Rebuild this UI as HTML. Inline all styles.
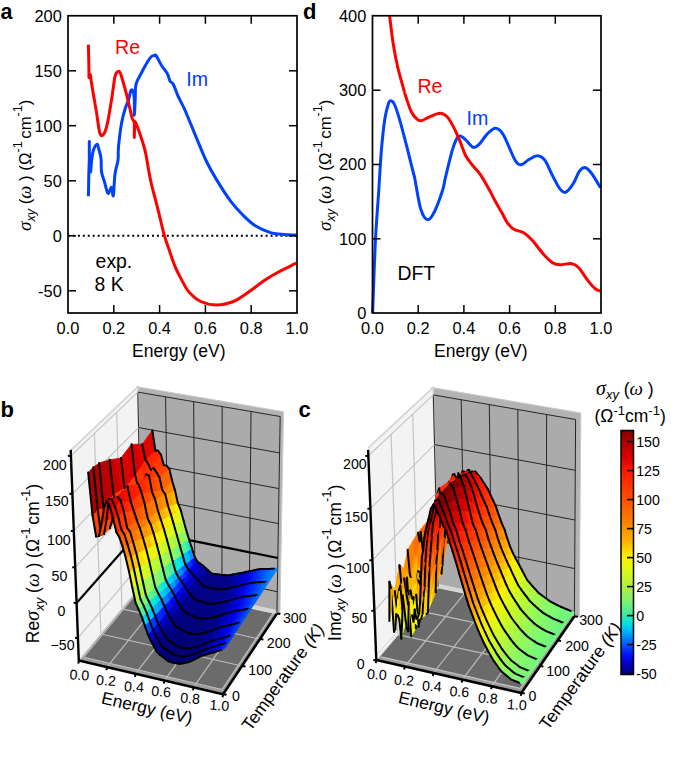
<!DOCTYPE html><html><head><meta charset="utf-8"><style>html,body{margin:0;padding:0;background:#fff;}svg{display:block;font-family:"Liberation Sans",sans-serif;}</style></head><body><svg width="685" height="774" viewBox="0 0 685 774" font-family='Liberation Sans'>
<rect width="685" height="774" fill="#fff"/>
<line x1="68.0" y1="235.75" x2="297.0" y2="235.75" stroke="#000" stroke-width="1.8" stroke-dasharray="2,2.94"/>
<path d="M88.4,196.2 C88.5,192.7 88.7,181.0 88.8,175.0 C88.9,169.0 89.2,165.6 89.3,160.0 C89.4,154.4 89.2,140.7 89.3,141.5 C89.3,142.3 89.4,159.9 89.6,165.0 C89.8,170.1 90.2,172.8 90.5,172.0 C90.8,171.2 91.2,163.7 91.7,160.0 C92.2,156.3 92.6,152.6 93.5,150.0 C94.4,147.4 96.1,144.7 96.9,144.4 C97.7,144.1 97.8,145.7 98.5,148.0 C99.2,150.3 100.5,154.5 101.0,158.4 C101.5,162.3 100.9,167.8 101.5,171.7 C102.1,175.6 103.4,178.4 104.5,182.0 C105.6,185.6 106.8,192.4 108.0,193.3 C109.2,194.2 110.6,187.0 111.5,187.4 C112.4,187.8 112.7,197.8 113.3,195.6 C113.9,193.4 114.2,179.9 115.0,174.0 C115.8,168.1 117.4,164.6 118.0,160.0 C118.6,155.4 117.9,152.8 118.5,146.7 C119.1,140.6 120.4,129.6 121.5,123.4 C122.6,117.2 123.8,113.2 125.0,109.3 C126.2,105.4 127.5,103.1 128.5,100.0 C129.5,96.9 130.0,92.2 130.8,90.7 C131.6,89.2 132.5,89.8 133.1,91.3 C133.7,92.8 134.1,96.0 134.3,100.0 C134.5,104.0 134.2,115.2 134.3,115.2 C134.5,115.2 134.9,105.2 135.2,100.0 C135.5,94.8 134.9,89.0 136.0,84.3 C137.1,79.6 140.0,75.8 141.9,72.0 C143.8,68.2 146.1,64.1 147.7,61.5 C149.3,58.9 150.4,57.5 151.5,56.5 C152.6,55.5 153.7,55.5 154.5,55.4 C155.3,55.3 155.1,54.1 156.3,55.8 C157.5,57.5 159.8,62.7 161.7,65.7 C163.6,68.7 166.1,71.4 167.5,73.9 C168.9,76.4 168.9,79.2 169.9,80.9 C170.9,82.7 172.1,81.9 173.4,84.4 C174.8,86.9 176.2,92.1 178.0,96.0 C179.8,99.9 182.1,103.8 183.9,107.8 C185.8,111.8 187.1,115.2 189.1,120.0 C191.1,124.8 192.9,129.5 195.8,136.3 C198.7,143.1 202.5,153.2 206.3,161.0 C210.1,168.8 214.4,176.2 218.5,182.9 C222.6,189.6 226.7,195.9 230.8,201.3 C234.9,206.7 239.0,211.2 243.1,215.3 C247.2,219.4 250.6,222.9 255.3,225.8 C260.0,228.7 266.1,231.4 271.1,232.9 C276.1,234.4 280.9,234.2 285.1,234.6 C289.3,234.9 294.6,234.9 296.5,235.0" fill="none" stroke="#0040ff" stroke-width="3" stroke-linejoin="round" stroke-linecap="butt"/>
<path d="M88.4,44.6 C88.5,48.5 88.8,62.5 88.9,68.0 C89.0,73.5 88.9,76.5 89.0,77.5 C89.1,78.5 89.3,74.2 89.6,74.0 C89.9,73.8 90.3,75.0 90.6,76.0 C90.8,77.0 90.6,77.0 91.1,80.2 C91.6,83.4 92.6,89.8 93.5,95.0 C94.4,100.2 95.3,105.3 96.4,111.7 C97.5,118.1 98.7,129.6 99.9,133.3 C101.2,137.0 102.7,135.6 103.9,133.9 C105.2,132.2 106.1,129.1 107.4,123.4 C108.7,117.8 110.2,107.8 111.5,100.0 C112.8,92.2 113.9,81.5 115.0,76.7 C116.1,72.0 117.1,72.1 118.0,71.5 C118.9,70.9 119.3,71.0 120.3,73.2 C121.3,75.5 122.7,80.5 124.0,85.0 C125.3,89.5 126.6,94.6 127.9,100.0 C129.2,105.4 131.1,114.0 132.0,117.5 C132.9,121.0 133.2,120.2 133.6,121.0 C134.0,121.8 134.2,119.5 134.3,122.2 C134.4,124.9 134.2,137.1 134.3,137.4 C134.4,137.7 134.5,126.3 134.8,124.0 C135.1,121.7 134.6,120.2 136.0,123.4 C137.4,126.6 141.3,137.9 143.0,143.2 C144.7,148.5 144.8,148.9 146.0,155.0 C147.2,161.1 148.8,171.9 150.5,180.0 C152.2,188.1 154.7,196.4 156.4,203.4 C158.2,210.4 159.7,216.6 161.0,222.0 C162.3,227.4 163.1,231.3 164.5,236.0 C165.9,240.7 167.4,244.9 169.2,250.0 C170.9,255.1 172.9,261.3 175.0,266.4 C177.1,271.5 179.7,276.2 182.0,280.5 C184.3,284.8 185.9,288.6 189.0,292.1 C192.1,295.6 196.0,299.4 200.7,301.5 C205.4,303.6 211.6,305.0 217.1,305.0 C222.6,305.0 228.8,303.2 233.5,301.5 C238.2,299.8 239.7,298.2 245.1,294.5 C250.5,290.8 260.3,283.2 266.2,279.3 C272.1,275.4 275.2,273.8 280.2,271.1 C285.2,268.4 293.6,264.4 296.3,263.0" fill="none" stroke="#ff0000" stroke-width="3" stroke-linejoin="round" stroke-linecap="butt"/>
<rect x="68.0" y="15.75" width="229.0" height="297.25" fill="none" stroke="#000" stroke-width="1.7"/>
<line x1="113.8" y1="313.0" x2="113.8" y2="305.0" stroke="#000" stroke-width="1.5"/>
<line x1="113.8" y1="15.75" x2="113.8" y2="23.75" stroke="#000" stroke-width="1.5"/>
<line x1="159.6" y1="313.0" x2="159.6" y2="305.0" stroke="#000" stroke-width="1.5"/>
<line x1="159.6" y1="15.75" x2="159.6" y2="23.75" stroke="#000" stroke-width="1.5"/>
<line x1="205.4" y1="313.0" x2="205.4" y2="305.0" stroke="#000" stroke-width="1.5"/>
<line x1="205.4" y1="15.75" x2="205.4" y2="23.75" stroke="#000" stroke-width="1.5"/>
<line x1="251.2" y1="313.0" x2="251.2" y2="305.0" stroke="#000" stroke-width="1.5"/>
<line x1="251.2" y1="15.75" x2="251.2" y2="23.75" stroke="#000" stroke-width="1.5"/>
<line x1="68.0" y1="70.8" x2="76.0" y2="70.8" stroke="#000" stroke-width="1.5"/>
<line x1="68.0" y1="125.7" x2="76.0" y2="125.7" stroke="#000" stroke-width="1.5"/>
<line x1="68.0" y1="180.8" x2="76.0" y2="180.8" stroke="#000" stroke-width="1.5"/>
<line x1="68.0" y1="235.8" x2="76.0" y2="235.8" stroke="#000" stroke-width="1.5"/>
<line x1="68.0" y1="290.8" x2="76.0" y2="290.8" stroke="#000" stroke-width="1.5"/>
<line x1="297.0" y1="70.8" x2="289.0" y2="70.8" stroke="#000" stroke-width="1.5"/>
<line x1="297.0" y1="125.7" x2="289.0" y2="125.7" stroke="#000" stroke-width="1.5"/>
<line x1="297.0" y1="180.8" x2="289.0" y2="180.8" stroke="#000" stroke-width="1.5"/>
<line x1="297.0" y1="235.8" x2="289.0" y2="235.8" stroke="#000" stroke-width="1.5"/>
<line x1="297.0" y1="290.8" x2="289.0" y2="290.8" stroke="#000" stroke-width="1.5"/>
<text x="61.8" y="21.6" font-size="16.4" text-anchor="end" fill="#000" >200</text>
<text x="61.8" y="76.7" font-size="16.4" text-anchor="end" fill="#000" >150</text>
<text x="61.8" y="131.6" font-size="16.4" text-anchor="end" fill="#000" >100</text>
<text x="61.8" y="186.7" font-size="16.4" text-anchor="end" fill="#000" >50</text>
<text x="61.8" y="241.7" font-size="16.4" text-anchor="end" fill="#000" >0</text>
<text x="61.8" y="296.6" font-size="16.4" text-anchor="end" fill="#000" >-50</text>
<text x="68.0" y="334.2" font-size="16.4" text-anchor="middle" fill="#000" >0.0</text>
<text x="113.8" y="334.2" font-size="16.4" text-anchor="middle" fill="#000" >0.2</text>
<text x="159.6" y="334.2" font-size="16.4" text-anchor="middle" fill="#000" >0.4</text>
<text x="205.4" y="334.2" font-size="16.4" text-anchor="middle" fill="#000" >0.6</text>
<text x="251.2" y="334.2" font-size="16.4" text-anchor="middle" fill="#000" >0.8</text>
<text x="297.0" y="334.2" font-size="16.4" text-anchor="middle" fill="#000" >1.0</text>
<text x="178.8" y="356.8" font-size="17.5" text-anchor="middle" fill="#000" >Energy (eV)</text>
<text x="115.0" y="54.2" font-size="19.6" text-anchor="start" fill="#ff0000" >Re</text>
<text x="186.2" y="86.3" font-size="19.6" text-anchor="start" fill="#0040ff" >Im</text>
<text x="95.6" y="267.8" font-size="19.4" text-anchor="start" fill="#000" >exp.</text>
<text x="94.6" y="291.0" font-size="19.4" text-anchor="start" fill="#000" >8 K</text>
<path d="M372.6,313.0 C373.1,301.3 374.3,263.1 375.3,242.6 C376.3,222.1 377.8,205.4 378.8,190.0 C379.8,174.6 380.4,162.0 381.4,150.1 C382.4,138.2 383.7,126.2 384.9,118.5 C386.1,110.8 387.4,106.7 388.4,103.7 C389.4,100.7 390.0,100.6 391.0,100.7 C392.0,100.8 393.0,101.2 394.5,104.5 C396.0,107.8 397.8,113.3 399.8,120.3 C401.9,127.3 404.5,137.5 406.8,146.6 C409.1,155.7 412.5,169.4 413.8,174.6 C415.1,179.8 413.5,172.2 414.7,178.0 C415.9,183.8 418.6,202.3 420.8,209.3 C423.0,216.3 425.5,219.5 427.8,219.8 C430.1,220.1 432.3,216.0 434.8,211.0 C437.3,206.0 440.9,195.5 442.7,190.0 C444.4,184.5 443.7,184.8 445.3,178.1 C446.9,171.4 450.4,156.7 452.3,150.1 C454.2,143.5 455.4,141.0 456.7,138.7 C458.0,136.4 458.7,135.9 460.2,136.1 C461.7,136.2 463.3,137.7 465.5,139.6 C467.7,141.5 471.1,146.7 473.4,147.4 C475.7,148.1 477.2,146.2 479.5,143.9 C481.8,141.6 484.6,136.4 487.3,133.8 C490.0,131.2 492.9,128.3 495.5,128.3 C498.1,128.3 500.5,130.6 502.8,133.8 C505.1,137.0 507.1,142.9 509.2,147.4 C511.3,151.9 513.6,158.2 515.6,161.1 C517.6,164.0 518.8,165.1 521.1,164.8 C523.4,164.5 526.6,160.8 529.3,159.3 C532.0,157.8 534.9,155.5 537.5,155.7 C540.1,155.8 542.2,156.7 544.8,160.2 C547.4,163.7 550.4,171.7 553.0,176.6 C555.6,181.5 558.2,186.8 560.3,189.4 C562.4,192.0 563.7,193.1 565.8,192.2 C567.9,191.3 570.8,187.4 573.1,183.9 C575.4,180.4 577.5,173.9 579.5,171.2 C581.5,168.5 582.9,167.2 584.9,167.5 C586.9,167.8 588.7,169.7 591.3,173.0 C593.9,176.3 598.9,185.2 600.4,187.6" fill="none" stroke="#0040ff" stroke-width="3" stroke-linejoin="round"/>
<path d="M389.6,15.8 C390.2,20.7 392.0,36.2 393.4,45.0 C394.8,53.8 396.2,60.9 398.0,68.4 C399.8,75.9 402.7,85.7 403.9,90.0 C405.1,94.3 403.8,90.4 405.0,94.0 C406.2,97.6 409.1,107.3 411.2,111.5 C413.2,115.7 415.6,117.9 417.3,119.4 C419.1,120.9 419.6,121.0 421.7,120.6 C423.8,120.2 426.5,118.0 429.6,116.8 C432.7,115.6 437.2,113.3 440.1,113.3 C443.0,113.3 444.9,114.6 447.1,116.8 C449.3,119.0 451.2,122.6 453.2,126.4 C455.2,130.2 457.2,134.8 459.3,139.6 C461.4,144.4 463.4,151.2 465.5,155.3 C467.6,159.4 469.1,160.9 471.6,164.1 C474.1,167.3 477.5,170.4 480.4,174.6 C483.3,178.8 486.7,185.2 489.1,189.4 C491.5,193.6 492.5,196.1 494.6,200.0 C496.7,203.9 499.8,209.0 501.9,212.8 C504.0,216.6 505.4,220.1 507.4,222.8 C509.4,225.5 511.1,227.5 513.8,229.2 C516.5,230.9 520.6,230.8 523.8,232.8 C527.0,234.8 529.5,237.4 532.9,241.1 C536.2,244.8 540.5,251.0 543.9,254.7 C547.2,258.3 550.3,261.3 553.0,263.0 C555.7,264.7 557.3,264.7 560.3,264.8 C563.3,264.9 568.2,263.1 571.2,263.5 C574.2,263.9 575.8,264.7 578.5,267.5 C581.2,270.3 585.0,276.8 587.7,280.3 C590.5,283.8 592.9,286.7 595.0,288.5 C597.1,290.3 599.5,290.8 600.4,291.2" fill="none" stroke="#ff0000" stroke-width="3" stroke-linejoin="round"/>
<rect x="372.5" y="15.75" width="228.5" height="297.25" fill="none" stroke="#000" stroke-width="1.7"/>
<line x1="418.2" y1="313.0" x2="418.2" y2="305.0" stroke="#000" stroke-width="1.5"/>
<line x1="418.2" y1="15.75" x2="418.2" y2="23.75" stroke="#000" stroke-width="1.5"/>
<line x1="463.9" y1="313.0" x2="463.9" y2="305.0" stroke="#000" stroke-width="1.5"/>
<line x1="463.9" y1="15.75" x2="463.9" y2="23.75" stroke="#000" stroke-width="1.5"/>
<line x1="509.6" y1="313.0" x2="509.6" y2="305.0" stroke="#000" stroke-width="1.5"/>
<line x1="509.6" y1="15.75" x2="509.6" y2="23.75" stroke="#000" stroke-width="1.5"/>
<line x1="555.3" y1="313.0" x2="555.3" y2="305.0" stroke="#000" stroke-width="1.5"/>
<line x1="555.3" y1="15.75" x2="555.3" y2="23.75" stroke="#000" stroke-width="1.5"/>
<line x1="372.5" y1="90.2" x2="380.5" y2="90.2" stroke="#000" stroke-width="1.5"/>
<line x1="372.5" y1="164.5" x2="380.5" y2="164.5" stroke="#000" stroke-width="1.5"/>
<line x1="372.5" y1="238.8" x2="380.5" y2="238.8" stroke="#000" stroke-width="1.5"/>
<line x1="601.0" y1="90.2" x2="593.0" y2="90.2" stroke="#000" stroke-width="1.5"/>
<line x1="601.0" y1="164.5" x2="593.0" y2="164.5" stroke="#000" stroke-width="1.5"/>
<line x1="601.0" y1="238.8" x2="593.0" y2="238.8" stroke="#000" stroke-width="1.5"/>
<text x="366.3" y="21.9" font-size="16.4" text-anchor="end" fill="#000" >400</text>
<text x="366.3" y="96.1" font-size="16.4" text-anchor="end" fill="#000" >300</text>
<text x="366.3" y="170.4" font-size="16.4" text-anchor="end" fill="#000" >200</text>
<text x="366.3" y="244.7" font-size="16.4" text-anchor="end" fill="#000" >100</text>
<text x="366.3" y="318.9" font-size="16.4" text-anchor="end" fill="#000" >0</text>
<text x="372.5" y="334.2" font-size="16.4" text-anchor="middle" fill="#000" >0.0</text>
<text x="418.2" y="334.2" font-size="16.4" text-anchor="middle" fill="#000" >0.2</text>
<text x="463.9" y="334.2" font-size="16.4" text-anchor="middle" fill="#000" >0.4</text>
<text x="509.6" y="334.2" font-size="16.4" text-anchor="middle" fill="#000" >0.6</text>
<text x="555.3" y="334.2" font-size="16.4" text-anchor="middle" fill="#000" >0.8</text>
<text x="601.0" y="334.2" font-size="16.4" text-anchor="middle" fill="#000" >1.0</text>
<text x="480.8" y="356.8" font-size="17.5" text-anchor="middle" fill="#000" >Energy (eV)</text>
<text x="417.4" y="92.5" font-size="19.6" text-anchor="start" fill="#ff0000" >Re</text>
<text x="466.5" y="124.9" font-size="19.6" text-anchor="start" fill="#0040ff" >Im</text>
<text x="397.5" y="280.2" font-size="19.4" text-anchor="start" fill="#000" >DFT</text>
<text x="0.4" y="19.4" font-size="21.5" font-weight="bold">a</text>
<text x="303" y="19.4" font-size="22" font-weight="bold">d</text>
<text transform="translate(30.8,165.3) rotate(-90)" text-anchor="middle" font-size="16.8"><tspan font-family='Liberation Serif' font-style="italic" font-size="19.3">σ</tspan><tspan font-style="italic" font-size="12.6" dy="4.1">xy</tspan><tspan dy="-4.1"> (</tspan><tspan font-family='Liberation Serif' font-style="italic" font-size="18.5">ω</tspan><tspan> ) (Ω</tspan><tspan font-size="12.6" dy="-9.2">-1</tspan><tspan dy="9.2" dx="2.6">cm</tspan><tspan font-size="12.6" dy="-9.2">-1</tspan><tspan dy="9.2">)</tspan></text>
<text transform="translate(331.0,165.3) rotate(-90)" text-anchor="middle" font-size="16.8"><tspan font-family='Liberation Serif' font-style="italic" font-size="19.3">σ</tspan><tspan font-style="italic" font-size="12.6" dy="4.1">xy</tspan><tspan dy="-4.1"> (</tspan><tspan font-family='Liberation Serif' font-style="italic" font-size="18.5">ω</tspan><tspan> ) (Ω</tspan><tspan font-size="12.6" dy="-9.2">-1</tspan><tspan dy="9.2" dx="2.6">cm</tspan><tspan font-size="12.6" dy="-9.2">-1</tspan><tspan dy="9.2">)</tspan></text>
<polygon points="140.2,584.4 279.9,614.3 283.5,411.7 136.1,386.6" fill="#b3b3b3"/>
<polygon points="141.8,584.8 276.9,613.6 280.2,416.5 137.8,392.1" fill="#ababab"/>
<polyline points="136.1,386.6 283.5,411.7 279.9,614.3" fill="none" stroke="#c8c8c8" stroke-width="1"/>
<polygon points="78.8,660.6 141.8,584.8 137.7,386.8 70.7,450.3" fill="#f3f3f3"/>
<polyline points="70.7,450.3 137.7,386.8 141.8,584.8" fill="none" stroke="#d4d4d4" stroke-width="1.6"/>
<polygon points="78.8,660.6 223.1,694.3 276.9,613.6 141.8,584.8" fill="#6b6b6b"/>
<polygon points="78.8,660.6 223.1,694.3 225.8,690.4 81.9,656.9" fill="#9a9a9a"/>
<polygon points="219.4,693.4 223.1,694.3 276.9,613.6 273.4,612.9" fill="#9a9a9a"/>
<polyline points="83.6,657.3 222.0,689.5 273.4,612.9" fill="none" stroke="#c4c4c4" stroke-width="1.1"/>
<polygon points="141.8,584.8 276.9,613.6 276.9,609.9 141.7,581.1" fill="#d6d6d6"/>
<polyline points="83.6,657.3 143.4,585.1" fill="none" stroke="#bdbdbd" stroke-width="1.1"/>
<line x1="141.8" y1="584.8" x2="137.8" y2="392.1" stroke="#262626" stroke-width="1"/>
<line x1="168.2" y1="590.4" x2="165.6" y2="396.9" stroke="#262626" stroke-width="1"/>
<line x1="194.9" y1="596.1" x2="193.7" y2="401.7" stroke="#262626" stroke-width="1"/>
<line x1="221.9" y1="601.9" x2="222.2" y2="406.6" stroke="#262626" stroke-width="1"/>
<line x1="249.2" y1="607.7" x2="251.0" y2="411.5" stroke="#262626" stroke-width="1"/>
<line x1="276.9" y1="613.6" x2="280.2" y2="416.5" stroke="#262626" stroke-width="1"/>
<line x1="141.3" y1="563.3" x2="277.2" y2="591.7" stroke="#262626" stroke-width="1"/>
<line x1="140.0" y1="496.7" x2="278.4" y2="523.6" stroke="#262626" stroke-width="1"/>
<line x1="139.3" y1="462.5" x2="279.0" y2="488.6" stroke="#262626" stroke-width="1"/>
<line x1="138.6" y1="427.6" x2="279.6" y2="452.9" stroke="#262626" stroke-width="1"/>
<line x1="137.8" y1="392.1" x2="280.2" y2="416.5" stroke="#262626" stroke-width="1"/>
<line x1="100.9" y1="634.0" x2="94.4" y2="433.5" stroke="#c4c4c4" stroke-width="1.2"/>
<line x1="121.9" y1="608.8" x2="116.7" y2="412.3" stroke="#c4c4c4" stroke-width="1.2"/>
<line x1="78.0" y1="637.9" x2="141.3" y2="563.3" stroke="#c4c4c4" stroke-width="1.2"/>
<line x1="75.2" y1="567.3" x2="140.0" y2="496.7" stroke="#c4c4c4" stroke-width="1.2"/>
<line x1="73.8" y1="530.9" x2="139.3" y2="462.5" stroke="#c4c4c4" stroke-width="1.2"/>
<line x1="72.4" y1="493.8" x2="138.6" y2="427.6" stroke="#c4c4c4" stroke-width="1.2"/>
<line x1="70.9" y1="455.9" x2="137.8" y2="392.1" stroke="#c4c4c4" stroke-width="1.2"/>
<line x1="107.0" y1="667.2" x2="168.2" y2="590.4" stroke="#bcbcbc" stroke-width="1.2"/>
<line x1="135.5" y1="673.8" x2="194.9" y2="596.1" stroke="#bcbcbc" stroke-width="1.2"/>
<line x1="164.3" y1="680.6" x2="221.9" y2="601.9" stroke="#bcbcbc" stroke-width="1.2"/>
<line x1="193.5" y1="687.4" x2="249.2" y2="607.7" stroke="#bcbcbc" stroke-width="1.2"/>
<line x1="100.9" y1="634.0" x2="242.0" y2="666.0" stroke="#bcbcbc" stroke-width="1.2"/>
<line x1="121.9" y1="608.8" x2="259.9" y2="639.1" stroke="#bcbcbc" stroke-width="1.2"/>
<polyline points="78.8,660.6 141.8,584.8 276.9,613.6" fill="none" stroke="#d8d8d8" stroke-width="1.4"/>
<polyline points="80.2,659.9 223.0,693.3 275.7,614.2" fill="none" stroke="#a8a8a8" stroke-width="1.2"/>
<polyline points="76.6,602.9 140.7,530.3 277.8,558.0" fill="none" stroke="#000" stroke-width="2.2"/>
<polygon points="190.0,560.4 192.7,565.6 197.4,561.8 194.6,556.7" fill="#0014f3" stroke="#0014f3" stroke-width="0.7" stroke-linejoin="round"/>
<line x1="194.6" y1="556.7" x2="197.4" y2="561.8" stroke="#000" stroke-width="2.0" stroke-linecap="round"/>
<polygon points="192.7,565.6 195.5,567.8 200.1,563.5 197.4,561.8" fill="#0000d6" stroke="#0000d6" stroke-width="0.7" stroke-linejoin="round"/>
<line x1="197.4" y1="561.8" x2="200.1" y2="563.5" stroke="#000" stroke-width="2.0" stroke-linecap="round"/>
<polygon points="195.5,567.8 198.2,570.3 202.8,565.5 200.1,563.5" fill="#0000c3" stroke="#0000c3" stroke-width="0.7" stroke-linejoin="round"/>
<line x1="200.1" y1="563.5" x2="202.8" y2="565.5" stroke="#000" stroke-width="2.0" stroke-linecap="round"/>
<polygon points="187.2,551.3 190.0,560.4 194.6,556.7 191.9,548.2" fill="#0094fe" stroke="#0094fe" stroke-width="0.7" stroke-linejoin="round"/>
<line x1="191.9" y1="548.2" x2="194.6" y2="556.7" stroke="#000" stroke-width="2.0" stroke-linecap="round"/>
<polygon points="198.2,570.3 201.0,573.2 205.5,568.0 202.8,565.5" fill="#0000ae" stroke="#0000ae" stroke-width="0.7" stroke-linejoin="round"/>
<line x1="202.8" y1="565.5" x2="205.5" y2="568.0" stroke="#000" stroke-width="2.0" stroke-linecap="round"/>
<polygon points="201.0,573.2 203.7,576.1 208.3,570.4 205.5,568.0" fill="#00009a" stroke="#00009a" stroke-width="0.7" stroke-linejoin="round"/>
<line x1="205.5" y1="568.0" x2="208.3" y2="570.4" stroke="#000" stroke-width="2.0" stroke-linecap="round"/>
<polygon points="203.7,576.1 206.4,578.8 211.0,572.9 208.3,570.4" fill="#00008b" stroke="#00008b" stroke-width="0.7" stroke-linejoin="round"/>
<line x1="208.3" y1="570.4" x2="211.0" y2="572.9" stroke="#000" stroke-width="2.0" stroke-linecap="round"/>
<polygon points="184.4,542.1 187.2,551.3 191.9,548.2 189.1,539.6" fill="#1fedc4" stroke="#1fedc4" stroke-width="0.7" stroke-linejoin="round"/>
<line x1="189.1" y1="539.6" x2="191.9" y2="548.2" stroke="#000" stroke-width="2.0" stroke-linecap="round"/>
<polygon points="206.4,578.8 209.2,580.3 213.7,574.1 211.0,572.9" fill="#000087" stroke="#000087" stroke-width="0.7" stroke-linejoin="round"/>
<line x1="211.0" y1="572.9" x2="213.7" y2="574.1" stroke="#000" stroke-width="2.0" stroke-linecap="round"/>
<polygon points="181.5,532.6 184.4,542.1 189.1,539.6 186.3,530.4" fill="#86fa6a" stroke="#86fa6a" stroke-width="0.7" stroke-linejoin="round"/>
<line x1="186.3" y1="530.4" x2="189.1" y2="539.6" stroke="#000" stroke-width="2.0" stroke-linecap="round"/>
<polygon points="209.2,580.3 211.9,580.8 216.5,574.3 213.7,574.1" fill="#000087" stroke="#000087" stroke-width="0.7" stroke-linejoin="round"/>
<line x1="213.7" y1="574.1" x2="216.5" y2="574.3" stroke="#000" stroke-width="2.0" stroke-linecap="round"/>
<polygon points="211.9,580.8 214.7,581.2 219.2,574.6 216.5,574.3" fill="#000087" stroke="#000087" stroke-width="0.7" stroke-linejoin="round"/>
<line x1="216.5" y1="574.3" x2="219.2" y2="574.6" stroke="#000" stroke-width="2.0" stroke-linecap="round"/>
<polygon points="178.7,522.5 181.5,532.6 186.3,530.4 183.5,520.5" fill="#b3fa3e" stroke="#b3fa3e" stroke-width="0.7" stroke-linejoin="round"/>
<line x1="183.5" y1="520.5" x2="186.3" y2="530.4" stroke="#000" stroke-width="2.0" stroke-linecap="round"/>
<polygon points="214.7,581.2 217.4,581.6 221.9,574.9 219.2,574.6" fill="#000088" stroke="#000088" stroke-width="0.7" stroke-linejoin="round"/>
<line x1="219.2" y1="574.6" x2="221.9" y2="574.9" stroke="#000" stroke-width="2.0" stroke-linecap="round"/>
<polygon points="175.9,512.5 178.7,522.5 183.5,520.5 180.7,510.1" fill="#ddf91a" stroke="#ddf91a" stroke-width="0.7" stroke-linejoin="round"/>
<line x1="180.7" y1="510.1" x2="183.5" y2="520.5" stroke="#000" stroke-width="2.0" stroke-linecap="round"/>
<polygon points="217.4,581.6 220.2,582.0 224.7,575.1 221.9,574.9" fill="#000088" stroke="#000088" stroke-width="0.7" stroke-linejoin="round"/>
<line x1="221.9" y1="574.9" x2="224.7" y2="575.1" stroke="#000" stroke-width="2.0" stroke-linecap="round"/>
<polygon points="173.0,504.6 175.9,512.5 180.7,510.1 177.9,503.2" fill="#fdf001" stroke="#fdf001" stroke-width="0.7" stroke-linejoin="round"/>
<line x1="177.9" y1="503.2" x2="180.7" y2="510.1" stroke="#000" stroke-width="2.0" stroke-linecap="round"/>
<polygon points="220.2,582.0 222.9,582.4 227.4,575.4 224.7,575.1" fill="#000089" stroke="#000089" stroke-width="0.7" stroke-linejoin="round"/>
<line x1="224.7" y1="575.1" x2="227.4" y2="575.4" stroke="#000" stroke-width="2.0" stroke-linecap="round"/>
<polygon points="170.1,492.3 173.0,504.6 177.9,503.2 175.0,490.4" fill="#ffb500" stroke="#ffb500" stroke-width="0.7" stroke-linejoin="round"/>
<line x1="175.0" y1="490.4" x2="177.9" y2="503.2" stroke="#000" stroke-width="2.0" stroke-linecap="round"/>
<polygon points="222.9,582.4 225.7,582.1 230.2,575.1 227.4,575.4" fill="#00008a" stroke="#00008a" stroke-width="0.7" stroke-linejoin="round"/>
<line x1="227.4" y1="575.4" x2="230.2" y2="575.1" stroke="#000" stroke-width="2.0" stroke-linecap="round"/>
<polygon points="225.7,582.1 228.5,581.7 232.9,574.6 230.2,575.1" fill="#00008d" stroke="#00008d" stroke-width="0.7" stroke-linejoin="round"/>
<line x1="230.2" y1="575.1" x2="232.9" y2="574.6" stroke="#000" stroke-width="2.0" stroke-linecap="round"/>
<polygon points="167.3,485.5 170.1,492.3 175.0,490.4 172.2,481.1" fill="#ff8a00" stroke="#ff8a00" stroke-width="0.7" stroke-linejoin="round"/>
<line x1="172.2" y1="481.1" x2="175.0" y2="490.4" stroke="#000" stroke-width="2.0" stroke-linecap="round"/>
<polygon points="185.2,564.1 188.0,569.4 192.7,565.6 190.0,560.4" fill="#0035ff" stroke="#0035ff" stroke-width="0.7" stroke-linejoin="round"/>
<polygon points="188.0,569.4 190.8,572.0 195.5,567.8 192.7,565.6" fill="#0003ec" stroke="#0003ec" stroke-width="0.7" stroke-linejoin="round"/>
<polygon points="150.3,455.1 153.1,457.3 158.1,450.8 155.4,450.6" fill="#ff1f00" stroke="#ff1f00" stroke-width="0.7" stroke-linejoin="round"/>
<line x1="155.4" y1="450.6" x2="158.1" y2="450.8" stroke="#000" stroke-width="2.0" stroke-linecap="round"/>
<polygon points="228.5,581.7 231.2,581.2 235.7,574.0 232.9,574.6" fill="#000098" stroke="#000098" stroke-width="0.7" stroke-linejoin="round"/>
<line x1="232.9" y1="574.6" x2="235.7" y2="574.0" stroke="#000" stroke-width="2.0" stroke-linecap="round"/>
<polygon points="156.0,462.5 158.8,466.8 163.8,465.3 160.9,454.8" fill="#ff3800" stroke="#ff3800" stroke-width="0.7" stroke-linejoin="round"/>
<line x1="160.9" y1="454.8" x2="163.8" y2="465.3" stroke="#000" stroke-width="2.0" stroke-linecap="round"/>
<polygon points="190.8,572.0 193.5,575.1 198.2,570.3 195.5,567.8" fill="#0000d4" stroke="#0000d4" stroke-width="0.7" stroke-linejoin="round"/>
<polygon points="164.4,473.0 167.3,485.5 172.2,481.1 169.3,468.9" fill="#ff6600" stroke="#ff6600" stroke-width="0.7" stroke-linejoin="round"/>
<line x1="169.3" y1="468.9" x2="172.2" y2="481.1" stroke="#000" stroke-width="2.0" stroke-linecap="round"/>
<polygon points="158.8,466.8 161.6,469.0 166.5,465.7 163.8,465.3" fill="#ff4500" stroke="#ff4500" stroke-width="0.7" stroke-linejoin="round"/>
<line x1="163.8" y1="465.3" x2="166.5" y2="465.7" stroke="#000" stroke-width="2.0" stroke-linecap="round"/>
<polygon points="153.1,457.3 156.0,462.5 160.9,454.8 158.1,450.8" fill="#ff2700" stroke="#ff2700" stroke-width="0.7" stroke-linejoin="round"/>
<line x1="158.1" y1="450.8" x2="160.9" y2="454.8" stroke="#000" stroke-width="2.0" stroke-linecap="round"/>
<polygon points="182.4,554.5 185.2,564.1 190.0,560.4 187.2,551.3" fill="#00befb" stroke="#00befb" stroke-width="0.7" stroke-linejoin="round"/>
<polygon points="193.5,575.1 196.3,578.6 201.0,573.2 198.2,570.3" fill="#0000b7" stroke="#0000b7" stroke-width="0.7" stroke-linejoin="round"/>
<polygon points="196.3,578.6 199.1,581.7 203.7,576.1 201.0,573.2" fill="#00009e" stroke="#00009e" stroke-width="0.7" stroke-linejoin="round"/>
<polygon points="147.3,437.3 150.3,455.1 155.4,450.6 152.3,430.5" fill="#de0400" stroke="#de0400" stroke-width="0.7" stroke-linejoin="round"/>
<polygon points="161.6,469.0 164.4,473.0 169.3,468.9 166.5,465.7" fill="#ff4b00" stroke="#ff4b00" stroke-width="0.7" stroke-linejoin="round"/>
<line x1="152.3" y1="430.5" x2="155.4" y2="450.6" stroke="#000" stroke-width="2.0" stroke-linecap="round"/>
<line x1="166.5" y1="465.7" x2="169.3" y2="468.9" stroke="#000" stroke-width="2.0" stroke-linecap="round"/>
<polygon points="199.1,581.7 201.8,584.7 206.4,578.8 203.7,576.1" fill="#00008b" stroke="#00008b" stroke-width="0.7" stroke-linejoin="round"/>
<polygon points="231.2,581.2 234.0,580.6 238.4,573.5 235.7,574.0" fill="#0000a2" stroke="#0000a2" stroke-width="0.7" stroke-linejoin="round"/>
<line x1="235.7" y1="574.0" x2="238.4" y2="573.5" stroke="#000" stroke-width="2.0" stroke-linecap="round"/>
<polygon points="201.8,584.7 204.6,586.6 209.2,580.3 206.4,578.8" fill="#000087" stroke="#000087" stroke-width="0.7" stroke-linejoin="round"/>
<polygon points="179.6,544.7 182.4,554.5 187.2,551.3 184.4,542.1" fill="#58f290" stroke="#58f290" stroke-width="0.7" stroke-linejoin="round"/>
<polygon points="204.6,586.6 207.4,587.3 211.9,580.8 209.2,580.3" fill="#000086" stroke="#000086" stroke-width="0.7" stroke-linejoin="round"/>
<polygon points="234.0,580.6 236.8,580.1 241.2,572.9 238.4,573.5" fill="#0000ad" stroke="#0000ad" stroke-width="0.7" stroke-linejoin="round"/>
<line x1="238.4" y1="573.5" x2="241.2" y2="572.9" stroke="#000" stroke-width="2.0" stroke-linecap="round"/>
<polygon points="176.7,534.8 179.6,544.7 184.4,542.1 181.5,532.6" fill="#97fa59" stroke="#97fa59" stroke-width="0.7" stroke-linejoin="round"/>
<polygon points="207.4,587.3 210.1,587.8 214.7,581.2 211.9,580.8" fill="#000086" stroke="#000086" stroke-width="0.7" stroke-linejoin="round"/>
<polygon points="236.8,580.1 239.6,579.5 244.0,572.4 241.2,572.9" fill="#0000b8" stroke="#0000b8" stroke-width="0.7" stroke-linejoin="round"/>
<line x1="241.2" y1="572.9" x2="244.0" y2="572.4" stroke="#000" stroke-width="2.0" stroke-linecap="round"/>
<polygon points="210.1,587.8 212.9,588.4 217.4,581.6 214.7,581.2" fill="#000086" stroke="#000086" stroke-width="0.7" stroke-linejoin="round"/>
<polygon points="173.8,524.6 176.7,534.8 181.5,532.6 178.7,522.5" fill="#c3fa30" stroke="#c3fa30" stroke-width="0.7" stroke-linejoin="round"/>
<polygon points="239.6,579.5 242.4,578.9 246.8,571.8 244.0,572.4" fill="#0000c6" stroke="#0000c6" stroke-width="0.7" stroke-linejoin="round"/>
<line x1="244.0" y1="572.4" x2="246.8" y2="571.8" stroke="#000" stroke-width="2.0" stroke-linecap="round"/>
<polygon points="212.9,588.4 215.6,589.0 220.2,582.0 217.4,581.6" fill="#000086" stroke="#000086" stroke-width="0.7" stroke-linejoin="round"/>
<polygon points="171.0,514.9 173.8,524.6 178.7,522.5 175.9,512.5" fill="#eaf510" stroke="#eaf510" stroke-width="0.7" stroke-linejoin="round"/>
<polygon points="242.4,578.9 245.2,578.3 249.6,571.2 246.8,571.8" fill="#0000d4" stroke="#0000d4" stroke-width="0.7" stroke-linejoin="round"/>
<line x1="246.8" y1="571.8" x2="249.6" y2="571.2" stroke="#000" stroke-width="2.0" stroke-linecap="round"/>
<polygon points="215.6,589.0 218.4,589.4 222.9,582.4 220.2,582.0" fill="#000087" stroke="#000087" stroke-width="0.7" stroke-linejoin="round"/>
<polygon points="168.1,506.0 171.0,514.9 175.9,512.5 173.0,504.6" fill="#ffda00" stroke="#ffda00" stroke-width="0.7" stroke-linejoin="round"/>
<polygon points="218.4,589.4 221.2,589.2 225.7,582.1 222.9,582.4" fill="#000088" stroke="#000088" stroke-width="0.7" stroke-linejoin="round"/>
<polygon points="245.2,578.3 248.0,577.6 252.3,570.7 249.6,571.2" fill="#0000e3" stroke="#0000e3" stroke-width="0.7" stroke-linejoin="round"/>
<line x1="249.6" y1="571.2" x2="252.3" y2="570.7" stroke="#000" stroke-width="2.0" stroke-linecap="round"/>
<polygon points="165.2,494.2 168.1,506.0 173.0,504.6 170.1,492.3" fill="#ffa300" stroke="#ffa300" stroke-width="0.7" stroke-linejoin="round"/>
<polygon points="221.2,589.2 224.0,588.9 228.5,581.7 225.7,582.1" fill="#00008a" stroke="#00008a" stroke-width="0.7" stroke-linejoin="round"/>
<polygon points="248.0,577.6 250.8,577.0 255.1,570.1 252.3,570.7" fill="#0008ee" stroke="#0008ee" stroke-width="0.7" stroke-linejoin="round"/>
<line x1="252.3" y1="570.7" x2="255.1" y2="570.1" stroke="#000" stroke-width="2.0" stroke-linecap="round"/>
<polygon points="162.3,490.0 165.2,494.2 170.1,492.3 167.3,485.5" fill="#ff8100" stroke="#ff8100" stroke-width="0.7" stroke-linejoin="round"/>
<polygon points="224.0,588.9 226.8,588.5 231.2,581.2 228.5,581.7" fill="#00008c" stroke="#00008c" stroke-width="0.7" stroke-linejoin="round"/>
<polygon points="145.3,459.6 148.1,463.8 153.1,457.3 150.3,455.1" fill="#ff2000" stroke="#ff2000" stroke-width="0.7" stroke-linejoin="round"/>
<polygon points="250.8,577.0 253.6,576.4 257.9,569.5 255.1,570.1" fill="#001af5" stroke="#001af5" stroke-width="0.7" stroke-linejoin="round"/>
<line x1="255.1" y1="570.1" x2="257.9" y2="569.5" stroke="#000" stroke-width="2.0" stroke-linecap="round"/>
<polygon points="148.1,463.8 151.0,470.2 156.0,462.5 153.1,457.3" fill="#ff2c00" stroke="#ff2c00" stroke-width="0.7" stroke-linejoin="round"/>
<polygon points="180.4,567.8 183.2,573.3 188.0,569.4 185.2,564.1" fill="#0068ff" stroke="#0068ff" stroke-width="0.7" stroke-linejoin="round"/>
<line x1="185.2" y1="564.1" x2="188.0" y2="569.4" stroke="#000" stroke-width="2.0" stroke-linecap="round"/>
<polygon points="183.2,573.3 186.0,576.4 190.8,572.0 188.0,569.4" fill="#001ff7" stroke="#001ff7" stroke-width="0.7" stroke-linejoin="round"/>
<line x1="188.0" y1="569.4" x2="190.8" y2="572.0" stroke="#000" stroke-width="2.0" stroke-linecap="round"/>
<polygon points="151.0,470.2 153.7,468.3 158.8,466.8 156.0,462.5" fill="#ff3600" stroke="#ff3600" stroke-width="0.7" stroke-linejoin="round"/>
<polygon points="159.4,477.2 162.3,490.0 167.3,485.5 164.4,473.0" fill="#ff6200" stroke="#ff6200" stroke-width="0.7" stroke-linejoin="round"/>
<polygon points="186.0,576.4 188.8,580.0 193.5,575.1 190.8,572.0" fill="#0000e6" stroke="#0000e6" stroke-width="0.7" stroke-linejoin="round"/>
<line x1="190.8" y1="572.0" x2="193.5" y2="575.1" stroke="#000" stroke-width="2.0" stroke-linecap="round"/>
<polygon points="188.8,580.0 191.6,584.0 196.3,578.6 193.5,575.1" fill="#0000c1" stroke="#0000c1" stroke-width="0.7" stroke-linejoin="round"/>
<line x1="193.5" y1="575.1" x2="196.3" y2="578.6" stroke="#000" stroke-width="2.0" stroke-linecap="round"/>
<polygon points="191.6,584.0 194.4,587.5 199.1,581.7 196.3,578.6" fill="#0000a3" stroke="#0000a3" stroke-width="0.7" stroke-linejoin="round"/>
<polygon points="142.2,444.2 145.3,459.6 150.3,455.1 147.3,437.3" fill="#e00500" stroke="#e00500" stroke-width="0.7" stroke-linejoin="round"/>
<line x1="196.3" y1="578.6" x2="199.1" y2="581.7" stroke="#000" stroke-width="2.0" stroke-linecap="round"/>
<polygon points="226.8,588.5 229.6,587.9 234.0,580.6 231.2,581.2" fill="#000097" stroke="#000097" stroke-width="0.7" stroke-linejoin="round"/>
<polygon points="153.7,468.3 156.5,472.4 161.6,469.0 158.8,466.8" fill="#ff3b00" stroke="#ff3b00" stroke-width="0.7" stroke-linejoin="round"/>
<polygon points="253.6,576.4 256.4,575.8 260.7,569.0 257.9,569.5" fill="#002afc" stroke="#002afc" stroke-width="0.7" stroke-linejoin="round"/>
<line x1="257.9" y1="569.5" x2="260.7" y2="569.0" stroke="#000" stroke-width="2.0" stroke-linecap="round"/>
<polygon points="194.4,587.5 197.2,590.7 201.8,584.7 199.1,581.7" fill="#00008b" stroke="#00008b" stroke-width="0.7" stroke-linejoin="round"/>
<polygon points="177.6,557.7 180.4,567.8 185.2,564.1 182.4,554.5" fill="#00d8ee" stroke="#00d8ee" stroke-width="0.7" stroke-linejoin="round"/>
<line x1="199.1" y1="581.7" x2="201.8" y2="584.7" stroke="#000" stroke-width="2.0" stroke-linecap="round"/>
<line x1="182.4" y1="554.5" x2="185.2" y2="564.1" stroke="#000" stroke-width="2.0" stroke-linecap="round"/>
<polygon points="156.5,472.4 159.4,477.2 164.4,473.0 161.6,469.0" fill="#ff4600" stroke="#ff4600" stroke-width="0.7" stroke-linejoin="round"/>
<polygon points="197.2,590.7 199.9,592.9 204.6,586.6 201.8,584.7" fill="#000087" stroke="#000087" stroke-width="0.7" stroke-linejoin="round"/>
<line x1="201.8" y1="584.7" x2="204.6" y2="586.6" stroke="#000" stroke-width="2.0" stroke-linecap="round"/>
<polygon points="256.4,575.8 259.3,575.7 263.5,569.0 260.7,569.0" fill="#003bff" stroke="#003bff" stroke-width="0.7" stroke-linejoin="round"/>
<line x1="260.7" y1="569.0" x2="263.5" y2="569.0" stroke="#000" stroke-width="2.0" stroke-linecap="round"/>
<polygon points="229.6,587.9 232.4,587.3 236.8,580.1 234.0,580.6" fill="#0000a2" stroke="#0000a2" stroke-width="0.7" stroke-linejoin="round"/>
<polygon points="199.9,592.9 202.7,593.9 207.4,587.3 204.6,586.6" fill="#000085" stroke="#000085" stroke-width="0.7" stroke-linejoin="round"/>
<line x1="204.6" y1="586.6" x2="207.4" y2="587.3" stroke="#000" stroke-width="2.0" stroke-linecap="round"/>
<polygon points="174.7,547.4 177.6,557.7 182.4,554.5 179.6,544.7" fill="#72f77b" stroke="#72f77b" stroke-width="0.7" stroke-linejoin="round"/>
<line x1="179.6" y1="544.7" x2="182.4" y2="554.5" stroke="#000" stroke-width="2.0" stroke-linecap="round"/>
<polygon points="202.7,593.9 205.5,594.6 210.1,587.8 207.4,587.3" fill="#000085" stroke="#000085" stroke-width="0.7" stroke-linejoin="round"/>
<line x1="207.4" y1="587.3" x2="210.1" y2="587.8" stroke="#000" stroke-width="2.0" stroke-linecap="round"/>
<polygon points="259.3,575.7 262.1,575.6 266.4,568.9 263.5,569.0" fill="#004aff" stroke="#004aff" stroke-width="0.7" stroke-linejoin="round"/>
<line x1="263.5" y1="569.0" x2="266.4" y2="568.9" stroke="#000" stroke-width="2.0" stroke-linecap="round"/>
<polygon points="232.4,587.3 235.2,586.8 239.6,579.5 236.8,580.1" fill="#0000ad" stroke="#0000ad" stroke-width="0.7" stroke-linejoin="round"/>
<polygon points="171.8,537.0 174.7,547.4 179.6,544.7 176.7,534.8" fill="#a8fa48" stroke="#a8fa48" stroke-width="0.7" stroke-linejoin="round"/>
<line x1="176.7" y1="534.8" x2="179.6" y2="544.7" stroke="#000" stroke-width="2.0" stroke-linecap="round"/>
<polygon points="205.5,594.6 208.3,595.3 212.9,588.4 210.1,587.8" fill="#000085" stroke="#000085" stroke-width="0.7" stroke-linejoin="round"/>
<line x1="210.1" y1="587.8" x2="212.9" y2="588.4" stroke="#000" stroke-width="2.0" stroke-linecap="round"/>
<polygon points="262.1,575.6 264.9,575.5 269.2,568.9 266.4,568.9" fill="#005aff" stroke="#005aff" stroke-width="0.7" stroke-linejoin="round"/>
<line x1="266.4" y1="568.9" x2="269.2" y2="568.9" stroke="#000" stroke-width="2.0" stroke-linecap="round"/>
<polygon points="235.2,586.8 238.0,586.1 242.4,578.9 239.6,579.5" fill="#0000b8" stroke="#0000b8" stroke-width="0.7" stroke-linejoin="round"/>
<polygon points="208.3,595.3 211.1,596.1 215.6,589.0 212.9,588.4" fill="#000085" stroke="#000085" stroke-width="0.7" stroke-linejoin="round"/>
<line x1="212.9" y1="588.4" x2="215.6" y2="589.0" stroke="#000" stroke-width="2.0" stroke-linecap="round"/>
<polygon points="264.9,575.5 267.7,575.3 272.0,568.8 269.2,568.9" fill="#006aff" stroke="#006aff" stroke-width="0.7" stroke-linejoin="round"/>
<line x1="269.2" y1="568.9" x2="272.0" y2="568.8" stroke="#000" stroke-width="2.0" stroke-linecap="round"/>
<polygon points="168.9,526.8 171.8,537.0 176.7,534.8 173.8,524.6" fill="#d3fa22" stroke="#d3fa22" stroke-width="0.7" stroke-linejoin="round"/>
<line x1="173.8" y1="524.6" x2="176.7" y2="534.8" stroke="#000" stroke-width="2.0" stroke-linecap="round"/>
<polygon points="238.0,586.1 240.8,585.4 245.2,578.3 242.4,578.9" fill="#0000c7" stroke="#0000c7" stroke-width="0.7" stroke-linejoin="round"/>
<polygon points="211.1,596.1 213.8,596.5 218.4,589.4 215.6,589.0" fill="#000085" stroke="#000085" stroke-width="0.7" stroke-linejoin="round"/>
<line x1="215.6" y1="589.0" x2="218.4" y2="589.4" stroke="#000" stroke-width="2.0" stroke-linecap="round"/>
<polygon points="267.7,575.3 270.6,575.2 274.8,568.8 272.0,568.8" fill="#007aff" stroke="#007aff" stroke-width="0.7" stroke-linejoin="round"/>
<line x1="272.0" y1="568.8" x2="274.8" y2="568.8" stroke="#000" stroke-width="2.0" stroke-linecap="round"/>
<polygon points="166.0,517.4 168.9,526.8 173.8,524.6 171.0,514.9" fill="#f7f206" stroke="#f7f206" stroke-width="0.7" stroke-linejoin="round"/>
<line x1="171.0" y1="514.9" x2="173.8" y2="524.6" stroke="#000" stroke-width="2.0" stroke-linecap="round"/>
<polygon points="213.8,596.5 216.6,596.4 221.2,589.2 218.4,589.4" fill="#000086" stroke="#000086" stroke-width="0.7" stroke-linejoin="round"/>
<line x1="218.4" y1="589.4" x2="221.2" y2="589.2" stroke="#000" stroke-width="2.0" stroke-linecap="round"/>
<polygon points="240.8,585.4 243.6,584.6 248.0,577.6 245.2,578.3" fill="#0000d7" stroke="#0000d7" stroke-width="0.7" stroke-linejoin="round"/>
<polygon points="270.6,575.2 273.4,575.1 277.6,568.7 274.8,568.8" fill="#0087ff" stroke="#0087ff" stroke-width="0.7" stroke-linejoin="round"/>
<polygon points="163.1,508.4 166.0,517.4 171.0,514.9 168.1,506.0" fill="#ffc300" stroke="#ffc300" stroke-width="0.7" stroke-linejoin="round"/>
<line x1="168.1" y1="506.0" x2="171.0" y2="514.9" stroke="#000" stroke-width="2.0" stroke-linecap="round"/>
<polygon points="216.6,596.4 219.4,596.2 224.0,588.9 221.2,589.2" fill="#000087" stroke="#000087" stroke-width="0.7" stroke-linejoin="round"/>
<line x1="221.2" y1="589.2" x2="224.0" y2="588.9" stroke="#000" stroke-width="2.0" stroke-linecap="round"/>
<polygon points="243.6,584.6 246.4,583.9 250.8,577.0 248.0,577.6" fill="#0000e7" stroke="#0000e7" stroke-width="0.7" stroke-linejoin="round"/>
<polygon points="143.1,474.9 145.9,478.8 151.0,470.2 148.1,463.8" fill="#ff3600" stroke="#ff3600" stroke-width="0.7" stroke-linejoin="round"/>
<line x1="148.1" y1="463.8" x2="151.0" y2="470.2" stroke="#000" stroke-width="2.0" stroke-linecap="round"/>
<polygon points="140.2,467.2 143.1,474.9 148.1,463.8 145.3,459.6" fill="#ff2600" stroke="#ff2600" stroke-width="0.7" stroke-linejoin="round"/>
<line x1="145.3" y1="459.6" x2="148.1" y2="463.8" stroke="#000" stroke-width="2.0" stroke-linecap="round"/>
<polygon points="160.1,496.6 163.1,508.4 168.1,506.0 165.2,494.2" fill="#ff9400" stroke="#ff9400" stroke-width="0.7" stroke-linejoin="round"/>
<line x1="165.2" y1="494.2" x2="168.1" y2="506.0" stroke="#000" stroke-width="2.0" stroke-linecap="round"/>
<polygon points="219.4,596.2 222.2,595.8 226.8,588.5 224.0,588.9" fill="#000089" stroke="#000089" stroke-width="0.7" stroke-linejoin="round"/>
<line x1="224.0" y1="588.9" x2="226.8" y2="588.5" stroke="#000" stroke-width="2.0" stroke-linecap="round"/>
<polygon points="246.4,583.9 249.2,583.3 253.6,576.4 250.8,577.0" fill="#000df0" stroke="#000df0" stroke-width="0.7" stroke-linejoin="round"/>
<polygon points="145.9,478.8 148.6,474.6 153.7,468.3 151.0,470.2" fill="#ff3800" stroke="#ff3800" stroke-width="0.7" stroke-linejoin="round"/>
<line x1="151.0" y1="470.2" x2="153.7" y2="468.3" stroke="#000" stroke-width="2.0" stroke-linecap="round"/>
<polygon points="157.3,491.1 160.1,496.6 165.2,494.2 162.3,490.0" fill="#ff7500" stroke="#ff7500" stroke-width="0.7" stroke-linejoin="round"/>
<line x1="162.3" y1="490.0" x2="165.2" y2="494.2" stroke="#000" stroke-width="2.0" stroke-linecap="round"/>
<polygon points="178.4,577.3 181.2,580.8 186.0,576.4 183.2,573.3" fill="#0040ff" stroke="#0040ff" stroke-width="0.7" stroke-linejoin="round"/>
<polygon points="222.2,595.8 225.0,595.3 229.6,587.9 226.8,588.5" fill="#00008c" stroke="#00008c" stroke-width="0.7" stroke-linejoin="round"/>
<line x1="226.8" y1="588.5" x2="229.6" y2="587.9" stroke="#000" stroke-width="2.0" stroke-linecap="round"/>
<polygon points="175.5,571.6 178.4,577.3 183.2,573.3 180.4,567.8" fill="#0094fe" stroke="#0094fe" stroke-width="0.7" stroke-linejoin="round"/>
<polygon points="181.2,580.8 184.0,585.0 188.8,580.0 186.0,576.4" fill="#000ff1" stroke="#000ff1" stroke-width="0.7" stroke-linejoin="round"/>
<polygon points="184.0,585.0 186.8,589.5 191.6,584.0 188.8,580.0" fill="#0000cc" stroke="#0000cc" stroke-width="0.7" stroke-linejoin="round"/>
<polygon points="186.8,589.5 189.6,593.3 194.4,587.5 191.6,584.0" fill="#0000a7" stroke="#0000a7" stroke-width="0.7" stroke-linejoin="round"/>
<polygon points="249.2,583.3 252.1,582.7 256.4,575.8 253.6,576.4" fill="#001ef7" stroke="#001ef7" stroke-width="0.7" stroke-linejoin="round"/>
<polygon points="136.9,444.2 140.2,467.2 145.3,459.6 142.2,444.2" fill="#dd0300" stroke="#dd0300" stroke-width="0.7" stroke-linejoin="round"/>
<line x1="142.2" y1="444.2" x2="145.3" y2="459.6" stroke="#000" stroke-width="2.0" stroke-linecap="round"/>
<polygon points="189.6,593.3 192.4,596.8 197.2,590.7 194.4,587.5" fill="#00008c" stroke="#00008c" stroke-width="0.7" stroke-linejoin="round"/>
<polygon points="154.2,476.4 157.3,491.1 162.3,490.0 159.4,477.2" fill="#ff5600" stroke="#ff5600" stroke-width="0.7" stroke-linejoin="round"/>
<line x1="159.4" y1="477.2" x2="162.3" y2="490.0" stroke="#000" stroke-width="2.0" stroke-linecap="round"/>
<polygon points="192.4,596.8 195.2,599.4 199.9,592.9 197.2,590.7" fill="#000087" stroke="#000087" stroke-width="0.7" stroke-linejoin="round"/>
<polygon points="148.6,474.6 151.4,473.4 156.5,472.4 153.7,468.3" fill="#ff3300" stroke="#ff3300" stroke-width="0.7" stroke-linejoin="round"/>
<line x1="153.7" y1="468.3" x2="156.5" y2="472.4" stroke="#000" stroke-width="2.0" stroke-linecap="round"/>
<polygon points="172.6,561.0 175.5,571.6 180.4,567.8 177.6,557.7" fill="#07ebdb" stroke="#07ebdb" stroke-width="0.7" stroke-linejoin="round"/>
<polygon points="225.0,595.3 227.8,594.7 232.4,587.3 229.6,587.9" fill="#000096" stroke="#000096" stroke-width="0.7" stroke-linejoin="round"/>
<line x1="229.6" y1="587.9" x2="232.4" y2="587.3" stroke="#000" stroke-width="2.0" stroke-linecap="round"/>
<polygon points="252.1,582.7 254.9,582.5 259.3,575.7 256.4,575.8" fill="#002cfd" stroke="#002cfd" stroke-width="0.7" stroke-linejoin="round"/>
<polygon points="195.2,599.4 198.0,600.5 202.7,593.9 199.9,592.9" fill="#000084" stroke="#000084" stroke-width="0.7" stroke-linejoin="round"/>
<polygon points="151.4,473.4 154.2,476.4 159.4,477.2 156.5,472.4" fill="#ff3a00" stroke="#ff3a00" stroke-width="0.7" stroke-linejoin="round"/>
<line x1="156.5" y1="472.4" x2="159.4" y2="477.2" stroke="#000" stroke-width="2.0" stroke-linecap="round"/>
<polygon points="198.0,600.5 200.8,601.4 205.5,594.6 202.7,593.9" fill="#000084" stroke="#000084" stroke-width="0.7" stroke-linejoin="round"/>
<polygon points="254.9,582.5 257.8,582.3 262.1,575.6 259.3,575.7" fill="#003aff" stroke="#003aff" stroke-width="0.7" stroke-linejoin="round"/>
<polygon points="227.8,594.7 230.7,594.1 235.2,586.8 232.4,587.3" fill="#0000a2" stroke="#0000a2" stroke-width="0.7" stroke-linejoin="round"/>
<line x1="232.4" y1="587.3" x2="235.2" y2="586.8" stroke="#000" stroke-width="2.0" stroke-linecap="round"/>
<polygon points="169.7,550.0 172.6,561.0 177.6,557.7 174.7,547.4" fill="#87fa69" stroke="#87fa69" stroke-width="0.7" stroke-linejoin="round"/>
<polygon points="200.8,601.4 203.6,602.3 208.3,595.3 205.5,594.6" fill="#000083" stroke="#000083" stroke-width="0.7" stroke-linejoin="round"/>
<polygon points="257.8,582.3 260.6,582.1 264.9,575.5 262.1,575.6" fill="#004bff" stroke="#004bff" stroke-width="0.7" stroke-linejoin="round"/>
<polygon points="230.7,594.1 233.5,593.4 238.0,586.1 235.2,586.8" fill="#0000ad" stroke="#0000ad" stroke-width="0.7" stroke-linejoin="round"/>
<line x1="235.2" y1="586.8" x2="238.0" y2="586.1" stroke="#000" stroke-width="2.0" stroke-linecap="round"/>
<polygon points="203.6,602.3 206.4,603.2 211.1,596.1 208.3,595.3" fill="#000083" stroke="#000083" stroke-width="0.7" stroke-linejoin="round"/>
<polygon points="166.8,539.3 169.7,550.0 174.7,547.4 171.8,537.0" fill="#b8fa3a" stroke="#b8fa3a" stroke-width="0.7" stroke-linejoin="round"/>
<polygon points="260.6,582.1 263.4,581.9 267.7,575.3 264.9,575.5" fill="#005dff" stroke="#005dff" stroke-width="0.7" stroke-linejoin="round"/>
<polygon points="206.4,603.2 209.2,603.7 213.8,596.5 211.1,596.1" fill="#000083" stroke="#000083" stroke-width="0.7" stroke-linejoin="round"/>
<polygon points="233.5,593.4 236.3,592.6 240.8,585.4 238.0,586.1" fill="#0000ba" stroke="#0000ba" stroke-width="0.7" stroke-linejoin="round"/>
<line x1="238.0" y1="586.1" x2="240.8" y2="585.4" stroke="#000" stroke-width="2.0" stroke-linecap="round"/>
<polygon points="263.4,581.9 266.3,581.7 270.6,575.2 267.7,575.3" fill="#006fff" stroke="#006fff" stroke-width="0.7" stroke-linejoin="round"/>
<polygon points="163.9,529.0 166.8,539.3 171.8,537.0 168.9,526.8" fill="#e1f716" stroke="#e1f716" stroke-width="0.7" stroke-linejoin="round"/>
<polygon points="209.2,603.7 212.0,603.7 216.6,596.4 213.8,596.5" fill="#000083" stroke="#000083" stroke-width="0.7" stroke-linejoin="round"/>
<polygon points="236.3,592.6 239.1,591.8 243.6,584.6 240.8,585.4" fill="#0000cb" stroke="#0000cb" stroke-width="0.7" stroke-linejoin="round"/>
<line x1="240.8" y1="585.4" x2="243.6" y2="584.6" stroke="#000" stroke-width="2.0" stroke-linecap="round"/>
<polygon points="266.3,581.7 269.2,581.5 273.4,575.1 270.6,575.2" fill="#0080ff" stroke="#0080ff" stroke-width="0.7" stroke-linejoin="round"/>
<polygon points="160.9,519.8 163.9,529.0 168.9,526.8 166.0,517.4" fill="#ffe600" stroke="#ffe600" stroke-width="0.7" stroke-linejoin="round"/>
<polygon points="212.0,603.7 214.8,603.6 219.4,596.2 216.6,596.4" fill="#000085" stroke="#000085" stroke-width="0.7" stroke-linejoin="round"/>
<polygon points="138.0,486.1 140.9,487.5 145.9,478.8 143.1,474.9" fill="#ff4400" stroke="#ff4400" stroke-width="0.7" stroke-linejoin="round"/>
<polygon points="239.1,591.8 242.0,591.0 246.4,583.9 243.6,584.6" fill="#0000db" stroke="#0000db" stroke-width="0.7" stroke-linejoin="round"/>
<line x1="243.6" y1="584.6" x2="246.4" y2="583.9" stroke="#000" stroke-width="2.0" stroke-linecap="round"/>
<polygon points="135.0,474.9 138.0,486.1 143.1,474.9 140.2,467.2" fill="#ff3200" stroke="#ff3200" stroke-width="0.7" stroke-linejoin="round"/>
<polygon points="158.0,510.9 160.9,519.8 166.0,517.4 163.1,508.4" fill="#ffb100" stroke="#ffb100" stroke-width="0.7" stroke-linejoin="round"/>
<polygon points="214.8,603.6 217.6,603.3 222.2,595.8 219.4,596.2" fill="#000087" stroke="#000087" stroke-width="0.7" stroke-linejoin="round"/>
<polygon points="242.0,591.0 244.8,590.3 249.2,583.3 246.4,583.9" fill="#0000eb" stroke="#0000eb" stroke-width="0.7" stroke-linejoin="round"/>
<line x1="246.4" y1="583.9" x2="249.2" y2="583.3" stroke="#000" stroke-width="2.0" stroke-linecap="round"/>
<polygon points="140.9,487.5 143.5,480.9 148.6,474.6 145.9,478.8" fill="#ff3e00" stroke="#ff3e00" stroke-width="0.7" stroke-linejoin="round"/>
<polygon points="155.0,499.1 158.0,510.9 163.1,508.4 160.1,496.6" fill="#ff8700" stroke="#ff8700" stroke-width="0.7" stroke-linejoin="round"/>
<polygon points="217.6,603.3 220.4,602.7 225.0,595.3 222.2,595.8" fill="#000089" stroke="#000089" stroke-width="0.7" stroke-linejoin="round"/>
<polygon points="244.8,590.3 247.7,589.7 252.1,582.7 249.2,583.3" fill="#0012f2" stroke="#0012f2" stroke-width="0.7" stroke-linejoin="round"/>
<line x1="249.2" y1="583.3" x2="252.1" y2="582.7" stroke="#000" stroke-width="2.0" stroke-linecap="round"/>
<polygon points="182.0,595.1 184.8,599.3 189.6,593.3 186.8,589.5" fill="#0000ac" stroke="#0000ac" stroke-width="0.7" stroke-linejoin="round"/>
<line x1="186.8" y1="589.5" x2="189.6" y2="593.3" stroke="#000" stroke-width="2.0" stroke-linecap="round"/>
<polygon points="179.1,590.0 182.0,595.1 186.8,589.5 184.0,585.0" fill="#0000d7" stroke="#0000d7" stroke-width="0.7" stroke-linejoin="round"/>
<line x1="184.0" y1="585.0" x2="186.8" y2="589.5" stroke="#000" stroke-width="2.0" stroke-linecap="round"/>
<polygon points="184.8,599.3 187.6,603.0 192.4,596.8 189.6,593.3" fill="#00008e" stroke="#00008e" stroke-width="0.7" stroke-linejoin="round"/>
<line x1="189.6" y1="593.3" x2="192.4" y2="596.8" stroke="#000" stroke-width="2.0" stroke-linecap="round"/>
<polygon points="173.5,581.3 176.3,585.2 181.2,580.8 178.4,577.3" fill="#006dff" stroke="#006dff" stroke-width="0.7" stroke-linejoin="round"/>
<line x1="178.4" y1="577.3" x2="181.2" y2="580.8" stroke="#000" stroke-width="2.0" stroke-linecap="round"/>
<polygon points="176.3,585.2 179.1,590.0 184.0,585.0 181.2,580.8" fill="#0023f9" stroke="#0023f9" stroke-width="0.7" stroke-linejoin="round"/>
<line x1="181.2" y1="580.8" x2="184.0" y2="585.0" stroke="#000" stroke-width="2.0" stroke-linecap="round"/>
<polygon points="152.1,492.2 155.0,499.1 160.1,496.6 157.3,491.1" fill="#ff6700" stroke="#ff6700" stroke-width="0.7" stroke-linejoin="round"/>
<polygon points="170.6,575.5 173.5,581.3 178.4,577.3 175.5,571.6" fill="#00b9fb" stroke="#00b9fb" stroke-width="0.7" stroke-linejoin="round"/>
<line x1="175.5" y1="571.6" x2="178.4" y2="577.3" stroke="#000" stroke-width="2.0" stroke-linecap="round"/>
<polygon points="187.6,603.0 190.5,605.9 195.2,599.4 192.4,596.8" fill="#000087" stroke="#000087" stroke-width="0.7" stroke-linejoin="round"/>
<line x1="192.4" y1="596.8" x2="195.2" y2="599.4" stroke="#000" stroke-width="2.0" stroke-linecap="round"/>
<polygon points="131.5,444.3 135.0,474.9 140.2,467.2 136.9,444.2" fill="#d70000" stroke="#d70000" stroke-width="0.7" stroke-linejoin="round"/>
<polygon points="220.4,602.7 223.3,602.1 227.8,594.7 225.0,595.3" fill="#00008c" stroke="#00008c" stroke-width="0.7" stroke-linejoin="round"/>
<polygon points="190.5,605.9 193.3,607.3 198.0,600.5 195.2,599.4" fill="#000084" stroke="#000084" stroke-width="0.7" stroke-linejoin="round"/>
<line x1="195.2" y1="599.4" x2="198.0" y2="600.5" stroke="#000" stroke-width="2.0" stroke-linecap="round"/>
<polygon points="247.7,589.7 250.5,589.4 254.9,582.5 252.1,582.7" fill="#0021f8" stroke="#0021f8" stroke-width="0.7" stroke-linejoin="round"/>
<line x1="252.1" y1="582.7" x2="254.9" y2="582.5" stroke="#000" stroke-width="2.0" stroke-linecap="round"/>
<polygon points="143.5,480.9 146.2,474.4 151.4,473.4 148.6,474.6" fill="#ff2e00" stroke="#ff2e00" stroke-width="0.7" stroke-linejoin="round"/>
<polygon points="167.7,564.3 170.6,575.5 175.5,571.6 172.6,561.0" fill="#40efa5" stroke="#40efa5" stroke-width="0.7" stroke-linejoin="round"/>
<line x1="172.6" y1="561.0" x2="175.5" y2="571.6" stroke="#000" stroke-width="2.0" stroke-linecap="round"/>
<polygon points="149.0,475.6 152.1,492.2 157.3,491.1 154.2,476.4" fill="#ff4400" stroke="#ff4400" stroke-width="0.7" stroke-linejoin="round"/>
<polygon points="193.3,607.3 196.1,608.3 200.8,601.4 198.0,600.5" fill="#000082" stroke="#000082" stroke-width="0.7" stroke-linejoin="round"/>
<line x1="198.0" y1="600.5" x2="200.8" y2="601.4" stroke="#000" stroke-width="2.0" stroke-linecap="round"/>
<polygon points="223.3,602.1 226.1,601.5 230.7,594.1 227.8,594.7" fill="#000096" stroke="#000096" stroke-width="0.7" stroke-linejoin="round"/>
<polygon points="250.5,589.4 253.4,589.2 257.8,582.3 254.9,582.5" fill="#002dfd" stroke="#002dfd" stroke-width="0.7" stroke-linejoin="round"/>
<line x1="254.9" y1="582.5" x2="257.8" y2="582.3" stroke="#000" stroke-width="2.0" stroke-linecap="round"/>
<polygon points="146.2,474.4 149.0,475.6 154.2,476.4 151.4,473.4" fill="#ff2900" stroke="#ff2900" stroke-width="0.7" stroke-linejoin="round"/>
<polygon points="196.1,608.3 198.9,609.4 203.6,602.3 200.8,601.4" fill="#000082" stroke="#000082" stroke-width="0.7" stroke-linejoin="round"/>
<line x1="200.8" y1="601.4" x2="203.6" y2="602.3" stroke="#000" stroke-width="2.0" stroke-linecap="round"/>
<polygon points="164.7,552.7 167.7,564.3 172.6,561.0 169.7,550.0" fill="#96fa5a" stroke="#96fa5a" stroke-width="0.7" stroke-linejoin="round"/>
<line x1="169.7" y1="550.0" x2="172.6" y2="561.0" stroke="#000" stroke-width="2.0" stroke-linecap="round"/>
<polygon points="226.1,601.5 228.9,600.7 233.5,593.4 230.7,594.1" fill="#0000a2" stroke="#0000a2" stroke-width="0.7" stroke-linejoin="round"/>
<polygon points="253.4,589.2 256.2,588.9 260.6,582.1 257.8,582.3" fill="#003dff" stroke="#003dff" stroke-width="0.7" stroke-linejoin="round"/>
<line x1="257.8" y1="582.3" x2="260.6" y2="582.1" stroke="#000" stroke-width="2.0" stroke-linecap="round"/>
<polygon points="198.9,609.4 201.7,610.5 206.4,603.2 203.6,602.3" fill="#000081" stroke="#000081" stroke-width="0.7" stroke-linejoin="round"/>
<line x1="203.6" y1="602.3" x2="206.4" y2="603.2" stroke="#000" stroke-width="2.0" stroke-linecap="round"/>
<polygon points="256.2,588.9 259.1,588.6 263.4,581.9 260.6,582.1" fill="#0050ff" stroke="#0050ff" stroke-width="0.7" stroke-linejoin="round"/>
<line x1="260.6" y1="582.1" x2="263.4" y2="581.9" stroke="#000" stroke-width="2.0" stroke-linecap="round"/>
<polygon points="201.7,610.5 204.5,611.0 209.2,603.7 206.4,603.2" fill="#000080" stroke="#000080" stroke-width="0.7" stroke-linejoin="round"/>
<line x1="206.4" y1="603.2" x2="209.2" y2="603.7" stroke="#000" stroke-width="2.0" stroke-linecap="round"/>
<polygon points="228.9,600.7 231.8,599.9 236.3,592.6 233.5,593.4" fill="#0000b0" stroke="#0000b0" stroke-width="0.7" stroke-linejoin="round"/>
<polygon points="161.7,541.6 164.7,552.7 169.7,550.0 166.8,539.3" fill="#c7fa2d" stroke="#c7fa2d" stroke-width="0.7" stroke-linejoin="round"/>
<line x1="166.8" y1="539.3" x2="169.7" y2="550.0" stroke="#000" stroke-width="2.0" stroke-linecap="round"/>
<polygon points="259.1,588.6 262.0,588.4 266.3,581.7 263.4,581.9" fill="#0064ff" stroke="#0064ff" stroke-width="0.7" stroke-linejoin="round"/>
<line x1="263.4" y1="581.9" x2="266.3" y2="581.7" stroke="#000" stroke-width="2.0" stroke-linecap="round"/>
<polygon points="204.5,611.0 207.3,611.1 212.0,603.7 209.2,603.7" fill="#000081" stroke="#000081" stroke-width="0.7" stroke-linejoin="round"/>
<line x1="209.2" y1="603.7" x2="212.0" y2="603.7" stroke="#000" stroke-width="2.0" stroke-linecap="round"/>
<polygon points="231.8,599.9 234.6,599.0 239.1,591.8 236.3,592.6" fill="#0000bf" stroke="#0000bf" stroke-width="0.7" stroke-linejoin="round"/>
<polygon points="158.8,531.2 161.7,541.6 166.8,539.3 163.9,529.0" fill="#eff40c" stroke="#eff40c" stroke-width="0.7" stroke-linejoin="round"/>
<line x1="163.9" y1="529.0" x2="166.8" y2="539.3" stroke="#000" stroke-width="2.0" stroke-linecap="round"/>
<polygon points="262.0,588.4 264.8,588.1 269.2,581.5 266.3,581.7" fill="#0078ff" stroke="#0078ff" stroke-width="0.7" stroke-linejoin="round"/>
<polygon points="207.3,611.1 210.2,611.1 214.8,603.6 212.0,603.7" fill="#000083" stroke="#000083" stroke-width="0.7" stroke-linejoin="round"/>
<line x1="212.0" y1="603.7" x2="214.8" y2="603.6" stroke="#000" stroke-width="2.0" stroke-linecap="round"/>
<polygon points="132.8,491.0 135.7,494.9 140.9,487.5 138.0,486.1" fill="#ff4c00" stroke="#ff4c00" stroke-width="0.7" stroke-linejoin="round"/>
<line x1="138.0" y1="486.1" x2="140.9" y2="487.5" stroke="#000" stroke-width="2.0" stroke-linecap="round"/>
<polygon points="129.8,481.4 132.8,491.0 138.0,486.1 135.0,474.9" fill="#ff3900" stroke="#ff3900" stroke-width="0.7" stroke-linejoin="round"/>
<line x1="135.0" y1="474.9" x2="138.0" y2="486.1" stroke="#000" stroke-width="2.0" stroke-linecap="round"/>
<polygon points="234.6,599.0 237.5,598.1 242.0,591.0 239.1,591.8" fill="#0000d0" stroke="#0000d0" stroke-width="0.7" stroke-linejoin="round"/>
<polygon points="155.8,522.0 158.8,531.2 163.9,529.0 160.9,519.8" fill="#ffce00" stroke="#ffce00" stroke-width="0.7" stroke-linejoin="round"/>
<line x1="160.9" y1="519.8" x2="163.9" y2="529.0" stroke="#000" stroke-width="2.0" stroke-linecap="round"/>
<polygon points="210.2,611.1 213.0,610.8 217.6,603.3 214.8,603.6" fill="#000084" stroke="#000084" stroke-width="0.7" stroke-linejoin="round"/>
<line x1="214.8" y1="603.6" x2="217.6" y2="603.3" stroke="#000" stroke-width="2.0" stroke-linecap="round"/>
<polygon points="135.7,494.9 138.3,488.2 143.5,480.9 140.9,487.5" fill="#ff4400" stroke="#ff4400" stroke-width="0.7" stroke-linejoin="round"/>
<line x1="140.9" y1="487.5" x2="143.5" y2="480.9" stroke="#000" stroke-width="2.0" stroke-linecap="round"/>
<polygon points="237.5,598.1 240.3,597.4 244.8,590.3 242.0,591.0" fill="#0000e1" stroke="#0000e1" stroke-width="0.7" stroke-linejoin="round"/>
<polygon points="152.9,514.7 155.8,522.0 160.9,519.8 158.0,510.9" fill="#ffa300" stroke="#ffa300" stroke-width="0.7" stroke-linejoin="round"/>
<line x1="158.0" y1="510.9" x2="160.9" y2="519.8" stroke="#000" stroke-width="2.0" stroke-linecap="round"/>
<polygon points="213.0,610.8 215.8,610.3 220.4,602.7 217.6,603.3" fill="#000087" stroke="#000087" stroke-width="0.7" stroke-linejoin="round"/>
<line x1="217.6" y1="603.3" x2="220.4" y2="602.7" stroke="#000" stroke-width="2.0" stroke-linecap="round"/>
<polygon points="240.3,597.4 243.2,596.8 247.7,589.7 244.8,590.3" fill="#0006ed" stroke="#0006ed" stroke-width="0.7" stroke-linejoin="round"/>
<polygon points="149.8,501.4 152.9,514.7 158.0,510.9 155.0,499.1" fill="#ff7c00" stroke="#ff7c00" stroke-width="0.7" stroke-linejoin="round"/>
<line x1="155.0" y1="499.1" x2="158.0" y2="510.9" stroke="#000" stroke-width="2.0" stroke-linecap="round"/>
<polygon points="177.1,600.8 179.9,605.2 184.8,599.3 182.0,595.1" fill="#0000b0" stroke="#0000b0" stroke-width="0.7" stroke-linejoin="round"/>
<polygon points="179.9,605.2 182.8,609.2 187.6,603.0 184.8,599.3" fill="#000090" stroke="#000090" stroke-width="0.7" stroke-linejoin="round"/>
<polygon points="174.2,595.1 177.1,600.8 182.0,595.1 179.1,590.0" fill="#0000e2" stroke="#0000e2" stroke-width="0.7" stroke-linejoin="round"/>
<polygon points="182.8,609.2 185.6,612.6 190.5,605.9 187.6,603.0" fill="#000086" stroke="#000086" stroke-width="0.7" stroke-linejoin="round"/>
<polygon points="215.8,610.3 218.6,609.7 223.3,602.1 220.4,602.7" fill="#000089" stroke="#000089" stroke-width="0.7" stroke-linejoin="round"/>
<line x1="220.4" y1="602.7" x2="223.3" y2="602.1" stroke="#000" stroke-width="2.0" stroke-linecap="round"/>
<polygon points="126.2,451.1 129.8,481.4 135.0,474.9 131.5,444.3" fill="#d60000" stroke="#d60000" stroke-width="0.7" stroke-linejoin="round"/>
<line x1="131.5" y1="444.3" x2="135.0" y2="474.9" stroke="#000" stroke-width="2.0" stroke-linecap="round"/>
<polygon points="171.3,589.8 174.2,595.1 179.1,590.0 176.3,585.2" fill="#003cff" stroke="#003cff" stroke-width="0.7" stroke-linejoin="round"/>
<polygon points="168.5,585.3 171.3,589.8 176.3,585.2 173.5,581.3" fill="#0094fe" stroke="#0094fe" stroke-width="0.7" stroke-linejoin="round"/>
<polygon points="185.6,612.6 188.4,614.1 193.3,607.3 190.5,605.9" fill="#000083" stroke="#000083" stroke-width="0.7" stroke-linejoin="round"/>
<polygon points="165.6,579.4 168.5,585.3 173.5,581.3 170.6,575.5" fill="#00d3f2" stroke="#00d3f2" stroke-width="0.7" stroke-linejoin="round"/>
<polygon points="243.2,596.8 246.1,596.4 250.5,589.4 247.7,589.7" fill="#0015f4" stroke="#0015f4" stroke-width="0.7" stroke-linejoin="round"/>
<polygon points="138.3,488.2 141.0,481.4 146.2,474.4 143.5,480.9" fill="#ff2d00" stroke="#ff2d00" stroke-width="0.7" stroke-linejoin="round"/>
<line x1="143.5" y1="480.9" x2="146.2" y2="474.4" stroke="#000" stroke-width="2.0" stroke-linecap="round"/>
<polygon points="146.9,492.4 149.8,501.4 155.0,499.1 152.1,492.2" fill="#ff5900" stroke="#ff5900" stroke-width="0.7" stroke-linejoin="round"/>
<line x1="152.1" y1="492.2" x2="155.0" y2="499.1" stroke="#000" stroke-width="2.0" stroke-linecap="round"/>
<polygon points="188.4,614.1 191.3,615.4 196.1,608.3 193.3,607.3" fill="#000081" stroke="#000081" stroke-width="0.7" stroke-linejoin="round"/>
<polygon points="218.6,609.7 221.5,609.1 226.1,601.5 223.3,602.1" fill="#00008c" stroke="#00008c" stroke-width="0.7" stroke-linejoin="round"/>
<line x1="223.3" y1="602.1" x2="226.1" y2="601.5" stroke="#000" stroke-width="2.0" stroke-linecap="round"/>
<polygon points="162.6,567.7 165.6,579.4 170.6,575.5 167.7,564.3" fill="#60f389" stroke="#60f389" stroke-width="0.7" stroke-linejoin="round"/>
<polygon points="246.1,596.4 248.9,596.1 253.4,589.2 250.5,589.4" fill="#0022f9" stroke="#0022f9" stroke-width="0.7" stroke-linejoin="round"/>
<polygon points="191.3,615.4 194.1,616.6 198.9,609.4 196.1,608.3" fill="#000080" stroke="#000080" stroke-width="0.7" stroke-linejoin="round"/>
<polygon points="143.8,479.9 146.9,492.4 152.1,492.2 149.0,475.6" fill="#ff3600" stroke="#ff3600" stroke-width="0.7" stroke-linejoin="round"/>
<line x1="149.0" y1="475.6" x2="152.1" y2="492.2" stroke="#000" stroke-width="2.0" stroke-linecap="round"/>
<polygon points="221.5,609.1 224.3,608.2 228.9,600.7 226.1,601.5" fill="#000098" stroke="#000098" stroke-width="0.7" stroke-linejoin="round"/>
<line x1="226.1" y1="601.5" x2="228.9" y2="600.7" stroke="#000" stroke-width="2.0" stroke-linecap="round"/>
<polygon points="141.0,481.4 143.8,479.9 149.0,475.6 146.2,474.4" fill="#ff2100" stroke="#ff2100" stroke-width="0.7" stroke-linejoin="round"/>
<line x1="146.2" y1="474.4" x2="149.0" y2="475.6" stroke="#000" stroke-width="2.0" stroke-linecap="round"/>
<polygon points="248.9,596.1 251.8,595.8 256.2,588.9 253.4,589.2" fill="#0030fe" stroke="#0030fe" stroke-width="0.7" stroke-linejoin="round"/>
<polygon points="194.1,616.6 196.9,617.8 201.7,610.5 198.9,609.4" fill="#00007f" stroke="#00007f" stroke-width="0.7" stroke-linejoin="round"/>
<polygon points="159.6,555.5 162.6,567.7 167.7,564.3 164.7,552.7" fill="#a5fa4b" stroke="#a5fa4b" stroke-width="0.7" stroke-linejoin="round"/>
<polygon points="196.9,617.8 199.8,618.4 204.5,611.0 201.7,610.5" fill="#00007e" stroke="#00007e" stroke-width="0.7" stroke-linejoin="round"/>
<polygon points="224.3,608.2 227.2,607.2 231.8,599.9 228.9,600.7" fill="#0000a6" stroke="#0000a6" stroke-width="0.7" stroke-linejoin="round"/>
<line x1="228.9" y1="600.7" x2="231.8" y2="599.9" stroke="#000" stroke-width="2.0" stroke-linecap="round"/>
<polygon points="251.8,595.8 254.7,595.4 259.1,588.6 256.2,588.9" fill="#0043ff" stroke="#0043ff" stroke-width="0.7" stroke-linejoin="round"/>
<polygon points="199.8,618.4 202.6,618.6 207.3,611.1 204.5,611.0" fill="#00007f" stroke="#00007f" stroke-width="0.7" stroke-linejoin="round"/>
<polygon points="254.7,595.4 257.6,595.1 262.0,588.4 259.1,588.6" fill="#0059ff" stroke="#0059ff" stroke-width="0.7" stroke-linejoin="round"/>
<polygon points="227.2,607.2 230.0,606.3 234.6,599.0 231.8,599.9" fill="#0000b4" stroke="#0000b4" stroke-width="0.7" stroke-linejoin="round"/>
<line x1="231.8" y1="599.9" x2="234.6" y2="599.0" stroke="#000" stroke-width="2.0" stroke-linecap="round"/>
<polygon points="156.6,544.0 159.6,555.5 164.7,552.7 161.7,541.6" fill="#d5fa1f" stroke="#d5fa1f" stroke-width="0.7" stroke-linejoin="round"/>
<polygon points="202.6,618.6 205.4,618.6 210.2,611.1 207.3,611.1" fill="#000080" stroke="#000080" stroke-width="0.7" stroke-linejoin="round"/>
<polygon points="127.5,495.9 130.4,502.4 135.7,494.9 132.8,491.0" fill="#ff4e00" stroke="#ff4e00" stroke-width="0.7" stroke-linejoin="round"/>
<polygon points="257.6,595.1 260.5,594.7 264.8,588.1 262.0,588.4" fill="#006fff" stroke="#006fff" stroke-width="0.7" stroke-linejoin="round"/>
<polygon points="124.5,487.8 127.5,495.9 132.8,491.0 129.8,481.4" fill="#ff3900" stroke="#ff3900" stroke-width="0.7" stroke-linejoin="round"/>
<polygon points="230.0,606.3 232.9,605.3 237.5,598.1 234.6,599.0" fill="#0000c5" stroke="#0000c5" stroke-width="0.7" stroke-linejoin="round"/>
<line x1="234.6" y1="599.0" x2="237.5" y2="598.1" stroke="#000" stroke-width="2.0" stroke-linecap="round"/>
<polygon points="153.6,533.4 156.6,544.0 161.7,541.6 158.8,531.2" fill="#fdf102" stroke="#fdf102" stroke-width="0.7" stroke-linejoin="round"/>
<polygon points="205.4,618.6 208.3,618.5 213.0,610.8 210.2,611.1" fill="#000082" stroke="#000082" stroke-width="0.7" stroke-linejoin="round"/>
<polygon points="130.4,502.4 133.1,495.7 138.3,488.2 135.7,494.9" fill="#ff4a00" stroke="#ff4a00" stroke-width="0.7" stroke-linejoin="round"/>
<polygon points="232.9,605.3 235.8,604.6 240.3,597.4 237.5,598.1" fill="#0000d6" stroke="#0000d6" stroke-width="0.7" stroke-linejoin="round"/>
<line x1="237.5" y1="598.1" x2="240.3" y2="597.4" stroke="#000" stroke-width="2.0" stroke-linecap="round"/>
<polygon points="150.6,524.3 153.6,533.4 158.8,531.2 155.8,522.0" fill="#ffb700" stroke="#ffb700" stroke-width="0.7" stroke-linejoin="round"/>
<polygon points="208.3,618.5 211.1,617.9 215.8,610.3 213.0,610.8" fill="#000084" stroke="#000084" stroke-width="0.7" stroke-linejoin="round"/>
<polygon points="147.7,518.5 150.6,524.3 155.8,522.0 152.9,514.7" fill="#ff9700" stroke="#ff9700" stroke-width="0.7" stroke-linejoin="round"/>
<polygon points="235.8,604.6 238.7,603.9 243.2,596.8 240.3,597.4" fill="#0000e6" stroke="#0000e6" stroke-width="0.7" stroke-linejoin="round"/>
<line x1="240.3" y1="597.4" x2="243.2" y2="596.8" stroke="#000" stroke-width="2.0" stroke-linecap="round"/>
<polygon points="211.1,617.9 214.0,617.3 218.6,609.7 215.8,610.3" fill="#000087" stroke="#000087" stroke-width="0.7" stroke-linejoin="round"/>
<polygon points="175.0,611.3 177.9,615.6 182.8,609.2 179.9,605.2" fill="#000092" stroke="#000092" stroke-width="0.7" stroke-linejoin="round"/>
<line x1="179.9" y1="605.2" x2="182.8" y2="609.2" stroke="#000" stroke-width="2.0" stroke-linecap="round"/>
<polygon points="172.1,606.5 175.0,611.3 179.9,605.2 177.1,600.8" fill="#0000b5" stroke="#0000b5" stroke-width="0.7" stroke-linejoin="round"/>
<line x1="177.1" y1="600.8" x2="179.9" y2="605.2" stroke="#000" stroke-width="2.0" stroke-linecap="round"/>
<polygon points="177.9,615.6 180.7,619.3 185.6,612.6 182.8,609.2" fill="#000086" stroke="#000086" stroke-width="0.7" stroke-linejoin="round"/>
<line x1="182.8" y1="609.2" x2="185.6" y2="612.6" stroke="#000" stroke-width="2.0" stroke-linecap="round"/>
<polygon points="120.9,458.0 124.5,487.8 129.8,481.4 126.2,451.1" fill="#db0200" stroke="#db0200" stroke-width="0.7" stroke-linejoin="round"/>
<polygon points="169.2,600.3 172.1,606.5 177.1,600.8 174.2,595.1" fill="#0002ec" stroke="#0002ec" stroke-width="0.7" stroke-linejoin="round"/>
<line x1="174.2" y1="595.1" x2="177.1" y2="600.8" stroke="#000" stroke-width="2.0" stroke-linecap="round"/>
<polygon points="180.7,619.3 183.6,621.1 188.4,614.1 185.6,612.6" fill="#000082" stroke="#000082" stroke-width="0.7" stroke-linejoin="round"/>
<line x1="185.6" y1="612.6" x2="188.4" y2="614.1" stroke="#000" stroke-width="2.0" stroke-linecap="round"/>
<polygon points="144.6,503.7 147.7,518.5 152.9,514.7 149.8,501.4" fill="#ff7100" stroke="#ff7100" stroke-width="0.7" stroke-linejoin="round"/>
<polygon points="133.1,495.7 135.8,488.5 141.0,481.4 138.3,488.2" fill="#ff3200" stroke="#ff3200" stroke-width="0.7" stroke-linejoin="round"/>
<polygon points="166.3,594.3 169.2,600.3 174.2,595.1 171.3,589.8" fill="#005dff" stroke="#005dff" stroke-width="0.7" stroke-linejoin="round"/>
<polygon points="238.7,603.9 241.5,603.5 246.1,596.4 243.2,596.8" fill="#000aef" stroke="#000aef" stroke-width="0.7" stroke-linejoin="round"/>
<line x1="171.3" y1="589.8" x2="174.2" y2="595.1" stroke="#000" stroke-width="2.0" stroke-linecap="round"/>
<line x1="243.2" y1="596.8" x2="246.1" y2="596.4" stroke="#000" stroke-width="2.0" stroke-linecap="round"/>
<polygon points="163.4,589.4 166.3,594.3 171.3,589.8 168.5,585.3" fill="#00b4fb" stroke="#00b4fb" stroke-width="0.7" stroke-linejoin="round"/>
<line x1="168.5" y1="585.3" x2="171.3" y2="589.8" stroke="#000" stroke-width="2.0" stroke-linecap="round"/>
<polygon points="214.0,617.3 216.8,616.7 221.5,609.1 218.6,609.7" fill="#000089" stroke="#000089" stroke-width="0.7" stroke-linejoin="round"/>
<polygon points="160.5,583.4 163.4,589.4 168.5,585.3 165.6,579.4" fill="#00e6e5" stroke="#00e6e5" stroke-width="0.7" stroke-linejoin="round"/>
<line x1="165.6" y1="579.4" x2="168.5" y2="585.3" stroke="#000" stroke-width="2.0" stroke-linecap="round"/>
<polygon points="183.6,621.1 186.4,622.5 191.3,615.4 188.4,614.1" fill="#000080" stroke="#000080" stroke-width="0.7" stroke-linejoin="round"/>
<line x1="188.4" y1="614.1" x2="191.3" y2="615.4" stroke="#000" stroke-width="2.0" stroke-linecap="round"/>
<polygon points="241.5,603.5 244.4,603.1 248.9,596.1 246.1,596.4" fill="#0018f5" stroke="#0018f5" stroke-width="0.7" stroke-linejoin="round"/>
<line x1="246.1" y1="596.4" x2="248.9" y2="596.1" stroke="#000" stroke-width="2.0" stroke-linecap="round"/>
<polygon points="186.4,622.5 189.2,623.9 194.1,616.6 191.3,615.4" fill="#00007e" stroke="#00007e" stroke-width="0.7" stroke-linejoin="round"/>
<line x1="191.3" y1="615.4" x2="194.1" y2="616.6" stroke="#000" stroke-width="2.0" stroke-linecap="round"/>
<polygon points="141.5,492.6 144.6,503.7 149.8,501.4 146.9,492.4" fill="#ff4a00" stroke="#ff4a00" stroke-width="0.7" stroke-linejoin="round"/>
<polygon points="157.5,571.1 160.5,583.4 165.6,579.4 162.6,567.7" fill="#75f878" stroke="#75f878" stroke-width="0.7" stroke-linejoin="round"/>
<line x1="162.6" y1="567.7" x2="165.6" y2="579.4" stroke="#000" stroke-width="2.0" stroke-linecap="round"/>
<polygon points="216.8,616.7 219.7,615.7 224.3,608.2 221.5,609.1" fill="#00008d" stroke="#00008d" stroke-width="0.7" stroke-linejoin="round"/>
<polygon points="189.2,623.9 192.1,625.3 196.9,617.8 194.1,616.6" fill="#00007d" stroke="#00007d" stroke-width="0.7" stroke-linejoin="round"/>
<line x1="194.1" y1="616.6" x2="196.9" y2="617.8" stroke="#000" stroke-width="2.0" stroke-linecap="round"/>
<polygon points="244.4,603.1 247.3,602.7 251.8,595.8 248.9,596.1" fill="#0026fa" stroke="#0026fa" stroke-width="0.7" stroke-linejoin="round"/>
<line x1="248.9" y1="596.1" x2="251.8" y2="595.8" stroke="#000" stroke-width="2.0" stroke-linecap="round"/>
<polygon points="135.8,488.5 138.5,484.4 143.8,479.9 141.0,481.4" fill="#ff2200" stroke="#ff2200" stroke-width="0.7" stroke-linejoin="round"/>
<polygon points="138.5,484.4 141.5,492.6 146.9,492.4 143.8,479.9" fill="#ff2b00" stroke="#ff2b00" stroke-width="0.7" stroke-linejoin="round"/>
<polygon points="192.1,625.3 194.9,625.9 199.8,618.4 196.9,617.8" fill="#00007c" stroke="#00007c" stroke-width="0.7" stroke-linejoin="round"/>
<line x1="196.9" y1="617.8" x2="199.8" y2="618.4" stroke="#000" stroke-width="2.0" stroke-linecap="round"/>
<polygon points="219.7,615.7 222.5,614.7 227.2,607.2 224.3,608.2" fill="#00009c" stroke="#00009c" stroke-width="0.7" stroke-linejoin="round"/>
<polygon points="247.3,602.7 250.2,602.3 254.7,595.4 251.8,595.8" fill="#0037ff" stroke="#0037ff" stroke-width="0.7" stroke-linejoin="round"/>
<line x1="251.8" y1="595.8" x2="254.7" y2="595.4" stroke="#000" stroke-width="2.0" stroke-linecap="round"/>
<polygon points="154.4,558.2 157.5,571.1 162.6,567.7 159.6,555.5" fill="#b3fa3e" stroke="#b3fa3e" stroke-width="0.7" stroke-linejoin="round"/>
<line x1="159.6" y1="555.5" x2="162.6" y2="567.7" stroke="#000" stroke-width="2.0" stroke-linecap="round"/>
<polygon points="194.9,625.9 197.8,626.2 202.6,618.6 199.8,618.4" fill="#00007d" stroke="#00007d" stroke-width="0.7" stroke-linejoin="round"/>
<line x1="199.8" y1="618.4" x2="202.6" y2="618.6" stroke="#000" stroke-width="2.0" stroke-linecap="round"/>
<polygon points="222.5,614.7 225.4,613.7 230.0,606.3 227.2,607.2" fill="#0000ab" stroke="#0000ab" stroke-width="0.7" stroke-linejoin="round"/>
<polygon points="250.2,602.3 253.1,601.8 257.6,595.1 254.7,595.4" fill="#004eff" stroke="#004eff" stroke-width="0.7" stroke-linejoin="round"/>
<line x1="254.7" y1="595.4" x2="257.6" y2="595.1" stroke="#000" stroke-width="2.0" stroke-linecap="round"/>
<polygon points="197.8,626.2 200.6,626.3 205.4,618.6 202.6,618.6" fill="#00007e" stroke="#00007e" stroke-width="0.7" stroke-linejoin="round"/>
<line x1="202.6" y1="618.6" x2="205.4" y2="618.6" stroke="#000" stroke-width="2.0" stroke-linecap="round"/>
<polygon points="122.2,504.4 125.1,507.6 130.4,502.4 127.5,495.9" fill="#ff5100" stroke="#ff5100" stroke-width="0.7" stroke-linejoin="round"/>
<line x1="127.5" y1="495.9" x2="130.4" y2="502.4" stroke="#000" stroke-width="2.0" stroke-linecap="round"/>
<polygon points="151.4,546.4 154.4,558.2 159.6,555.5 156.6,544.0" fill="#e3f715" stroke="#e3f715" stroke-width="0.7" stroke-linejoin="round"/>
<line x1="156.6" y1="544.0" x2="159.6" y2="555.5" stroke="#000" stroke-width="2.0" stroke-linecap="round"/>
<polygon points="253.1,601.8 256.0,601.4 260.5,594.7 257.6,595.1" fill="#0066ff" stroke="#0066ff" stroke-width="0.7" stroke-linejoin="round"/>
<polygon points="225.4,613.7 228.3,612.7 232.9,605.3 230.0,606.3" fill="#0000ba" stroke="#0000ba" stroke-width="0.7" stroke-linejoin="round"/>
<polygon points="119.0,490.8 122.2,504.4 127.5,495.9 124.5,487.8" fill="#ff3900" stroke="#ff3900" stroke-width="0.7" stroke-linejoin="round"/>
<line x1="124.5" y1="487.8" x2="127.5" y2="495.9" stroke="#000" stroke-width="2.0" stroke-linecap="round"/>
<polygon points="200.6,626.3 203.5,626.2 208.3,618.5 205.4,618.6" fill="#00007f" stroke="#00007f" stroke-width="0.7" stroke-linejoin="round"/>
<line x1="205.4" y1="618.6" x2="208.3" y2="618.5" stroke="#000" stroke-width="2.0" stroke-linecap="round"/>
<polygon points="125.1,507.6 127.8,502.3 133.1,495.7 130.4,502.4" fill="#ff4d00" stroke="#ff4d00" stroke-width="0.7" stroke-linejoin="round"/>
<line x1="130.4" y1="502.4" x2="133.1" y2="495.7" stroke="#000" stroke-width="2.0" stroke-linecap="round"/>
<polygon points="228.3,612.7 231.2,611.9 235.8,604.6 232.9,605.3" fill="#0000cc" stroke="#0000cc" stroke-width="0.7" stroke-linejoin="round"/>
<polygon points="148.3,535.7 151.4,546.4 156.6,544.0 153.6,533.4" fill="#ffdb00" stroke="#ffdb00" stroke-width="0.7" stroke-linejoin="round"/>
<line x1="153.6" y1="533.4" x2="156.6" y2="544.0" stroke="#000" stroke-width="2.0" stroke-linecap="round"/>
<polygon points="203.5,626.2 206.4,625.6 211.1,617.9 208.3,618.5" fill="#000081" stroke="#000081" stroke-width="0.7" stroke-linejoin="round"/>
<line x1="208.3" y1="618.5" x2="211.1" y2="617.9" stroke="#000" stroke-width="2.0" stroke-linecap="round"/>
<polygon points="231.2,611.9 234.1,611.2 238.7,603.9 235.8,604.6" fill="#0000dc" stroke="#0000dc" stroke-width="0.7" stroke-linejoin="round"/>
<polygon points="145.3,526.2 148.3,535.7 153.6,533.4 150.6,524.3" fill="#ffa600" stroke="#ffa600" stroke-width="0.7" stroke-linejoin="round"/>
<line x1="150.6" y1="524.3" x2="153.6" y2="533.4" stroke="#000" stroke-width="2.0" stroke-linecap="round"/>
<polygon points="206.4,625.6 209.2,625.0 214.0,617.3 211.1,617.9" fill="#000084" stroke="#000084" stroke-width="0.7" stroke-linejoin="round"/>
<line x1="211.1" y1="617.9" x2="214.0" y2="617.3" stroke="#000" stroke-width="2.0" stroke-linecap="round"/>
<polygon points="170.0,617.5 172.9,622.0 177.9,615.6 175.0,611.3" fill="#000093" stroke="#000093" stroke-width="0.7" stroke-linejoin="round"/>
<polygon points="172.9,622.0 175.7,626.1 180.7,619.3 177.9,615.6" fill="#000086" stroke="#000086" stroke-width="0.7" stroke-linejoin="round"/>
<polygon points="167.1,612.3 170.0,617.5 175.0,611.3 172.1,606.5" fill="#0000ba" stroke="#0000ba" stroke-width="0.7" stroke-linejoin="round"/>
<polygon points="142.3,519.4 145.3,526.2 150.6,524.3 147.7,518.5" fill="#ff8800" stroke="#ff8800" stroke-width="0.7" stroke-linejoin="round"/>
<line x1="147.7" y1="518.5" x2="150.6" y2="524.3" stroke="#000" stroke-width="2.0" stroke-linecap="round"/>
<polygon points="175.7,626.1 178.6,628.1 183.6,621.1 180.7,619.3" fill="#000081" stroke="#000081" stroke-width="0.7" stroke-linejoin="round"/>
<polygon points="115.3,458.9 119.0,490.8 124.5,487.8 120.9,458.0" fill="#d50000" stroke="#d50000" stroke-width="0.7" stroke-linejoin="round"/>
<line x1="120.9" y1="458.0" x2="124.5" y2="487.8" stroke="#000" stroke-width="2.0" stroke-linecap="round"/>
<polygon points="164.1,605.6 167.1,612.3 172.1,606.5 169.2,600.3" fill="#000ff1" stroke="#000ff1" stroke-width="0.7" stroke-linejoin="round"/>
<polygon points="234.1,611.2 237.0,610.7 241.5,603.5 238.7,603.9" fill="#0000ea" stroke="#0000ea" stroke-width="0.7" stroke-linejoin="round"/>
<polygon points="127.8,502.3 130.3,491.4 135.8,488.5 133.1,495.7" fill="#ff3300" stroke="#ff3300" stroke-width="0.7" stroke-linejoin="round"/>
<line x1="133.1" y1="495.7" x2="135.8" y2="488.5" stroke="#000" stroke-width="2.0" stroke-linecap="round"/>
<polygon points="209.2,625.0 212.1,624.4 216.8,616.7 214.0,617.3" fill="#000087" stroke="#000087" stroke-width="0.7" stroke-linejoin="round"/>
<line x1="214.0" y1="617.3" x2="216.8" y2="616.7" stroke="#000" stroke-width="2.0" stroke-linecap="round"/>
<polygon points="178.6,628.1 181.5,629.6 186.4,622.5 183.6,621.1" fill="#00007f" stroke="#00007f" stroke-width="0.7" stroke-linejoin="round"/>
<polygon points="161.2,599.0 164.1,605.6 169.2,600.3 166.3,594.3" fill="#007fff" stroke="#007fff" stroke-width="0.7" stroke-linejoin="round"/>
<polygon points="139.3,507.3 142.3,519.4 147.7,518.5 144.6,503.7" fill="#ff6600" stroke="#ff6600" stroke-width="0.7" stroke-linejoin="round"/>
<line x1="144.6" y1="503.7" x2="147.7" y2="518.5" stroke="#000" stroke-width="2.0" stroke-linecap="round"/>
<polygon points="158.3,593.6 161.2,599.0 166.3,594.3 163.4,589.4" fill="#00cff5" stroke="#00cff5" stroke-width="0.7" stroke-linejoin="round"/>
<polygon points="155.3,587.4 158.3,593.6 163.4,589.4 160.5,583.4" fill="#26edbe" stroke="#26edbe" stroke-width="0.7" stroke-linejoin="round"/>
<polygon points="181.5,629.6 184.3,631.2 189.2,623.9 186.4,622.5" fill="#00007d" stroke="#00007d" stroke-width="0.7" stroke-linejoin="round"/>
<polygon points="237.0,610.7 239.9,610.3 244.4,603.1 241.5,603.5" fill="#000ef1" stroke="#000ef1" stroke-width="0.7" stroke-linejoin="round"/>
<polygon points="212.1,624.4 215.0,623.4 219.7,615.7 216.8,616.7" fill="#00008a" stroke="#00008a" stroke-width="0.7" stroke-linejoin="round"/>
<line x1="216.8" y1="616.7" x2="219.7" y2="615.7" stroke="#000" stroke-width="2.0" stroke-linecap="round"/>
<polygon points="184.3,631.2 187.2,632.8 192.1,625.3 189.2,623.9" fill="#00007b" stroke="#00007b" stroke-width="0.7" stroke-linejoin="round"/>
<polygon points="136.2,497.2 139.3,507.3 144.6,503.7 141.5,492.6" fill="#ff4000" stroke="#ff4000" stroke-width="0.7" stroke-linejoin="round"/>
<line x1="141.5" y1="492.6" x2="144.6" y2="503.7" stroke="#000" stroke-width="2.0" stroke-linecap="round"/>
<polygon points="239.9,610.3 242.8,609.8 247.3,602.7 244.4,603.1" fill="#001df7" stroke="#001df7" stroke-width="0.7" stroke-linejoin="round"/>
<polygon points="152.3,574.6 155.3,587.4 160.5,583.4 157.5,571.1" fill="#86fa6a" stroke="#86fa6a" stroke-width="0.7" stroke-linejoin="round"/>
<polygon points="187.2,632.8 190.1,633.5 194.9,625.9 192.1,625.3" fill="#00007a" stroke="#00007a" stroke-width="0.7" stroke-linejoin="round"/>
<polygon points="130.3,491.4 133.1,485.4 138.5,484.4 135.8,488.5" fill="#ff1c00" stroke="#ff1c00" stroke-width="0.7" stroke-linejoin="round"/>
<line x1="135.8" y1="488.5" x2="138.5" y2="484.4" stroke="#000" stroke-width="2.0" stroke-linecap="round"/>
<polygon points="215.0,623.4 217.8,622.3 222.5,614.7 219.7,615.7" fill="#000091" stroke="#000091" stroke-width="0.7" stroke-linejoin="round"/>
<line x1="219.7" y1="615.7" x2="222.5" y2="614.7" stroke="#000" stroke-width="2.0" stroke-linecap="round"/>
<polygon points="133.1,485.4 136.2,497.2 141.5,492.6 138.5,484.4" fill="#ff2200" stroke="#ff2200" stroke-width="0.7" stroke-linejoin="round"/>
<line x1="138.5" y1="484.4" x2="141.5" y2="492.6" stroke="#000" stroke-width="2.0" stroke-linecap="round"/>
<polygon points="242.8,609.8 245.7,609.3 250.2,602.3 247.3,602.7" fill="#002dfd" stroke="#002dfd" stroke-width="0.7" stroke-linejoin="round"/>
<polygon points="190.1,633.5 192.9,633.8 197.8,626.2 194.9,625.9" fill="#00007a" stroke="#00007a" stroke-width="0.7" stroke-linejoin="round"/>
<polygon points="217.8,622.3 220.7,621.2 225.4,613.7 222.5,614.7" fill="#0000a1" stroke="#0000a1" stroke-width="0.7" stroke-linejoin="round"/>
<line x1="222.5" y1="614.7" x2="225.4" y2="613.7" stroke="#000" stroke-width="2.0" stroke-linecap="round"/>
<polygon points="149.2,561.1 152.3,574.6 157.5,571.1 154.4,558.2" fill="#c0fa32" stroke="#c0fa32" stroke-width="0.7" stroke-linejoin="round"/>
<polygon points="245.7,609.3 248.6,608.7 253.1,601.8 250.2,602.3" fill="#0043ff" stroke="#0043ff" stroke-width="0.7" stroke-linejoin="round"/>
<polygon points="192.9,633.8 195.8,634.1 200.6,626.3 197.8,626.2" fill="#00007b" stroke="#00007b" stroke-width="0.7" stroke-linejoin="round"/>
<polygon points="116.8,512.9 119.6,512.8 125.1,507.6 122.2,504.4" fill="#ff5400" stroke="#ff5400" stroke-width="0.7" stroke-linejoin="round"/>
<polygon points="220.7,621.2 223.6,620.1 228.3,612.7 225.4,613.7" fill="#0000b1" stroke="#0000b1" stroke-width="0.7" stroke-linejoin="round"/>
<line x1="225.4" y1="613.7" x2="228.3" y2="612.7" stroke="#000" stroke-width="2.0" stroke-linecap="round"/>
<polygon points="195.8,634.1 198.7,634.1 203.5,626.2 200.6,626.3" fill="#00007c" stroke="#00007c" stroke-width="0.7" stroke-linejoin="round"/>
<polygon points="248.6,608.7 251.5,608.2 256.0,601.4 253.1,601.8" fill="#005dff" stroke="#005dff" stroke-width="0.7" stroke-linejoin="round"/>
<polygon points="113.4,493.8 116.8,512.9 122.2,504.4 119.0,490.8" fill="#ff3900" stroke="#ff3900" stroke-width="0.7" stroke-linejoin="round"/>
<polygon points="146.1,548.8 149.2,561.1 154.4,558.2 151.4,546.4" fill="#f0f40b" stroke="#f0f40b" stroke-width="0.7" stroke-linejoin="round"/>
<polygon points="119.6,512.8 122.4,509.0 127.8,502.3 125.1,507.6" fill="#ff4d00" stroke="#ff4d00" stroke-width="0.7" stroke-linejoin="round"/>
<polygon points="198.7,634.1 201.5,633.5 206.4,625.6 203.5,626.2" fill="#00007f" stroke="#00007f" stroke-width="0.7" stroke-linejoin="round"/>
<polygon points="223.6,620.1 226.5,619.3 231.2,611.9 228.3,612.7" fill="#0000c1" stroke="#0000c1" stroke-width="0.7" stroke-linejoin="round"/>
<line x1="228.3" y1="612.7" x2="231.2" y2="611.9" stroke="#000" stroke-width="2.0" stroke-linecap="round"/>
<polygon points="143.0,538.0 146.1,548.8 151.4,546.4 148.3,535.7" fill="#ffc300" stroke="#ffc300" stroke-width="0.7" stroke-linejoin="round"/>
<polygon points="201.5,633.5 204.4,632.8 209.2,625.0 206.4,625.6" fill="#000081" stroke="#000081" stroke-width="0.7" stroke-linejoin="round"/>
<polygon points="226.5,619.3 229.4,618.6 234.1,611.2 231.2,611.9" fill="#0000d2" stroke="#0000d2" stroke-width="0.7" stroke-linejoin="round"/>
<line x1="231.2" y1="611.9" x2="234.1" y2="611.2" stroke="#000" stroke-width="2.0" stroke-linecap="round"/>
<polygon points="168.3,627.8 171.2,632.3 175.7,626.1 172.9,622.0" fill="#000086" stroke="#000086" stroke-width="0.7" stroke-linejoin="round"/>
<line x1="172.9" y1="622.0" x2="175.7" y2="626.1" stroke="#000" stroke-width="2.0" stroke-linecap="round"/>
<polygon points="165.4,623.1 168.3,627.8 172.9,622.0 170.0,617.5" fill="#000095" stroke="#000095" stroke-width="0.7" stroke-linejoin="round"/>
<line x1="170.0" y1="617.5" x2="172.9" y2="622.0" stroke="#000" stroke-width="2.0" stroke-linecap="round"/>
<polygon points="162.5,617.6 165.4,623.1 170.0,617.5 167.1,612.3" fill="#0000bf" stroke="#0000bf" stroke-width="0.7" stroke-linejoin="round"/>
<polygon points="171.2,632.3 174.1,634.5 178.6,628.1 175.7,626.1" fill="#000080" stroke="#000080" stroke-width="0.7" stroke-linejoin="round"/>
<line x1="167.1" y1="612.3" x2="170.0" y2="617.5" stroke="#000" stroke-width="2.0" stroke-linecap="round"/>
<line x1="175.7" y1="626.1" x2="178.6" y2="628.1" stroke="#000" stroke-width="2.0" stroke-linecap="round"/>
<polygon points="159.5,610.4 162.5,617.6 167.1,612.3 164.1,605.6" fill="#001bf6" stroke="#001bf6" stroke-width="0.7" stroke-linejoin="round"/>
<line x1="164.1" y1="605.6" x2="167.1" y2="612.3" stroke="#000" stroke-width="2.0" stroke-linecap="round"/>
<polygon points="174.1,634.5 177.0,636.2 181.5,629.6 178.6,628.1" fill="#00007e" stroke="#00007e" stroke-width="0.7" stroke-linejoin="round"/>
<line x1="178.6" y1="628.1" x2="181.5" y2="629.6" stroke="#000" stroke-width="2.0" stroke-linecap="round"/>
<polygon points="139.9,528.1 143.0,538.0 148.3,535.7 145.3,526.2" fill="#ff9600" stroke="#ff9600" stroke-width="0.7" stroke-linejoin="round"/>
<polygon points="229.4,618.6 232.3,618.0 237.0,610.7 234.1,611.2" fill="#0000e1" stroke="#0000e1" stroke-width="0.7" stroke-linejoin="round"/>
<line x1="234.1" y1="611.2" x2="237.0" y2="610.7" stroke="#000" stroke-width="2.0" stroke-linecap="round"/>
<polygon points="204.4,632.8 207.3,632.2 212.1,624.4 209.2,625.0" fill="#000084" stroke="#000084" stroke-width="0.7" stroke-linejoin="round"/>
<polygon points="156.5,603.2 159.5,610.4 164.1,605.6 161.2,599.0" fill="#0097fe" stroke="#0097fe" stroke-width="0.7" stroke-linejoin="round"/>
<line x1="161.2" y1="599.0" x2="164.1" y2="605.6" stroke="#000" stroke-width="2.0" stroke-linecap="round"/>
<polygon points="122.4,509.0 124.9,494.3 130.3,491.4 127.8,502.3" fill="#ff3000" stroke="#ff3000" stroke-width="0.7" stroke-linejoin="round"/>
<polygon points="177.0,636.2 179.9,637.9 184.3,631.2 181.5,629.6" fill="#00007b" stroke="#00007b" stroke-width="0.7" stroke-linejoin="round"/>
<line x1="181.5" y1="629.6" x2="184.3" y2="631.2" stroke="#000" stroke-width="2.0" stroke-linecap="round"/>
<polygon points="109.6,459.8 113.4,493.8 119.0,490.8 115.3,458.9" fill="#c60000" stroke="#c60000" stroke-width="0.7" stroke-linejoin="round"/>
<polygon points="136.9,520.4 139.9,528.1 145.3,526.2 142.3,519.4" fill="#ff7700" stroke="#ff7700" stroke-width="0.7" stroke-linejoin="round"/>
<polygon points="153.6,597.4 156.5,603.2 161.2,599.0 158.3,593.6" fill="#00deea" stroke="#00deea" stroke-width="0.7" stroke-linejoin="round"/>
<line x1="158.3" y1="593.6" x2="161.2" y2="599.0" stroke="#000" stroke-width="2.0" stroke-linecap="round"/>
<polygon points="179.9,637.9 182.7,639.7 187.2,632.8 184.3,631.2" fill="#000079" stroke="#000079" stroke-width="0.7" stroke-linejoin="round"/>
<line x1="184.3" y1="631.2" x2="187.2" y2="632.8" stroke="#000" stroke-width="2.0" stroke-linecap="round"/>
<polygon points="232.3,618.0 235.2,617.5 239.9,610.3 237.0,610.7" fill="#0004ed" stroke="#0004ed" stroke-width="0.7" stroke-linejoin="round"/>
<polygon points="150.6,591.1 153.6,597.4 158.3,593.6 155.3,587.4" fill="#52f094" stroke="#52f094" stroke-width="0.7" stroke-linejoin="round"/>
<line x1="237.0" y1="610.7" x2="239.9" y2="610.3" stroke="#000" stroke-width="2.0" stroke-linecap="round"/>
<line x1="155.3" y1="587.4" x2="158.3" y2="593.6" stroke="#000" stroke-width="2.0" stroke-linecap="round"/>
<polygon points="207.3,632.2 210.2,631.1 215.0,623.4 212.1,624.4" fill="#000087" stroke="#000087" stroke-width="0.7" stroke-linejoin="round"/>
<polygon points="133.8,510.9 136.9,520.4 142.3,519.4 139.3,507.3" fill="#ff5a00" stroke="#ff5a00" stroke-width="0.7" stroke-linejoin="round"/>
<polygon points="182.7,639.7 185.6,640.4 190.1,633.5 187.2,632.8" fill="#000078" stroke="#000078" stroke-width="0.7" stroke-linejoin="round"/>
<line x1="187.2" y1="632.8" x2="190.1" y2="633.5" stroke="#000" stroke-width="2.0" stroke-linecap="round"/>
<polygon points="235.2,617.5 238.2,616.9 242.8,609.8 239.9,610.3" fill="#0014f3" stroke="#0014f3" stroke-width="0.7" stroke-linejoin="round"/>
<line x1="239.9" y1="610.3" x2="242.8" y2="609.8" stroke="#000" stroke-width="2.0" stroke-linecap="round"/>
<polygon points="147.5,577.8 150.6,591.1 155.3,587.4 152.3,574.6" fill="#93fa5d" stroke="#93fa5d" stroke-width="0.7" stroke-linejoin="round"/>
<line x1="152.3" y1="574.6" x2="155.3" y2="587.4" stroke="#000" stroke-width="2.0" stroke-linecap="round"/>
<polygon points="210.2,631.1 213.1,630.0 217.8,622.3 215.0,623.4" fill="#00008b" stroke="#00008b" stroke-width="0.7" stroke-linejoin="round"/>
<polygon points="130.8,501.9 133.8,510.9 139.3,507.3 136.2,497.2" fill="#ff3b00" stroke="#ff3b00" stroke-width="0.7" stroke-linejoin="round"/>
<polygon points="185.6,640.4 188.5,640.8 192.9,633.8 190.1,633.5" fill="#000078" stroke="#000078" stroke-width="0.7" stroke-linejoin="round"/>
<line x1="190.1" y1="633.5" x2="192.9" y2="633.8" stroke="#000" stroke-width="2.0" stroke-linecap="round"/>
<polygon points="238.2,616.9 241.1,616.3 245.7,609.3 242.8,609.8" fill="#0025fa" stroke="#0025fa" stroke-width="0.7" stroke-linejoin="round"/>
<line x1="242.8" y1="609.8" x2="245.7" y2="609.3" stroke="#000" stroke-width="2.0" stroke-linecap="round"/>
<polygon points="124.9,494.3 127.5,486.5 133.1,485.4 130.3,491.4" fill="#f51200" stroke="#f51200" stroke-width="0.7" stroke-linejoin="round"/>
<polygon points="188.5,640.8 191.4,641.2 195.8,634.1 192.9,633.8" fill="#000079" stroke="#000079" stroke-width="0.7" stroke-linejoin="round"/>
<line x1="192.9" y1="633.8" x2="195.8" y2="634.1" stroke="#000" stroke-width="2.0" stroke-linecap="round"/>
<polygon points="213.1,630.0 216.0,628.8 220.7,621.2 217.8,622.3" fill="#000098" stroke="#000098" stroke-width="0.7" stroke-linejoin="round"/>
<polygon points="127.5,486.5 130.8,501.9 136.2,497.2 133.1,485.4" fill="#ff1900" stroke="#ff1900" stroke-width="0.7" stroke-linejoin="round"/>
<polygon points="111.8,517.2 114.7,520.5 119.6,512.8 116.8,512.9" fill="#ff5700" stroke="#ff5700" stroke-width="0.7" stroke-linejoin="round"/>
<line x1="116.8" y1="512.9" x2="119.6" y2="512.8" stroke="#000" stroke-width="2.0" stroke-linecap="round"/>
<polygon points="241.1,616.3 244.0,615.7 248.6,608.7 245.7,609.3" fill="#0038ff" stroke="#0038ff" stroke-width="0.7" stroke-linejoin="round"/>
<line x1="245.7" y1="609.3" x2="248.6" y2="608.7" stroke="#000" stroke-width="2.0" stroke-linecap="round"/>
<polygon points="144.4,563.6 147.5,577.8 152.3,574.6 149.2,561.1" fill="#ccfa27" stroke="#ccfa27" stroke-width="0.7" stroke-linejoin="round"/>
<line x1="149.2" y1="561.1" x2="152.3" y2="574.6" stroke="#000" stroke-width="2.0" stroke-linecap="round"/>
<polygon points="191.4,641.2 194.3,641.2 198.7,634.1 195.8,634.1" fill="#00007a" stroke="#00007a" stroke-width="0.7" stroke-linejoin="round"/>
<line x1="195.8" y1="634.1" x2="198.7" y2="634.1" stroke="#000" stroke-width="2.0" stroke-linecap="round"/>
<polygon points="108.4,500.6 111.8,517.2 116.8,512.9 113.4,493.8" fill="#ff3900" stroke="#ff3900" stroke-width="0.7" stroke-linejoin="round"/>
<line x1="113.4" y1="493.8" x2="116.8" y2="512.9" stroke="#000" stroke-width="2.0" stroke-linecap="round"/>
<polygon points="216.0,628.8 218.9,627.6 223.6,620.1 220.7,621.2" fill="#0000a8" stroke="#0000a8" stroke-width="0.7" stroke-linejoin="round"/>
<polygon points="244.0,615.7 247.0,615.1 251.5,608.2 248.6,608.7" fill="#0054ff" stroke="#0054ff" stroke-width="0.7" stroke-linejoin="round"/>
<polygon points="114.7,520.5 117.4,514.2 122.4,509.0 119.6,512.8" fill="#ff4f00" stroke="#ff4f00" stroke-width="0.7" stroke-linejoin="round"/>
<line x1="119.6" y1="512.8" x2="122.4" y2="509.0" stroke="#000" stroke-width="2.0" stroke-linecap="round"/>
<polygon points="194.3,641.2 197.1,640.6 201.5,633.5 198.7,634.1" fill="#00007c" stroke="#00007c" stroke-width="0.7" stroke-linejoin="round"/>
<line x1="198.7" y1="634.1" x2="201.5" y2="633.5" stroke="#000" stroke-width="2.0" stroke-linecap="round"/>
<polygon points="141.2,551.0 144.4,563.6 149.2,561.1 146.1,548.8" fill="#fdf102" stroke="#fdf102" stroke-width="0.7" stroke-linejoin="round"/>
<line x1="146.1" y1="548.8" x2="149.2" y2="561.1" stroke="#000" stroke-width="2.0" stroke-linecap="round"/>
<polygon points="218.9,627.6 221.8,626.8 226.5,619.3 223.6,620.1" fill="#0000b7" stroke="#0000b7" stroke-width="0.7" stroke-linejoin="round"/>
<polygon points="163.7,633.8 166.6,638.5 171.2,632.3 168.3,627.8" fill="#000086" stroke="#000086" stroke-width="0.7" stroke-linejoin="round"/>
<polygon points="160.8,628.8 163.7,633.8 168.3,627.8 165.4,623.1" fill="#000097" stroke="#000097" stroke-width="0.7" stroke-linejoin="round"/>
<polygon points="197.1,640.6 200.0,640.0 204.4,632.8 201.5,633.5" fill="#00007f" stroke="#00007f" stroke-width="0.7" stroke-linejoin="round"/>
<line x1="201.5" y1="633.5" x2="204.4" y2="632.8" stroke="#000" stroke-width="2.0" stroke-linecap="round"/>
<polygon points="166.6,638.5 169.5,641.0 174.1,634.5 171.2,632.3" fill="#000080" stroke="#000080" stroke-width="0.7" stroke-linejoin="round"/>
<polygon points="157.8,623.0 160.8,628.8 165.4,623.1 162.5,617.6" fill="#0000c4" stroke="#0000c4" stroke-width="0.7" stroke-linejoin="round"/>
<polygon points="169.5,641.0 172.4,642.8 177.0,636.2 174.1,634.5" fill="#00007d" stroke="#00007d" stroke-width="0.7" stroke-linejoin="round"/>
<polygon points="221.8,626.8 224.7,626.0 229.4,618.6 226.5,619.3" fill="#0000c8" stroke="#0000c8" stroke-width="0.7" stroke-linejoin="round"/>
<polygon points="154.8,615.2 157.8,623.0 162.5,617.6 159.5,610.4" fill="#0027fb" stroke="#0027fb" stroke-width="0.7" stroke-linejoin="round"/>
<polygon points="138.1,540.1 141.2,551.0 146.1,548.8 143.0,538.0" fill="#ffb000" stroke="#ffb000" stroke-width="0.7" stroke-linejoin="round"/>
<line x1="143.0" y1="538.0" x2="146.1" y2="548.8" stroke="#000" stroke-width="2.0" stroke-linecap="round"/>
<polygon points="172.4,642.8 175.3,644.7 179.9,637.9 177.0,636.2" fill="#00007a" stroke="#00007a" stroke-width="0.7" stroke-linejoin="round"/>
<polygon points="200.0,640.0 202.9,639.3 207.3,632.2 204.4,632.8" fill="#000081" stroke="#000081" stroke-width="0.7" stroke-linejoin="round"/>
<line x1="204.4" y1="632.8" x2="207.3" y2="632.2" stroke="#000" stroke-width="2.0" stroke-linecap="round"/>
<polygon points="151.8,607.6 154.8,615.2 159.5,610.4 156.5,603.2" fill="#00acfc" stroke="#00acfc" stroke-width="0.7" stroke-linejoin="round"/>
<polygon points="224.7,626.0 227.6,625.4 232.3,618.0 229.4,618.6" fill="#0000d7" stroke="#0000d7" stroke-width="0.7" stroke-linejoin="round"/>
<polygon points="175.3,644.7 178.2,646.6 182.7,639.7 179.9,637.9" fill="#000078" stroke="#000078" stroke-width="0.7" stroke-linejoin="round"/>
<polygon points="117.4,514.2 119.8,496.7 124.9,494.3 122.4,509.0" fill="#ff2c00" stroke="#ff2c00" stroke-width="0.7" stroke-linejoin="round"/>
<line x1="122.4" y1="509.0" x2="124.9" y2="494.3" stroke="#000" stroke-width="2.0" stroke-linecap="round"/>
<polygon points="148.8,601.3 151.8,607.6 156.5,603.2 153.6,597.4" fill="#05ebdc" stroke="#05ebdc" stroke-width="0.7" stroke-linejoin="round"/>
<polygon points="135.0,530.0 138.1,540.1 143.0,538.0 139.9,528.1" fill="#ff8700" stroke="#ff8700" stroke-width="0.7" stroke-linejoin="round"/>
<line x1="139.9" y1="528.1" x2="143.0" y2="538.0" stroke="#000" stroke-width="2.0" stroke-linecap="round"/>
<polygon points="202.9,639.3 205.8,638.2 210.2,631.1 207.3,632.2" fill="#000085" stroke="#000085" stroke-width="0.7" stroke-linejoin="round"/>
<line x1="207.3" y1="632.2" x2="210.2" y2="631.1" stroke="#000" stroke-width="2.0" stroke-linecap="round"/>
<polygon points="178.2,646.6 181.1,647.4 185.6,640.4 182.7,639.7" fill="#000076" stroke="#000076" stroke-width="0.7" stroke-linejoin="round"/>
<polygon points="145.8,594.8 148.8,601.3 153.6,597.4 150.6,591.1" fill="#64f486" stroke="#64f486" stroke-width="0.7" stroke-linejoin="round"/>
<polygon points="104.4,461.4 108.4,500.6 113.4,493.8 109.6,459.8" fill="#bc0000" stroke="#bc0000" stroke-width="0.7" stroke-linejoin="round"/>
<line x1="109.6" y1="459.8" x2="113.4" y2="493.8" stroke="#000" stroke-width="2.0" stroke-linecap="round"/>
<polygon points="227.6,625.4 230.6,624.8 235.2,617.5 232.3,618.0" fill="#0000e6" stroke="#0000e6" stroke-width="0.7" stroke-linejoin="round"/>
<polygon points="132.0,524.1 135.0,530.0 139.9,528.1 136.9,520.4" fill="#ff6b00" stroke="#ff6b00" stroke-width="0.7" stroke-linejoin="round"/>
<line x1="136.9" y1="520.4" x2="139.9" y2="528.1" stroke="#000" stroke-width="2.0" stroke-linecap="round"/>
<polygon points="181.1,647.4 184.0,647.9 188.5,640.8 185.6,640.4" fill="#000076" stroke="#000076" stroke-width="0.7" stroke-linejoin="round"/>
<polygon points="128.8,511.2 132.0,524.1 136.9,520.4 133.8,510.9" fill="#ff4e00" stroke="#ff4e00" stroke-width="0.7" stroke-linejoin="round"/>
<polygon points="205.8,638.2 208.7,636.9 213.1,630.0 210.2,631.1" fill="#000089" stroke="#000089" stroke-width="0.7" stroke-linejoin="round"/>
<line x1="133.8" y1="510.9" x2="136.9" y2="520.4" stroke="#000" stroke-width="2.0" stroke-linecap="round"/>
<line x1="210.2" y1="631.1" x2="213.1" y2="630.0" stroke="#000" stroke-width="2.0" stroke-linecap="round"/>
<polygon points="142.7,581.0 145.8,594.8 150.6,591.1 147.5,577.8" fill="#9efa52" stroke="#9efa52" stroke-width="0.7" stroke-linejoin="round"/>
<polygon points="230.6,624.8 233.5,624.1 238.2,616.9 235.2,617.5" fill="#000bef" stroke="#000bef" stroke-width="0.7" stroke-linejoin="round"/>
<polygon points="184.0,647.9 186.9,648.3 191.4,641.2 188.5,640.8" fill="#000077" stroke="#000077" stroke-width="0.7" stroke-linejoin="round"/>
<polygon points="125.7,501.2 128.8,511.2 133.8,510.9 130.8,501.9" fill="#ff2f00" stroke="#ff2f00" stroke-width="0.7" stroke-linejoin="round"/>
<line x1="130.8" y1="501.9" x2="133.8" y2="510.9" stroke="#000" stroke-width="2.0" stroke-linecap="round"/>
<polygon points="106.7,521.6 109.8,528.2 114.7,520.5 111.8,517.2" fill="#ff5900" stroke="#ff5900" stroke-width="0.7" stroke-linejoin="round"/>
<polygon points="208.7,636.9 211.6,635.7 216.0,628.8 213.1,630.0" fill="#00008f" stroke="#00008f" stroke-width="0.7" stroke-linejoin="round"/>
<line x1="213.1" y1="630.0" x2="216.0" y2="628.8" stroke="#000" stroke-width="2.0" stroke-linecap="round"/>
<polygon points="233.5,624.1 236.4,623.5 241.1,616.3 238.2,616.9" fill="#001df7" stroke="#001df7" stroke-width="0.7" stroke-linejoin="round"/>
<polygon points="186.9,648.3 189.8,648.4 194.3,641.2 191.4,641.2" fill="#000078" stroke="#000078" stroke-width="0.7" stroke-linejoin="round"/>
<polygon points="119.8,496.7 122.6,491.5 127.5,486.5 124.9,494.3" fill="#e90a00" stroke="#e90a00" stroke-width="0.7" stroke-linejoin="round"/>
<line x1="124.9" y1="494.3" x2="127.5" y2="486.5" stroke="#000" stroke-width="2.0" stroke-linecap="round"/>
<polygon points="161.1,637.1 164.1,642.1 166.6,638.5 163.7,633.8" fill="#000086" stroke="#000086" stroke-width="0.7" stroke-linejoin="round"/>
<line x1="163.7" y1="633.8" x2="166.6" y2="638.5" stroke="#000" stroke-width="2.0" stroke-linecap="round"/>
<polygon points="103.4,507.4 106.7,521.6 111.8,517.2 108.4,500.6" fill="#ff3a00" stroke="#ff3a00" stroke-width="0.7" stroke-linejoin="round"/>
<polygon points="122.6,491.5 125.7,501.2 130.8,501.9 127.5,486.5" fill="#f41100" stroke="#f41100" stroke-width="0.7" stroke-linejoin="round"/>
<line x1="127.5" y1="486.5" x2="130.8" y2="501.9" stroke="#000" stroke-width="2.0" stroke-linecap="round"/>
<polygon points="139.5,566.3 142.7,581.0 147.5,577.8 144.4,563.6" fill="#d8fa1d" stroke="#d8fa1d" stroke-width="0.7" stroke-linejoin="round"/>
<polygon points="164.1,642.1 167.0,644.6 169.5,641.0 166.6,638.5" fill="#00007f" stroke="#00007f" stroke-width="0.7" stroke-linejoin="round"/>
<line x1="166.6" y1="638.5" x2="169.5" y2="641.0" stroke="#000" stroke-width="2.0" stroke-linecap="round"/>
<polygon points="158.2,632.0 161.1,637.1 163.7,633.8 160.8,628.8" fill="#000098" stroke="#000098" stroke-width="0.7" stroke-linejoin="round"/>
<line x1="160.8" y1="628.8" x2="163.7" y2="633.8" stroke="#000" stroke-width="2.0" stroke-linecap="round"/>
<polygon points="236.4,623.5 239.4,622.8 244.0,615.7 241.1,616.3" fill="#002ffe" stroke="#002ffe" stroke-width="0.7" stroke-linejoin="round"/>
<polygon points="211.6,635.7 214.6,634.5 218.9,627.6 216.0,628.8" fill="#0000a0" stroke="#0000a0" stroke-width="0.7" stroke-linejoin="round"/>
<polygon points="109.8,528.2 112.4,519.5 117.4,514.2 114.7,520.5" fill="#ff5300" stroke="#ff5300" stroke-width="0.7" stroke-linejoin="round"/>
<line x1="216.0" y1="628.8" x2="218.9" y2="627.6" stroke="#000" stroke-width="2.0" stroke-linecap="round"/>
<polygon points="155.2,626.0 158.2,632.0 160.8,628.8 157.8,623.0" fill="#0000c9" stroke="#0000c9" stroke-width="0.7" stroke-linejoin="round"/>
<line x1="157.8" y1="623.0" x2="160.8" y2="628.8" stroke="#000" stroke-width="2.0" stroke-linecap="round"/>
<polygon points="189.8,648.4 192.7,647.8 197.1,640.6 194.3,641.2" fill="#00007a" stroke="#00007a" stroke-width="0.7" stroke-linejoin="round"/>
<polygon points="167.0,644.6 169.9,646.6 172.4,642.8 169.5,641.0" fill="#00007c" stroke="#00007c" stroke-width="0.7" stroke-linejoin="round"/>
<line x1="169.5" y1="641.0" x2="172.4" y2="642.8" stroke="#000" stroke-width="2.0" stroke-linecap="round"/>
<polygon points="152.2,617.9 155.2,626.0 157.8,623.0 154.8,615.2" fill="#0030fe" stroke="#0030fe" stroke-width="0.7" stroke-linejoin="round"/>
<line x1="154.8" y1="615.2" x2="157.8" y2="623.0" stroke="#000" stroke-width="2.0" stroke-linecap="round"/>
<polygon points="169.9,646.6 172.8,648.5 175.3,644.7 172.4,642.8" fill="#000079" stroke="#000079" stroke-width="0.7" stroke-linejoin="round"/>
<line x1="172.4" y1="642.8" x2="175.3" y2="644.7" stroke="#000" stroke-width="2.0" stroke-linecap="round"/>
<polygon points="239.4,622.8 242.3,622.1 247.0,615.1 244.0,615.7" fill="#004bff" stroke="#004bff" stroke-width="0.7" stroke-linejoin="round"/>
<polygon points="192.7,647.8 195.6,647.2 200.0,640.0 197.1,640.6" fill="#00007c" stroke="#00007c" stroke-width="0.7" stroke-linejoin="round"/>
<polygon points="214.6,634.5 217.5,633.6 221.8,626.8 218.9,627.6" fill="#0000af" stroke="#0000af" stroke-width="0.7" stroke-linejoin="round"/>
<line x1="218.9" y1="627.6" x2="221.8" y2="626.8" stroke="#000" stroke-width="2.0" stroke-linecap="round"/>
<polygon points="172.8,648.5 175.7,650.5 178.2,646.6 175.3,644.7" fill="#000076" stroke="#000076" stroke-width="0.7" stroke-linejoin="round"/>
<line x1="175.3" y1="644.7" x2="178.2" y2="646.6" stroke="#000" stroke-width="2.0" stroke-linecap="round"/>
<polygon points="149.2,610.0 152.2,617.9 154.8,615.2 151.8,607.6" fill="#00bdfb" stroke="#00bdfb" stroke-width="0.7" stroke-linejoin="round"/>
<line x1="151.8" y1="607.6" x2="154.8" y2="615.2" stroke="#000" stroke-width="2.0" stroke-linecap="round"/>
<polygon points="136.3,553.3 139.5,566.3 144.4,563.6 141.2,551.0" fill="#ffdf00" stroke="#ffdf00" stroke-width="0.7" stroke-linejoin="round"/>
<polygon points="175.7,650.5 178.6,651.3 181.1,647.4 178.2,646.6" fill="#000075" stroke="#000075" stroke-width="0.7" stroke-linejoin="round"/>
<line x1="178.2" y1="646.6" x2="181.1" y2="647.4" stroke="#000" stroke-width="2.0" stroke-linecap="round"/>
<polygon points="146.2,603.5 149.2,610.0 151.8,607.6 148.8,601.3" fill="#25edbf" stroke="#25edbf" stroke-width="0.7" stroke-linejoin="round"/>
<line x1="148.8" y1="601.3" x2="151.8" y2="607.6" stroke="#000" stroke-width="2.0" stroke-linecap="round"/>
<polygon points="195.6,647.2 198.5,646.5 202.9,639.3 200.0,640.0" fill="#00007f" stroke="#00007f" stroke-width="0.7" stroke-linejoin="round"/>
<polygon points="217.5,633.6 220.4,632.8 224.7,626.0 221.8,626.8" fill="#0000be" stroke="#0000be" stroke-width="0.7" stroke-linejoin="round"/>
<line x1="221.8" y1="626.8" x2="224.7" y2="626.0" stroke="#000" stroke-width="2.0" stroke-linecap="round"/>
<polygon points="143.1,596.9 146.2,603.5 148.8,601.3 145.8,594.8" fill="#71f77c" stroke="#71f77c" stroke-width="0.7" stroke-linejoin="round"/>
<line x1="145.8" y1="594.8" x2="148.8" y2="601.3" stroke="#000" stroke-width="2.0" stroke-linecap="round"/>
<polygon points="178.6,651.3 181.5,651.9 184.0,647.9 181.1,647.4" fill="#000075" stroke="#000075" stroke-width="0.7" stroke-linejoin="round"/>
<line x1="181.1" y1="647.4" x2="184.0" y2="647.9" stroke="#000" stroke-width="2.0" stroke-linecap="round"/>
<polygon points="133.2,542.2 136.3,553.3 141.2,551.0 138.1,540.1" fill="#ffa100" stroke="#ffa100" stroke-width="0.7" stroke-linejoin="round"/>
<polygon points="220.4,632.8 223.4,632.1 227.6,625.4 224.7,626.0" fill="#0000ce" stroke="#0000ce" stroke-width="0.7" stroke-linejoin="round"/>
<line x1="224.7" y1="626.0" x2="227.6" y2="625.4" stroke="#000" stroke-width="2.0" stroke-linecap="round"/>
<polygon points="198.5,646.5 201.4,645.3 205.8,638.2 202.9,639.3" fill="#000082" stroke="#000082" stroke-width="0.7" stroke-linejoin="round"/>
<polygon points="181.5,651.9 184.4,652.3 186.9,648.3 184.0,647.9" fill="#000075" stroke="#000075" stroke-width="0.7" stroke-linejoin="round"/>
<line x1="184.0" y1="647.9" x2="186.9" y2="648.3" stroke="#000" stroke-width="2.0" stroke-linecap="round"/>
<polygon points="158.5,640.4 161.5,645.6 164.1,642.1 161.1,637.1" fill="#000086" stroke="#000086" stroke-width="0.7" stroke-linejoin="round"/>
<polygon points="112.4,519.5 114.7,499.1 119.8,496.7 117.4,514.2" fill="#ff2800" stroke="#ff2800" stroke-width="0.7" stroke-linejoin="round"/>
<polygon points="161.5,645.6 164.4,648.2 167.0,644.6 164.1,642.1" fill="#00007f" stroke="#00007f" stroke-width="0.7" stroke-linejoin="round"/>
<polygon points="140.0,582.8 143.1,596.9 145.8,594.8 142.7,581.0" fill="#a7fa49" stroke="#a7fa49" stroke-width="0.7" stroke-linejoin="round"/>
<line x1="142.7" y1="581.0" x2="145.8" y2="594.8" stroke="#000" stroke-width="2.0" stroke-linecap="round"/>
<polygon points="155.6,635.2 158.5,640.4 161.1,637.1 158.2,632.0" fill="#000099" stroke="#000099" stroke-width="0.7" stroke-linejoin="round"/>
<polygon points="99.2,462.9 103.4,507.4 108.4,500.6 104.4,461.4" fill="#b80000" stroke="#b80000" stroke-width="0.7" stroke-linejoin="round"/>
<polygon points="152.6,629.0 155.6,635.2 158.2,632.0 155.2,626.0" fill="#0000cc" stroke="#0000cc" stroke-width="0.7" stroke-linejoin="round"/>
<polygon points="164.4,648.2 167.3,650.3 169.9,646.6 167.0,644.6" fill="#00007b" stroke="#00007b" stroke-width="0.7" stroke-linejoin="round"/>
<polygon points="104.0,528.1 107.0,531.0 109.8,528.2 106.7,521.6" fill="#ff5d00" stroke="#ff5d00" stroke-width="0.7" stroke-linejoin="round"/>
<line x1="106.7" y1="521.6" x2="109.8" y2="528.2" stroke="#000" stroke-width="2.0" stroke-linecap="round"/>
<polygon points="130.1,531.9 133.2,542.2 138.1,540.1 135.0,530.0" fill="#ff7a00" stroke="#ff7a00" stroke-width="0.7" stroke-linejoin="round"/>
<polygon points="223.4,632.1 226.3,631.4 230.6,624.8 227.6,625.4" fill="#0000de" stroke="#0000de" stroke-width="0.7" stroke-linejoin="round"/>
<line x1="227.6" y1="625.4" x2="230.6" y2="624.8" stroke="#000" stroke-width="2.0" stroke-linecap="round"/>
<polygon points="184.4,652.3 187.3,652.5 189.8,648.4 186.9,648.3" fill="#000076" stroke="#000076" stroke-width="0.7" stroke-linejoin="round"/>
<line x1="186.9" y1="648.3" x2="189.8" y2="648.4" stroke="#000" stroke-width="2.0" stroke-linecap="round"/>
<polygon points="167.3,650.3 170.2,652.3 172.8,648.5 169.9,646.6" fill="#000078" stroke="#000078" stroke-width="0.7" stroke-linejoin="round"/>
<polygon points="127.1,527.8 130.1,531.9 135.0,530.0 132.0,524.1" fill="#ff6200" stroke="#ff6200" stroke-width="0.7" stroke-linejoin="round"/>
<polygon points="201.4,645.3 204.3,644.0 208.7,636.9 205.8,638.2" fill="#000087" stroke="#000087" stroke-width="0.7" stroke-linejoin="round"/>
<polygon points="149.5,620.7 152.6,629.0 155.2,626.0 152.2,617.9" fill="#0039ff" stroke="#0039ff" stroke-width="0.7" stroke-linejoin="round"/>
<polygon points="170.2,652.3 173.2,654.4 175.7,650.5 172.8,648.5" fill="#000075" stroke="#000075" stroke-width="0.7" stroke-linejoin="round"/>
<polygon points="100.5,508.4 104.0,528.1 106.7,521.6 103.4,507.4" fill="#ff3c00" stroke="#ff3c00" stroke-width="0.7" stroke-linejoin="round"/>
<line x1="103.4" y1="507.4" x2="106.7" y2="521.6" stroke="#000" stroke-width="2.0" stroke-linecap="round"/>
<polygon points="226.3,631.4 229.2,630.7 233.5,624.1 230.6,624.8" fill="#0002ec" stroke="#0002ec" stroke-width="0.7" stroke-linejoin="round"/>
<line x1="230.6" y1="624.8" x2="233.5" y2="624.1" stroke="#000" stroke-width="2.0" stroke-linecap="round"/>
<polygon points="187.3,652.5 190.2,651.9 192.7,647.8 189.8,648.4" fill="#000078" stroke="#000078" stroke-width="0.7" stroke-linejoin="round"/>
<line x1="189.8" y1="648.4" x2="192.7" y2="647.8" stroke="#000" stroke-width="2.0" stroke-linecap="round"/>
<polygon points="123.8,511.5 127.1,527.8 132.0,524.1 128.8,511.2" fill="#ff4300" stroke="#ff4300" stroke-width="0.7" stroke-linejoin="round"/>
<polygon points="146.5,612.4 149.5,620.7 152.2,617.9 149.2,610.0" fill="#00c9f9" stroke="#00c9f9" stroke-width="0.7" stroke-linejoin="round"/>
<polygon points="107.0,531.0 109.5,519.3 112.4,519.5 109.8,528.2" fill="#ff5200" stroke="#ff5200" stroke-width="0.7" stroke-linejoin="round"/>
<line x1="109.8" y1="528.2" x2="112.4" y2="519.5" stroke="#000" stroke-width="2.0" stroke-linecap="round"/>
<polygon points="136.8,567.7 140.0,582.8 142.7,581.0 139.5,566.3" fill="#e0f817" stroke="#e0f817" stroke-width="0.7" stroke-linejoin="round"/>
<polygon points="173.2,654.4 176.1,655.3 178.6,651.3 175.7,650.5" fill="#000074" stroke="#000074" stroke-width="0.7" stroke-linejoin="round"/>
<line x1="139.5" y1="566.3" x2="142.7" y2="581.0" stroke="#000" stroke-width="2.0" stroke-linecap="round"/>
<polygon points="204.3,644.0 207.3,642.7 211.6,635.7 208.7,636.9" fill="#00008b" stroke="#00008b" stroke-width="0.7" stroke-linejoin="round"/>
<polygon points="143.5,605.6 146.5,612.4 149.2,610.0 146.2,603.5" fill="#3befaa" stroke="#3befaa" stroke-width="0.7" stroke-linejoin="round"/>
<polygon points="229.2,630.7 232.2,630.0 236.4,623.5 233.5,624.1" fill="#0015f4" stroke="#0015f4" stroke-width="0.7" stroke-linejoin="round"/>
<line x1="233.5" y1="624.1" x2="236.4" y2="623.5" stroke="#000" stroke-width="2.0" stroke-linecap="round"/>
<polygon points="176.1,655.3 179.0,655.8 181.5,651.9 178.6,651.3" fill="#000074" stroke="#000074" stroke-width="0.7" stroke-linejoin="round"/>
<polygon points="190.2,651.9 193.1,651.2 195.6,647.2 192.7,647.8" fill="#00007b" stroke="#00007b" stroke-width="0.7" stroke-linejoin="round"/>
<line x1="192.7" y1="647.8" x2="195.6" y2="647.2" stroke="#000" stroke-width="2.0" stroke-linecap="round"/>
<polygon points="140.4,599.0 143.5,605.6 146.2,603.5 143.1,596.9" fill="#7bf974" stroke="#7bf974" stroke-width="0.7" stroke-linejoin="round"/>
<polygon points="114.7,499.1 117.6,496.7 122.6,491.5 119.8,496.7" fill="#e20600" stroke="#e20600" stroke-width="0.7" stroke-linejoin="round"/>
<polygon points="120.6,500.4 123.8,511.5 128.8,511.2 125.7,501.2" fill="#ff1f00" stroke="#ff1f00" stroke-width="0.7" stroke-linejoin="round"/>
<polygon points="207.3,642.7 210.2,641.4 214.6,634.5 211.6,635.7" fill="#000098" stroke="#000098" stroke-width="0.7" stroke-linejoin="round"/>
<polygon points="156.2,643.4 159.2,648.7 161.5,645.6 158.5,640.4" fill="#000085" stroke="#000085" stroke-width="0.7" stroke-linejoin="round"/>
<line x1="158.5" y1="640.4" x2="161.5" y2="645.6" stroke="#000" stroke-width="2.0" stroke-linecap="round"/>
<polygon points="159.2,648.7 162.1,651.5 164.4,648.2 161.5,645.6" fill="#00007e" stroke="#00007e" stroke-width="0.7" stroke-linejoin="round"/>
<line x1="161.5" y1="645.6" x2="164.4" y2="648.2" stroke="#000" stroke-width="2.0" stroke-linecap="round"/>
<polygon points="179.0,655.8 181.9,656.4 184.4,652.3 181.5,651.9" fill="#000074" stroke="#000074" stroke-width="0.7" stroke-linejoin="round"/>
<polygon points="153.2,638.0 156.2,643.4 158.5,640.4 155.6,635.2" fill="#00009a" stroke="#00009a" stroke-width="0.7" stroke-linejoin="round"/>
<polygon points="117.6,496.7 120.6,500.4 125.7,501.2 122.6,491.5" fill="#e60900" stroke="#e60900" stroke-width="0.7" stroke-linejoin="round"/>
<line x1="155.6" y1="635.2" x2="158.5" y2="640.4" stroke="#000" stroke-width="2.0" stroke-linecap="round"/>
<polygon points="232.2,630.0 235.2,629.2 239.4,622.8 236.4,623.5" fill="#0029fb" stroke="#0029fb" stroke-width="0.7" stroke-linejoin="round"/>
<line x1="236.4" y1="623.5" x2="239.4" y2="622.8" stroke="#000" stroke-width="2.0" stroke-linecap="round"/>
<polygon points="193.1,651.2 196.0,650.6 198.5,646.5 195.6,647.2" fill="#00007d" stroke="#00007d" stroke-width="0.7" stroke-linejoin="round"/>
<polygon points="133.6,554.5 136.8,567.7 139.5,566.3 136.3,553.3" fill="#ffcf00" stroke="#ffcf00" stroke-width="0.7" stroke-linejoin="round"/>
<line x1="195.6" y1="647.2" x2="198.5" y2="646.5" stroke="#000" stroke-width="2.0" stroke-linecap="round"/>
<line x1="136.3" y1="553.3" x2="139.5" y2="566.3" stroke="#000" stroke-width="2.0" stroke-linecap="round"/>
<polygon points="101.3,534.7 104.1,533.9 107.0,531.0 104.0,528.1" fill="#ff6300" stroke="#ff6300" stroke-width="0.7" stroke-linejoin="round"/>
<polygon points="162.1,651.5 165.1,653.6 167.3,650.3 164.4,648.2" fill="#00007b" stroke="#00007b" stroke-width="0.7" stroke-linejoin="round"/>
<line x1="164.4" y1="648.2" x2="167.3" y2="650.3" stroke="#000" stroke-width="2.0" stroke-linecap="round"/>
<polygon points="150.2,631.7 153.2,638.0 155.6,635.2 152.6,629.0" fill="#0000ce" stroke="#0000ce" stroke-width="0.7" stroke-linejoin="round"/>
<line x1="152.6" y1="629.0" x2="155.6" y2="635.2" stroke="#000" stroke-width="2.0" stroke-linecap="round"/>
<polygon points="137.2,584.6 140.4,599.0 143.1,596.9 140.0,582.8" fill="#adfa44" stroke="#adfa44" stroke-width="0.7" stroke-linejoin="round"/>
<polygon points="210.2,641.4 213.1,640.5 217.5,633.6 214.6,634.5" fill="#0000a8" stroke="#0000a8" stroke-width="0.7" stroke-linejoin="round"/>
<polygon points="165.1,653.6 168.0,655.7 170.2,652.3 167.3,650.3" fill="#000077" stroke="#000077" stroke-width="0.7" stroke-linejoin="round"/>
<line x1="167.3" y1="650.3" x2="170.2" y2="652.3" stroke="#000" stroke-width="2.0" stroke-linecap="round"/>
<polygon points="181.9,656.4 184.8,656.6 187.3,652.5 184.4,652.3" fill="#000074" stroke="#000074" stroke-width="0.7" stroke-linejoin="round"/>
<polygon points="147.2,623.1 150.2,631.7 152.6,629.0 149.5,620.7" fill="#0043ff" stroke="#0043ff" stroke-width="0.7" stroke-linejoin="round"/>
<line x1="149.5" y1="620.7" x2="152.6" y2="629.0" stroke="#000" stroke-width="2.0" stroke-linecap="round"/>
<polygon points="235.2,629.2 238.1,628.4 242.3,622.1 239.4,622.8" fill="#0042ff" stroke="#0042ff" stroke-width="0.7" stroke-linejoin="round"/>
<polygon points="168.0,655.7 170.9,657.9 173.2,654.4 170.2,652.3" fill="#000074" stroke="#000074" stroke-width="0.7" stroke-linejoin="round"/>
<line x1="170.2" y1="652.3" x2="173.2" y2="654.4" stroke="#000" stroke-width="2.0" stroke-linecap="round"/>
<polygon points="196.0,650.6 199.0,649.3 201.4,645.3 198.5,646.5" fill="#000081" stroke="#000081" stroke-width="0.7" stroke-linejoin="round"/>
<line x1="198.5" y1="646.5" x2="201.4" y2="645.3" stroke="#000" stroke-width="2.0" stroke-linecap="round"/>
<polygon points="97.6,509.4 101.3,534.7 104.0,528.1 100.5,508.4" fill="#ff3e00" stroke="#ff3e00" stroke-width="0.7" stroke-linejoin="round"/>
<polygon points="130.4,543.4 133.6,554.5 136.3,553.3 133.2,542.2" fill="#ff9600" stroke="#ff9600" stroke-width="0.7" stroke-linejoin="round"/>
<line x1="133.2" y1="542.2" x2="136.3" y2="553.3" stroke="#000" stroke-width="2.0" stroke-linecap="round"/>
<polygon points="184.8,656.6 187.7,655.9 190.2,651.9 187.3,652.5" fill="#000076" stroke="#000076" stroke-width="0.7" stroke-linejoin="round"/>
<polygon points="213.1,640.5 216.1,639.7 220.4,632.8 217.5,633.6" fill="#0000b6" stroke="#0000b6" stroke-width="0.7" stroke-linejoin="round"/>
<polygon points="170.9,657.9 173.8,658.8 176.1,655.3 173.2,654.4" fill="#000073" stroke="#000073" stroke-width="0.7" stroke-linejoin="round"/>
<line x1="173.2" y1="654.4" x2="176.1" y2="655.3" stroke="#000" stroke-width="2.0" stroke-linecap="round"/>
<polygon points="144.1,614.6 147.2,623.1 149.5,620.7 146.5,612.4" fill="#00cef5" stroke="#00cef5" stroke-width="0.7" stroke-linejoin="round"/>
<line x1="146.5" y1="612.4" x2="149.5" y2="620.7" stroke="#000" stroke-width="2.0" stroke-linecap="round"/>
<polygon points="109.5,519.3 111.8,499.0 114.7,499.1 112.4,519.5" fill="#ff2100" stroke="#ff2100" stroke-width="0.7" stroke-linejoin="round"/>
<line x1="112.4" y1="519.5" x2="114.7" y2="499.1" stroke="#000" stroke-width="2.0" stroke-linecap="round"/>
<polygon points="96.3,465.1 100.5,508.4 103.4,507.4 99.2,462.9" fill="#b30000" stroke="#b30000" stroke-width="0.7" stroke-linejoin="round"/>
<line x1="99.2" y1="462.9" x2="103.4" y2="507.4" stroke="#000" stroke-width="2.0" stroke-linecap="round"/>
<polygon points="104.1,533.9 106.6,519.2 109.5,519.3 107.0,531.0" fill="#ff4c00" stroke="#ff4c00" stroke-width="0.7" stroke-linejoin="round"/>
<polygon points="199.0,649.3 201.9,648.0 204.3,644.0 201.4,645.3" fill="#000085" stroke="#000085" stroke-width="0.7" stroke-linejoin="round"/>
<polygon points="134.0,569.2 137.2,584.6 140.0,582.8 136.8,567.7" fill="#e6f613" stroke="#e6f613" stroke-width="0.7" stroke-linejoin="round"/>
<line x1="201.4" y1="645.3" x2="204.3" y2="644.0" stroke="#000" stroke-width="2.0" stroke-linecap="round"/>
<polygon points="141.1,607.6 144.1,614.6 146.5,612.4 143.5,605.6" fill="#50f096" stroke="#50f096" stroke-width="0.7" stroke-linejoin="round"/>
<line x1="143.5" y1="605.6" x2="146.5" y2="612.4" stroke="#000" stroke-width="2.0" stroke-linecap="round"/>
<polygon points="173.8,658.8 176.7,659.4 179.0,655.8 176.1,655.3" fill="#000072" stroke="#000072" stroke-width="0.7" stroke-linejoin="round"/>
<line x1="176.1" y1="655.3" x2="179.0" y2="655.8" stroke="#000" stroke-width="2.0" stroke-linecap="round"/>
<polygon points="127.3,533.3 130.4,543.4 133.2,542.2 130.1,531.9" fill="#ff7100" stroke="#ff7100" stroke-width="0.7" stroke-linejoin="round"/>
<line x1="130.1" y1="531.9" x2="133.2" y2="542.2" stroke="#000" stroke-width="2.0" stroke-linecap="round"/>
<polygon points="187.7,655.9 190.6,655.3 193.1,651.2 190.2,651.9" fill="#000079" stroke="#000079" stroke-width="0.7" stroke-linejoin="round"/>
<polygon points="216.1,639.7 219.0,638.9 223.4,632.1 220.4,632.8" fill="#0000c6" stroke="#0000c6" stroke-width="0.7" stroke-linejoin="round"/>
<polygon points="138.0,600.9 141.1,607.6 143.5,605.6 140.4,599.0" fill="#82fa6e" stroke="#82fa6e" stroke-width="0.7" stroke-linejoin="round"/>
<line x1="140.4" y1="599.0" x2="143.5" y2="605.6" stroke="#000" stroke-width="2.0" stroke-linecap="round"/>
<polygon points="124.3,528.8 127.3,533.3 130.1,531.9 127.1,527.8" fill="#ff5a00" stroke="#ff5a00" stroke-width="0.7" stroke-linejoin="round"/>
<line x1="127.1" y1="527.8" x2="130.1" y2="531.9" stroke="#000" stroke-width="2.0" stroke-linecap="round"/>
<polygon points="153.9,646.4 156.9,651.9 159.2,648.7 156.2,643.4" fill="#000085" stroke="#000085" stroke-width="0.7" stroke-linejoin="round"/>
<line x1="153.9" y1="646.4" x2="156.9" y2="651.9" stroke="#000" stroke-width="2.0" stroke-linecap="round"/>
<polygon points="156.9,651.9 159.8,654.7 162.1,651.5 159.2,648.7" fill="#00007e" stroke="#00007e" stroke-width="0.7" stroke-linejoin="round"/>
<line x1="156.9" y1="651.9" x2="159.8" y2="654.7" stroke="#000" stroke-width="2.0" stroke-linecap="round"/>
<polygon points="176.7,659.4 179.7,660.0 181.9,656.4 179.0,655.8" fill="#000073" stroke="#000073" stroke-width="0.7" stroke-linejoin="round"/>
<line x1="179.0" y1="655.8" x2="181.9" y2="656.4" stroke="#000" stroke-width="2.0" stroke-linecap="round"/>
<polygon points="150.9,640.9 153.9,646.4 156.2,643.4 153.2,638.0" fill="#00009b" stroke="#00009b" stroke-width="0.7" stroke-linejoin="round"/>
<line x1="150.9" y1="640.9" x2="153.9" y2="646.4" stroke="#000" stroke-width="2.0" stroke-linecap="round"/>
<polygon points="159.8,654.7 162.8,656.9 165.1,653.6 162.1,651.5" fill="#00007a" stroke="#00007a" stroke-width="0.7" stroke-linejoin="round"/>
<line x1="159.8" y1="654.7" x2="162.8" y2="656.9" stroke="#000" stroke-width="2.0" stroke-linecap="round"/>
<polygon points="201.9,648.0 204.8,646.6 207.3,642.7 204.3,644.0" fill="#000089" stroke="#000089" stroke-width="0.7" stroke-linejoin="round"/>
<line x1="204.3" y1="644.0" x2="207.3" y2="642.7" stroke="#000" stroke-width="2.0" stroke-linecap="round"/>
<polygon points="147.9,634.4 150.9,640.9 153.2,638.0 150.2,631.7" fill="#0000d1" stroke="#0000d1" stroke-width="0.7" stroke-linejoin="round"/>
<line x1="147.9" y1="634.4" x2="150.9" y2="640.9" stroke="#000" stroke-width="2.0" stroke-linecap="round"/>
<polygon points="98.7,535.6 101.6,535.0 104.1,533.9 101.3,534.7" fill="#ff6200" stroke="#ff6200" stroke-width="0.7" stroke-linejoin="round"/>
<polygon points="190.6,655.3 193.5,654.6 196.0,650.6 193.1,651.2" fill="#00007c" stroke="#00007c" stroke-width="0.7" stroke-linejoin="round"/>
<line x1="101.3" y1="534.7" x2="104.1" y2="533.9" stroke="#000" stroke-width="2.0" stroke-linecap="round"/>
<polygon points="219.0,638.9 222.0,638.2 226.3,631.4 223.4,632.1" fill="#0000d6" stroke="#0000d6" stroke-width="0.7" stroke-linejoin="round"/>
<polygon points="121.0,513.9 124.3,528.8 127.1,527.8 123.8,511.5" fill="#ff3c00" stroke="#ff3c00" stroke-width="0.7" stroke-linejoin="round"/>
<line x1="123.8" y1="511.5" x2="127.1" y2="527.8" stroke="#000" stroke-width="2.0" stroke-linecap="round"/>
<polygon points="162.8,656.9 165.7,659.1 168.0,655.7 165.1,653.6" fill="#000077" stroke="#000077" stroke-width="0.7" stroke-linejoin="round"/>
<line x1="162.8" y1="656.9" x2="165.7" y2="659.1" stroke="#000" stroke-width="2.0" stroke-linecap="round"/>
<polygon points="179.7,660.0 182.6,660.2 184.8,656.6 181.9,656.4" fill="#000073" stroke="#000073" stroke-width="0.7" stroke-linejoin="round"/>
<line x1="181.9" y1="656.4" x2="184.8" y2="656.6" stroke="#000" stroke-width="2.0" stroke-linecap="round"/>
<polygon points="134.8,586.2 138.0,600.9 140.4,599.0 137.2,584.6" fill="#b2fa3f" stroke="#b2fa3f" stroke-width="0.7" stroke-linejoin="round"/>
<line x1="137.2" y1="584.6" x2="140.4" y2="599.0" stroke="#000" stroke-width="2.0" stroke-linecap="round"/>
<polygon points="130.8,555.8 134.0,569.2 136.8,567.7 133.6,554.5" fill="#ffc300" stroke="#ffc300" stroke-width="0.7" stroke-linejoin="round"/>
<polygon points="144.8,625.6 147.9,634.4 150.2,631.7 147.2,623.1" fill="#004cff" stroke="#004cff" stroke-width="0.7" stroke-linejoin="round"/>
<line x1="144.8" y1="625.6" x2="147.9" y2="634.4" stroke="#000" stroke-width="2.0" stroke-linecap="round"/>
<polygon points="165.7,659.1 168.6,661.4 170.9,657.9 168.0,655.7" fill="#000074" stroke="#000074" stroke-width="0.7" stroke-linejoin="round"/>
<line x1="165.7" y1="659.1" x2="168.6" y2="661.4" stroke="#000" stroke-width="2.0" stroke-linecap="round"/>
<polygon points="204.8,646.6 207.7,645.3 210.2,641.4 207.3,642.7" fill="#000092" stroke="#000092" stroke-width="0.7" stroke-linejoin="round"/>
<line x1="207.3" y1="642.7" x2="210.2" y2="641.4" stroke="#000" stroke-width="2.0" stroke-linecap="round"/>
<polygon points="222.0,638.2 224.9,637.4 229.2,630.7 226.3,631.4" fill="#0000e6" stroke="#0000e6" stroke-width="0.7" stroke-linejoin="round"/>
<polygon points="193.5,654.6 196.5,653.4 199.0,649.3 196.0,650.6" fill="#00007f" stroke="#00007f" stroke-width="0.7" stroke-linejoin="round"/>
<polygon points="95.1,512.4 98.7,535.6 101.3,534.7 97.6,509.4" fill="#ff3e00" stroke="#ff3e00" stroke-width="0.7" stroke-linejoin="round"/>
<line x1="97.6" y1="509.4" x2="101.3" y2="534.7" stroke="#000" stroke-width="2.0" stroke-linecap="round"/>
<polygon points="168.6,661.4 171.6,662.3 173.8,658.8 170.9,657.9" fill="#000072" stroke="#000072" stroke-width="0.7" stroke-linejoin="round"/>
<line x1="168.6" y1="661.4" x2="171.6" y2="662.3" stroke="#000" stroke-width="2.0" stroke-linecap="round"/>
<polygon points="111.8,499.0 114.7,498.0 117.6,496.7 114.7,499.1" fill="#d90100" stroke="#d90100" stroke-width="0.7" stroke-linejoin="round"/>
<line x1="114.7" y1="499.1" x2="117.6" y2="496.7" stroke="#000" stroke-width="2.0" stroke-linecap="round"/>
<polygon points="182.6,660.2 185.5,659.5 187.7,655.9 184.8,656.6" fill="#000075" stroke="#000075" stroke-width="0.7" stroke-linejoin="round"/>
<line x1="184.8" y1="656.6" x2="187.7" y2="655.9" stroke="#000" stroke-width="2.0" stroke-linecap="round"/>
<polygon points="141.7,616.7 144.8,625.6 147.2,623.1 144.1,614.6" fill="#00d4f2" stroke="#00d4f2" stroke-width="0.7" stroke-linejoin="round"/>
<line x1="141.7" y1="616.7" x2="144.8" y2="625.6" stroke="#000" stroke-width="2.0" stroke-linecap="round"/>
<polygon points="117.8,503.6 121.0,513.9 123.8,511.5 120.6,500.4" fill="#fd1600" stroke="#fd1600" stroke-width="0.7" stroke-linejoin="round"/>
<line x1="120.6" y1="500.4" x2="123.8" y2="511.5" stroke="#000" stroke-width="2.0" stroke-linecap="round"/>
<polygon points="114.7,498.0 117.8,503.6 120.6,500.4 117.6,496.7" fill="#dd0300" stroke="#dd0300" stroke-width="0.7" stroke-linejoin="round"/>
<polygon points="127.6,544.6 130.8,555.8 133.6,554.5 130.4,543.4" fill="#ff8e00" stroke="#ff8e00" stroke-width="0.7" stroke-linejoin="round"/>
<line x1="117.6" y1="496.7" x2="120.6" y2="500.4" stroke="#000" stroke-width="2.0" stroke-linecap="round"/>
<polygon points="171.6,662.3 174.5,662.9 176.7,659.4 173.8,658.8" fill="#000071" stroke="#000071" stroke-width="0.7" stroke-linejoin="round"/>
<line x1="171.6" y1="662.3" x2="174.5" y2="662.9" stroke="#000" stroke-width="2.0" stroke-linecap="round"/>
<polygon points="224.9,637.4 227.9,636.6 232.2,630.0 229.2,630.7" fill="#000ef1" stroke="#000ef1" stroke-width="0.7" stroke-linejoin="round"/>
<polygon points="207.7,645.3 210.7,644.3 213.1,640.5 210.2,641.4" fill="#0000a2" stroke="#0000a2" stroke-width="0.7" stroke-linejoin="round"/>
<line x1="210.2" y1="641.4" x2="213.1" y2="640.5" stroke="#000" stroke-width="2.0" stroke-linecap="round"/>
<polygon points="138.7,609.5 141.7,616.7 144.1,614.6 141.1,607.6" fill="#57f290" stroke="#57f290" stroke-width="0.7" stroke-linejoin="round"/>
<line x1="138.7" y1="609.5" x2="141.7" y2="616.7" stroke="#000" stroke-width="2.0" stroke-linecap="round"/>
<polygon points="196.5,653.4 199.4,652.0 201.9,648.0 199.0,649.3" fill="#000084" stroke="#000084" stroke-width="0.7" stroke-linejoin="round"/>
<polygon points="101.6,535.0 104.1,521.6 106.6,519.2 104.1,533.9" fill="#ff4800" stroke="#ff4800" stroke-width="0.7" stroke-linejoin="round"/>
<line x1="104.1" y1="533.9" x2="106.6" y2="519.2" stroke="#000" stroke-width="2.0" stroke-linecap="round"/>
<polygon points="185.5,659.5 188.4,658.9 190.6,655.3 187.7,655.9" fill="#000078" stroke="#000078" stroke-width="0.7" stroke-linejoin="round"/>
<polygon points="93.3,467.2 97.6,509.4 100.5,508.4 96.3,465.1" fill="#ac0000" stroke="#ac0000" stroke-width="0.7" stroke-linejoin="round"/>
<line x1="187.7" y1="655.9" x2="190.6" y2="655.3" stroke="#000" stroke-width="2.0" stroke-linecap="round"/>
<polygon points="131.6,570.5 134.8,586.2 137.2,584.6 134.0,569.2" fill="#ebf50f" stroke="#ebf50f" stroke-width="0.7" stroke-linejoin="round"/>
<line x1="134.0" y1="569.2" x2="137.2" y2="584.6" stroke="#000" stroke-width="2.0" stroke-linecap="round"/>
<polygon points="106.6,519.2 108.9,498.9 111.8,499.0 109.5,519.3" fill="#ff1800" stroke="#ff1800" stroke-width="0.7" stroke-linejoin="round"/>
<polygon points="135.6,602.8 138.7,609.5 141.1,607.6 138.0,600.9" fill="#87fa69" stroke="#87fa69" stroke-width="0.7" stroke-linejoin="round"/>
<line x1="135.6" y1="602.8" x2="138.7" y2="609.5" stroke="#000" stroke-width="2.0" stroke-linecap="round"/>
<polygon points="174.5,662.9 177.4,663.6 179.7,660.0 176.7,659.4" fill="#000072" stroke="#000072" stroke-width="0.7" stroke-linejoin="round"/>
<line x1="174.5" y1="662.9" x2="177.4" y2="663.6" stroke="#000" stroke-width="2.0" stroke-linecap="round"/>
<polygon points="124.5,534.7 127.6,544.6 130.4,543.4 127.3,533.3" fill="#ff6a00" stroke="#ff6a00" stroke-width="0.7" stroke-linejoin="round"/>
<polygon points="227.9,636.6 230.9,635.7 235.2,629.2 232.2,630.0" fill="#0023f9" stroke="#0023f9" stroke-width="0.7" stroke-linejoin="round"/>
<polygon points="210.7,644.3 213.6,643.5 216.1,639.7 213.1,640.5" fill="#0000b0" stroke="#0000b0" stroke-width="0.7" stroke-linejoin="round"/>
<line x1="213.1" y1="640.5" x2="216.1" y2="639.7" stroke="#000" stroke-width="2.0" stroke-linecap="round"/>
<polygon points="121.4,529.8 124.5,534.7 127.3,533.3 124.3,528.8" fill="#ff5400" stroke="#ff5400" stroke-width="0.7" stroke-linejoin="round"/>
<polygon points="188.4,658.9 191.3,658.2 193.5,654.6 190.6,655.3" fill="#00007b" stroke="#00007b" stroke-width="0.7" stroke-linejoin="round"/>
<line x1="190.6" y1="655.3" x2="193.5" y2="654.6" stroke="#000" stroke-width="2.0" stroke-linecap="round"/>
<polygon points="199.4,652.0 202.3,650.6 204.8,646.6 201.9,648.0" fill="#000088" stroke="#000088" stroke-width="0.7" stroke-linejoin="round"/>
<polygon points="177.4,663.6 180.3,663.8 182.6,660.2 179.7,660.0" fill="#000072" stroke="#000072" stroke-width="0.7" stroke-linejoin="round"/>
<line x1="177.4" y1="663.6" x2="180.3" y2="663.8" stroke="#000" stroke-width="2.0" stroke-linecap="round"/>
<polygon points="96.1,536.4 99.0,536.1 101.6,535.0 98.7,535.6" fill="#ff5d00" stroke="#ff5d00" stroke-width="0.7" stroke-linejoin="round"/>
<line x1="96.1" y1="536.4" x2="99.0" y2="536.1" stroke="#000" stroke-width="2.0" stroke-linecap="round"/>
<polygon points="132.4,587.9 135.6,602.8 138.0,600.9 134.8,586.2" fill="#b6fa3b" stroke="#b6fa3b" stroke-width="0.7" stroke-linejoin="round"/>
<line x1="132.4" y1="587.9" x2="135.6" y2="602.8" stroke="#000" stroke-width="2.0" stroke-linecap="round"/>
<polygon points="230.9,635.7 233.9,634.9 238.1,628.4 235.2,629.2" fill="#003aff" stroke="#003aff" stroke-width="0.7" stroke-linejoin="round"/>
<polygon points="118.1,516.2 121.4,529.8 124.3,528.8 121.0,513.9" fill="#ff3700" stroke="#ff3700" stroke-width="0.7" stroke-linejoin="round"/>
<polygon points="213.6,643.5 216.6,642.7 219.0,638.9 216.1,639.7" fill="#0000bf" stroke="#0000bf" stroke-width="0.7" stroke-linejoin="round"/>
<line x1="216.1" y1="639.7" x2="219.0" y2="638.9" stroke="#000" stroke-width="2.0" stroke-linecap="round"/>
<polygon points="128.3,556.9 131.6,570.5 134.0,569.2 130.8,555.8" fill="#ffb800" stroke="#ffb800" stroke-width="0.7" stroke-linejoin="round"/>
<line x1="130.8" y1="555.8" x2="134.0" y2="569.2" stroke="#000" stroke-width="2.0" stroke-linecap="round"/>
<polygon points="180.3,663.8 183.3,663.2 185.5,659.5 182.6,660.2" fill="#000074" stroke="#000074" stroke-width="0.7" stroke-linejoin="round"/>
<line x1="180.3" y1="663.8" x2="183.3" y2="663.2" stroke="#000" stroke-width="2.0" stroke-linecap="round"/>
<polygon points="191.3,658.2 194.3,656.9 196.5,653.4 193.5,654.6" fill="#00007e" stroke="#00007e" stroke-width="0.7" stroke-linejoin="round"/>
<line x1="193.5" y1="654.6" x2="196.5" y2="653.4" stroke="#000" stroke-width="2.0" stroke-linecap="round"/>
<polygon points="92.5,515.4 96.1,536.4 98.7,535.6 95.1,512.4" fill="#ff3b00" stroke="#ff3b00" stroke-width="0.7" stroke-linejoin="round"/>
<line x1="92.5" y1="515.4" x2="96.1" y2="536.4" stroke="#000" stroke-width="2.0" stroke-linecap="round"/>
<polygon points="202.3,650.6 205.3,649.2 207.7,645.3 204.8,646.6" fill="#00008e" stroke="#00008e" stroke-width="0.7" stroke-linejoin="round"/>
<polygon points="216.6,642.7 219.6,641.9 222.0,638.2 219.0,638.9" fill="#0000d0" stroke="#0000d0" stroke-width="0.7" stroke-linejoin="round"/>
<line x1="219.0" y1="638.9" x2="222.0" y2="638.2" stroke="#000" stroke-width="2.0" stroke-linecap="round"/>
<polygon points="115.0,506.7 118.1,516.2 121.0,513.9 117.8,503.6" fill="#fb1600" stroke="#fb1600" stroke-width="0.7" stroke-linejoin="round"/>
<polygon points="108.9,498.9 111.8,499.4 114.7,498.0 111.8,499.0" fill="#d00000" stroke="#d00000" stroke-width="0.7" stroke-linejoin="round"/>
<polygon points="183.3,663.2 186.2,662.5 188.4,658.9 185.5,659.5" fill="#000077" stroke="#000077" stroke-width="0.7" stroke-linejoin="round"/>
<line x1="183.3" y1="663.2" x2="186.2" y2="662.5" stroke="#000" stroke-width="2.0" stroke-linecap="round"/>
<polygon points="194.3,656.9 197.2,655.5 199.4,652.0 196.5,653.4" fill="#000083" stroke="#000083" stroke-width="0.7" stroke-linejoin="round"/>
<line x1="196.5" y1="653.4" x2="199.4" y2="652.0" stroke="#000" stroke-width="2.0" stroke-linecap="round"/>
<polygon points="125.1,545.7 128.3,556.9 130.8,555.8 127.6,544.6" fill="#ff8800" stroke="#ff8800" stroke-width="0.7" stroke-linejoin="round"/>
<line x1="127.6" y1="544.6" x2="130.8" y2="555.8" stroke="#000" stroke-width="2.0" stroke-linecap="round"/>
<polygon points="205.3,649.2 208.2,648.2 210.7,644.3 207.7,645.3" fill="#00009e" stroke="#00009e" stroke-width="0.7" stroke-linejoin="round"/>
<polygon points="111.8,499.4 115.0,506.7 117.8,503.6 114.7,498.0" fill="#da0100" stroke="#da0100" stroke-width="0.7" stroke-linejoin="round"/>
<polygon points="99.0,536.1 101.5,523.9 104.1,521.6 101.6,535.0" fill="#ff4500" stroke="#ff4500" stroke-width="0.7" stroke-linejoin="round"/>
<line x1="99.0" y1="536.1" x2="101.5" y2="523.9" stroke="#000" stroke-width="2.0" stroke-linecap="round"/>
<polygon points="90.7,469.9 95.1,512.4 97.6,509.4 93.3,467.2" fill="#a80000" stroke="#a80000" stroke-width="0.7" stroke-linejoin="round"/>
<line x1="93.3" y1="467.2" x2="97.6" y2="509.4" stroke="#000" stroke-width="2.0" stroke-linecap="round"/>
<polygon points="129.1,571.9 132.4,587.9 134.8,586.2 131.6,570.5" fill="#f1f40b" stroke="#f1f40b" stroke-width="0.7" stroke-linejoin="round"/>
<line x1="129.1" y1="571.9" x2="132.4" y2="587.9" stroke="#000" stroke-width="2.0" stroke-linecap="round"/>
<polygon points="219.6,641.9 222.5,641.1 224.9,637.4 222.0,638.2" fill="#0000e1" stroke="#0000e1" stroke-width="0.7" stroke-linejoin="round"/>
<line x1="222.0" y1="638.2" x2="224.9" y2="637.4" stroke="#000" stroke-width="2.0" stroke-linecap="round"/>
<polygon points="104.1,521.6 106.4,503.5 108.9,498.9 106.6,519.2" fill="#fa1500" stroke="#fa1500" stroke-width="0.7" stroke-linejoin="round"/>
<line x1="106.6" y1="519.2" x2="108.9" y2="498.9" stroke="#000" stroke-width="2.0" stroke-linecap="round"/>
<polygon points="186.2,662.5 189.1,661.9 191.3,658.2 188.4,658.9" fill="#00007a" stroke="#00007a" stroke-width="0.7" stroke-linejoin="round"/>
<line x1="186.2" y1="662.5" x2="189.1" y2="661.9" stroke="#000" stroke-width="2.0" stroke-linecap="round"/>
<polygon points="122.0,536.2 125.1,545.7 127.6,544.6 124.5,534.7" fill="#ff6500" stroke="#ff6500" stroke-width="0.7" stroke-linejoin="round"/>
<line x1="124.5" y1="534.7" x2="127.6" y2="544.6" stroke="#000" stroke-width="2.0" stroke-linecap="round"/>
<polygon points="208.2,648.2 211.2,647.4 213.6,643.5 210.7,644.3" fill="#0000ac" stroke="#0000ac" stroke-width="0.7" stroke-linejoin="round"/>
<polygon points="197.2,655.5 200.1,654.1 202.3,650.6 199.4,652.0" fill="#000087" stroke="#000087" stroke-width="0.7" stroke-linejoin="round"/>
<line x1="199.4" y1="652.0" x2="202.3" y2="650.6" stroke="#000" stroke-width="2.0" stroke-linecap="round"/>
<polygon points="118.9,531.0 122.0,536.2 124.5,534.7 121.4,529.8" fill="#ff4e00" stroke="#ff4e00" stroke-width="0.7" stroke-linejoin="round"/>
<line x1="121.4" y1="529.8" x2="124.5" y2="534.7" stroke="#000" stroke-width="2.0" stroke-linecap="round"/>
<polygon points="222.5,641.1 225.5,640.3 227.9,636.6 224.9,637.4" fill="#0009ee" stroke="#0009ee" stroke-width="0.7" stroke-linejoin="round"/>
<line x1="224.9" y1="637.4" x2="227.9" y2="636.6" stroke="#000" stroke-width="2.0" stroke-linecap="round"/>
<polygon points="189.1,661.9 192.1,660.5 194.3,656.9 191.3,658.2" fill="#00007d" stroke="#00007d" stroke-width="0.7" stroke-linejoin="round"/>
<line x1="189.1" y1="661.9" x2="192.1" y2="660.5" stroke="#000" stroke-width="2.0" stroke-linecap="round"/>
<polygon points="211.2,647.4 214.2,646.6 216.6,642.7 213.6,643.5" fill="#0000ba" stroke="#0000ba" stroke-width="0.7" stroke-linejoin="round"/>
<polygon points="115.6,517.4 118.9,531.0 121.4,529.8 118.1,516.2" fill="#ff3300" stroke="#ff3300" stroke-width="0.7" stroke-linejoin="round"/>
<line x1="118.1" y1="516.2" x2="121.4" y2="529.8" stroke="#000" stroke-width="2.0" stroke-linecap="round"/>
<polygon points="125.8,558.0 129.1,571.9 131.6,570.5 128.3,556.9" fill="#ffb200" stroke="#ffb200" stroke-width="0.7" stroke-linejoin="round"/>
<line x1="125.8" y1="558.0" x2="129.1" y2="571.9" stroke="#000" stroke-width="2.0" stroke-linecap="round"/>
<polygon points="200.1,654.1 203.1,652.7 205.3,649.2 202.3,650.6" fill="#00008b" stroke="#00008b" stroke-width="0.7" stroke-linejoin="round"/>
<line x1="202.3" y1="650.6" x2="205.3" y2="649.2" stroke="#000" stroke-width="2.0" stroke-linecap="round"/>
<polygon points="225.5,640.3 228.5,639.4 230.9,635.7 227.9,636.6" fill="#001ef7" stroke="#001ef7" stroke-width="0.7" stroke-linejoin="round"/>
<line x1="227.9" y1="636.6" x2="230.9" y2="635.7" stroke="#000" stroke-width="2.0" stroke-linecap="round"/>
<polygon points="192.1,660.5 195.0,659.1 197.2,655.5 194.3,656.9" fill="#000082" stroke="#000082" stroke-width="0.7" stroke-linejoin="round"/>
<line x1="192.1" y1="660.5" x2="195.0" y2="659.1" stroke="#000" stroke-width="2.0" stroke-linecap="round"/>
<polygon points="214.2,646.6 217.1,645.7 219.6,641.9 216.6,642.7" fill="#0000cc" stroke="#0000cc" stroke-width="0.7" stroke-linejoin="round"/>
<polygon points="112.4,506.5 115.6,517.4 118.1,516.2 115.0,506.7" fill="#f61200" stroke="#f61200" stroke-width="0.7" stroke-linejoin="round"/>
<line x1="115.0" y1="506.7" x2="118.1" y2="516.2" stroke="#000" stroke-width="2.0" stroke-linecap="round"/>
<polygon points="106.4,503.5 109.3,500.2 111.8,499.4 108.9,498.9" fill="#cb0000" stroke="#cb0000" stroke-width="0.7" stroke-linejoin="round"/>
<line x1="108.9" y1="498.9" x2="111.8" y2="499.4" stroke="#000" stroke-width="2.0" stroke-linecap="round"/>
<polygon points="203.1,652.7 206.1,651.7 208.2,648.2 205.3,649.2" fill="#00009a" stroke="#00009a" stroke-width="0.7" stroke-linejoin="round"/>
<line x1="205.3" y1="649.2" x2="208.2" y2="648.2" stroke="#000" stroke-width="2.0" stroke-linecap="round"/>
<polygon points="88.2,472.6 92.5,515.4 95.1,512.4 90.7,469.9" fill="#a90000" stroke="#a90000" stroke-width="0.7" stroke-linejoin="round"/>
<line x1="88.2" y1="472.6" x2="92.5" y2="515.4" stroke="#000" stroke-width="2.0" stroke-linecap="round"/>
<polygon points="228.5,639.4 231.5,638.5 233.9,634.9 230.9,635.7" fill="#0034ff" stroke="#0034ff" stroke-width="0.7" stroke-linejoin="round"/>
<polygon points="122.6,546.8 125.8,558.0 128.3,556.9 125.1,545.7" fill="#ff8200" stroke="#ff8200" stroke-width="0.7" stroke-linejoin="round"/>
<line x1="122.6" y1="546.8" x2="125.8" y2="558.0" stroke="#000" stroke-width="2.0" stroke-linecap="round"/>
<polygon points="101.5,523.9 104.0,508.1 106.4,503.5 104.1,521.6" fill="#fd1700" stroke="#fd1700" stroke-width="0.7" stroke-linejoin="round"/>
<line x1="101.5" y1="523.9" x2="104.0" y2="508.1" stroke="#000" stroke-width="2.0" stroke-linecap="round"/>
<polygon points="109.3,500.2 112.4,506.5 115.0,506.7 111.8,499.4" fill="#d40000" stroke="#d40000" stroke-width="0.7" stroke-linejoin="round"/>
<line x1="111.8" y1="499.4" x2="115.0" y2="506.7" stroke="#000" stroke-width="2.0" stroke-linecap="round"/>
<polygon points="217.1,645.7 220.1,644.9 222.5,641.1 219.6,641.9" fill="#0000dd" stroke="#0000dd" stroke-width="0.7" stroke-linejoin="round"/>
<polygon points="195.0,659.1 197.9,657.6 200.1,654.1 197.2,655.5" fill="#000086" stroke="#000086" stroke-width="0.7" stroke-linejoin="round"/>
<line x1="195.0" y1="659.1" x2="197.9" y2="657.6" stroke="#000" stroke-width="2.0" stroke-linecap="round"/>
<polygon points="206.1,651.7 209.0,650.8 211.2,647.4 208.2,648.2" fill="#0000a9" stroke="#0000a9" stroke-width="0.7" stroke-linejoin="round"/>
<line x1="208.2" y1="648.2" x2="211.2" y2="647.4" stroke="#000" stroke-width="2.0" stroke-linecap="round"/>
<polygon points="119.5,537.6 122.6,546.8 125.1,545.7 122.0,536.2" fill="#ff6000" stroke="#ff6000" stroke-width="0.7" stroke-linejoin="round"/>
<line x1="119.5" y1="537.6" x2="122.6" y2="546.8" stroke="#000" stroke-width="2.0" stroke-linecap="round"/>
<polygon points="116.4,532.2 119.5,537.6 122.0,536.2 118.9,531.0" fill="#ff4a00" stroke="#ff4a00" stroke-width="0.7" stroke-linejoin="round"/>
<line x1="116.4" y1="532.2" x2="119.5" y2="537.6" stroke="#000" stroke-width="2.0" stroke-linecap="round"/>
<polygon points="220.1,644.9 223.1,644.0 225.5,640.3 222.5,641.1" fill="#0005ed" stroke="#0005ed" stroke-width="0.7" stroke-linejoin="round"/>
<polygon points="197.9,657.6 200.9,656.1 203.1,652.7 200.1,654.1" fill="#00008b" stroke="#00008b" stroke-width="0.7" stroke-linejoin="round"/>
<line x1="197.9" y1="657.6" x2="200.9" y2="656.1" stroke="#000" stroke-width="2.0" stroke-linecap="round"/>
<polygon points="209.0,650.8 212.0,650.0 214.2,646.6 211.2,647.4" fill="#0000b7" stroke="#0000b7" stroke-width="0.7" stroke-linejoin="round"/>
<line x1="211.2" y1="647.4" x2="214.2" y2="646.6" stroke="#000" stroke-width="2.0" stroke-linecap="round"/>
<polygon points="113.1,518.7 116.4,532.2 118.9,531.0 115.6,517.4" fill="#ff2e00" stroke="#ff2e00" stroke-width="0.7" stroke-linejoin="round"/>
<line x1="113.1" y1="518.7" x2="116.4" y2="532.2" stroke="#000" stroke-width="2.0" stroke-linecap="round"/>
<polygon points="223.1,644.0 226.1,643.1 228.5,639.4 225.5,640.3" fill="#001bf6" stroke="#001bf6" stroke-width="0.7" stroke-linejoin="round"/>
<polygon points="104.0,508.1 106.7,501.0 109.3,500.2 106.4,503.5" fill="#cb0000" stroke="#cb0000" stroke-width="0.7" stroke-linejoin="round"/>
<polygon points="212.0,650.0 215.0,649.1 217.1,645.7 214.2,646.6" fill="#0000c8" stroke="#0000c8" stroke-width="0.7" stroke-linejoin="round"/>
<line x1="104.0" y1="508.1" x2="106.7" y2="501.0" stroke="#000" stroke-width="2.0" stroke-linecap="round"/>
<line x1="214.2" y1="646.6" x2="217.1" y2="645.7" stroke="#000" stroke-width="2.0" stroke-linecap="round"/>
<polygon points="200.9,656.1 203.9,655.2 206.1,651.7 203.1,652.7" fill="#000097" stroke="#000097" stroke-width="0.7" stroke-linejoin="round"/>
<line x1="200.9" y1="656.1" x2="203.9" y2="655.2" stroke="#000" stroke-width="2.0" stroke-linecap="round"/>
<polygon points="109.8,506.3 113.1,518.7 115.6,517.4 112.4,506.5" fill="#ed0d00" stroke="#ed0d00" stroke-width="0.7" stroke-linejoin="round"/>
<line x1="109.8" y1="506.3" x2="113.1" y2="518.7" stroke="#000" stroke-width="2.0" stroke-linecap="round"/>
<polygon points="226.1,643.1 229.1,642.1 231.5,638.5 228.5,639.4" fill="#0031fe" stroke="#0031fe" stroke-width="0.7" stroke-linejoin="round"/>
<polygon points="106.7,501.0 109.8,506.3 112.4,506.5 109.3,500.2" fill="#ca0000" stroke="#ca0000" stroke-width="0.7" stroke-linejoin="round"/>
<line x1="106.7" y1="501.0" x2="109.8" y2="506.3" stroke="#000" stroke-width="2.0" stroke-linecap="round"/>
<polygon points="215.0,649.1 218.0,648.2 220.1,644.9 217.1,645.7" fill="#0000d9" stroke="#0000d9" stroke-width="0.7" stroke-linejoin="round"/>
<line x1="217.1" y1="645.7" x2="220.1" y2="644.9" stroke="#000" stroke-width="2.0" stroke-linecap="round"/>
<polygon points="203.9,655.2 206.8,654.3 209.0,650.8 206.1,651.7" fill="#0000a5" stroke="#0000a5" stroke-width="0.7" stroke-linejoin="round"/>
<line x1="203.9" y1="655.2" x2="206.8" y2="654.3" stroke="#000" stroke-width="2.0" stroke-linecap="round"/>
<polygon points="218.0,648.2 220.9,647.3 223.1,644.0 220.1,644.9" fill="#0001eb" stroke="#0001eb" stroke-width="0.7" stroke-linejoin="round"/>
<line x1="220.1" y1="644.9" x2="223.1" y2="644.0" stroke="#000" stroke-width="2.0" stroke-linecap="round"/>
<polygon points="206.8,654.3 209.8,653.4 212.0,650.0 209.0,650.8" fill="#0000b3" stroke="#0000b3" stroke-width="0.7" stroke-linejoin="round"/>
<line x1="206.8" y1="654.3" x2="209.8" y2="653.4" stroke="#000" stroke-width="2.0" stroke-linecap="round"/>
<polygon points="220.9,647.3 223.9,646.3 226.1,643.1 223.1,644.0" fill="#0017f4" stroke="#0017f4" stroke-width="0.7" stroke-linejoin="round"/>
<line x1="223.1" y1="644.0" x2="226.1" y2="643.1" stroke="#000" stroke-width="2.0" stroke-linecap="round"/>
<polygon points="209.8,653.4 212.8,652.5 215.0,649.1 212.0,650.0" fill="#0000c4" stroke="#0000c4" stroke-width="0.7" stroke-linejoin="round"/>
<line x1="209.8" y1="653.4" x2="212.8" y2="652.5" stroke="#000" stroke-width="2.0" stroke-linecap="round"/>
<polygon points="223.9,646.3 226.9,645.4 229.1,642.1 226.1,643.1" fill="#002efd" stroke="#002efd" stroke-width="0.7" stroke-linejoin="round"/>
<polygon points="212.8,652.5 215.8,651.6 218.0,648.2 215.0,649.1" fill="#0000d6" stroke="#0000d6" stroke-width="0.7" stroke-linejoin="round"/>
<line x1="212.8" y1="652.5" x2="215.8" y2="651.6" stroke="#000" stroke-width="2.0" stroke-linecap="round"/>
<polygon points="215.8,651.6 218.8,650.6 220.9,647.3 218.0,648.2" fill="#0000e9" stroke="#0000e9" stroke-width="0.7" stroke-linejoin="round"/>
<line x1="215.8" y1="651.6" x2="218.8" y2="650.6" stroke="#000" stroke-width="2.0" stroke-linecap="round"/>
<polygon points="218.8,650.6 221.8,649.6 223.9,646.3 220.9,647.3" fill="#0014f3" stroke="#0014f3" stroke-width="0.7" stroke-linejoin="round"/>
<line x1="218.8" y1="650.6" x2="221.8" y2="649.6" stroke="#000" stroke-width="2.0" stroke-linecap="round"/>
<polygon points="221.8,649.6 224.8,648.6 226.9,645.4 223.9,646.3" fill="#002cfc" stroke="#002cfc" stroke-width="0.7" stroke-linejoin="round"/>
<line x1="78.8" y1="660.6" x2="70.7" y2="449.9" stroke="#000" stroke-width="2.4"/>
<line x1="75.0" y1="637.9" x2="78.5" y2="637.9" stroke="#000" stroke-width="2"/>
<line x1="73.6" y1="602.9" x2="77.1" y2="602.9" stroke="#000" stroke-width="2"/>
<line x1="72.2" y1="567.3" x2="75.7" y2="567.3" stroke="#000" stroke-width="2"/>
<line x1="70.8" y1="530.9" x2="74.3" y2="530.9" stroke="#000" stroke-width="2"/>
<line x1="69.4" y1="493.8" x2="72.9" y2="493.8" stroke="#000" stroke-width="2"/>
<line x1="67.9" y1="455.9" x2="71.4" y2="455.9" stroke="#000" stroke-width="2"/>
<line x1="78.8" y1="660.6" x2="223.1" y2="694.3" stroke="#000" stroke-width="2.6"/>
<line x1="78.8" y1="660.6" x2="78.3" y2="663.6" stroke="#000" stroke-width="2"/>
<line x1="107.0" y1="667.2" x2="106.5" y2="670.2" stroke="#000" stroke-width="2"/>
<line x1="135.5" y1="673.8" x2="135.0" y2="676.8" stroke="#000" stroke-width="2"/>
<line x1="164.3" y1="680.6" x2="163.8" y2="683.6" stroke="#000" stroke-width="2"/>
<line x1="193.5" y1="687.4" x2="193.0" y2="690.4" stroke="#000" stroke-width="2"/>
<line x1="223.1" y1="694.3" x2="222.6" y2="697.3" stroke="#000" stroke-width="2"/>
<line x1="223.1" y1="694.3" x2="276.9" y2="613.6" stroke="#000" stroke-width="2.6"/>
<line x1="223.1" y1="694.3" x2="226.6" y2="694.8" stroke="#000" stroke-width="2"/>
<line x1="242.0" y1="666.0" x2="245.5" y2="666.5" stroke="#000" stroke-width="2"/>
<line x1="259.9" y1="639.1" x2="263.4" y2="639.6" stroke="#000" stroke-width="2"/>
<line x1="276.9" y1="613.6" x2="280.4" y2="614.1" stroke="#000" stroke-width="2"/>
<polygon points="436.4,587.2 579.3,617.2 580.8,413.0 431.5,387.4" fill="#b3b3b3"/>
<polygon points="438.0,587.5 574.4,616.2 575.6,419.5 433.3,394.9" fill="#ababab"/>
<polyline points="431.5,387.4 580.8,413.0 579.3,617.2" fill="none" stroke="#c8c8c8" stroke-width="1"/>
<polygon points="376.3,660.1 438.0,587.5 433.1,387.6 368.0,448.2" fill="#f3f3f3"/>
<polyline points="368.0,448.2 433.1,387.6 438.0,587.5" fill="none" stroke="#d4d4d4" stroke-width="1.6"/>
<polygon points="376.3,660.1 521.3,692.9 574.4,616.2 438.0,587.5" fill="#6b6b6b"/>
<polygon points="376.3,660.1 521.3,692.9 523.9,689.2 379.3,656.6" fill="#9a9a9a"/>
<polygon points="517.6,692.1 521.3,692.9 574.4,616.2 570.9,615.4" fill="#9a9a9a"/>
<polyline points="381.0,656.9 520.2,688.4 570.9,615.4" fill="none" stroke="#c4c4c4" stroke-width="1.1"/>
<polygon points="376.3,660.1 438.0,587.5 437.9,583.8 376.2,656.2" fill="#fbfbfb"/>
<polygon points="438.0,587.5 574.4,616.2 574.4,612.4 437.9,583.8" fill="#d6d6d6"/>
<polyline points="376.8,655.4 437.9,583.8" fill="none" stroke="#cacaca" stroke-width="1"/>
<line x1="438.0" y1="587.5" x2="433.3" y2="394.9" stroke="#262626" stroke-width="1"/>
<line x1="464.7" y1="593.1" x2="461.2" y2="399.7" stroke="#262626" stroke-width="1"/>
<line x1="491.7" y1="598.8" x2="489.3" y2="404.6" stroke="#262626" stroke-width="1"/>
<line x1="519.0" y1="604.5" x2="517.8" y2="409.5" stroke="#262626" stroke-width="1"/>
<line x1="546.5" y1="610.3" x2="546.6" y2="414.5" stroke="#262626" stroke-width="1"/>
<line x1="574.4" y1="616.2" x2="575.6" y2="419.5" stroke="#262626" stroke-width="1"/>
<line x1="436.9" y1="540.9" x2="574.7" y2="568.6" stroke="#262626" stroke-width="1"/>
<line x1="435.7" y1="493.3" x2="575.0" y2="520.0" stroke="#262626" stroke-width="1"/>
<line x1="434.5" y1="444.6" x2="575.3" y2="470.3" stroke="#262626" stroke-width="1"/>
<line x1="433.3" y1="394.9" x2="575.6" y2="419.5" stroke="#262626" stroke-width="1"/>
<line x1="397.9" y1="634.7" x2="391.1" y2="434.6" stroke="#c4c4c4" stroke-width="1.2"/>
<line x1="418.4" y1="610.6" x2="412.7" y2="414.2" stroke="#c4c4c4" stroke-width="1.2"/>
<line x1="374.4" y1="610.8" x2="436.9" y2="540.9" stroke="#c4c4c4" stroke-width="1.2"/>
<line x1="372.4" y1="560.3" x2="435.7" y2="493.3" stroke="#c4c4c4" stroke-width="1.2"/>
<line x1="370.4" y1="508.7" x2="434.5" y2="444.6" stroke="#c4c4c4" stroke-width="1.2"/>
<line x1="368.3" y1="455.9" x2="433.3" y2="394.9" stroke="#c4c4c4" stroke-width="1.2"/>
<line x1="404.7" y1="666.5" x2="464.7" y2="593.1" stroke="#bcbcbc" stroke-width="1.2"/>
<line x1="433.4" y1="673.0" x2="491.7" y2="598.8" stroke="#bcbcbc" stroke-width="1.2"/>
<line x1="462.3" y1="679.6" x2="519.0" y2="604.5" stroke="#bcbcbc" stroke-width="1.2"/>
<line x1="491.7" y1="686.2" x2="546.5" y2="610.3" stroke="#bcbcbc" stroke-width="1.2"/>
<line x1="397.9" y1="634.7" x2="539.9" y2="666.1" stroke="#bcbcbc" stroke-width="1.2"/>
<line x1="418.4" y1="610.6" x2="557.5" y2="640.5" stroke="#bcbcbc" stroke-width="1.2"/>
<polyline points="376.3,660.1 438.0,587.5 574.4,616.2" fill="none" stroke="#d8d8d8" stroke-width="1.4"/>
<polyline points="377.7,659.4 521.1,691.9 573.2,616.7" fill="none" stroke="#a8a8a8" stroke-width="1.2"/>
<polygon points="442.8,488.1 444.1,485.1 449.0,481.7 447.7,484.2" fill="#ff3000" stroke="#ff3000" stroke-width="0.7" stroke-linejoin="round"/>
<line x1="447.7" y1="484.2" x2="449.0" y2="481.7" stroke="#000" stroke-width="2.0" stroke-linecap="round"/>
<polygon points="444.1,485.1 445.5,489.1 450.4,482.0 449.0,481.7" fill="#ff2e00" stroke="#ff2e00" stroke-width="0.7" stroke-linejoin="round"/>
<line x1="449.0" y1="481.7" x2="450.4" y2="482.0" stroke="#000" stroke-width="2.0" stroke-linecap="round"/>
<polygon points="445.5,489.1 446.9,488.9 451.7,479.0 450.4,482.0" fill="#ff2e00" stroke="#ff2e00" stroke-width="0.7" stroke-linejoin="round"/>
<line x1="450.4" y1="482.0" x2="451.7" y2="479.0" stroke="#000" stroke-width="2.0" stroke-linecap="round"/>
<polygon points="446.9,488.9 448.2,483.6 452.9,474.6 451.7,479.0" fill="#ff2700" stroke="#ff2700" stroke-width="0.7" stroke-linejoin="round"/>
<line x1="451.7" y1="479.0" x2="452.9" y2="474.6" stroke="#000" stroke-width="2.0" stroke-linecap="round"/>
<polygon points="448.2,483.6 449.6,484.6 454.3,474.1 452.9,474.6" fill="#ff2100" stroke="#ff2100" stroke-width="0.7" stroke-linejoin="round"/>
<line x1="452.9" y1="474.6" x2="454.3" y2="474.1" stroke="#000" stroke-width="2.0" stroke-linecap="round"/>
<polygon points="449.6,484.6 451.0,488.3 455.7,476.9 454.3,474.1" fill="#ff2400" stroke="#ff2400" stroke-width="0.7" stroke-linejoin="round"/>
<line x1="454.3" y1="474.1" x2="455.7" y2="476.9" stroke="#000" stroke-width="2.0" stroke-linecap="round"/>
<polygon points="451.0,488.3 452.4,489.6 457.1,478.7 455.7,476.9" fill="#ff2900" stroke="#ff2900" stroke-width="0.7" stroke-linejoin="round"/>
<line x1="455.7" y1="476.9" x2="457.1" y2="478.7" stroke="#000" stroke-width="2.0" stroke-linecap="round"/>
<polygon points="452.4,489.6 453.8,490.0 458.4,473.2 457.1,478.7" fill="#ff2700" stroke="#ff2700" stroke-width="0.7" stroke-linejoin="round"/>
<line x1="457.1" y1="478.7" x2="458.4" y2="473.2" stroke="#000" stroke-width="2.0" stroke-linecap="round"/>
<polygon points="453.8,490.0 455.1,485.7 459.8,477.6 458.4,473.2" fill="#ff2400" stroke="#ff2400" stroke-width="0.7" stroke-linejoin="round"/>
<line x1="458.4" y1="473.2" x2="459.8" y2="477.6" stroke="#000" stroke-width="2.0" stroke-linecap="round"/>
<polygon points="455.1,485.7 456.4,485.0 461.2,475.4 459.8,477.6" fill="#ff2200" stroke="#ff2200" stroke-width="0.7" stroke-linejoin="round"/>
<line x1="459.8" y1="477.6" x2="461.2" y2="475.4" stroke="#000" stroke-width="2.0" stroke-linecap="round"/>
<polygon points="456.4,485.0 457.8,484.4 462.5,471.4 461.2,475.4" fill="#ff1d00" stroke="#ff1d00" stroke-width="0.7" stroke-linejoin="round"/>
<line x1="461.2" y1="475.4" x2="462.5" y2="471.4" stroke="#000" stroke-width="2.0" stroke-linecap="round"/>
<polygon points="522.7,582.6 525.5,586.2 529.9,583.1 527.1,579.9" fill="#c2fa30" stroke="#c2fa30" stroke-width="0.7" stroke-linejoin="round"/>
<line x1="527.1" y1="579.9" x2="529.9" y2="583.1" stroke="#000" stroke-width="2.0" stroke-linecap="round"/>
<polygon points="457.8,484.4 459.2,487.2 463.9,471.6 462.5,471.4" fill="#ff1c00" stroke="#ff1c00" stroke-width="0.7" stroke-linejoin="round"/>
<line x1="462.5" y1="471.4" x2="463.9" y2="471.6" stroke="#000" stroke-width="2.0" stroke-linecap="round"/>
<polygon points="519.9,577.0 522.7,582.6 527.1,579.9 524.3,574.6" fill="#cffa26" stroke="#cffa26" stroke-width="0.7" stroke-linejoin="round"/>
<line x1="524.3" y1="574.6" x2="527.1" y2="579.9" stroke="#000" stroke-width="2.0" stroke-linecap="round"/>
<polygon points="525.5,586.2 528.3,589.7 532.6,586.3 529.9,583.1" fill="#bafa38" stroke="#bafa38" stroke-width="0.7" stroke-linejoin="round"/>
<line x1="529.9" y1="583.1" x2="532.6" y2="586.3" stroke="#000" stroke-width="2.0" stroke-linecap="round"/>
<polygon points="528.3,589.7 531.1,593.2 535.4,589.4 532.6,586.3" fill="#b1fa40" stroke="#b1fa40" stroke-width="0.7" stroke-linejoin="round"/>
<line x1="532.6" y1="586.3" x2="535.4" y2="589.4" stroke="#000" stroke-width="2.0" stroke-linecap="round"/>
<polygon points="459.2,487.2 460.6,484.9 465.3,475.2 463.9,471.6" fill="#ff1e00" stroke="#ff1e00" stroke-width="0.7" stroke-linejoin="round"/>
<line x1="463.9" y1="471.6" x2="465.3" y2="475.2" stroke="#000" stroke-width="2.0" stroke-linecap="round"/>
<polygon points="517.1,571.3 519.9,577.0 524.3,574.6 521.5,569.3" fill="#ddf819" stroke="#ddf819" stroke-width="0.7" stroke-linejoin="round"/>
<line x1="521.5" y1="569.3" x2="524.3" y2="574.6" stroke="#000" stroke-width="2.0" stroke-linecap="round"/>
<polygon points="531.1,593.2 533.9,596.6 538.2,592.6 535.4,589.4" fill="#a8fa48" stroke="#a8fa48" stroke-width="0.7" stroke-linejoin="round"/>
<line x1="535.4" y1="589.4" x2="538.2" y2="592.6" stroke="#000" stroke-width="2.0" stroke-linecap="round"/>
<polygon points="533.9,596.6 536.7,599.0 541.0,594.7 538.2,592.6" fill="#a0fa50" stroke="#a0fa50" stroke-width="0.7" stroke-linejoin="round"/>
<polygon points="514.2,565.6 517.1,571.3 521.5,569.3 518.7,564.0" fill="#ebf50f" stroke="#ebf50f" stroke-width="0.7" stroke-linejoin="round"/>
<line x1="538.2" y1="592.6" x2="541.0" y2="594.7" stroke="#000" stroke-width="2.0" stroke-linecap="round"/>
<line x1="518.7" y1="564.0" x2="521.5" y2="569.3" stroke="#000" stroke-width="2.0" stroke-linecap="round"/>
<polygon points="511.4,560.1 514.2,565.6 518.7,564.0 515.9,559.0" fill="#f9f205" stroke="#f9f205" stroke-width="0.7" stroke-linejoin="round"/>
<line x1="515.9" y1="559.0" x2="518.7" y2="564.0" stroke="#000" stroke-width="2.0" stroke-linecap="round"/>
<polygon points="536.7,599.0 539.4,601.3 543.7,596.7 541.0,594.7" fill="#9afa56" stroke="#9afa56" stroke-width="0.7" stroke-linejoin="round"/>
<line x1="541.0" y1="594.7" x2="543.7" y2="596.7" stroke="#000" stroke-width="2.0" stroke-linecap="round"/>
<polygon points="460.6,484.9 461.9,479.6 466.6,471.9 465.3,475.2" fill="#ff1900" stroke="#ff1900" stroke-width="0.7" stroke-linejoin="round"/>
<line x1="465.3" y1="475.2" x2="466.6" y2="471.9" stroke="#000" stroke-width="2.0" stroke-linecap="round"/>
<polygon points="508.6,554.0 511.4,560.1 515.9,559.0 513.1,553.4" fill="#ffe300" stroke="#ffe300" stroke-width="0.7" stroke-linejoin="round"/>
<line x1="513.1" y1="553.4" x2="515.9" y2="559.0" stroke="#000" stroke-width="2.0" stroke-linecap="round"/>
<polygon points="539.4,601.3 542.2,603.6 546.5,598.7 543.7,596.7" fill="#94fa5c" stroke="#94fa5c" stroke-width="0.7" stroke-linejoin="round"/>
<line x1="543.7" y1="596.7" x2="546.5" y2="598.7" stroke="#000" stroke-width="2.0" stroke-linecap="round"/>
<polygon points="505.8,547.4 508.6,554.0 513.1,553.4 510.3,547.1" fill="#ffc800" stroke="#ffc800" stroke-width="0.7" stroke-linejoin="round"/>
<line x1="510.3" y1="547.1" x2="513.1" y2="553.4" stroke="#000" stroke-width="2.0" stroke-linecap="round"/>
<polygon points="542.2,603.6 545.0,605.8 549.3,600.8 546.5,598.7" fill="#8efa62" stroke="#8efa62" stroke-width="0.7" stroke-linejoin="round"/>
<line x1="546.5" y1="598.7" x2="549.3" y2="600.8" stroke="#000" stroke-width="2.0" stroke-linecap="round"/>
<polygon points="437.8,492.2 439.1,488.5 444.1,485.1 442.8,488.1" fill="#ff2c00" stroke="#ff2c00" stroke-width="0.7" stroke-linejoin="round"/>
<polygon points="440.7,496.2 442.1,498.8 446.9,488.9 445.5,489.1" fill="#ff3600" stroke="#ff3600" stroke-width="0.7" stroke-linejoin="round"/>
<polygon points="545.0,605.8 547.8,607.7 552.1,602.5 549.3,600.8" fill="#89fa67" stroke="#89fa67" stroke-width="0.7" stroke-linejoin="round"/>
<polygon points="502.9,539.4 505.8,547.4 510.3,547.1 507.5,539.2" fill="#ffad00" stroke="#ffad00" stroke-width="0.7" stroke-linejoin="round"/>
<line x1="549.3" y1="600.8" x2="552.1" y2="602.5" stroke="#000" stroke-width="2.0" stroke-linecap="round"/>
<line x1="507.5" y1="539.2" x2="510.3" y2="547.1" stroke="#000" stroke-width="2.0" stroke-linecap="round"/>
<polygon points="439.1,488.5 440.7,496.2 445.5,489.1 444.1,485.1" fill="#ff2e00" stroke="#ff2e00" stroke-width="0.7" stroke-linejoin="round"/>
<polygon points="461.9,479.6 463.1,473.9 468.0,469.9 466.6,471.9" fill="#f21000" stroke="#f21000" stroke-width="0.7" stroke-linejoin="round"/>
<line x1="466.6" y1="471.9" x2="468.0" y2="469.9" stroke="#000" stroke-width="2.0" stroke-linecap="round"/>
<polygon points="547.8,607.7 550.6,609.3 554.9,603.9 552.1,602.5" fill="#85fa6b" stroke="#85fa6b" stroke-width="0.7" stroke-linejoin="round"/>
<line x1="552.1" y1="602.5" x2="554.9" y2="603.9" stroke="#000" stroke-width="2.0" stroke-linecap="round"/>
<polygon points="442.1,498.8 443.3,492.6 448.2,483.6 446.9,488.9" fill="#ff3000" stroke="#ff3000" stroke-width="0.7" stroke-linejoin="round"/>
<polygon points="500.0,529.8 502.9,539.4 507.5,539.2 504.6,529.7" fill="#ff9300" stroke="#ff9300" stroke-width="0.7" stroke-linejoin="round"/>
<line x1="504.6" y1="529.7" x2="507.5" y2="539.2" stroke="#000" stroke-width="2.0" stroke-linecap="round"/>
<polygon points="463.1,473.9 464.5,473.2 469.3,470.3 468.0,469.9" fill="#eb0b00" stroke="#eb0b00" stroke-width="0.7" stroke-linejoin="round"/>
<line x1="468.0" y1="469.9" x2="469.3" y2="470.3" stroke="#000" stroke-width="2.0" stroke-linecap="round"/>
<polygon points="550.6,609.3 553.4,610.8 557.6,605.3 554.9,603.9" fill="#82fa6e" stroke="#82fa6e" stroke-width="0.7" stroke-linejoin="round"/>
<line x1="554.9" y1="603.9" x2="557.6" y2="605.3" stroke="#000" stroke-width="2.0" stroke-linecap="round"/>
<polygon points="464.5,473.2 465.9,475.7 470.8,474.8 469.3,470.3" fill="#ef0e00" stroke="#ef0e00" stroke-width="0.7" stroke-linejoin="round"/>
<line x1="469.3" y1="470.3" x2="470.8" y2="474.8" stroke="#000" stroke-width="2.0" stroke-linecap="round"/>
<polygon points="465.9,475.7 467.3,475.5 472.1,471.5 470.8,474.8" fill="#f11000" stroke="#f11000" stroke-width="0.7" stroke-linejoin="round"/>
<line x1="470.8" y1="474.8" x2="472.1" y2="471.5" stroke="#000" stroke-width="2.0" stroke-linecap="round"/>
<polygon points="553.4,610.8 556.2,612.3 560.4,606.7 557.6,605.3" fill="#7efa72" stroke="#7efa72" stroke-width="0.7" stroke-linejoin="round"/>
<line x1="557.6" y1="605.3" x2="560.4" y2="606.7" stroke="#000" stroke-width="2.0" stroke-linecap="round"/>
<polygon points="446.2,499.9 447.6,500.5 452.4,489.6 451.0,488.3" fill="#ff3600" stroke="#ff3600" stroke-width="0.7" stroke-linejoin="round"/>
<polygon points="444.8,495.2 446.2,499.9 451.0,488.3 449.6,484.6" fill="#ff3100" stroke="#ff3100" stroke-width="0.7" stroke-linejoin="round"/>
<polygon points="497.2,523.4 500.0,529.8 504.6,529.7 501.8,523.4" fill="#ff7e00" stroke="#ff7e00" stroke-width="0.7" stroke-linejoin="round"/>
<line x1="501.8" y1="523.4" x2="504.6" y2="529.7" stroke="#000" stroke-width="2.0" stroke-linecap="round"/>
<polygon points="447.6,500.5 449.1,506.9 453.8,490.0 452.4,489.6" fill="#ff3b00" stroke="#ff3b00" stroke-width="0.7" stroke-linejoin="round"/>
<polygon points="443.3,492.6 444.8,495.2 449.6,484.6 448.2,483.6" fill="#ff2b00" stroke="#ff2b00" stroke-width="0.7" stroke-linejoin="round"/>
<polygon points="467.3,475.5 468.7,475.1 473.5,472.7 472.1,471.5" fill="#ee0e00" stroke="#ee0e00" stroke-width="0.7" stroke-linejoin="round"/>
<line x1="472.1" y1="471.5" x2="473.5" y2="472.7" stroke="#000" stroke-width="2.0" stroke-linecap="round"/>
<polygon points="556.2,612.3 559.0,613.5 563.2,607.8 560.4,606.7" fill="#79f976" stroke="#79f976" stroke-width="0.7" stroke-linejoin="round"/>
<line x1="560.4" y1="606.7" x2="563.2" y2="607.8" stroke="#000" stroke-width="2.0" stroke-linecap="round"/>
<polygon points="494.3,515.6 497.2,523.4 501.8,523.4 499.0,515.7" fill="#ff6c00" stroke="#ff6c00" stroke-width="0.7" stroke-linejoin="round"/>
<line x1="499.0" y1="515.7" x2="501.8" y2="523.4" stroke="#000" stroke-width="2.0" stroke-linecap="round"/>
<polygon points="468.7,475.1 470.1,474.7 474.9,471.5 473.5,472.7" fill="#ed0d00" stroke="#ed0d00" stroke-width="0.7" stroke-linejoin="round"/>
<line x1="473.5" y1="472.7" x2="474.9" y2="471.5" stroke="#000" stroke-width="2.0" stroke-linecap="round"/>
<polygon points="449.1,506.9 450.3,494.0 455.1,485.7 453.8,490.0" fill="#ff3400" stroke="#ff3400" stroke-width="0.7" stroke-linejoin="round"/>
<polygon points="559.0,613.5 561.8,614.7 566.0,609.0 563.2,607.8" fill="#75f879" stroke="#75f879" stroke-width="0.7" stroke-linejoin="round"/>
<line x1="563.2" y1="607.8" x2="566.0" y2="609.0" stroke="#000" stroke-width="2.0" stroke-linecap="round"/>
<polygon points="491.4,506.8 494.3,515.6 499.0,515.7 496.1,506.8" fill="#ff5900" stroke="#ff5900" stroke-width="0.7" stroke-linejoin="round"/>
<line x1="496.1" y1="506.8" x2="499.0" y2="515.7" stroke="#000" stroke-width="2.0" stroke-linecap="round"/>
<polygon points="470.1,474.7 471.4,473.4 476.3,472.6 474.9,471.5" fill="#ea0b00" stroke="#ea0b00" stroke-width="0.7" stroke-linejoin="round"/>
<line x1="474.9" y1="471.5" x2="476.3" y2="472.6" stroke="#000" stroke-width="2.0" stroke-linecap="round"/>
<polygon points="561.8,614.7 564.6,615.9 568.8,610.1 566.0,609.0" fill="#72f77b" stroke="#72f77b" stroke-width="0.7" stroke-linejoin="round"/>
<line x1="566.0" y1="609.0" x2="568.8" y2="610.1" stroke="#000" stroke-width="2.0" stroke-linecap="round"/>
<polygon points="471.4,473.4 472.9,475.4 477.7,474.7 476.3,472.6" fill="#ed0d00" stroke="#ed0d00" stroke-width="0.7" stroke-linejoin="round"/>
<line x1="476.3" y1="472.6" x2="477.7" y2="474.7" stroke="#000" stroke-width="2.0" stroke-linecap="round"/>
<polygon points="488.5,500.6 491.4,506.8 496.1,506.8 493.3,500.8" fill="#ff4800" stroke="#ff4800" stroke-width="0.7" stroke-linejoin="round"/>
<line x1="493.3" y1="500.8" x2="496.1" y2="506.8" stroke="#000" stroke-width="2.0" stroke-linecap="round"/>
<polygon points="472.9,475.4 474.2,474.3 479.1,476.1 477.7,474.7" fill="#f00f00" stroke="#f00f00" stroke-width="0.7" stroke-linejoin="round"/>
<line x1="477.7" y1="474.7" x2="479.1" y2="476.1" stroke="#000" stroke-width="2.0" stroke-linecap="round"/>
<polygon points="485.7,494.4 488.5,500.6 493.3,500.8 490.4,494.7" fill="#ff3a00" stroke="#ff3a00" stroke-width="0.7" stroke-linejoin="round"/>
<line x1="490.4" y1="494.7" x2="493.3" y2="500.8" stroke="#000" stroke-width="2.0" stroke-linecap="round"/>
<polygon points="564.6,615.9 567.4,617.0 571.6,611.3 568.8,610.1" fill="#6ef67e" stroke="#6ef67e" stroke-width="0.7" stroke-linejoin="round"/>
<line x1="568.8" y1="610.1" x2="571.6" y2="611.3" stroke="#000" stroke-width="2.0" stroke-linecap="round"/>
<polygon points="450.3,494.0 451.6,494.7 456.4,485.0 455.1,485.7" fill="#ff2a00" stroke="#ff2a00" stroke-width="0.7" stroke-linejoin="round"/>
<polygon points="474.2,474.3 475.7,475.2 480.5,477.6 479.1,476.1" fill="#f10f00" stroke="#f10f00" stroke-width="0.7" stroke-linejoin="round"/>
<line x1="479.1" y1="476.1" x2="480.5" y2="477.6" stroke="#000" stroke-width="2.0" stroke-linecap="round"/>
<polygon points="482.8,487.9 485.7,494.4 490.4,494.7 487.6,488.7" fill="#ff2d00" stroke="#ff2d00" stroke-width="0.7" stroke-linejoin="round"/>
<line x1="487.6" y1="488.7" x2="490.4" y2="494.7" stroke="#000" stroke-width="2.0" stroke-linecap="round"/>
<polygon points="477.1,478.1 478.5,480.6 483.3,482.2 481.9,480.1" fill="#fe1700" stroke="#fe1700" stroke-width="0.7" stroke-linejoin="round"/>
<polygon points="475.7,475.2 477.1,478.1 481.9,480.1 480.5,477.6" fill="#f71300" stroke="#f71300" stroke-width="0.7" stroke-linejoin="round"/>
<line x1="481.9" y1="480.1" x2="483.3" y2="482.2" stroke="#000" stroke-width="2.0" stroke-linecap="round"/>
<line x1="480.5" y1="477.6" x2="481.9" y2="480.1" stroke="#000" stroke-width="2.0" stroke-linecap="round"/>
<polygon points="478.5,480.6 479.9,483.1 484.7,484.2 483.3,482.2" fill="#ff1c00" stroke="#ff1c00" stroke-width="0.7" stroke-linejoin="round"/>
<line x1="483.3" y1="482.2" x2="484.7" y2="484.2" stroke="#000" stroke-width="2.0" stroke-linecap="round"/>
<polygon points="479.9,483.1 482.8,487.9 487.6,488.7 484.7,484.2" fill="#ff2200" stroke="#ff2200" stroke-width="0.7" stroke-linejoin="round"/>
<line x1="484.7" y1="484.2" x2="487.6" y2="488.7" stroke="#000" stroke-width="2.0" stroke-linecap="round"/>
<polygon points="453.1,497.6 454.6,502.9 459.2,487.2 457.8,484.4" fill="#ff3000" stroke="#ff3000" stroke-width="0.7" stroke-linejoin="round"/>
<polygon points="451.6,494.7 453.1,497.6 457.8,484.4 456.4,485.0" fill="#ff2b00" stroke="#ff2b00" stroke-width="0.7" stroke-linejoin="round"/>
<polygon points="567.4,617.0 570.2,618.1 574.4,612.4 571.6,611.3" fill="#6af681" stroke="#6af681" stroke-width="0.7" stroke-linejoin="round"/>
<polygon points="454.6,502.9 455.8,494.6 460.6,484.9 459.2,487.2" fill="#ff2e00" stroke="#ff2e00" stroke-width="0.7" stroke-linejoin="round"/>
<polygon points="455.8,494.6 457.0,487.4 461.9,479.6 460.6,484.9" fill="#ff2100" stroke="#ff2100" stroke-width="0.7" stroke-linejoin="round"/>
<polygon points="518.2,585.3 521.0,589.3 525.5,586.2 522.7,582.6" fill="#ccfa28" stroke="#ccfa28" stroke-width="0.7" stroke-linejoin="round"/>
<polygon points="521.0,589.3 523.8,593.2 528.3,589.7 525.5,586.2" fill="#c2fa31" stroke="#c2fa31" stroke-width="0.7" stroke-linejoin="round"/>
<polygon points="523.8,593.2 526.7,596.9 531.1,593.2 528.3,589.7" fill="#b8fa3a" stroke="#b8fa3a" stroke-width="0.7" stroke-linejoin="round"/>
<polygon points="515.4,579.5 518.2,585.3 522.7,582.6 519.9,577.0" fill="#d8fa1d" stroke="#d8fa1d" stroke-width="0.7" stroke-linejoin="round"/>
<polygon points="526.7,596.9 529.5,600.7 533.9,596.6 531.1,593.2" fill="#aefa42" stroke="#aefa42" stroke-width="0.7" stroke-linejoin="round"/>
<polygon points="529.5,600.7 532.3,603.4 536.7,599.0 533.9,596.6" fill="#a6fa4a" stroke="#a6fa4a" stroke-width="0.7" stroke-linejoin="round"/>
<polygon points="512.5,573.3 515.4,579.5 519.9,577.0 517.1,571.3" fill="#e7f612" stroke="#e7f612" stroke-width="0.7" stroke-linejoin="round"/>
<polygon points="435.9,511.4 437.2,507.3 442.1,498.8 440.7,496.2" fill="#ff4100" stroke="#ff4100" stroke-width="0.7" stroke-linejoin="round"/>
<line x1="440.7" y1="496.2" x2="442.1" y2="498.8" stroke="#000" stroke-width="2.0" stroke-linecap="round"/>
<polygon points="433.0,506.2 434.4,506.2 439.1,488.5 437.8,492.2" fill="#ff3600" stroke="#ff3600" stroke-width="0.7" stroke-linejoin="round"/>
<line x1="437.8" y1="492.2" x2="439.1" y2="488.5" stroke="#000" stroke-width="2.0" stroke-linecap="round"/>
<polygon points="434.4,506.2 435.9,511.4 440.7,496.2 439.1,488.5" fill="#ff3b00" stroke="#ff3b00" stroke-width="0.7" stroke-linejoin="round"/>
<line x1="439.1" y1="488.5" x2="440.7" y2="496.2" stroke="#000" stroke-width="2.0" stroke-linecap="round"/>
<polygon points="532.3,603.4 535.1,605.9 539.4,601.3 536.7,599.0" fill="#9ffa51" stroke="#9ffa51" stroke-width="0.7" stroke-linejoin="round"/>
<polygon points="509.7,567.2 512.5,573.3 517.1,571.3 514.2,565.6" fill="#f6f207" stroke="#f6f207" stroke-width="0.7" stroke-linejoin="round"/>
<polygon points="535.1,605.9 537.9,608.5 542.2,603.6 539.4,601.3" fill="#98fa58" stroke="#98fa58" stroke-width="0.7" stroke-linejoin="round"/>
<polygon points="440.2,516.4 441.6,519.0 446.2,499.9 444.8,495.2" fill="#ff4900" stroke="#ff4900" stroke-width="0.7" stroke-linejoin="round"/>
<line x1="444.8" y1="495.2" x2="446.2" y2="499.9" stroke="#000" stroke-width="2.0" stroke-linecap="round"/>
<polygon points="437.2,507.3 438.7,510.8 443.3,492.6 442.1,498.8" fill="#ff3e00" stroke="#ff3e00" stroke-width="0.7" stroke-linejoin="round"/>
<line x1="442.1" y1="498.8" x2="443.3" y2="492.6" stroke="#000" stroke-width="2.0" stroke-linecap="round"/>
<polygon points="506.8,561.2 509.7,567.2 514.2,565.6 511.4,560.1" fill="#ffe600" stroke="#ffe600" stroke-width="0.7" stroke-linejoin="round"/>
<polygon points="441.6,519.0 442.9,516.8 447.6,500.5 446.2,499.9" fill="#ff4c00" stroke="#ff4c00" stroke-width="0.7" stroke-linejoin="round"/>
<line x1="446.2" y1="499.9" x2="447.6" y2="500.5" stroke="#000" stroke-width="2.0" stroke-linecap="round"/>
<polygon points="537.9,608.5 540.7,610.9 545.0,605.8 542.2,603.6" fill="#91fa5f" stroke="#91fa5f" stroke-width="0.7" stroke-linejoin="round"/>
<polygon points="438.7,510.8 440.2,516.4 444.8,495.2 443.3,492.6" fill="#ff4100" stroke="#ff4100" stroke-width="0.7" stroke-linejoin="round"/>
<line x1="443.3" y1="492.6" x2="444.8" y2="495.2" stroke="#000" stroke-width="2.0" stroke-linecap="round"/>
<polygon points="504.0,554.7 506.8,561.2 511.4,560.1 508.6,554.0" fill="#ffcc00" stroke="#ffcc00" stroke-width="0.7" stroke-linejoin="round"/>
<polygon points="457.0,487.4 458.2,478.0 463.1,473.9 461.9,479.6" fill="#f41200" stroke="#f41200" stroke-width="0.7" stroke-linejoin="round"/>
<polygon points="442.9,516.8 444.3,514.6 449.1,506.9 447.6,500.5" fill="#ff4d00" stroke="#ff4d00" stroke-width="0.7" stroke-linejoin="round"/>
<line x1="447.6" y1="500.5" x2="449.1" y2="506.9" stroke="#000" stroke-width="2.0" stroke-linecap="round"/>
<polygon points="540.7,610.9 543.5,613.1 547.8,607.7 545.0,605.8" fill="#8cfa64" stroke="#8cfa64" stroke-width="0.7" stroke-linejoin="round"/>
<polygon points="501.1,547.8 504.0,554.7 508.6,554.0 505.8,547.4" fill="#ffb200" stroke="#ffb200" stroke-width="0.7" stroke-linejoin="round"/>
<polygon points="543.5,613.1 546.3,614.8 550.6,609.3 547.8,607.7" fill="#87fa69" stroke="#87fa69" stroke-width="0.7" stroke-linejoin="round"/>
<polygon points="498.2,539.7 501.1,547.8 505.8,547.4 502.9,539.4" fill="#ff9c00" stroke="#ff9c00" stroke-width="0.7" stroke-linejoin="round"/>
<polygon points="546.3,614.8 549.1,616.4 553.4,610.8 550.6,609.3" fill="#83fa6d" stroke="#83fa6d" stroke-width="0.7" stroke-linejoin="round"/>
<polygon points="444.3,514.6 445.6,513.1 450.3,494.0 449.1,506.9" fill="#ff4600" stroke="#ff4600" stroke-width="0.7" stroke-linejoin="round"/>
<line x1="449.1" y1="506.9" x2="450.3" y2="494.0" stroke="#000" stroke-width="2.0" stroke-linecap="round"/>
<polygon points="458.2,478.0 459.6,476.2 464.5,473.2 463.1,473.9" fill="#e50800" stroke="#e50800" stroke-width="0.7" stroke-linejoin="round"/>
<polygon points="549.1,616.4 552.0,618.0 556.2,612.3 553.4,610.8" fill="#80fa70" stroke="#80fa70" stroke-width="0.7" stroke-linejoin="round"/>
<polygon points="459.6,476.2 461.0,476.6 465.9,475.7 464.5,473.2" fill="#e50800" stroke="#e50800" stroke-width="0.7" stroke-linejoin="round"/>
<polygon points="461.0,476.6 462.5,479.6 467.3,475.5 465.9,475.7" fill="#e80a00" stroke="#e80a00" stroke-width="0.7" stroke-linejoin="round"/>
<polygon points="495.3,529.9 498.2,539.7 502.9,539.4 500.0,529.8" fill="#ff8400" stroke="#ff8400" stroke-width="0.7" stroke-linejoin="round"/>
<polygon points="552.0,618.0 554.8,619.3 559.0,613.5 556.2,612.3" fill="#7bf974" stroke="#7bf974" stroke-width="0.7" stroke-linejoin="round"/>
<polygon points="448.4,514.9 449.9,521.2 454.6,502.9 453.1,497.6" fill="#ff4900" stroke="#ff4900" stroke-width="0.7" stroke-linejoin="round"/>
<line x1="453.1" y1="497.6" x2="454.6" y2="502.9" stroke="#000" stroke-width="2.0" stroke-linecap="round"/>
<polygon points="462.5,479.6 463.8,477.6 468.7,475.1 467.3,475.5" fill="#e80a00" stroke="#e80a00" stroke-width="0.7" stroke-linejoin="round"/>
<polygon points="445.6,513.1 446.9,509.5 451.6,494.7 450.3,494.0" fill="#ff3b00" stroke="#ff3b00" stroke-width="0.7" stroke-linejoin="round"/>
<line x1="450.3" y1="494.0" x2="451.6" y2="494.7" stroke="#000" stroke-width="2.0" stroke-linecap="round"/>
<polygon points="449.9,521.2 451.3,518.3 455.8,494.6 454.6,502.9" fill="#ff4900" stroke="#ff4900" stroke-width="0.7" stroke-linejoin="round"/>
<line x1="454.6" y1="502.9" x2="455.8" y2="494.6" stroke="#000" stroke-width="2.0" stroke-linecap="round"/>
<polygon points="446.9,509.5 448.4,514.9 453.1,497.6 451.6,494.7" fill="#ff3e00" stroke="#ff3e00" stroke-width="0.7" stroke-linejoin="round"/>
<line x1="451.6" y1="494.7" x2="453.1" y2="497.6" stroke="#000" stroke-width="2.0" stroke-linecap="round"/>
<polygon points="554.8,619.3 557.6,620.5 561.8,614.7 559.0,613.5" fill="#76f878" stroke="#76f878" stroke-width="0.7" stroke-linejoin="round"/>
<polygon points="492.5,523.5 495.3,529.9 500.0,529.8 497.2,523.4" fill="#ff6f00" stroke="#ff6f00" stroke-width="0.7" stroke-linejoin="round"/>
<polygon points="463.8,477.6 465.2,477.9 470.1,474.7 468.7,475.1" fill="#e50800" stroke="#e50800" stroke-width="0.7" stroke-linejoin="round"/>
<polygon points="489.6,515.5 492.5,523.5 497.2,523.4 494.3,515.6" fill="#ff5f00" stroke="#ff5f00" stroke-width="0.7" stroke-linejoin="round"/>
<polygon points="557.6,620.5 560.4,621.7 564.6,615.9 561.8,614.7" fill="#73f77a" stroke="#73f77a" stroke-width="0.7" stroke-linejoin="round"/>
<polygon points="465.2,477.9 466.5,474.2 471.4,473.4 470.1,474.7" fill="#e00500" stroke="#e00500" stroke-width="0.7" stroke-linejoin="round"/>
<polygon points="560.4,621.7 563.2,622.8 567.4,617.0 564.6,615.9" fill="#6ff77d" stroke="#6ff77d" stroke-width="0.7" stroke-linejoin="round"/>
<polygon points="486.7,506.8 489.6,515.5 494.3,515.6 491.4,506.8" fill="#ff4b00" stroke="#ff4b00" stroke-width="0.7" stroke-linejoin="round"/>
<polygon points="466.5,474.2 468.0,476.1 472.9,475.4 471.4,473.4" fill="#de0400" stroke="#de0400" stroke-width="0.7" stroke-linejoin="round"/>
<polygon points="451.3,518.3 452.5,509.7 457.0,487.4 455.8,494.6" fill="#ff3800" stroke="#ff3800" stroke-width="0.7" stroke-linejoin="round"/>
<line x1="455.8" y1="494.6" x2="457.0" y2="487.4" stroke="#000" stroke-width="2.0" stroke-linecap="round"/>
<polygon points="563.2,622.8 566.1,623.9 570.2,618.1 567.4,617.0" fill="#6cf680" stroke="#6cf680" stroke-width="0.7" stroke-linejoin="round"/>
<polygon points="483.8,500.5 486.7,506.8 491.4,506.8 488.5,500.6" fill="#ff3b00" stroke="#ff3b00" stroke-width="0.7" stroke-linejoin="round"/>
<polygon points="468.0,476.1 469.3,472.5 474.2,474.3 472.9,475.4" fill="#dd0300" stroke="#dd0300" stroke-width="0.7" stroke-linejoin="round"/>
<polygon points="435.5,537.6 436.9,538.3 441.6,519.0 440.2,516.4" fill="#ff6e00" stroke="#ff6e00" stroke-width="0.7" stroke-linejoin="round"/>
<polygon points="480.9,494.0 483.8,500.5 488.5,500.6 485.7,494.4" fill="#ff2d00" stroke="#ff2d00" stroke-width="0.7" stroke-linejoin="round"/>
<polygon points="429.7,524.1 431.1,526.7 435.9,511.4 434.4,506.2" fill="#ff5600" stroke="#ff5600" stroke-width="0.7" stroke-linejoin="round"/>
<polygon points="428.2,520.3 429.7,524.1 434.4,506.2 433.0,506.2" fill="#ff4f00" stroke="#ff4f00" stroke-width="0.7" stroke-linejoin="round"/>
<polygon points="478.0,487.1 480.9,494.0 485.7,494.4 482.8,487.9" fill="#ff2000" stroke="#ff2000" stroke-width="0.7" stroke-linejoin="round"/>
<polygon points="434.0,529.1 435.5,537.6 440.2,516.4 438.7,510.8" fill="#ff6400" stroke="#ff6400" stroke-width="0.7" stroke-linejoin="round"/>
<polygon points="475.1,481.9 478.0,487.1 482.8,487.9 479.9,483.1" fill="#fa1500" stroke="#fa1500" stroke-width="0.7" stroke-linejoin="round"/>
<polygon points="469.3,472.5 470.7,472.7 475.7,475.2 474.2,474.3" fill="#d90100" stroke="#d90100" stroke-width="0.7" stroke-linejoin="round"/>
<polygon points="473.6,478.9 475.1,481.9 479.9,483.1 478.5,480.6" fill="#ef0e00" stroke="#ef0e00" stroke-width="0.7" stroke-linejoin="round"/>
<polygon points="472.2,476.1 473.6,478.9 478.5,480.6 477.1,478.1" fill="#e70900" stroke="#e70900" stroke-width="0.7" stroke-linejoin="round"/>
<polygon points="436.9,538.3 438.2,533.3 442.9,516.8 441.6,519.0" fill="#ff6b00" stroke="#ff6b00" stroke-width="0.7" stroke-linejoin="round"/>
<polygon points="470.7,472.7 472.2,476.1 477.1,478.1 475.7,475.2" fill="#de0400" stroke="#de0400" stroke-width="0.7" stroke-linejoin="round"/>
<polygon points="431.1,526.7 432.2,516.0 437.2,507.3 435.9,511.4" fill="#ff5100" stroke="#ff5100" stroke-width="0.7" stroke-linejoin="round"/>
<polygon points="432.2,516.0 434.0,529.1 438.7,510.8 437.2,507.3" fill="#ff5100" stroke="#ff5100" stroke-width="0.7" stroke-linejoin="round"/>
<polygon points="452.5,509.7 453.7,502.7 458.2,478.0 457.0,487.4" fill="#ff2600" stroke="#ff2600" stroke-width="0.7" stroke-linejoin="round"/>
<line x1="457.0" y1="487.4" x2="458.2" y2="478.0" stroke="#000" stroke-width="2.0" stroke-linecap="round"/>
<polygon points="438.2,533.3 439.3,522.3 444.3,514.6 442.9,516.8" fill="#ff5e00" stroke="#ff5e00" stroke-width="0.7" stroke-linejoin="round"/>
<polygon points="516.5,592.4 519.3,596.7 523.8,593.2 521.0,589.3" fill="#cafa2a" stroke="#cafa2a" stroke-width="0.7" stroke-linejoin="round"/>
<polygon points="519.3,596.7 522.2,600.8 526.7,596.9 523.8,593.2" fill="#bffa33" stroke="#bffa33" stroke-width="0.7" stroke-linejoin="round"/>
<line x1="521.0" y1="589.3" x2="523.8" y2="593.2" stroke="#000" stroke-width="2.0" stroke-linecap="round"/>
<polygon points="513.7,588.0 516.5,592.4 521.0,589.3 518.2,585.3" fill="#d5fa20" stroke="#d5fa20" stroke-width="0.7" stroke-linejoin="round"/>
<line x1="523.8" y1="593.2" x2="526.7" y2="596.9" stroke="#000" stroke-width="2.0" stroke-linecap="round"/>
<polygon points="522.2,600.8 525.0,604.8 529.5,600.7 526.7,596.9" fill="#b4fa3d" stroke="#b4fa3d" stroke-width="0.7" stroke-linejoin="round"/>
<line x1="518.2" y1="585.3" x2="521.0" y2="589.3" stroke="#000" stroke-width="2.0" stroke-linecap="round"/>
<line x1="526.7" y1="596.9" x2="529.5" y2="600.7" stroke="#000" stroke-width="2.0" stroke-linecap="round"/>
<polygon points="525.0,604.8 527.8,607.8 532.3,603.4 529.5,600.7" fill="#acfa44" stroke="#acfa44" stroke-width="0.7" stroke-linejoin="round"/>
<line x1="529.5" y1="600.7" x2="532.3" y2="603.4" stroke="#000" stroke-width="2.0" stroke-linecap="round"/>
<polygon points="510.8,582.0 513.7,588.0 518.2,585.3 515.4,579.5" fill="#e1f716" stroke="#e1f716" stroke-width="0.7" stroke-linejoin="round"/>
<line x1="515.4" y1="579.5" x2="518.2" y2="585.3" stroke="#000" stroke-width="2.0" stroke-linecap="round"/>
<polygon points="527.8,607.8 530.7,610.7 535.1,605.9 532.3,603.4" fill="#a4fa4c" stroke="#a4fa4c" stroke-width="0.7" stroke-linejoin="round"/>
<line x1="532.3" y1="603.4" x2="535.1" y2="605.9" stroke="#000" stroke-width="2.0" stroke-linecap="round"/>
<polygon points="445.3,539.7 446.7,542.1 451.3,518.3 449.9,521.2" fill="#ff7000" stroke="#ff7000" stroke-width="0.7" stroke-linejoin="round"/>
<polygon points="439.3,522.3 441.0,532.3 445.6,513.1 444.3,514.6" fill="#ff5a00" stroke="#ff5a00" stroke-width="0.7" stroke-linejoin="round"/>
<polygon points="443.7,532.3 445.3,539.7 449.9,521.2 448.4,514.9" fill="#ff6800" stroke="#ff6800" stroke-width="0.7" stroke-linejoin="round"/>
<polygon points="507.9,575.4 510.8,582.0 515.4,579.5 512.5,573.3" fill="#f1f40b" stroke="#f1f40b" stroke-width="0.7" stroke-linejoin="round"/>
<line x1="512.5" y1="573.3" x2="515.4" y2="579.5" stroke="#000" stroke-width="2.0" stroke-linecap="round"/>
<polygon points="530.7,610.7 533.5,613.5 537.9,608.5 535.1,605.9" fill="#9cfa54" stroke="#9cfa54" stroke-width="0.7" stroke-linejoin="round"/>
<line x1="535.1" y1="605.9" x2="537.9" y2="608.5" stroke="#000" stroke-width="2.0" stroke-linecap="round"/>
<polygon points="453.7,502.7 455.0,496.5 459.6,476.2 458.2,478.0" fill="#ff1800" stroke="#ff1800" stroke-width="0.7" stroke-linejoin="round"/>
<line x1="458.2" y1="478.0" x2="459.6" y2="476.2" stroke="#000" stroke-width="2.0" stroke-linecap="round"/>
<polygon points="533.5,613.5 536.3,616.1 540.7,610.9 537.9,608.5" fill="#95fa5b" stroke="#95fa5b" stroke-width="0.7" stroke-linejoin="round"/>
<line x1="537.9" y1="608.5" x2="540.7" y2="610.9" stroke="#000" stroke-width="2.0" stroke-linecap="round"/>
<polygon points="441.0,532.3 442.2,524.4 446.9,509.5 445.6,513.1" fill="#ff5700" stroke="#ff5700" stroke-width="0.7" stroke-linejoin="round"/>
<polygon points="505.1,568.8 507.9,575.4 512.5,573.3 509.7,567.2" fill="#ffed00" stroke="#ffed00" stroke-width="0.7" stroke-linejoin="round"/>
<line x1="509.7" y1="567.2" x2="512.5" y2="573.3" stroke="#000" stroke-width="2.0" stroke-linecap="round"/>
<polygon points="536.3,616.1 539.2,618.5 543.5,613.1 540.7,610.9" fill="#8efa62" stroke="#8efa62" stroke-width="0.7" stroke-linejoin="round"/>
<line x1="540.7" y1="610.9" x2="543.5" y2="613.1" stroke="#000" stroke-width="2.0" stroke-linecap="round"/>
<polygon points="442.2,524.4 443.7,532.3 448.4,514.9 446.9,509.5" fill="#ff5800" stroke="#ff5800" stroke-width="0.7" stroke-linejoin="round"/>
<polygon points="502.2,562.4 505.1,568.8 509.7,567.2 506.8,561.2" fill="#ffd100" stroke="#ffd100" stroke-width="0.7" stroke-linejoin="round"/>
<line x1="506.8" y1="561.2" x2="509.7" y2="567.2" stroke="#000" stroke-width="2.0" stroke-linecap="round"/>
<polygon points="539.2,618.5 542.0,620.4 546.3,614.8 543.5,613.1" fill="#89fa67" stroke="#89fa67" stroke-width="0.7" stroke-linejoin="round"/>
<line x1="543.5" y1="613.1" x2="546.3" y2="614.8" stroke="#000" stroke-width="2.0" stroke-linecap="round"/>
<polygon points="455.0,496.5 456.3,494.3 461.0,476.6 459.6,476.2" fill="#f61200" stroke="#f61200" stroke-width="0.7" stroke-linejoin="round"/>
<line x1="459.6" y1="476.2" x2="461.0" y2="476.6" stroke="#000" stroke-width="2.0" stroke-linecap="round"/>
<polygon points="446.7,542.1 447.9,532.2 452.5,509.7 451.3,518.3" fill="#ff6300" stroke="#ff6300" stroke-width="0.7" stroke-linejoin="round"/>
<polygon points="499.3,555.4 502.2,562.4 506.8,561.2 504.0,554.7" fill="#ffb600" stroke="#ffb600" stroke-width="0.7" stroke-linejoin="round"/>
<line x1="504.0" y1="554.7" x2="506.8" y2="561.2" stroke="#000" stroke-width="2.0" stroke-linecap="round"/>
<polygon points="542.0,620.4 544.8,622.1 549.1,616.4 546.3,614.8" fill="#85fa6b" stroke="#85fa6b" stroke-width="0.7" stroke-linejoin="round"/>
<line x1="546.3" y1="614.8" x2="549.1" y2="616.4" stroke="#000" stroke-width="2.0" stroke-linecap="round"/>
<polygon points="456.3,494.3 457.6,489.4 462.5,479.6 461.0,476.6" fill="#f21000" stroke="#f21000" stroke-width="0.7" stroke-linejoin="round"/>
<line x1="461.0" y1="476.6" x2="462.5" y2="479.6" stroke="#000" stroke-width="2.0" stroke-linecap="round"/>
<polygon points="496.4,548.1 499.3,555.4 504.0,554.7 501.1,547.8" fill="#ffa200" stroke="#ffa200" stroke-width="0.7" stroke-linejoin="round"/>
<line x1="501.1" y1="547.8" x2="504.0" y2="554.7" stroke="#000" stroke-width="2.0" stroke-linecap="round"/>
<polygon points="544.8,622.1 547.6,623.7 552.0,618.0 549.1,616.4" fill="#81fa6f" stroke="#81fa6f" stroke-width="0.7" stroke-linejoin="round"/>
<line x1="549.1" y1="616.4" x2="552.0" y2="618.0" stroke="#000" stroke-width="2.0" stroke-linecap="round"/>
<polygon points="457.6,489.4 459.0,488.5 463.8,477.6 462.5,479.6" fill="#ed0d00" stroke="#ed0d00" stroke-width="0.7" stroke-linejoin="round"/>
<line x1="462.5" y1="479.6" x2="463.8" y2="477.6" stroke="#000" stroke-width="2.0" stroke-linecap="round"/>
<polygon points="493.5,539.9 496.4,548.1 501.1,547.8 498.2,539.7" fill="#ff8c00" stroke="#ff8c00" stroke-width="0.7" stroke-linejoin="round"/>
<line x1="498.2" y1="539.7" x2="501.1" y2="547.8" stroke="#000" stroke-width="2.0" stroke-linecap="round"/>
<polygon points="547.6,623.7 550.5,625.2 554.8,619.3 552.0,618.0" fill="#7cf973" stroke="#7cf973" stroke-width="0.7" stroke-linejoin="round"/>
<line x1="552.0" y1="618.0" x2="554.8" y2="619.3" stroke="#000" stroke-width="2.0" stroke-linecap="round"/>
<polygon points="550.5,625.2 553.3,626.4 557.6,620.5 554.8,619.3" fill="#78f877" stroke="#78f877" stroke-width="0.7" stroke-linejoin="round"/>
<line x1="554.8" y1="619.3" x2="557.6" y2="620.5" stroke="#000" stroke-width="2.0" stroke-linecap="round"/>
<polygon points="430.5,542.4 432.1,551.7 436.9,538.3 435.5,537.6" fill="#ff8700" stroke="#ff8700" stroke-width="0.7" stroke-linejoin="round"/>
<line x1="435.5" y1="537.6" x2="436.9" y2="538.3" stroke="#000" stroke-width="2.0" stroke-linecap="round"/>
<polygon points="447.9,532.2 449.2,527.4 453.7,502.7 452.5,509.7" fill="#ff4f00" stroke="#ff4f00" stroke-width="0.7" stroke-linejoin="round"/>
<polygon points="459.0,488.5 460.3,483.1 465.2,477.9 463.8,477.6" fill="#e60800" stroke="#e60800" stroke-width="0.7" stroke-linejoin="round"/>
<line x1="463.8" y1="477.6" x2="465.2" y2="477.9" stroke="#000" stroke-width="2.0" stroke-linecap="round"/>
<polygon points="432.1,551.7 433.5,551.1 438.2,533.3 436.9,538.3" fill="#ff8900" stroke="#ff8900" stroke-width="0.7" stroke-linejoin="round"/>
<line x1="436.9" y1="538.3" x2="438.2" y2="533.3" stroke="#000" stroke-width="2.0" stroke-linecap="round"/>
<polygon points="490.6,530.0 493.5,539.9 498.2,539.7 495.3,529.9" fill="#ff7500" stroke="#ff7500" stroke-width="0.7" stroke-linejoin="round"/>
<line x1="495.3" y1="529.9" x2="498.2" y2="539.7" stroke="#000" stroke-width="2.0" stroke-linecap="round"/>
<polygon points="553.3,626.4 556.1,627.6 560.4,621.7 557.6,620.5" fill="#74f879" stroke="#74f879" stroke-width="0.7" stroke-linejoin="round"/>
<line x1="557.6" y1="620.5" x2="560.4" y2="621.7" stroke="#000" stroke-width="2.0" stroke-linecap="round"/>
<polygon points="429.0,537.2 430.5,542.4 435.5,537.6 434.0,529.1" fill="#ff7800" stroke="#ff7800" stroke-width="0.7" stroke-linejoin="round"/>
<line x1="434.0" y1="529.1" x2="435.5" y2="537.6" stroke="#000" stroke-width="2.0" stroke-linecap="round"/>
<polygon points="423.1,526.5 424.7,532.6 429.7,524.1 428.2,520.3" fill="#ff5f00" stroke="#ff5f00" stroke-width="0.7" stroke-linejoin="round"/>
<line x1="428.2" y1="520.3" x2="429.7" y2="524.1" stroke="#000" stroke-width="2.0" stroke-linecap="round"/>
<polygon points="424.7,532.6 426.0,529.3 431.1,526.7 429.7,524.1" fill="#ff6400" stroke="#ff6400" stroke-width="0.7" stroke-linejoin="round"/>
<line x1="429.7" y1="524.1" x2="431.1" y2="526.7" stroke="#000" stroke-width="2.0" stroke-linecap="round"/>
<polygon points="487.7,523.6 490.6,530.0 495.3,529.9 492.5,523.5" fill="#ff6200" stroke="#ff6200" stroke-width="0.7" stroke-linejoin="round"/>
<line x1="492.5" y1="523.5" x2="495.3" y2="529.9" stroke="#000" stroke-width="2.0" stroke-linecap="round"/>
<polygon points="556.1,627.6 559.0,628.7 563.2,622.8 560.4,621.7" fill="#71f77c" stroke="#71f77c" stroke-width="0.7" stroke-linejoin="round"/>
<line x1="560.4" y1="621.7" x2="563.2" y2="622.8" stroke="#000" stroke-width="2.0" stroke-linecap="round"/>
<polygon points="460.3,483.1 461.7,479.0 466.5,474.2 465.2,477.9" fill="#da0100" stroke="#da0100" stroke-width="0.7" stroke-linejoin="round"/>
<line x1="465.2" y1="477.9" x2="466.5" y2="474.2" stroke="#000" stroke-width="2.0" stroke-linecap="round"/>
<polygon points="484.8,515.4 487.7,523.6 492.5,523.5 489.6,515.5" fill="#ff5100" stroke="#ff5100" stroke-width="0.7" stroke-linejoin="round"/>
<line x1="489.6" y1="515.5" x2="492.5" y2="523.5" stroke="#000" stroke-width="2.0" stroke-linecap="round"/>
<polygon points="559.0,628.7 561.8,629.8 566.1,623.9 563.2,622.8" fill="#6df67f" stroke="#6df67f" stroke-width="0.7" stroke-linejoin="round"/>
<polygon points="427.4,532.4 429.0,537.2 434.0,529.1 432.2,516.0" fill="#ff6400" stroke="#ff6400" stroke-width="0.7" stroke-linejoin="round"/>
<line x1="432.2" y1="516.0" x2="434.0" y2="529.1" stroke="#000" stroke-width="2.0" stroke-linecap="round"/>
<polygon points="426.0,529.3 427.4,532.4 432.2,516.0 431.1,526.7" fill="#ff5e00" stroke="#ff5e00" stroke-width="0.7" stroke-linejoin="round"/>
<line x1="431.1" y1="526.7" x2="432.2" y2="516.0" stroke="#000" stroke-width="2.0" stroke-linecap="round"/>
<polygon points="461.7,479.0 463.1,480.3 468.0,476.1 466.5,474.2" fill="#d60000" stroke="#d60000" stroke-width="0.7" stroke-linejoin="round"/>
<polygon points="449.2,527.4 450.4,516.9 455.0,496.5 453.7,502.7" fill="#ff3e00" stroke="#ff3e00" stroke-width="0.7" stroke-linejoin="round"/>
<line x1="466.5" y1="474.2" x2="468.0" y2="476.1" stroke="#000" stroke-width="2.0" stroke-linecap="round"/>
<polygon points="433.5,551.1 434.7,543.2 439.3,522.3 438.2,533.3" fill="#ff7800" stroke="#ff7800" stroke-width="0.7" stroke-linejoin="round"/>
<line x1="438.2" y1="533.3" x2="439.3" y2="522.3" stroke="#000" stroke-width="2.0" stroke-linecap="round"/>
<polygon points="481.8,506.3 484.8,515.4 489.6,515.5 486.7,506.8" fill="#ff3e00" stroke="#ff3e00" stroke-width="0.7" stroke-linejoin="round"/>
<line x1="486.7" y1="506.8" x2="489.6" y2="515.5" stroke="#000" stroke-width="2.0" stroke-linecap="round"/>
<polygon points="463.1,480.3 464.4,477.7 469.3,472.5 468.0,476.1" fill="#d30000" stroke="#d30000" stroke-width="0.7" stroke-linejoin="round"/>
<line x1="468.0" y1="476.1" x2="469.3" y2="472.5" stroke="#000" stroke-width="2.0" stroke-linecap="round"/>
<polygon points="440.3,546.9 442.0,557.1 446.7,542.1 445.3,539.7" fill="#ff8c00" stroke="#ff8c00" stroke-width="0.7" stroke-linejoin="round"/>
<line x1="445.3" y1="539.7" x2="446.7" y2="542.1" stroke="#000" stroke-width="2.0" stroke-linecap="round"/>
<polygon points="478.9,497.6 481.8,506.3 486.7,506.8 483.8,500.5" fill="#ff2c00" stroke="#ff2c00" stroke-width="0.7" stroke-linejoin="round"/>
<line x1="483.8" y1="500.5" x2="486.7" y2="506.8" stroke="#000" stroke-width="2.0" stroke-linecap="round"/>
<polygon points="434.7,543.2 436.0,540.3 441.0,532.3 439.3,522.3" fill="#ff6f00" stroke="#ff6f00" stroke-width="0.7" stroke-linejoin="round"/>
<line x1="439.3" y1="522.3" x2="441.0" y2="532.3" stroke="#000" stroke-width="2.0" stroke-linecap="round"/>
<polygon points="442.0,557.1 443.3,553.0 447.9,532.2 446.7,542.1" fill="#ff8b00" stroke="#ff8b00" stroke-width="0.7" stroke-linejoin="round"/>
<line x1="446.7" y1="542.1" x2="447.9" y2="532.2" stroke="#000" stroke-width="2.0" stroke-linecap="round"/>
<polygon points="464.4,477.7 465.8,476.3 470.7,472.7 469.3,472.5" fill="#cc0000" stroke="#cc0000" stroke-width="0.7" stroke-linejoin="round"/>
<line x1="469.3" y1="472.5" x2="470.7" y2="472.7" stroke="#000" stroke-width="2.0" stroke-linecap="round"/>
<polygon points="436.0,540.3 437.5,545.3 442.2,524.4 441.0,532.3" fill="#ff7100" stroke="#ff7100" stroke-width="0.7" stroke-linejoin="round"/>
<line x1="441.0" y1="532.3" x2="442.2" y2="524.4" stroke="#000" stroke-width="2.0" stroke-linecap="round"/>
<polygon points="475.9,490.0 478.9,497.6 483.8,500.5 480.9,494.0" fill="#ff1e00" stroke="#ff1e00" stroke-width="0.7" stroke-linejoin="round"/>
<line x1="480.9" y1="494.0" x2="483.8" y2="500.5" stroke="#000" stroke-width="2.0" stroke-linecap="round"/>
<polygon points="438.8,541.5 440.3,546.9 445.3,539.7 443.7,532.3" fill="#ff7c00" stroke="#ff7c00" stroke-width="0.7" stroke-linejoin="round"/>
<line x1="443.7" y1="532.3" x2="445.3" y2="539.7" stroke="#000" stroke-width="2.0" stroke-linecap="round"/>
<polygon points="450.4,516.9 451.7,512.1 456.3,494.3 455.0,496.5" fill="#ff3000" stroke="#ff3000" stroke-width="0.7" stroke-linejoin="round"/>
<polygon points="465.8,476.3 467.2,476.6 472.2,476.1 470.7,472.7" fill="#cd0000" stroke="#cd0000" stroke-width="0.7" stroke-linejoin="round"/>
<line x1="470.7" y1="472.7" x2="472.2" y2="476.1" stroke="#000" stroke-width="2.0" stroke-linecap="round"/>
<polygon points="437.5,545.3 438.8,541.5 443.7,532.3 442.2,524.4" fill="#ff7100" stroke="#ff7100" stroke-width="0.7" stroke-linejoin="round"/>
<line x1="442.2" y1="524.4" x2="443.7" y2="532.3" stroke="#000" stroke-width="2.0" stroke-linecap="round"/>
<polygon points="473.0,482.9 475.9,490.0 480.9,494.0 478.0,487.1" fill="#f21000" stroke="#f21000" stroke-width="0.7" stroke-linejoin="round"/>
<line x1="478.0" y1="487.1" x2="480.9" y2="494.0" stroke="#000" stroke-width="2.0" stroke-linecap="round"/>
<polygon points="467.2,476.6 468.7,477.1 473.6,478.9 472.2,476.1" fill="#d20000" stroke="#d20000" stroke-width="0.7" stroke-linejoin="round"/>
<line x1="472.2" y1="476.1" x2="473.6" y2="478.9" stroke="#000" stroke-width="2.0" stroke-linecap="round"/>
<polygon points="468.7,477.1 470.1,478.4 475.1,481.9 473.6,478.9" fill="#d70000" stroke="#d70000" stroke-width="0.7" stroke-linejoin="round"/>
<line x1="473.6" y1="478.9" x2="475.1" y2="481.9" stroke="#000" stroke-width="2.0" stroke-linecap="round"/>
<polygon points="470.1,478.4 473.0,482.9 478.0,487.1 475.1,481.9" fill="#e10500" stroke="#e10500" stroke-width="0.7" stroke-linejoin="round"/>
<line x1="475.1" y1="481.9" x2="478.0" y2="487.1" stroke="#000" stroke-width="2.0" stroke-linecap="round"/>
<polygon points="517.7,604.6 520.5,609.0 525.0,604.8 522.2,600.8" fill="#bbfa37" stroke="#bbfa37" stroke-width="0.7" stroke-linejoin="round"/>
<polygon points="514.8,600.2 517.7,604.6 522.2,600.8 519.3,596.7" fill="#c6fa2d" stroke="#c6fa2d" stroke-width="0.7" stroke-linejoin="round"/>
<polygon points="520.5,609.0 523.4,612.3 527.8,607.8 525.0,604.8" fill="#b1fa40" stroke="#b1fa40" stroke-width="0.7" stroke-linejoin="round"/>
<polygon points="511.9,595.6 514.8,600.2 519.3,596.7 516.5,592.4" fill="#d2fa23" stroke="#d2fa23" stroke-width="0.7" stroke-linejoin="round"/>
<polygon points="443.3,553.0 444.5,546.5 449.2,527.4 447.9,532.2" fill="#ff7900" stroke="#ff7900" stroke-width="0.7" stroke-linejoin="round"/>
<line x1="447.9" y1="532.2" x2="449.2" y2="527.4" stroke="#000" stroke-width="2.0" stroke-linecap="round"/>
<polygon points="509.1,590.7 511.9,595.6 516.5,592.4 513.7,588.0" fill="#ddf819" stroke="#ddf819" stroke-width="0.7" stroke-linejoin="round"/>
<polygon points="523.4,612.3 526.2,615.4 530.7,610.7 527.8,607.8" fill="#a9fa47" stroke="#a9fa47" stroke-width="0.7" stroke-linejoin="round"/>
<polygon points="451.7,512.1 452.8,499.4 457.6,489.4 456.3,494.3" fill="#ff2200" stroke="#ff2200" stroke-width="0.7" stroke-linejoin="round"/>
<polygon points="506.2,584.5 509.1,590.7 513.7,588.0 510.8,582.0" fill="#eaf50f" stroke="#eaf50f" stroke-width="0.7" stroke-linejoin="round"/>
<polygon points="526.2,615.4 529.0,618.6 533.5,613.5 530.7,610.7" fill="#a0fa50" stroke="#a0fa50" stroke-width="0.7" stroke-linejoin="round"/>
<polygon points="529.0,618.6 531.9,621.3 536.3,616.1 533.5,613.5" fill="#98fa58" stroke="#98fa58" stroke-width="0.7" stroke-linejoin="round"/>
<polygon points="503.3,577.5 506.2,584.5 510.8,582.0 507.9,575.4" fill="#fbf103" stroke="#fbf103" stroke-width="0.7" stroke-linejoin="round"/>
<polygon points="531.9,621.3 534.7,623.9 539.2,618.5 536.3,616.1" fill="#91fa5f" stroke="#91fa5f" stroke-width="0.7" stroke-linejoin="round"/>
<polygon points="534.7,623.9 537.6,626.0 542.0,620.4 539.2,618.5" fill="#8bfa65" stroke="#8bfa65" stroke-width="0.7" stroke-linejoin="round"/>
<polygon points="427.2,565.2 428.7,569.0 433.5,551.1 432.1,551.7" fill="#ffa700" stroke="#ffa700" stroke-width="0.7" stroke-linejoin="round"/>
<polygon points="500.4,570.4 503.3,577.5 507.9,575.4 505.1,568.8" fill="#ffda00" stroke="#ffda00" stroke-width="0.7" stroke-linejoin="round"/>
<polygon points="452.8,499.4 454.2,499.4 459.0,488.5 457.6,489.4" fill="#fe1700" stroke="#fe1700" stroke-width="0.7" stroke-linejoin="round"/>
<polygon points="444.5,546.5 445.9,545.3 450.4,516.9 449.2,527.4" fill="#ff6900" stroke="#ff6900" stroke-width="0.7" stroke-linejoin="round"/>
<line x1="449.2" y1="527.4" x2="450.4" y2="516.9" stroke="#000" stroke-width="2.0" stroke-linecap="round"/>
<polygon points="537.6,626.0 540.4,627.8 544.8,622.1 542.0,620.4" fill="#86fa6a" stroke="#86fa6a" stroke-width="0.7" stroke-linejoin="round"/>
<polygon points="497.5,563.5 500.4,570.4 505.1,568.8 502.2,562.4" fill="#ffbc00" stroke="#ffbc00" stroke-width="0.7" stroke-linejoin="round"/>
<polygon points="540.4,627.8 543.3,629.6 547.6,623.7 544.8,622.1" fill="#82fa6e" stroke="#82fa6e" stroke-width="0.7" stroke-linejoin="round"/>
<polygon points="428.7,569.0 430.0,564.2 434.7,543.2 433.5,551.1" fill="#ff9f00" stroke="#ff9f00" stroke-width="0.7" stroke-linejoin="round"/>
<polygon points="425.3,547.3 427.2,565.2 432.1,551.7 430.5,542.4" fill="#ff9100" stroke="#ff9100" stroke-width="0.7" stroke-linejoin="round"/>
<polygon points="494.6,556.1 497.5,563.5 502.2,562.4 499.3,555.4" fill="#ffa700" stroke="#ffa700" stroke-width="0.7" stroke-linejoin="round"/>
<polygon points="543.3,629.6 546.1,631.2 550.5,625.2 547.6,623.7" fill="#7efa72" stroke="#7efa72" stroke-width="0.7" stroke-linejoin="round"/>
<polygon points="454.2,499.4 455.4,488.3 460.3,483.1 459.0,488.5" fill="#ef0e00" stroke="#ef0e00" stroke-width="0.7" stroke-linejoin="round"/>
<polygon points="491.7,548.4 494.6,556.1 499.3,555.4 496.4,548.1" fill="#ff9100" stroke="#ff9100" stroke-width="0.7" stroke-linejoin="round"/>
<polygon points="546.1,631.2 549.0,632.4 553.3,626.4 550.5,625.2" fill="#79f976" stroke="#79f976" stroke-width="0.7" stroke-linejoin="round"/>
<polygon points="445.9,545.3 447.1,537.9 451.7,512.1 450.4,516.9" fill="#ff5900" stroke="#ff5900" stroke-width="0.7" stroke-linejoin="round"/>
<line x1="450.4" y1="516.9" x2="451.7" y2="512.1" stroke="#000" stroke-width="2.0" stroke-linecap="round"/>
<polygon points="422.6,548.9 423.9,545.4 429.0,537.2 427.4,532.4" fill="#ff7500" stroke="#ff7500" stroke-width="0.7" stroke-linejoin="round"/>
<polygon points="418.0,532.7 419.6,541.3 424.7,532.6 423.1,526.5" fill="#ff6300" stroke="#ff6300" stroke-width="0.7" stroke-linejoin="round"/>
<polygon points="423.9,545.4 425.3,547.3 430.5,542.4 429.0,537.2" fill="#ff7a00" stroke="#ff7a00" stroke-width="0.7" stroke-linejoin="round"/>
<polygon points="488.7,540.1 491.7,548.4 496.4,548.1 493.5,539.9" fill="#ff7d00" stroke="#ff7d00" stroke-width="0.7" stroke-linejoin="round"/>
<polygon points="437.2,572.3 438.6,573.9 443.3,553.0 442.0,557.1" fill="#ffb000" stroke="#ffb000" stroke-width="0.7" stroke-linejoin="round"/>
<polygon points="549.0,632.4 551.8,633.5 556.1,627.6 553.3,626.4" fill="#75f879" stroke="#75f879" stroke-width="0.7" stroke-linejoin="round"/>
<polygon points="419.6,541.3 420.7,532.0 426.0,529.3 424.7,532.6" fill="#ff6400" stroke="#ff6400" stroke-width="0.7" stroke-linejoin="round"/>
<polygon points="420.7,532.0 422.6,548.9 427.4,532.4 426.0,529.3" fill="#ff6800" stroke="#ff6800" stroke-width="0.7" stroke-linejoin="round"/>
<polygon points="430.0,564.2 431.0,548.4 436.0,540.3 434.7,543.2" fill="#ff8700" stroke="#ff8700" stroke-width="0.7" stroke-linejoin="round"/>
<polygon points="551.8,633.5 554.7,634.7 559.0,628.7 556.1,627.6" fill="#72f77b" stroke="#72f77b" stroke-width="0.7" stroke-linejoin="round"/>
<polygon points="455.4,488.3 456.7,483.8 461.7,479.0 460.3,483.1" fill="#d90100" stroke="#d90100" stroke-width="0.7" stroke-linejoin="round"/>
<polygon points="435.3,554.1 437.2,572.3 442.0,557.1 440.3,546.9" fill="#ff9d00" stroke="#ff9d00" stroke-width="0.7" stroke-linejoin="round"/>
<polygon points="485.8,530.1 488.7,540.1 493.5,539.9 490.6,530.0" fill="#ff6700" stroke="#ff6700" stroke-width="0.7" stroke-linejoin="round"/>
<polygon points="431.0,548.4 432.8,566.2 437.5,545.3 436.0,540.3" fill="#ff8900" stroke="#ff8900" stroke-width="0.7" stroke-linejoin="round"/>
<polygon points="554.7,634.7 557.5,635.7 561.8,629.8 559.0,628.7" fill="#6ff67e" stroke="#6ff67e" stroke-width="0.7" stroke-linejoin="round"/>
<polygon points="432.8,566.2 433.8,550.8 438.8,541.5 437.5,545.3" fill="#ff8b00" stroke="#ff8b00" stroke-width="0.7" stroke-linejoin="round"/>
<polygon points="438.6,573.9 439.8,565.7 444.5,546.5 443.3,553.0" fill="#ffa200" stroke="#ffa200" stroke-width="0.7" stroke-linejoin="round"/>
<polygon points="456.7,483.8 458.1,484.5 463.1,480.3 461.7,479.0" fill="#d30000" stroke="#d30000" stroke-width="0.7" stroke-linejoin="round"/>
<polygon points="482.8,523.6 485.8,530.1 490.6,530.0 487.7,523.6" fill="#ff5400" stroke="#ff5400" stroke-width="0.7" stroke-linejoin="round"/>
<polygon points="447.1,537.9 448.1,520.8 452.8,499.4 451.7,512.1" fill="#ff3f00" stroke="#ff3f00" stroke-width="0.7" stroke-linejoin="round"/>
<line x1="451.7" y1="512.1" x2="452.8" y2="499.4" stroke="#000" stroke-width="2.0" stroke-linecap="round"/>
<polygon points="479.9,515.2 482.8,523.6 487.7,523.6 484.8,515.4" fill="#ff4400" stroke="#ff4400" stroke-width="0.7" stroke-linejoin="round"/>
<polygon points="458.1,484.5 459.5,483.0 464.4,477.7 463.1,480.3" fill="#d10000" stroke="#d10000" stroke-width="0.7" stroke-linejoin="round"/>
<polygon points="433.8,550.8 435.3,554.1 440.3,546.9 438.8,541.5" fill="#ff8300" stroke="#ff8300" stroke-width="0.7" stroke-linejoin="round"/>
<polygon points="439.8,565.7 441.4,573.6 445.9,545.3 444.5,546.5" fill="#ff9b00" stroke="#ff9b00" stroke-width="0.7" stroke-linejoin="round"/>
<polygon points="476.9,505.8 479.9,515.2 484.8,515.4 481.8,506.3" fill="#ff3000" stroke="#ff3000" stroke-width="0.7" stroke-linejoin="round"/>
<polygon points="459.5,483.0 460.9,480.0 465.8,476.3 464.4,477.7" fill="#ca0000" stroke="#ca0000" stroke-width="0.7" stroke-linejoin="round"/>
<polygon points="441.4,573.6 442.5,563.7 447.1,537.9 445.9,545.3" fill="#ff9200" stroke="#ff9200" stroke-width="0.7" stroke-linejoin="round"/>
<polygon points="460.9,480.0 462.2,477.0 467.2,476.6 465.8,476.3" fill="#c30000" stroke="#c30000" stroke-width="0.7" stroke-linejoin="round"/>
<polygon points="473.9,494.7 476.9,505.8 481.8,506.3 478.9,497.6" fill="#ff1d00" stroke="#ff1d00" stroke-width="0.7" stroke-linejoin="round"/>
<polygon points="448.1,520.8 449.5,518.1 454.2,499.4 452.8,499.4" fill="#ff2c00" stroke="#ff2c00" stroke-width="0.7" stroke-linejoin="round"/>
<line x1="452.8" y1="499.4" x2="454.2" y2="499.4" stroke="#000" stroke-width="2.0" stroke-linecap="round"/>
<polygon points="462.2,477.0 463.6,475.2 468.7,477.1 467.2,476.6" fill="#bf0000" stroke="#bf0000" stroke-width="0.7" stroke-linejoin="round"/>
<polygon points="470.9,485.8 473.9,494.7 478.9,497.6 475.9,490.0" fill="#eb0c00" stroke="#eb0c00" stroke-width="0.7" stroke-linejoin="round"/>
<polygon points="513.1,608.6 515.9,613.3 520.5,609.0 517.7,604.6" fill="#c1fa32" stroke="#c1fa32" stroke-width="0.7" stroke-linejoin="round"/>
<polygon points="515.9,613.3 518.8,616.9 523.4,612.3 520.5,609.0" fill="#b6fa3b" stroke="#b6fa3b" stroke-width="0.7" stroke-linejoin="round"/>
<line x1="517.7" y1="604.6" x2="520.5" y2="609.0" stroke="#000" stroke-width="2.0" stroke-linecap="round"/>
<line x1="520.5" y1="609.0" x2="523.4" y2="612.3" stroke="#000" stroke-width="2.0" stroke-linecap="round"/>
<polygon points="422.1,572.2 423.4,570.0 428.7,569.0 427.2,565.2" fill="#ffb400" stroke="#ffb400" stroke-width="0.7" stroke-linejoin="round"/>
<line x1="427.2" y1="565.2" x2="428.7" y2="569.0" stroke="#000" stroke-width="2.0" stroke-linecap="round"/>
<polygon points="510.2,603.9 513.1,608.6 517.7,604.6 514.8,600.2" fill="#cdfa27" stroke="#cdfa27" stroke-width="0.7" stroke-linejoin="round"/>
<line x1="514.8" y1="600.2" x2="517.7" y2="604.6" stroke="#000" stroke-width="2.0" stroke-linecap="round"/>
<polygon points="518.8,616.9 521.7,620.3 526.2,615.4 523.4,612.3" fill="#aefa43" stroke="#aefa43" stroke-width="0.7" stroke-linejoin="round"/>
<line x1="523.4" y1="612.3" x2="526.2" y2="615.4" stroke="#000" stroke-width="2.0" stroke-linecap="round"/>
<polygon points="463.6,475.2 465.0,474.8 470.1,478.4 468.7,477.1" fill="#be0000" stroke="#be0000" stroke-width="0.7" stroke-linejoin="round"/>
<polygon points="507.3,598.8 510.2,603.9 514.8,600.2 511.9,595.6" fill="#d9f91c" stroke="#d9f91c" stroke-width="0.7" stroke-linejoin="round"/>
<line x1="511.9" y1="595.6" x2="514.8" y2="600.2" stroke="#000" stroke-width="2.0" stroke-linecap="round"/>
<polygon points="521.7,620.3 524.5,623.7 529.0,618.6 526.2,615.4" fill="#a5fa4b" stroke="#a5fa4b" stroke-width="0.7" stroke-linejoin="round"/>
<line x1="526.2" y1="615.4" x2="529.0" y2="618.6" stroke="#000" stroke-width="2.0" stroke-linecap="round"/>
<polygon points="467.9,478.6 470.9,485.8 475.9,490.0 473.0,482.9" fill="#d40000" stroke="#d40000" stroke-width="0.7" stroke-linejoin="round"/>
<polygon points="504.4,593.5 507.3,598.8 511.9,595.6 509.1,590.7" fill="#e5f613" stroke="#e5f613" stroke-width="0.7" stroke-linejoin="round"/>
<line x1="509.1" y1="590.7" x2="511.9" y2="595.6" stroke="#000" stroke-width="2.0" stroke-linecap="round"/>
<polygon points="465.0,474.8 467.9,478.6 473.0,482.9 470.1,478.4" fill="#c40000" stroke="#c40000" stroke-width="0.7" stroke-linejoin="round"/>
<polygon points="524.5,623.7 527.4,626.6 531.9,621.3 529.0,618.6" fill="#9cfa54" stroke="#9cfa54" stroke-width="0.7" stroke-linejoin="round"/>
<line x1="529.0" y1="618.6" x2="531.9" y2="621.3" stroke="#000" stroke-width="2.0" stroke-linecap="round"/>
<polygon points="420.6,568.8 422.1,572.2 427.2,565.2 425.3,547.3" fill="#ffa300" stroke="#ffa300" stroke-width="0.7" stroke-linejoin="round"/>
<line x1="425.3" y1="547.3" x2="427.2" y2="565.2" stroke="#000" stroke-width="2.0" stroke-linecap="round"/>
<polygon points="501.5,587.0 504.4,593.5 509.1,590.7 506.2,584.5" fill="#f3f309" stroke="#f3f309" stroke-width="0.7" stroke-linejoin="round"/>
<line x1="506.2" y1="584.5" x2="509.1" y2="590.7" stroke="#000" stroke-width="2.0" stroke-linecap="round"/>
<polygon points="527.4,626.6 530.3,629.4 534.7,623.9 531.9,621.3" fill="#94fa5c" stroke="#94fa5c" stroke-width="0.7" stroke-linejoin="round"/>
<line x1="531.9" y1="621.3" x2="534.7" y2="623.9" stroke="#000" stroke-width="2.0" stroke-linecap="round"/>
<polygon points="423.4,570.0 424.8,568.3 430.0,564.2 428.7,569.0" fill="#ffaf00" stroke="#ffaf00" stroke-width="0.7" stroke-linejoin="round"/>
<polygon points="417.8,569.4 419.2,568.7 423.9,545.4 422.6,548.9" fill="#ff9400" stroke="#ff9400" stroke-width="0.7" stroke-linejoin="round"/>
<line x1="428.7" y1="569.0" x2="430.0" y2="564.2" stroke="#000" stroke-width="2.0" stroke-linecap="round"/>
<line x1="422.6" y1="548.9" x2="423.9" y2="545.4" stroke="#000" stroke-width="2.0" stroke-linecap="round"/>
<polygon points="530.3,629.4 533.1,631.7 537.6,626.0 534.7,623.9" fill="#8dfa63" stroke="#8dfa63" stroke-width="0.7" stroke-linejoin="round"/>
<line x1="534.7" y1="623.9" x2="537.6" y2="626.0" stroke="#000" stroke-width="2.0" stroke-linecap="round"/>
<polygon points="498.6,579.6 501.5,587.0 506.2,584.5 503.3,577.5" fill="#ffe600" stroke="#ffe600" stroke-width="0.7" stroke-linejoin="round"/>
<line x1="503.3" y1="577.5" x2="506.2" y2="584.5" stroke="#000" stroke-width="2.0" stroke-linecap="round"/>
<polygon points="449.5,518.1 450.5,500.8 455.4,488.3 454.2,499.4" fill="#ff1b00" stroke="#ff1b00" stroke-width="0.7" stroke-linejoin="round"/>
<line x1="454.2" y1="499.4" x2="455.4" y2="488.3" stroke="#000" stroke-width="2.0" stroke-linecap="round"/>
<polygon points="419.2,568.7 420.6,568.8 425.3,547.3 423.9,545.4" fill="#ff9200" stroke="#ff9200" stroke-width="0.7" stroke-linejoin="round"/>
<line x1="423.9" y1="545.4" x2="425.3" y2="547.3" stroke="#000" stroke-width="2.0" stroke-linecap="round"/>
<polygon points="533.1,631.7 536.0,633.6 540.4,627.8 537.6,626.0" fill="#88fa68" stroke="#88fa68" stroke-width="0.7" stroke-linejoin="round"/>
<line x1="537.6" y1="626.0" x2="540.4" y2="627.8" stroke="#000" stroke-width="2.0" stroke-linecap="round"/>
<polygon points="416.1,556.2 417.8,569.4 422.6,548.9 420.7,532.0" fill="#ff8300" stroke="#ff8300" stroke-width="0.7" stroke-linejoin="round"/>
<line x1="420.7" y1="532.0" x2="422.6" y2="548.9" stroke="#000" stroke-width="2.0" stroke-linecap="round"/>
<polygon points="442.5,563.7 443.4,542.4 448.1,520.8 447.1,537.9" fill="#ff6b00" stroke="#ff6b00" stroke-width="0.7" stroke-linejoin="round"/>
<polygon points="495.7,572.1 498.6,579.6 503.3,577.5 500.4,570.4" fill="#ffc700" stroke="#ffc700" stroke-width="0.7" stroke-linejoin="round"/>
<line x1="500.4" y1="570.4" x2="503.3" y2="577.5" stroke="#000" stroke-width="2.0" stroke-linecap="round"/>
<polygon points="536.0,633.6 538.9,635.5 543.3,629.6 540.4,627.8" fill="#84fa6c" stroke="#84fa6c" stroke-width="0.7" stroke-linejoin="round"/>
<line x1="540.4" y1="627.8" x2="543.3" y2="629.6" stroke="#000" stroke-width="2.0" stroke-linecap="round"/>
<polygon points="414.7,557.5 416.1,556.2 420.7,532.0 419.6,541.3" fill="#ff7700" stroke="#ff7700" stroke-width="0.7" stroke-linejoin="round"/>
<line x1="419.6" y1="541.3" x2="420.7" y2="532.0" stroke="#000" stroke-width="2.0" stroke-linecap="round"/>
<polygon points="424.8,568.3 426.3,571.1 431.0,548.4 430.0,564.2" fill="#ff9f00" stroke="#ff9f00" stroke-width="0.7" stroke-linejoin="round"/>
<line x1="430.0" y1="564.2" x2="431.0" y2="548.4" stroke="#000" stroke-width="2.0" stroke-linecap="round"/>
<polygon points="431.8,569.6 433.6,583.1 438.6,573.9 437.2,572.3" fill="#ffc400" stroke="#ffc400" stroke-width="0.7" stroke-linejoin="round"/>
<polygon points="412.8,541.2 414.7,557.5 419.6,541.3 418.0,532.7" fill="#ff6e00" stroke="#ff6e00" stroke-width="0.7" stroke-linejoin="round"/>
<line x1="437.2" y1="572.3" x2="438.6" y2="573.9" stroke="#000" stroke-width="2.0" stroke-linecap="round"/>
<line x1="418.0" y1="532.7" x2="419.6" y2="541.3" stroke="#000" stroke-width="2.0" stroke-linecap="round"/>
<polygon points="538.9,635.5 541.7,637.2 546.1,631.2 543.3,629.6" fill="#7ffa71" stroke="#7ffa71" stroke-width="0.7" stroke-linejoin="round"/>
<line x1="543.3" y1="629.6" x2="546.1" y2="631.2" stroke="#000" stroke-width="2.0" stroke-linecap="round"/>
<polygon points="492.7,564.7 495.7,572.1 500.4,570.4 497.5,563.5" fill="#ffad00" stroke="#ffad00" stroke-width="0.7" stroke-linejoin="round"/>
<line x1="497.5" y1="563.5" x2="500.4" y2="570.4" stroke="#000" stroke-width="2.0" stroke-linecap="round"/>
<polygon points="426.3,571.1 427.6,568.6 432.8,566.2 431.0,548.4" fill="#ffa000" stroke="#ffa000" stroke-width="0.7" stroke-linejoin="round"/>
<line x1="431.0" y1="548.4" x2="432.8" y2="566.2" stroke="#000" stroke-width="2.0" stroke-linecap="round"/>
<polygon points="541.7,637.2 544.6,638.4 549.0,632.4 546.1,631.2" fill="#7af975" stroke="#7af975" stroke-width="0.7" stroke-linejoin="round"/>
<line x1="546.1" y1="631.2" x2="549.0" y2="632.4" stroke="#000" stroke-width="2.0" stroke-linecap="round"/>
<polygon points="489.8,556.8 492.7,564.7 497.5,563.5 494.6,556.1" fill="#ff9700" stroke="#ff9700" stroke-width="0.7" stroke-linejoin="round"/>
<polygon points="433.6,583.1 434.7,570.5 439.8,565.7 438.6,573.9" fill="#ffbb00" stroke="#ffbb00" stroke-width="0.7" stroke-linejoin="round"/>
<line x1="494.6" y1="556.1" x2="497.5" y2="563.5" stroke="#000" stroke-width="2.0" stroke-linecap="round"/>
<line x1="438.6" y1="573.9" x2="439.8" y2="565.7" stroke="#000" stroke-width="2.0" stroke-linecap="round"/>
<polygon points="427.6,568.6 429.0,567.1 433.8,550.8 432.8,566.2" fill="#ff9e00" stroke="#ff9e00" stroke-width="0.7" stroke-linejoin="round"/>
<line x1="432.8" y1="566.2" x2="433.8" y2="550.8" stroke="#000" stroke-width="2.0" stroke-linecap="round"/>
<polygon points="450.5,500.8 451.9,497.3 456.7,483.8 455.4,488.3" fill="#e50800" stroke="#e50800" stroke-width="0.7" stroke-linejoin="round"/>
<polygon points="544.6,638.4 547.5,639.6 551.8,633.5 549.0,632.4" fill="#76f878" stroke="#76f878" stroke-width="0.7" stroke-linejoin="round"/>
<line x1="455.4" y1="488.3" x2="456.7" y2="483.8" stroke="#000" stroke-width="2.0" stroke-linecap="round"/>
<line x1="549.0" y1="632.4" x2="551.8" y2="633.5" stroke="#000" stroke-width="2.0" stroke-linecap="round"/>
<polygon points="434.7,570.5 436.4,581.9 441.4,573.6 439.8,565.7" fill="#ffb800" stroke="#ffb800" stroke-width="0.7" stroke-linejoin="round"/>
<line x1="439.8" y1="565.7" x2="441.4" y2="573.6" stroke="#000" stroke-width="2.0" stroke-linecap="round"/>
<polygon points="486.8,548.8 489.8,556.8 494.6,556.1 491.7,548.4" fill="#ff8300" stroke="#ff8300" stroke-width="0.7" stroke-linejoin="round"/>
<line x1="491.7" y1="548.4" x2="494.6" y2="556.1" stroke="#000" stroke-width="2.0" stroke-linecap="round"/>
<polygon points="430.2,560.3 431.8,569.6 437.2,572.3 435.3,554.1" fill="#ff9f00" stroke="#ff9f00" stroke-width="0.7" stroke-linejoin="round"/>
<line x1="435.3" y1="554.1" x2="437.2" y2="572.3" stroke="#000" stroke-width="2.0" stroke-linecap="round"/>
<polygon points="436.4,581.9 437.6,574.3 442.5,563.7 441.4,573.6" fill="#ffb900" stroke="#ffb900" stroke-width="0.7" stroke-linejoin="round"/>
<line x1="441.4" y1="573.6" x2="442.5" y2="563.7" stroke="#000" stroke-width="2.0" stroke-linecap="round"/>
<polygon points="547.5,639.6 550.3,640.7 554.7,634.7 551.8,633.5" fill="#73f77a" stroke="#73f77a" stroke-width="0.7" stroke-linejoin="round"/>
<line x1="551.8" y1="633.5" x2="554.7" y2="634.7" stroke="#000" stroke-width="2.0" stroke-linecap="round"/>
<polygon points="483.9,540.4 486.8,548.8 491.7,548.4 488.7,540.1" fill="#ff6f00" stroke="#ff6f00" stroke-width="0.7" stroke-linejoin="round"/>
<line x1="488.7" y1="540.1" x2="491.7" y2="548.4" stroke="#000" stroke-width="2.0" stroke-linecap="round"/>
<polygon points="451.9,497.3 453.2,492.8 458.1,484.5 456.7,483.8" fill="#db0200" stroke="#db0200" stroke-width="0.7" stroke-linejoin="round"/>
<line x1="456.7" y1="483.8" x2="458.1" y2="484.5" stroke="#000" stroke-width="2.0" stroke-linecap="round"/>
<polygon points="443.4,542.4 444.7,536.9 449.5,518.1 448.1,520.8" fill="#ff4e00" stroke="#ff4e00" stroke-width="0.7" stroke-linejoin="round"/>
<polygon points="550.3,640.7 553.2,641.7 557.5,635.7 554.7,634.7" fill="#70f77d" stroke="#70f77d" stroke-width="0.7" stroke-linejoin="round"/>
<polygon points="429.0,567.1 430.2,560.3 435.3,554.1 433.8,550.8" fill="#ff8e00" stroke="#ff8e00" stroke-width="0.7" stroke-linejoin="round"/>
<line x1="433.8" y1="550.8" x2="435.3" y2="554.1" stroke="#000" stroke-width="2.0" stroke-linecap="round"/>
<polygon points="453.2,492.8 454.6,492.4 459.5,483.0 458.1,484.5" fill="#d50000" stroke="#d50000" stroke-width="0.7" stroke-linejoin="round"/>
<line x1="458.1" y1="484.5" x2="459.5" y2="483.0" stroke="#000" stroke-width="2.0" stroke-linecap="round"/>
<polygon points="480.9,530.2 483.9,540.4 488.7,540.1 485.8,530.1" fill="#ff5900" stroke="#ff5900" stroke-width="0.7" stroke-linejoin="round"/>
<line x1="485.8" y1="530.1" x2="488.7" y2="540.1" stroke="#000" stroke-width="2.0" stroke-linecap="round"/>
<polygon points="413.1,590.0 414.5,592.0 419.2,568.7 417.8,569.4" fill="#ffce00" stroke="#ffce00" stroke-width="0.7" stroke-linejoin="round"/>
<polygon points="414.5,592.0 415.9,590.5 420.6,568.8 419.2,568.7" fill="#ffcd00" stroke="#ffcd00" stroke-width="0.7" stroke-linejoin="round"/>
<polygon points="477.9,523.7 480.9,530.2 485.8,530.1 482.8,523.6" fill="#ff4700" stroke="#ff4700" stroke-width="0.7" stroke-linejoin="round"/>
<line x1="482.8" y1="523.6" x2="485.8" y2="530.1" stroke="#000" stroke-width="2.0" stroke-linecap="round"/>
<polygon points="411.4,580.4 413.1,590.0 417.8,569.4 416.1,556.2" fill="#ffb500" stroke="#ffb500" stroke-width="0.7" stroke-linejoin="round"/>
<polygon points="454.6,492.4 455.9,486.4 460.9,480.0 459.5,483.0" fill="#cc0000" stroke="#cc0000" stroke-width="0.7" stroke-linejoin="round"/>
<line x1="459.5" y1="483.0" x2="460.9" y2="480.0" stroke="#000" stroke-width="2.0" stroke-linecap="round"/>
<polygon points="474.9,513.2 477.9,523.7 482.8,523.6 479.9,515.2" fill="#ff3500" stroke="#ff3500" stroke-width="0.7" stroke-linejoin="round"/>
<line x1="479.9" y1="515.2" x2="482.8" y2="523.6" stroke="#000" stroke-width="2.0" stroke-linecap="round"/>
<polygon points="415.9,590.5 416.9,579.4 422.1,572.2 420.6,568.8" fill="#ffc100" stroke="#ffc100" stroke-width="0.7" stroke-linejoin="round"/>
<polygon points="409.8,573.8 411.4,580.4 416.1,556.2 414.7,557.5" fill="#ffa000" stroke="#ffa000" stroke-width="0.7" stroke-linejoin="round"/>
<polygon points="437.6,574.3 438.6,558.3 443.4,542.4 442.5,563.7" fill="#ff8d00" stroke="#ff8d00" stroke-width="0.7" stroke-linejoin="round"/>
<line x1="442.5" y1="563.7" x2="443.4" y2="542.4" stroke="#000" stroke-width="2.0" stroke-linecap="round"/>
<polygon points="455.9,486.4 457.3,483.9 462.2,477.0 460.9,480.0" fill="#c00000" stroke="#c00000" stroke-width="0.7" stroke-linejoin="round"/>
<line x1="460.9" y1="480.0" x2="462.2" y2="477.0" stroke="#000" stroke-width="2.0" stroke-linecap="round"/>
<polygon points="444.7,536.9 445.6,513.4 450.5,500.8 449.5,518.1" fill="#ff3100" stroke="#ff3100" stroke-width="0.7" stroke-linejoin="round"/>
<polygon points="471.9,502.0 474.9,513.2 479.9,515.2 476.9,505.8" fill="#ff2100" stroke="#ff2100" stroke-width="0.7" stroke-linejoin="round"/>
<line x1="476.9" y1="505.8" x2="479.9" y2="515.2" stroke="#000" stroke-width="2.0" stroke-linecap="round"/>
<polygon points="457.3,483.9 458.6,481.3 463.6,475.2 462.2,477.0" fill="#b80000" stroke="#b80000" stroke-width="0.7" stroke-linejoin="round"/>
<line x1="462.2" y1="477.0" x2="463.6" y2="475.2" stroke="#000" stroke-width="2.0" stroke-linecap="round"/>
<polygon points="416.9,579.4 418.1,571.1 423.4,570.0 422.1,572.2" fill="#ffaf00" stroke="#ffaf00" stroke-width="0.7" stroke-linejoin="round"/>
<polygon points="511.3,617.5 514.2,621.5 518.8,616.9 515.9,613.3" fill="#bbfa37" stroke="#bbfa37" stroke-width="0.7" stroke-linejoin="round"/>
<polygon points="508.4,612.5 511.3,617.5 515.9,613.3 513.1,608.6" fill="#c7fa2c" stroke="#c7fa2c" stroke-width="0.7" stroke-linejoin="round"/>
<polygon points="514.2,621.5 517.1,625.2 521.7,620.3 518.8,616.9" fill="#b2fa3f" stroke="#b2fa3f" stroke-width="0.7" stroke-linejoin="round"/>
<polygon points="517.1,625.2 520.0,628.9 524.5,623.7 521.7,620.3" fill="#a9fa47" stroke="#a9fa47" stroke-width="0.7" stroke-linejoin="round"/>
<polygon points="419.6,572.5 421.6,593.8 426.3,571.1 424.8,568.3" fill="#ffb700" stroke="#ffb700" stroke-width="0.7" stroke-linejoin="round"/>
<polygon points="505.5,607.5 508.4,612.5 513.1,608.6 510.2,603.9" fill="#d4fa21" stroke="#d4fa21" stroke-width="0.7" stroke-linejoin="round"/>
<polygon points="520.0,628.9 522.9,632.0 527.4,626.6 524.5,623.7" fill="#9ffa51" stroke="#9ffa51" stroke-width="0.7" stroke-linejoin="round"/>
<polygon points="468.8,490.4 471.9,502.0 476.9,505.8 473.9,494.7" fill="#eb0c00" stroke="#eb0c00" stroke-width="0.7" stroke-linejoin="round"/>
<line x1="473.9" y1="494.7" x2="476.9" y2="505.8" stroke="#000" stroke-width="2.0" stroke-linecap="round"/>
<polygon points="502.6,602.1 505.5,607.5 510.2,603.9 507.3,598.8" fill="#e0f817" stroke="#e0f817" stroke-width="0.7" stroke-linejoin="round"/>
<polygon points="407.6,549.8 409.8,573.8 414.7,557.5 412.8,541.2" fill="#ff8000" stroke="#ff8000" stroke-width="0.7" stroke-linejoin="round"/>
<polygon points="522.9,632.0 525.7,635.0 530.3,629.4 527.4,626.6" fill="#96fa5a" stroke="#96fa5a" stroke-width="0.7" stroke-linejoin="round"/>
<polygon points="458.6,481.3 460.0,479.2 465.0,474.8 463.6,475.2" fill="#b20000" stroke="#b20000" stroke-width="0.7" stroke-linejoin="round"/>
<line x1="463.6" y1="475.2" x2="465.0" y2="474.8" stroke="#000" stroke-width="2.0" stroke-linecap="round"/>
<polygon points="499.7,596.4 502.6,602.1 507.3,598.8 504.4,593.5" fill="#edf40d" stroke="#edf40d" stroke-width="0.7" stroke-linejoin="round"/>
<polygon points="421.6,593.8 422.3,571.1 427.6,568.6 426.3,571.1" fill="#ffb500" stroke="#ffb500" stroke-width="0.7" stroke-linejoin="round"/>
<polygon points="525.7,635.0 528.6,637.5 533.1,631.7 530.3,629.4" fill="#8ffa61" stroke="#8ffa61" stroke-width="0.7" stroke-linejoin="round"/>
<polygon points="418.1,571.1 419.6,572.5 424.8,568.3 423.4,570.0" fill="#ffa500" stroke="#ffa500" stroke-width="0.7" stroke-linejoin="round"/>
<polygon points="496.8,589.6 499.7,596.4 504.4,593.5 501.5,587.0" fill="#fcf102" stroke="#fcf102" stroke-width="0.7" stroke-linejoin="round"/>
<polygon points="528.6,637.5 531.5,639.5 536.0,633.6 533.1,631.7" fill="#89fa67" stroke="#89fa67" stroke-width="0.7" stroke-linejoin="round"/>
<polygon points="438.6,558.3 440.2,564.5 444.7,536.9 443.4,542.4" fill="#ff7400" stroke="#ff7400" stroke-width="0.7" stroke-linejoin="round"/>
<line x1="443.4" y1="542.4" x2="444.7" y2="536.9" stroke="#000" stroke-width="2.0" stroke-linecap="round"/>
<polygon points="465.8,481.7 468.8,490.4 473.9,494.7 470.9,485.8" fill="#cd0000" stroke="#cd0000" stroke-width="0.7" stroke-linejoin="round"/>
<line x1="470.9" y1="485.8" x2="473.9" y2="494.7" stroke="#000" stroke-width="2.0" stroke-linecap="round"/>
<polygon points="460.0,479.2 462.9,478.0 467.9,478.6 465.0,474.8" fill="#b10000" stroke="#b10000" stroke-width="0.7" stroke-linejoin="round"/>
<line x1="465.0" y1="474.8" x2="467.9" y2="478.6" stroke="#000" stroke-width="2.0" stroke-linecap="round"/>
<polygon points="462.9,478.0 465.8,481.7 470.9,485.8 467.9,478.6" fill="#b90000" stroke="#b90000" stroke-width="0.7" stroke-linejoin="round"/>
<line x1="467.9" y1="478.6" x2="470.9" y2="485.8" stroke="#000" stroke-width="2.0" stroke-linecap="round"/>
<polygon points="493.8,581.7 496.8,589.6 501.5,587.0 498.6,579.6" fill="#ffd500" stroke="#ffd500" stroke-width="0.7" stroke-linejoin="round"/>
<polygon points="531.5,639.5 534.4,641.4 538.9,635.5 536.0,633.6" fill="#85fa6b" stroke="#85fa6b" stroke-width="0.7" stroke-linejoin="round"/>
<polygon points="445.6,513.4 447.0,510.9 451.9,497.3 450.5,500.8" fill="#fd1700" stroke="#fd1700" stroke-width="0.7" stroke-linejoin="round"/>
<polygon points="422.3,571.1 424.1,583.6 429.0,567.1 427.6,568.6" fill="#ffa900" stroke="#ffa900" stroke-width="0.7" stroke-linejoin="round"/>
<polygon points="534.4,641.4 537.3,643.3 541.7,637.2 538.9,635.5" fill="#80fa70" stroke="#80fa70" stroke-width="0.7" stroke-linejoin="round"/>
<polygon points="426.4,566.9 428.5,592.5 433.6,583.1 431.8,569.6" fill="#ffb700" stroke="#ffb700" stroke-width="0.7" stroke-linejoin="round"/>
<polygon points="490.8,573.8 493.8,581.7 498.6,579.6 495.7,572.1" fill="#ffb500" stroke="#ffb500" stroke-width="0.7" stroke-linejoin="round"/>
<polygon points="428.5,592.5 429.5,575.3 434.7,570.5 433.6,583.1" fill="#ffc100" stroke="#ffc100" stroke-width="0.7" stroke-linejoin="round"/>
<polygon points="537.3,643.3 540.1,644.5 544.6,638.4 541.7,637.2" fill="#7bf974" stroke="#7bf974" stroke-width="0.7" stroke-linejoin="round"/>
<polygon points="431.3,590.3 432.6,585.1 437.6,574.3 436.4,581.9" fill="#ffca00" stroke="#ffca00" stroke-width="0.7" stroke-linejoin="round"/>
<polygon points="429.5,575.3 431.3,590.3 436.4,581.9 434.7,570.5" fill="#ffbb00" stroke="#ffbb00" stroke-width="0.7" stroke-linejoin="round"/>
<polygon points="487.9,565.8 490.8,573.8 495.7,572.1 492.7,564.7" fill="#ff9f00" stroke="#ff9f00" stroke-width="0.7" stroke-linejoin="round"/>
<polygon points="424.1,583.6 425.0,566.5 430.2,560.3 429.0,567.1" fill="#ff9e00" stroke="#ff9e00" stroke-width="0.7" stroke-linejoin="round"/>
<polygon points="447.0,510.9 448.2,501.3 453.2,492.8 451.9,497.3" fill="#ec0d00" stroke="#ec0d00" stroke-width="0.7" stroke-linejoin="round"/>
<polygon points="540.1,644.5 543.0,645.7 547.5,639.6 544.6,638.4" fill="#78f877" stroke="#78f877" stroke-width="0.7" stroke-linejoin="round"/>
<polygon points="408.2,590.5 409.4,585.3 414.5,592.0 413.1,590.0" fill="#ffe000" stroke="#ffe000" stroke-width="0.7" stroke-linejoin="round"/>
<line x1="413.1" y1="590.0" x2="414.5" y2="592.0" stroke="#000" stroke-width="2.0" stroke-linecap="round"/>
<polygon points="484.9,557.5 487.9,565.8 492.7,564.7 489.8,556.8" fill="#ff8900" stroke="#ff8900" stroke-width="0.7" stroke-linejoin="round"/>
<polygon points="543.0,645.7 545.9,646.8 550.3,640.7 547.5,639.6" fill="#74f879" stroke="#74f879" stroke-width="0.7" stroke-linejoin="round"/>
<polygon points="406.5,583.3 408.2,590.5 413.1,590.0 411.4,580.4" fill="#ffd200" stroke="#ffd200" stroke-width="0.7" stroke-linejoin="round"/>
<line x1="411.4" y1="580.4" x2="413.1" y2="590.0" stroke="#000" stroke-width="2.0" stroke-linecap="round"/>
<polygon points="440.2,564.5 441.0,538.5 445.6,513.4 444.7,536.9" fill="#ff5500" stroke="#ff5500" stroke-width="0.7" stroke-linejoin="round"/>
<line x1="444.7" y1="536.9" x2="445.6" y2="513.4" stroke="#000" stroke-width="2.0" stroke-linecap="round"/>
<polygon points="409.4,585.3 411.0,590.9 415.9,590.5 414.5,592.0" fill="#ffe000" stroke="#ffe000" stroke-width="0.7" stroke-linejoin="round"/>
<line x1="414.5" y1="592.0" x2="415.9" y2="590.5" stroke="#000" stroke-width="2.0" stroke-linecap="round"/>
<polygon points="448.2,501.3 449.6,502.0 454.6,492.4 453.2,492.8" fill="#e00500" stroke="#e00500" stroke-width="0.7" stroke-linejoin="round"/>
<polygon points="425.0,566.5 426.4,566.9 431.8,569.6 430.2,560.3" fill="#ff9200" stroke="#ff9200" stroke-width="0.7" stroke-linejoin="round"/>
<polygon points="545.9,646.8 548.8,647.8 553.2,641.7 550.3,640.7" fill="#71f77c" stroke="#71f77c" stroke-width="0.7" stroke-linejoin="round"/>
<polygon points="481.9,549.1 484.9,557.5 489.8,556.8 486.8,548.8" fill="#ff7500" stroke="#ff7500" stroke-width="0.7" stroke-linejoin="round"/>
<polygon points="478.9,540.6 481.9,549.1 486.8,548.8 483.9,540.4" fill="#ff6100" stroke="#ff6100" stroke-width="0.7" stroke-linejoin="round"/>
<polygon points="404.7,569.5 406.5,583.3 411.4,580.4 409.8,573.8" fill="#ffad00" stroke="#ffad00" stroke-width="0.7" stroke-linejoin="round"/>
<line x1="409.8" y1="573.8" x2="411.4" y2="580.4" stroke="#000" stroke-width="2.0" stroke-linecap="round"/>
<polygon points="432.6,585.1 433.7,574.3 438.6,558.3 437.6,574.3" fill="#ffa400" stroke="#ffa400" stroke-width="0.7" stroke-linejoin="round"/>
<polygon points="449.6,502.0 450.9,492.9 455.9,486.4 454.6,492.4" fill="#d40000" stroke="#d40000" stroke-width="0.7" stroke-linejoin="round"/>
<polygon points="411.0,590.9 412.0,578.6 416.9,579.4 415.9,590.5" fill="#ffc800" stroke="#ffc800" stroke-width="0.7" stroke-linejoin="round"/>
<line x1="415.9" y1="590.5" x2="416.9" y2="579.4" stroke="#000" stroke-width="2.0" stroke-linecap="round"/>
<polygon points="433.7,574.3 435.6,592.3 440.2,564.5 438.6,558.3" fill="#ffa100" stroke="#ffa100" stroke-width="0.7" stroke-linejoin="round"/>
<polygon points="475.9,530.3 478.9,540.6 483.9,540.4 480.9,530.2" fill="#ff4c00" stroke="#ff4c00" stroke-width="0.7" stroke-linejoin="round"/>
<polygon points="415.0,584.6 416.9,600.2 421.6,593.8 419.6,572.5" fill="#ffd100" stroke="#ffd100" stroke-width="0.7" stroke-linejoin="round"/>
<line x1="419.6" y1="572.5" x2="421.6" y2="593.8" stroke="#000" stroke-width="2.0" stroke-linecap="round"/>
<polygon points="450.9,492.9 452.3,490.9 457.3,483.9 455.9,486.4" fill="#c40000" stroke="#c40000" stroke-width="0.7" stroke-linejoin="round"/>
<polygon points="472.9,523.8 475.9,530.3 480.9,530.2 477.9,523.7" fill="#ff3a00" stroke="#ff3a00" stroke-width="0.7" stroke-linejoin="round"/>
<polygon points="403.3,571.1 404.7,569.5 409.8,573.8 407.6,549.8" fill="#ff8d00" stroke="#ff8d00" stroke-width="0.7" stroke-linejoin="round"/>
<line x1="407.6" y1="549.8" x2="409.8" y2="573.8" stroke="#000" stroke-width="2.0" stroke-linecap="round"/>
<polygon points="412.0,578.6 413.9,593.5 418.1,571.1 416.9,579.4" fill="#ffb400" stroke="#ffb400" stroke-width="0.7" stroke-linejoin="round"/>
<line x1="416.9" y1="579.4" x2="418.1" y2="571.1" stroke="#000" stroke-width="2.0" stroke-linecap="round"/>
<polygon points="416.9,600.2 417.9,585.6 422.3,571.1 421.6,593.8" fill="#ffcf00" stroke="#ffcf00" stroke-width="0.7" stroke-linejoin="round"/>
<line x1="421.6" y1="593.8" x2="422.3" y2="571.1" stroke="#000" stroke-width="2.0" stroke-linecap="round"/>
<polygon points="441.0,538.5 442.2,530.0 447.0,510.9 445.6,513.4" fill="#ff3100" stroke="#ff3100" stroke-width="0.7" stroke-linejoin="round"/>
<line x1="445.6" y1="513.4" x2="447.0" y2="510.9" stroke="#000" stroke-width="2.0" stroke-linecap="round"/>
<polygon points="413.9,593.5 415.0,584.6 419.6,572.5 418.1,571.1" fill="#ffb300" stroke="#ffb300" stroke-width="0.7" stroke-linejoin="round"/>
<line x1="418.1" y1="571.1" x2="419.6" y2="572.5" stroke="#000" stroke-width="2.0" stroke-linecap="round"/>
<polygon points="469.9,511.2 472.9,523.8 477.9,523.7 474.9,513.2" fill="#ff2700" stroke="#ff2700" stroke-width="0.7" stroke-linejoin="round"/>
<polygon points="452.3,490.9 453.6,487.4 458.6,481.3 457.3,483.9" fill="#bb0000" stroke="#bb0000" stroke-width="0.7" stroke-linejoin="round"/>
<polygon points="435.6,592.3 436.3,563.7 441.0,538.5 440.2,564.5" fill="#ff8a00" stroke="#ff8a00" stroke-width="0.7" stroke-linejoin="round"/>
<polygon points="417.9,585.6 419.5,594.5 424.1,583.6 422.3,571.1" fill="#ffbb00" stroke="#ffbb00" stroke-width="0.7" stroke-linejoin="round"/>
<line x1="422.3" y1="571.1" x2="424.1" y2="583.6" stroke="#000" stroke-width="2.0" stroke-linecap="round"/>
<polygon points="506.6,621.9 509.5,626.1 514.2,621.5 511.3,617.5" fill="#c1fa32" stroke="#c1fa32" stroke-width="0.7" stroke-linejoin="round"/>
<line x1="511.3" y1="617.5" x2="514.2" y2="621.5" stroke="#000" stroke-width="2.0" stroke-linecap="round"/>
<polygon points="509.5,626.1 512.5,630.1 517.1,625.2 514.2,621.5" fill="#b6fa3b" stroke="#b6fa3b" stroke-width="0.7" stroke-linejoin="round"/>
<line x1="514.2" y1="621.5" x2="517.1" y2="625.2" stroke="#000" stroke-width="2.0" stroke-linecap="round"/>
<polygon points="512.5,630.1 515.4,634.1 520.0,628.9 517.1,625.2" fill="#acfa44" stroke="#acfa44" stroke-width="0.7" stroke-linejoin="round"/>
<line x1="517.1" y1="625.2" x2="520.0" y2="628.9" stroke="#000" stroke-width="2.0" stroke-linecap="round"/>
<polygon points="503.7,616.6 506.6,621.9 511.3,617.5 508.4,612.5" fill="#cdfa27" stroke="#cdfa27" stroke-width="0.7" stroke-linejoin="round"/>
<line x1="508.4" y1="612.5" x2="511.3" y2="617.5" stroke="#000" stroke-width="2.0" stroke-linecap="round"/>
<polygon points="515.4,634.1 518.3,637.5 522.9,632.0 520.0,628.9" fill="#a2fa4e" stroke="#a2fa4e" stroke-width="0.7" stroke-linejoin="round"/>
<line x1="520.0" y1="628.9" x2="522.9" y2="632.0" stroke="#000" stroke-width="2.0" stroke-linecap="round"/>
<polygon points="500.8,611.2 503.7,616.6 508.4,612.5 505.5,607.5" fill="#dbf91b" stroke="#dbf91b" stroke-width="0.7" stroke-linejoin="round"/>
<polygon points="518.3,637.5 521.2,640.7 525.7,635.0 522.9,632.0" fill="#99fa57" stroke="#99fa57" stroke-width="0.7" stroke-linejoin="round"/>
<polygon points="453.6,487.4 455.0,483.8 460.0,479.2 458.6,481.3" fill="#b20000" stroke="#b20000" stroke-width="0.7" stroke-linejoin="round"/>
<line x1="505.5" y1="607.5" x2="508.4" y2="612.5" stroke="#000" stroke-width="2.0" stroke-linecap="round"/>
<line x1="522.9" y1="632.0" x2="525.7" y2="635.0" stroke="#000" stroke-width="2.0" stroke-linecap="round"/>
<polygon points="466.8,498.2 469.9,511.2 474.9,513.2 471.9,502.0" fill="#f21000" stroke="#f21000" stroke-width="0.7" stroke-linejoin="round"/>
<polygon points="521.2,640.7 524.1,643.4 528.6,637.5 525.7,635.0" fill="#91fa5f" stroke="#91fa5f" stroke-width="0.7" stroke-linejoin="round"/>
<line x1="525.7" y1="635.0" x2="528.6" y2="637.5" stroke="#000" stroke-width="2.0" stroke-linecap="round"/>
<polygon points="497.8,605.4 500.8,611.2 505.5,607.5 502.6,602.1" fill="#e8f612" stroke="#e8f612" stroke-width="0.7" stroke-linejoin="round"/>
<line x1="502.6" y1="602.1" x2="505.5" y2="607.5" stroke="#000" stroke-width="2.0" stroke-linecap="round"/>
<polygon points="494.9,599.2 497.8,605.4 502.6,602.1 499.7,596.4" fill="#f6f207" stroke="#f6f207" stroke-width="0.7" stroke-linejoin="round"/>
<polygon points="419.5,594.5 420.6,580.8 425.0,566.5 424.1,583.6" fill="#ffb200" stroke="#ffb200" stroke-width="0.7" stroke-linejoin="round"/>
<line x1="499.7" y1="596.4" x2="502.6" y2="602.1" stroke="#000" stroke-width="2.0" stroke-linecap="round"/>
<polygon points="524.1,643.4 527.0,645.4 531.5,639.5 528.6,637.5" fill="#8bfa65" stroke="#8bfa65" stroke-width="0.7" stroke-linejoin="round"/>
<line x1="424.1" y1="583.6" x2="425.0" y2="566.5" stroke="#000" stroke-width="2.0" stroke-linecap="round"/>
<line x1="528.6" y1="637.5" x2="531.5" y2="639.5" stroke="#000" stroke-width="2.0" stroke-linecap="round"/>
<polygon points="442.2,530.0 443.3,514.4 448.2,501.3 447.0,510.9" fill="#ff1d00" stroke="#ff1d00" stroke-width="0.7" stroke-linejoin="round"/>
<line x1="447.0" y1="510.9" x2="448.2" y2="501.3" stroke="#000" stroke-width="2.0" stroke-linecap="round"/>
<polygon points="527.0,645.4 529.9,647.5 534.4,641.4 531.5,639.5" fill="#86fa6a" stroke="#86fa6a" stroke-width="0.7" stroke-linejoin="round"/>
<line x1="531.5" y1="639.5" x2="534.4" y2="641.4" stroke="#000" stroke-width="2.0" stroke-linecap="round"/>
<polygon points="491.9,592.2 494.9,599.2 499.7,596.4 496.8,589.6" fill="#ffe500" stroke="#ffe500" stroke-width="0.7" stroke-linejoin="round"/>
<line x1="496.8" y1="589.6" x2="499.7" y2="596.4" stroke="#000" stroke-width="2.0" stroke-linecap="round"/>
<polygon points="422.2,589.8 423.6,586.5 428.5,592.5 426.4,566.9" fill="#ffb800" stroke="#ffb800" stroke-width="0.7" stroke-linejoin="round"/>
<polygon points="426.8,602.7 427.8,586.1 432.6,585.1 431.3,590.3" fill="#ffd500" stroke="#ffd500" stroke-width="0.7" stroke-linejoin="round"/>
<line x1="426.4" y1="566.9" x2="428.5" y2="592.5" stroke="#000" stroke-width="2.0" stroke-linecap="round"/>
<line x1="431.3" y1="590.3" x2="432.6" y2="585.1" stroke="#000" stroke-width="2.0" stroke-linecap="round"/>
<polygon points="455.0,483.8 457.7,477.4 462.9,478.0 460.0,479.2" fill="#a10000" stroke="#a10000" stroke-width="0.7" stroke-linejoin="round"/>
<polygon points="424.8,579.9 426.8,602.7 431.3,590.3 429.5,575.3" fill="#ffc400" stroke="#ffc400" stroke-width="0.7" stroke-linejoin="round"/>
<line x1="429.5" y1="575.3" x2="431.3" y2="590.3" stroke="#000" stroke-width="2.0" stroke-linecap="round"/>
<polygon points="463.7,486.1 466.8,498.2 471.9,502.0 468.8,490.4" fill="#cd0000" stroke="#cd0000" stroke-width="0.7" stroke-linejoin="round"/>
<polygon points="529.9,647.5 532.8,649.4 537.3,643.3 534.4,641.4" fill="#81fa6f" stroke="#81fa6f" stroke-width="0.7" stroke-linejoin="round"/>
<line x1="534.4" y1="641.4" x2="537.3" y2="643.3" stroke="#000" stroke-width="2.0" stroke-linecap="round"/>
<polygon points="423.6,586.5 424.8,579.9 429.5,575.3 428.5,592.5" fill="#ffb600" stroke="#ffb600" stroke-width="0.7" stroke-linejoin="round"/>
<line x1="428.5" y1="592.5" x2="429.5" y2="575.3" stroke="#000" stroke-width="2.0" stroke-linecap="round"/>
<polygon points="489.0,583.9 491.9,592.2 496.8,589.6 493.8,581.7" fill="#ffc400" stroke="#ffc400" stroke-width="0.7" stroke-linejoin="round"/>
<line x1="493.8" y1="581.7" x2="496.8" y2="589.6" stroke="#000" stroke-width="2.0" stroke-linecap="round"/>
<polygon points="532.8,649.4 535.7,650.7 540.1,644.5 537.3,643.3" fill="#7cf973" stroke="#7cf973" stroke-width="0.7" stroke-linejoin="round"/>
<line x1="537.3" y1="643.3" x2="540.1" y2="644.5" stroke="#000" stroke-width="2.0" stroke-linecap="round"/>
<polygon points="429.4,591.8 431.1,603.0 435.6,592.3 433.7,574.3" fill="#ffcf00" stroke="#ffcf00" stroke-width="0.7" stroke-linejoin="round"/>
<line x1="433.7" y1="574.3" x2="435.6" y2="592.3" stroke="#000" stroke-width="2.0" stroke-linecap="round"/>
<polygon points="420.6,580.8 422.2,589.8 426.4,566.9 425.0,566.5" fill="#ffa000" stroke="#ffa000" stroke-width="0.7" stroke-linejoin="round"/>
<line x1="425.0" y1="566.5" x2="426.4" y2="566.9" stroke="#000" stroke-width="2.0" stroke-linecap="round"/>
<polygon points="460.6,477.5 463.7,486.1 468.8,490.4 465.8,481.7" fill="#b00000" stroke="#b00000" stroke-width="0.7" stroke-linejoin="round"/>
<polygon points="457.7,477.4 460.6,477.5 465.8,481.7 462.9,478.0" fill="#9a0000" stroke="#9a0000" stroke-width="0.7" stroke-linejoin="round"/>
<polygon points="486.0,575.5 489.0,583.9 493.8,581.7 490.8,573.8" fill="#ffa900" stroke="#ffa900" stroke-width="0.7" stroke-linejoin="round"/>
<line x1="490.8" y1="573.8" x2="493.8" y2="581.7" stroke="#000" stroke-width="2.0" stroke-linecap="round"/>
<polygon points="535.7,650.7 538.6,651.8 543.0,645.7 540.1,644.5" fill="#79f976" stroke="#79f976" stroke-width="0.7" stroke-linejoin="round"/>
<line x1="540.1" y1="644.5" x2="543.0" y2="645.7" stroke="#000" stroke-width="2.0" stroke-linecap="round"/>
<polygon points="443.3,514.4 444.7,514.3 449.6,502.0 448.2,501.3" fill="#f21000" stroke="#f21000" stroke-width="0.7" stroke-linejoin="round"/>
<line x1="448.2" y1="501.3" x2="449.6" y2="502.0" stroke="#000" stroke-width="2.0" stroke-linecap="round"/>
<polygon points="427.8,586.1 429.4,591.8 433.7,574.3 432.6,585.1" fill="#ffb600" stroke="#ffb600" stroke-width="0.7" stroke-linejoin="round"/>
<line x1="432.6" y1="585.1" x2="433.7" y2="574.3" stroke="#000" stroke-width="2.0" stroke-linecap="round"/>
<polygon points="401.6,586.3 403.2,591.0 408.2,590.5 406.5,583.3" fill="#ffc000" stroke="#ffc000" stroke-width="0.7" stroke-linejoin="round"/>
<polygon points="538.6,651.8 541.5,653.0 545.9,646.8 543.0,645.7" fill="#76f878" stroke="#76f878" stroke-width="0.7" stroke-linejoin="round"/>
<line x1="543.0" y1="645.7" x2="545.9" y2="646.8" stroke="#000" stroke-width="2.0" stroke-linecap="round"/>
<polygon points="483.0,567.0 486.0,575.5 490.8,573.8 487.9,565.8" fill="#ff9100" stroke="#ff9100" stroke-width="0.7" stroke-linejoin="round"/>
<line x1="487.9" y1="565.8" x2="490.8" y2="573.8" stroke="#000" stroke-width="2.0" stroke-linecap="round"/>
<polygon points="409.6,615.9 410.4,596.8 415.0,584.6 413.9,593.5" fill="#ffe800" stroke="#ffe800" stroke-width="0.7" stroke-linejoin="round"/>
<polygon points="431.1,603.0 432.1,587.9 436.3,563.7 435.6,592.3" fill="#ffbd00" stroke="#ffbd00" stroke-width="0.7" stroke-linejoin="round"/>
<line x1="435.6" y1="592.3" x2="436.3" y2="563.7" stroke="#000" stroke-width="2.0" stroke-linecap="round"/>
<polygon points="436.3,563.7 437.4,549.3 442.2,530.0 441.0,538.5" fill="#ff5700" stroke="#ff5700" stroke-width="0.7" stroke-linejoin="round"/>
<polygon points="403.2,591.0 404.2,578.5 409.4,585.3 408.2,590.5" fill="#ffb800" stroke="#ffb800" stroke-width="0.7" stroke-linejoin="round"/>
<polygon points="541.5,653.0 544.4,654.0 548.8,647.8 545.9,646.8" fill="#73f77a" stroke="#73f77a" stroke-width="0.7" stroke-linejoin="round"/>
<polygon points="444.7,514.3 445.9,503.6 450.9,492.9 449.6,502.0" fill="#e10600" stroke="#e10600" stroke-width="0.7" stroke-linejoin="round"/>
<line x1="449.6" y1="502.0" x2="450.9" y2="492.9" stroke="#000" stroke-width="2.0" stroke-linecap="round"/>
<polygon points="480.0,558.3 483.0,567.0 487.9,565.8 484.9,557.5" fill="#ff7c00" stroke="#ff7c00" stroke-width="0.7" stroke-linejoin="round"/>
<line x1="484.9" y1="557.5" x2="487.9" y2="565.8" stroke="#000" stroke-width="2.0" stroke-linecap="round"/>
<polygon points="410.4,596.8 412.2,606.6 416.9,600.2 415.0,584.6" fill="#ffe300" stroke="#ffe300" stroke-width="0.7" stroke-linejoin="round"/>
<polygon points="407.0,577.8 409.6,615.9 413.9,593.5 412.0,578.6" fill="#ffcc00" stroke="#ffcc00" stroke-width="0.7" stroke-linejoin="round"/>
<polygon points="404.2,578.5 406.0,591.3 411.0,590.9 409.4,585.3" fill="#ffb800" stroke="#ffb800" stroke-width="0.7" stroke-linejoin="round"/>
<polygon points="412.2,606.6 413.4,600.2 417.9,585.6 416.9,600.2" fill="#ffe700" stroke="#ffe700" stroke-width="0.7" stroke-linejoin="round"/>
<polygon points="399.0,592.5 399.5,565.2 404.7,569.5 403.3,571.1" fill="#ff9600" stroke="#ff9600" stroke-width="0.7" stroke-linejoin="round"/>
<polygon points="477.0,549.5 480.0,558.3 484.9,557.5 481.9,549.1" fill="#ff6700" stroke="#ff6700" stroke-width="0.7" stroke-linejoin="round"/>
<line x1="481.9" y1="549.1" x2="484.9" y2="557.5" stroke="#000" stroke-width="2.0" stroke-linecap="round"/>
<polygon points="399.5,565.2 401.6,586.3 406.5,583.3 404.7,569.5" fill="#ff9a00" stroke="#ff9a00" stroke-width="0.7" stroke-linejoin="round"/>
<polygon points="406.0,591.3 407.0,577.8 412.0,578.6 411.0,590.9" fill="#ffb100" stroke="#ffb100" stroke-width="0.7" stroke-linejoin="round"/>
<polygon points="413.4,600.2 415.0,605.6 419.5,594.5 417.9,585.6" fill="#ffde00" stroke="#ffde00" stroke-width="0.7" stroke-linejoin="round"/>
<polygon points="473.9,540.8 477.0,549.5 481.9,549.1 478.9,540.6" fill="#ff5400" stroke="#ff5400" stroke-width="0.7" stroke-linejoin="round"/>
<line x1="478.9" y1="540.6" x2="481.9" y2="549.1" stroke="#000" stroke-width="2.0" stroke-linecap="round"/>
<polygon points="445.9,503.6 447.2,499.9 452.3,490.9 450.9,492.9" fill="#cd0000" stroke="#cd0000" stroke-width="0.7" stroke-linejoin="round"/>
<line x1="450.9" y1="492.9" x2="452.3" y2="490.9" stroke="#000" stroke-width="2.0" stroke-linecap="round"/>
<polygon points="415.0,605.6 416.1,595.1 420.6,580.8 419.5,594.5" fill="#ffd100" stroke="#ffd100" stroke-width="0.7" stroke-linejoin="round"/>
<polygon points="470.9,530.4 473.9,540.8 478.9,540.6 475.9,530.3" fill="#ff3f00" stroke="#ff3f00" stroke-width="0.7" stroke-linejoin="round"/>
<line x1="475.9" y1="530.3" x2="478.9" y2="540.6" stroke="#000" stroke-width="2.0" stroke-linecap="round"/>
<polygon points="416.1,595.1 418.0,612.8 422.2,589.8 420.6,580.8" fill="#ffd200" stroke="#ffd200" stroke-width="0.7" stroke-linejoin="round"/>
<polygon points="447.2,499.9 448.6,495.6 453.6,487.4 452.3,490.9" fill="#c20000" stroke="#c20000" stroke-width="0.7" stroke-linejoin="round"/>
<line x1="452.3" y1="490.9" x2="453.6" y2="487.4" stroke="#000" stroke-width="2.0" stroke-linecap="round"/>
<polygon points="437.4,549.3 438.3,527.6 443.3,514.4 442.2,530.0" fill="#ff3300" stroke="#ff3300" stroke-width="0.7" stroke-linejoin="round"/>
<polygon points="467.9,523.4 470.9,530.4 475.9,530.3 472.9,523.8" fill="#ff2d00" stroke="#ff2d00" stroke-width="0.7" stroke-linejoin="round"/>
<line x1="472.9" y1="523.8" x2="475.9" y2="530.3" stroke="#000" stroke-width="2.0" stroke-linecap="round"/>
<polygon points="425.0,609.5 426.5,613.9 431.1,603.0 429.4,591.8" fill="#faf104" stroke="#faf104" stroke-width="0.7" stroke-linejoin="round"/>
<polygon points="418.0,612.8 418.5,580.5 423.6,586.5 422.2,589.8" fill="#ffc600" stroke="#ffc600" stroke-width="0.7" stroke-linejoin="round"/>
<polygon points="406.7,609.0 408.1,609.0 410.4,596.8 409.6,615.9" fill="#f4f308" stroke="#f4f308" stroke-width="0.7" stroke-linejoin="round"/>
<line x1="409.6" y1="615.9" x2="410.4" y2="596.8" stroke="#000" stroke-width="2.0" stroke-linecap="round"/>
<polygon points="420.0,584.5 422.3,615.2 426.8,602.7 424.8,579.9" fill="#ffd200" stroke="#ffd200" stroke-width="0.7" stroke-linejoin="round"/>
<polygon points="422.3,615.2 423.0,587.2 427.8,586.1 426.8,602.7" fill="#ffdb00" stroke="#ffdb00" stroke-width="0.7" stroke-linejoin="round"/>
<polygon points="448.6,495.6 449.9,491.3 455.0,483.8 453.6,487.4" fill="#b50000" stroke="#b50000" stroke-width="0.7" stroke-linejoin="round"/>
<polygon points="432.1,587.9 433.0,568.1 437.4,549.3 436.3,563.7" fill="#ff8000" stroke="#ff8000" stroke-width="0.7" stroke-linejoin="round"/>
<line x1="453.6" y1="487.4" x2="455.0" y2="483.8" stroke="#000" stroke-width="2.0" stroke-linecap="round"/>
<line x1="436.3" y1="563.7" x2="437.4" y2="549.3" stroke="#000" stroke-width="2.0" stroke-linecap="round"/>
<polygon points="507.8,635.1 510.7,639.4 515.4,634.1 512.5,630.1" fill="#b0fa41" stroke="#b0fa41" stroke-width="0.7" stroke-linejoin="round"/>
<polygon points="504.8,630.9 507.8,635.1 512.5,630.1 509.5,626.1" fill="#bbfa37" stroke="#bbfa37" stroke-width="0.7" stroke-linejoin="round"/>
<polygon points="426.5,613.9 427.9,612.2 432.1,587.9 431.1,603.0" fill="#fcf102" stroke="#fcf102" stroke-width="0.7" stroke-linejoin="round"/>
<polygon points="501.9,626.3 504.8,630.9 509.5,626.1 506.6,621.9" fill="#c6fa2d" stroke="#c6fa2d" stroke-width="0.7" stroke-linejoin="round"/>
<polygon points="510.7,639.4 513.6,643.0 518.3,637.5 515.4,634.1" fill="#a6fa4a" stroke="#a6fa4a" stroke-width="0.7" stroke-linejoin="round"/>
<polygon points="464.7,510.8 467.9,523.4 472.9,523.8 469.9,511.2" fill="#ff1a00" stroke="#ff1a00" stroke-width="0.7" stroke-linejoin="round"/>
<line x1="469.9" y1="511.2" x2="472.9" y2="523.8" stroke="#000" stroke-width="2.0" stroke-linecap="round"/>
<polygon points="513.6,643.0 516.5,646.4 521.2,640.7 518.3,637.5" fill="#9cfa54" stroke="#9cfa54" stroke-width="0.7" stroke-linejoin="round"/>
<polygon points="498.9,620.6 501.9,626.3 506.6,621.9 503.7,616.6" fill="#d3fa21" stroke="#d3fa21" stroke-width="0.7" stroke-linejoin="round"/>
<polygon points="516.5,646.4 519.4,649.3 524.1,643.4 521.2,640.7" fill="#93fa5d" stroke="#93fa5d" stroke-width="0.7" stroke-linejoin="round"/>
<polygon points="399.2,597.2 400.5,594.3 403.2,591.0 401.6,586.3" fill="#ffc100" stroke="#ffc100" stroke-width="0.7" stroke-linejoin="round"/>
<line x1="401.6" y1="586.3" x2="403.2" y2="591.0" stroke="#000" stroke-width="2.0" stroke-linecap="round"/>
<polygon points="496.0,615.0 498.9,620.6 503.7,616.6 500.8,611.2" fill="#e1f817" stroke="#e1f817" stroke-width="0.7" stroke-linejoin="round"/>
<polygon points="519.4,649.3 522.4,651.5 527.0,645.4 524.1,643.4" fill="#8dfa63" stroke="#8dfa63" stroke-width="0.7" stroke-linejoin="round"/>
<polygon points="493.0,608.8 496.0,615.0 500.8,611.2 497.8,605.4" fill="#eff40c" stroke="#eff40c" stroke-width="0.7" stroke-linejoin="round"/>
<polygon points="404.7,593.1 406.7,609.0 409.6,615.9 407.0,577.8" fill="#ffdb00" stroke="#ffdb00" stroke-width="0.7" stroke-linejoin="round"/>
<line x1="407.0" y1="577.8" x2="409.6" y2="615.9" stroke="#000" stroke-width="2.0" stroke-linecap="round"/>
<polygon points="522.4,651.5 525.3,653.6 529.9,647.5 527.0,645.4" fill="#87fa69" stroke="#87fa69" stroke-width="0.7" stroke-linejoin="round"/>
<polygon points="408.1,609.0 409.2,598.7 412.2,606.6 410.4,596.8" fill="#ffea00" stroke="#ffea00" stroke-width="0.7" stroke-linejoin="round"/>
<polygon points="490.0,602.2 493.0,608.8 497.8,605.4 494.9,599.2" fill="#fef001" stroke="#fef001" stroke-width="0.7" stroke-linejoin="round"/>
<polygon points="423.0,587.2 425.0,609.5 429.4,591.8 427.8,586.1" fill="#ffc700" stroke="#ffc700" stroke-width="0.7" stroke-linejoin="round"/>
<line x1="410.4" y1="596.8" x2="412.2" y2="606.6" stroke="#000" stroke-width="2.0" stroke-linecap="round"/>
<polygon points="438.3,527.6 439.7,526.7 444.7,514.3 443.3,514.4" fill="#ff1e00" stroke="#ff1e00" stroke-width="0.7" stroke-linejoin="round"/>
<polygon points="396.2,592.4 397.1,578.2 399.5,565.2 399.0,592.5" fill="#ffa000" stroke="#ffa000" stroke-width="0.7" stroke-linejoin="round"/>
<line x1="399.0" y1="592.5" x2="399.5" y2="565.2" stroke="#000" stroke-width="2.0" stroke-linecap="round"/>
<polygon points="525.3,653.6 528.2,655.7 532.8,649.4 529.9,647.5" fill="#82fa6e" stroke="#82fa6e" stroke-width="0.7" stroke-linejoin="round"/>
<polygon points="461.6,498.6 464.7,510.8 469.9,511.2 466.8,498.2" fill="#db0200" stroke="#db0200" stroke-width="0.7" stroke-linejoin="round"/>
<line x1="466.8" y1="498.2" x2="469.9" y2="511.2" stroke="#000" stroke-width="2.0" stroke-linecap="round"/>
<polygon points="449.9,491.3 452.6,483.0 457.7,477.4 455.0,483.8" fill="#9b0000" stroke="#9b0000" stroke-width="0.7" stroke-linejoin="round"/>
<line x1="455.0" y1="483.8" x2="457.7" y2="477.4" stroke="#000" stroke-width="2.0" stroke-linecap="round"/>
<polygon points="487.1,594.8 490.0,602.2 494.9,599.2 491.9,592.2" fill="#ffd500" stroke="#ffd500" stroke-width="0.7" stroke-linejoin="round"/>
<polygon points="409.2,598.7 410.7,602.1 413.4,600.2 412.2,606.6" fill="#ffe500" stroke="#ffe500" stroke-width="0.7" stroke-linejoin="round"/>
<line x1="412.2" y1="606.6" x2="413.4" y2="600.2" stroke="#000" stroke-width="2.0" stroke-linecap="round"/>
<polygon points="400.5,594.3 401.6,584.2 404.2,578.5 403.2,591.0" fill="#ffad00" stroke="#ffad00" stroke-width="0.7" stroke-linejoin="round"/>
<polygon points="418.5,580.5 420.0,584.5 424.8,579.9 423.6,586.5" fill="#ffa300" stroke="#ffa300" stroke-width="0.7" stroke-linejoin="round"/>
<line x1="403.2" y1="591.0" x2="404.2" y2="578.5" stroke="#000" stroke-width="2.0" stroke-linecap="round"/>
<polygon points="528.2,655.7 531.1,656.9 535.7,650.7 532.8,649.4" fill="#7efa72" stroke="#7efa72" stroke-width="0.7" stroke-linejoin="round"/>
<polygon points="397.1,578.2 399.2,597.2 401.6,586.3 399.5,565.2" fill="#ff9f00" stroke="#ff9f00" stroke-width="0.7" stroke-linejoin="round"/>
<line x1="399.5" y1="565.2" x2="401.6" y2="586.3" stroke="#000" stroke-width="2.0" stroke-linecap="round"/>
<polygon points="410.7,602.1 412.2,604.0 415.0,605.6 413.4,600.2" fill="#ffe800" stroke="#ffe800" stroke-width="0.7" stroke-linejoin="round"/>
<line x1="413.4" y1="600.2" x2="415.0" y2="605.6" stroke="#000" stroke-width="2.0" stroke-linecap="round"/>
<polygon points="484.0,586.1 487.1,594.8 491.9,592.2 489.0,583.9" fill="#ffb500" stroke="#ffb500" stroke-width="0.7" stroke-linejoin="round"/>
<polygon points="531.1,656.9 534.0,658.1 538.6,651.8 535.7,650.7" fill="#7af975" stroke="#7af975" stroke-width="0.7" stroke-linejoin="round"/>
<polygon points="401.6,584.2 403.2,588.6 406.0,591.3 404.2,578.5" fill="#ffa800" stroke="#ffa800" stroke-width="0.7" stroke-linejoin="round"/>
<line x1="404.2" y1="578.5" x2="406.0" y2="591.3" stroke="#000" stroke-width="2.0" stroke-linecap="round"/>
<polygon points="458.5,487.1 461.6,498.6 466.8,498.2 463.7,486.1" fill="#b80000" stroke="#b80000" stroke-width="0.7" stroke-linejoin="round"/>
<line x1="463.7" y1="486.1" x2="466.8" y2="498.2" stroke="#000" stroke-width="2.0" stroke-linecap="round"/>
<polygon points="403.2,588.6 404.7,593.1 407.0,577.8 406.0,591.3" fill="#ffad00" stroke="#ffad00" stroke-width="0.7" stroke-linejoin="round"/>
<line x1="406.0" y1="591.3" x2="407.0" y2="577.8" stroke="#000" stroke-width="2.0" stroke-linecap="round"/>
<polygon points="439.7,526.7 440.8,514.4 445.9,503.6 444.7,514.3" fill="#f41100" stroke="#f41100" stroke-width="0.7" stroke-linejoin="round"/>
<polygon points="534.0,658.1 536.9,659.3 541.5,653.0 538.6,651.8" fill="#77f877" stroke="#77f877" stroke-width="0.7" stroke-linejoin="round"/>
<polygon points="452.6,483.0 455.5,480.4 460.6,477.5 457.7,477.4" fill="#850000" stroke="#850000" stroke-width="0.7" stroke-linejoin="round"/>
<line x1="457.7" y1="477.4" x2="460.6" y2="477.5" stroke="#000" stroke-width="2.0" stroke-linecap="round"/>
<polygon points="481.0,577.2 484.0,586.1 489.0,583.9 486.0,575.5" fill="#ff9c00" stroke="#ff9c00" stroke-width="0.7" stroke-linejoin="round"/>
<polygon points="412.2,604.0 413.2,592.8 416.1,595.1 415.0,605.6" fill="#ffd600" stroke="#ffd600" stroke-width="0.7" stroke-linejoin="round"/>
<polygon points="396.8,608.1 397.8,597.7 400.5,594.3 399.2,597.2" fill="#ffd400" stroke="#ffd400" stroke-width="0.7" stroke-linejoin="round"/>
<line x1="415.0" y1="605.6" x2="416.1" y2="595.1" stroke="#000" stroke-width="2.0" stroke-linecap="round"/>
<polygon points="413.2,592.8 415.1,605.8 418.0,612.8 416.1,595.1" fill="#ffdf00" stroke="#ffdf00" stroke-width="0.7" stroke-linejoin="round"/>
<line x1="416.1" y1="595.1" x2="418.0" y2="612.8" stroke="#000" stroke-width="2.0" stroke-linecap="round"/>
<polygon points="455.5,480.4 458.5,487.1 463.7,486.1 460.6,477.5" fill="#910000" stroke="#910000" stroke-width="0.7" stroke-linejoin="round"/>
<line x1="460.6" y1="477.5" x2="463.7" y2="486.1" stroke="#000" stroke-width="2.0" stroke-linecap="round"/>
<polygon points="403.6,602.1 405.7,621.3 408.1,609.0 406.7,609.0" fill="#f5f207" stroke="#f5f207" stroke-width="0.7" stroke-linejoin="round"/>
<polygon points="427.9,612.2 428.7,586.9 433.0,568.1 432.1,587.9" fill="#ffb000" stroke="#ffb000" stroke-width="0.7" stroke-linejoin="round"/>
<polygon points="536.9,659.3 539.9,660.2 544.4,654.0 541.5,653.0" fill="#74f879" stroke="#74f879" stroke-width="0.7" stroke-linejoin="round"/>
<polygon points="422.4,614.5 423.9,616.3 426.5,613.9 425.0,609.5" fill="#eef40d" stroke="#eef40d" stroke-width="0.7" stroke-linejoin="round"/>
<line x1="425.0" y1="609.5" x2="426.5" y2="613.9" stroke="#000" stroke-width="2.0" stroke-linecap="round"/>
<polygon points="394.8,591.2 396.8,608.1 399.2,597.2 397.1,578.2" fill="#ffbb00" stroke="#ffbb00" stroke-width="0.7" stroke-linejoin="round"/>
<polygon points="478.0,568.2 481.0,577.2 486.0,575.5 483.0,567.0" fill="#ff8500" stroke="#ff8500" stroke-width="0.7" stroke-linejoin="round"/>
<polygon points="433.0,568.1 433.9,546.7 438.3,527.6 437.4,549.3" fill="#ff4f00" stroke="#ff4f00" stroke-width="0.7" stroke-linejoin="round"/>
<line x1="437.4" y1="549.3" x2="438.3" y2="527.6" stroke="#000" stroke-width="2.0" stroke-linecap="round"/>
<polygon points="423.9,616.3 425.2,612.7 427.9,612.2 426.5,613.9" fill="#eef40d" stroke="#eef40d" stroke-width="0.7" stroke-linejoin="round"/>
<line x1="426.5" y1="613.9" x2="427.9" y2="612.2" stroke="#000" stroke-width="2.0" stroke-linecap="round"/>
<polygon points="393.4,592.3 394.8,591.2 397.1,578.2 396.2,592.4" fill="#ffab00" stroke="#ffab00" stroke-width="0.7" stroke-linejoin="round"/>
<polygon points="402.4,608.4 403.6,602.1 406.7,609.0 404.7,593.1" fill="#ffe000" stroke="#ffe000" stroke-width="0.7" stroke-linejoin="round"/>
<polygon points="417.9,606.4 419.3,605.0 422.3,615.2 420.0,584.5" fill="#ffe000" stroke="#ffe000" stroke-width="0.7" stroke-linejoin="round"/>
<line x1="420.0" y1="584.5" x2="422.3" y2="615.2" stroke="#000" stroke-width="2.0" stroke-linecap="round"/>
<polygon points="440.8,514.4 442.1,508.9 447.2,499.9 445.9,503.6" fill="#da0100" stroke="#da0100" stroke-width="0.7" stroke-linejoin="round"/>
<polygon points="415.1,605.8 416.0,588.9 418.5,580.5 418.0,612.8" fill="#ffc800" stroke="#ffc800" stroke-width="0.7" stroke-linejoin="round"/>
<line x1="418.0" y1="612.8" x2="418.5" y2="580.5" stroke="#000" stroke-width="2.0" stroke-linecap="round"/>
<polygon points="474.9,559.0 478.0,568.2 483.0,567.0 480.0,558.3" fill="#ff6f00" stroke="#ff6f00" stroke-width="0.7" stroke-linejoin="round"/>
<polygon points="419.3,605.0 420.8,606.9 423.0,587.2 422.3,615.2" fill="#ffe200" stroke="#ffe200" stroke-width="0.7" stroke-linejoin="round"/>
<line x1="422.3" y1="615.2" x2="423.0" y2="587.2" stroke="#000" stroke-width="2.0" stroke-linecap="round"/>
<polygon points="405.7,621.3 406.1,590.7 409.2,598.7 408.1,609.0" fill="#ffe600" stroke="#ffe600" stroke-width="0.7" stroke-linejoin="round"/>
<polygon points="420.8,606.9 422.4,614.5 425.0,609.5 423.0,587.2" fill="#ffe500" stroke="#ffe500" stroke-width="0.7" stroke-linejoin="round"/>
<line x1="423.0" y1="587.2" x2="425.0" y2="609.5" stroke="#000" stroke-width="2.0" stroke-linecap="round"/>
<polygon points="397.8,597.7 399.0,590.0 401.6,584.2 400.5,594.3" fill="#ffb200" stroke="#ffb200" stroke-width="0.7" stroke-linejoin="round"/>
<polygon points="471.9,549.9 474.9,559.0 480.0,558.3 477.0,549.5" fill="#ff5a00" stroke="#ff5a00" stroke-width="0.7" stroke-linejoin="round"/>
<polygon points="400.3,585.8 402.4,608.4 404.7,593.1 403.2,588.6" fill="#ffb700" stroke="#ffb700" stroke-width="0.7" stroke-linejoin="round"/>
<polygon points="442.1,508.9 443.5,503.8 448.6,495.6 447.2,499.9" fill="#cb0000" stroke="#cb0000" stroke-width="0.7" stroke-linejoin="round"/>
<polygon points="393.9,598.1 395.9,614.7 397.8,597.7 396.8,608.1" fill="#ffe000" stroke="#ffe000" stroke-width="0.7" stroke-linejoin="round"/>
<line x1="396.8" y1="608.1" x2="397.8" y2="597.7" stroke="#000" stroke-width="2.0" stroke-linecap="round"/>
<polygon points="468.8,541.1 471.9,549.9 477.0,549.5 473.9,540.8" fill="#ff4700" stroke="#ff4700" stroke-width="0.7" stroke-linejoin="round"/>
<polygon points="408.0,604.1 409.3,602.4 412.2,604.0 410.7,602.1" fill="#ffda00" stroke="#ffda00" stroke-width="0.7" stroke-linejoin="round"/>
<polygon points="401.4,610.8 403.5,630.0 405.7,621.3 403.6,602.1" fill="#eef40d" stroke="#eef40d" stroke-width="0.7" stroke-linejoin="round"/>
<line x1="403.6" y1="602.1" x2="405.7" y2="621.3" stroke="#000" stroke-width="2.0" stroke-linecap="round"/>
<polygon points="416.0,588.9 417.9,606.4 420.0,584.5 418.5,580.5" fill="#ffac00" stroke="#ffac00" stroke-width="0.7" stroke-linejoin="round"/>
<line x1="418.5" y1="580.5" x2="420.0" y2="584.5" stroke="#000" stroke-width="2.0" stroke-linecap="round"/>
<polygon points="399.0,590.0 400.3,585.8 403.2,588.6 401.6,584.2" fill="#ffa300" stroke="#ffa300" stroke-width="0.7" stroke-linejoin="round"/>
<polygon points="406.1,590.7 408.0,604.1 410.7,602.1 409.2,598.7" fill="#ffc800" stroke="#ffc800" stroke-width="0.7" stroke-linejoin="round"/>
<polygon points="433.9,546.7 435.2,538.8 439.7,526.7 438.3,527.6" fill="#ff3100" stroke="#ff3100" stroke-width="0.7" stroke-linejoin="round"/>
<line x1="438.3" y1="527.6" x2="439.7" y2="526.7" stroke="#000" stroke-width="2.0" stroke-linecap="round"/>
<polygon points="418.6,626.6 419.8,619.6 422.4,614.5 420.8,606.9" fill="#ecf50e" stroke="#ecf50e" stroke-width="0.7" stroke-linejoin="round"/>
<polygon points="395.9,614.7 397.1,609.6 399.0,590.0 397.8,597.7" fill="#ffd600" stroke="#ffd600" stroke-width="0.7" stroke-linejoin="round"/>
<line x1="397.8" y1="597.7" x2="399.0" y2="590.0" stroke="#000" stroke-width="2.0" stroke-linecap="round"/>
<polygon points="443.5,503.8 444.8,498.8 449.9,491.3 448.6,495.6" fill="#bc0000" stroke="#bc0000" stroke-width="0.7" stroke-linejoin="round"/>
<polygon points="394.0,631.7 395.3,629.1 397.1,609.6 395.9,614.7" fill="#e4f714" stroke="#e4f714" stroke-width="0.7" stroke-linejoin="round"/>
<line x1="394.0" y1="631.7" x2="395.3" y2="629.1" stroke="#000" stroke-width="2.0" stroke-linecap="round"/>
<polygon points="425.2,612.7 426.1,591.4 428.7,586.9 427.9,612.2" fill="#ffd000" stroke="#ffd000" stroke-width="0.7" stroke-linejoin="round"/>
<polygon points="465.8,530.5 468.8,541.1 473.9,540.8 470.9,530.4" fill="#ff3200" stroke="#ff3200" stroke-width="0.7" stroke-linejoin="round"/>
<line x1="427.9" y1="612.2" x2="428.7" y2="586.9" stroke="#000" stroke-width="2.0" stroke-linecap="round"/>
<polygon points="419.8,619.6 421.2,618.7 423.9,616.3 422.4,614.5" fill="#ecf50e" stroke="#ecf50e" stroke-width="0.7" stroke-linejoin="round"/>
<polygon points="391.4,606.6 392.1,586.5 394.8,591.2 393.4,592.3" fill="#ffb300" stroke="#ffb300" stroke-width="0.7" stroke-linejoin="round"/>
<line x1="393.4" y1="592.3" x2="394.8" y2="591.2" stroke="#000" stroke-width="2.0" stroke-linecap="round"/>
<polygon points="503.5,639.7 506.4,644.3 510.7,639.4 507.8,635.1" fill="#b3fa3e" stroke="#b3fa3e" stroke-width="0.7" stroke-linejoin="round"/>
<polygon points="506.4,644.3 509.4,648.0 513.6,643.0 510.7,639.4" fill="#a9fa47" stroke="#a9fa47" stroke-width="0.7" stroke-linejoin="round"/>
<line x1="507.8" y1="635.1" x2="510.7" y2="639.4" stroke="#000" stroke-width="2.0" stroke-linecap="round"/>
<line x1="510.7" y1="639.4" x2="513.6" y2="643.0" stroke="#000" stroke-width="2.0" stroke-linecap="round"/>
<polygon points="500.5,635.2 503.5,639.7 507.8,635.1 504.8,630.9" fill="#bffa33" stroke="#bffa33" stroke-width="0.7" stroke-linejoin="round"/>
<line x1="504.8" y1="630.9" x2="507.8" y2="635.1" stroke="#000" stroke-width="2.0" stroke-linecap="round"/>
<polygon points="400.1,611.8 401.4,610.8 403.6,602.1 402.4,608.4" fill="#ffea00" stroke="#ffea00" stroke-width="0.7" stroke-linejoin="round"/>
<polygon points="392.1,586.5 393.9,598.1 396.8,608.1 394.8,591.2" fill="#ffb800" stroke="#ffb800" stroke-width="0.7" stroke-linejoin="round"/>
<polygon points="509.4,648.0 512.3,651.6 516.5,646.4 513.6,643.0" fill="#9efa52" stroke="#9efa52" stroke-width="0.7" stroke-linejoin="round"/>
<line x1="402.4" y1="608.4" x2="403.6" y2="602.1" stroke="#000" stroke-width="2.0" stroke-linecap="round"/>
<line x1="394.8" y1="591.2" x2="396.8" y2="608.1" stroke="#000" stroke-width="2.0" stroke-linecap="round"/>
<line x1="513.6" y1="643.0" x2="516.5" y2="646.4" stroke="#000" stroke-width="2.0" stroke-linecap="round"/>
<polygon points="497.6,630.3 500.5,635.2 504.8,630.9 501.9,626.3" fill="#cbfa29" stroke="#cbfa29" stroke-width="0.7" stroke-linejoin="round"/>
<line x1="501.9" y1="626.3" x2="504.8" y2="630.9" stroke="#000" stroke-width="2.0" stroke-linecap="round"/>
<polygon points="512.3,651.6 515.2,654.7 519.4,649.3 516.5,646.4" fill="#95fa5b" stroke="#95fa5b" stroke-width="0.7" stroke-linejoin="round"/>
<polygon points="415.8,628.2 416.2,594.7 419.3,605.0 417.9,606.4" fill="#ffed00" stroke="#ffed00" stroke-width="0.7" stroke-linejoin="round"/>
<line x1="516.5" y1="646.4" x2="519.4" y2="649.3" stroke="#000" stroke-width="2.0" stroke-linecap="round"/>
<polygon points="403.5,630.0 404.1,605.8 406.1,590.7 405.7,621.3" fill="#faf104" stroke="#faf104" stroke-width="0.7" stroke-linejoin="round"/>
<line x1="405.7" y1="621.3" x2="406.1" y2="590.7" stroke="#000" stroke-width="2.0" stroke-linecap="round"/>
<polygon points="494.6,624.4 497.6,630.3 501.9,626.3 498.9,620.6" fill="#d9fa1d" stroke="#d9fa1d" stroke-width="0.7" stroke-linejoin="round"/>
<line x1="498.9" y1="620.6" x2="501.9" y2="626.3" stroke="#000" stroke-width="2.0" stroke-linecap="round"/>
<polygon points="413.5,597.2 415.8,628.2 417.9,606.4 416.0,588.9" fill="#ffde00" stroke="#ffde00" stroke-width="0.7" stroke-linejoin="round"/>
<polygon points="462.7,523.1 465.8,530.5 470.9,530.4 467.9,523.4" fill="#ff2100" stroke="#ff2100" stroke-width="0.7" stroke-linejoin="round"/>
<polygon points="515.2,654.7 518.2,656.9 522.4,651.5 519.4,649.3" fill="#8efa62" stroke="#8efa62" stroke-width="0.7" stroke-linejoin="round"/>
<line x1="519.4" y1="649.3" x2="522.4" y2="651.5" stroke="#000" stroke-width="2.0" stroke-linecap="round"/>
<polygon points="409.3,602.4 410.4,590.5 413.2,592.8 412.2,604.0" fill="#ffbe00" stroke="#ffbe00" stroke-width="0.7" stroke-linejoin="round"/>
<polygon points="491.6,618.4 494.6,624.4 498.9,620.6 496.0,615.0" fill="#e7f612" stroke="#e7f612" stroke-width="0.7" stroke-linejoin="round"/>
<line x1="496.0" y1="615.0" x2="498.9" y2="620.6" stroke="#000" stroke-width="2.0" stroke-linecap="round"/>
<polygon points="416.2,594.7 418.6,626.6 420.8,606.9 419.3,605.0" fill="#ffea00" stroke="#ffea00" stroke-width="0.7" stroke-linejoin="round"/>
<polygon points="428.7,586.9 429.5,565.9 433.9,546.7 433.0,568.1" fill="#ff7000" stroke="#ff7000" stroke-width="0.7" stroke-linejoin="round"/>
<polygon points="421.2,618.7 422.5,613.2 425.2,612.7 423.9,616.3" fill="#f2f309" stroke="#f2f309" stroke-width="0.7" stroke-linejoin="round"/>
<polygon points="518.2,656.9 521.1,659.2 525.3,653.6 522.4,651.5" fill="#88fa68" stroke="#88fa68" stroke-width="0.7" stroke-linejoin="round"/>
<line x1="522.4" y1="651.5" x2="525.3" y2="653.6" stroke="#000" stroke-width="2.0" stroke-linecap="round"/>
<polygon points="398.2,599.9 400.1,611.8 402.4,608.4 400.3,585.8" fill="#ffcc00" stroke="#ffcc00" stroke-width="0.7" stroke-linejoin="round"/>
<line x1="400.3" y1="585.8" x2="402.4" y2="608.4" stroke="#000" stroke-width="2.0" stroke-linecap="round"/>
<polygon points="399.3,619.5 401.3,638.6 403.5,630.0 401.4,610.8" fill="#def819" stroke="#def819" stroke-width="0.7" stroke-linejoin="round"/>
<line x1="399.3" y1="619.5" x2="401.3" y2="638.6" stroke="#000" stroke-width="2.0" stroke-linecap="round"/>
<polygon points="488.6,611.8 491.6,618.4 496.0,615.0 493.0,608.8" fill="#f5f207" stroke="#f5f207" stroke-width="0.7" stroke-linejoin="round"/>
<line x1="493.0" y1="608.8" x2="496.0" y2="615.0" stroke="#000" stroke-width="2.0" stroke-linecap="round"/>
<polygon points="410.4,590.5 412.1,598.8 415.1,605.8 413.2,592.8" fill="#ffbb00" stroke="#ffbb00" stroke-width="0.7" stroke-linejoin="round"/>
<polygon points="521.1,659.2 524.0,661.3 528.2,655.7 525.3,653.6" fill="#83fa6d" stroke="#83fa6d" stroke-width="0.7" stroke-linejoin="round"/>
<line x1="525.3" y1="653.6" x2="528.2" y2="655.7" stroke="#000" stroke-width="2.0" stroke-linecap="round"/>
<polygon points="459.6,510.3 462.7,523.1 467.9,523.4 464.7,510.8" fill="#ee0e00" stroke="#ee0e00" stroke-width="0.7" stroke-linejoin="round"/>
<polygon points="435.2,538.8 436.3,525.5 440.8,514.4 439.7,526.7" fill="#ff1e00" stroke="#ff1e00" stroke-width="0.7" stroke-linejoin="round"/>
<line x1="439.7" y1="526.7" x2="440.8" y2="514.4" stroke="#000" stroke-width="2.0" stroke-linecap="round"/>
<polygon points="412.1,598.8 413.5,597.2 416.0,588.9 415.1,605.8" fill="#ffbd00" stroke="#ffbd00" stroke-width="0.7" stroke-linejoin="round"/>
<polygon points="397.1,609.6 398.2,599.9 400.3,585.8 399.0,590.0" fill="#ffb600" stroke="#ffb600" stroke-width="0.7" stroke-linejoin="round"/>
<line x1="399.0" y1="590.0" x2="400.3" y2="585.8" stroke="#000" stroke-width="2.0" stroke-linecap="round"/>
<polygon points="485.6,604.8 488.6,611.8 493.0,608.8 490.0,602.2" fill="#ffe500" stroke="#ffe500" stroke-width="0.7" stroke-linejoin="round"/>
<line x1="490.0" y1="602.2" x2="493.0" y2="608.8" stroke="#000" stroke-width="2.0" stroke-linecap="round"/>
<polygon points="444.8,498.8 447.5,488.7 452.6,483.0 449.9,491.3" fill="#a00000" stroke="#a00000" stroke-width="0.7" stroke-linejoin="round"/>
<polygon points="401.3,638.6 402.2,620.9 404.1,605.8 403.5,630.0" fill="#e1f716" stroke="#e1f716" stroke-width="0.7" stroke-linejoin="round"/>
<line x1="401.3" y1="638.6" x2="402.2" y2="620.9" stroke="#000" stroke-width="2.0" stroke-linecap="round"/>
<polygon points="524.0,661.3 527.0,662.6 531.1,656.9 528.2,655.7" fill="#7ffa71" stroke="#7ffa71" stroke-width="0.7" stroke-linejoin="round"/>
<line x1="528.2" y1="655.7" x2="531.1" y2="656.9" stroke="#000" stroke-width="2.0" stroke-linecap="round"/>
<polygon points="395.3,629.1 396.2,614.0 398.2,599.9 397.1,609.6" fill="#fbf103" stroke="#fbf103" stroke-width="0.7" stroke-linejoin="round"/>
<polygon points="391.0,588.0 394.0,631.7 395.9,614.7 393.9,598.1" fill="#ffe300" stroke="#ffe300" stroke-width="0.7" stroke-linejoin="round"/>
<line x1="395.3" y1="629.1" x2="396.2" y2="614.0" stroke="#000" stroke-width="2.0" stroke-linecap="round"/>
<line x1="391.0" y1="588.0" x2="394.0" y2="631.7" stroke="#000" stroke-width="2.0" stroke-linecap="round"/>
<polygon points="482.6,597.3 485.6,604.8 490.0,602.2 487.1,594.8" fill="#ffc600" stroke="#ffc600" stroke-width="0.7" stroke-linejoin="round"/>
<line x1="487.1" y1="594.8" x2="490.0" y2="602.2" stroke="#000" stroke-width="2.0" stroke-linecap="round"/>
<polygon points="527.0,662.6 529.9,663.8 534.0,658.1 531.1,656.9" fill="#7bf974" stroke="#7bf974" stroke-width="0.7" stroke-linejoin="round"/>
<line x1="531.1" y1="656.9" x2="534.0" y2="658.1" stroke="#000" stroke-width="2.0" stroke-linecap="round"/>
<polygon points="456.4,499.0 459.6,510.3 464.7,510.8 461.6,498.6" fill="#ca0000" stroke="#ca0000" stroke-width="0.7" stroke-linejoin="round"/>
<polygon points="397.7,615.2 399.3,619.5 401.4,610.8 400.1,611.8" fill="#f9f104" stroke="#f9f104" stroke-width="0.7" stroke-linejoin="round"/>
<polygon points="411.1,599.6 413.5,632.2 415.8,628.2 413.5,597.2" fill="#f8f205" stroke="#f8f205" stroke-width="0.7" stroke-linejoin="round"/>
<line x1="397.7" y1="615.2" x2="399.3" y2="619.5" stroke="#000" stroke-width="2.0" stroke-linecap="round"/>
<line x1="413.5" y1="597.2" x2="415.8" y2="628.2" stroke="#000" stroke-width="2.0" stroke-linecap="round"/>
<polygon points="416.1,624.2 417.3,614.5 419.8,619.6 418.6,626.6" fill="#e9f611" stroke="#e9f611" stroke-width="0.7" stroke-linejoin="round"/>
<line x1="418.6" y1="626.6" x2="419.8" y2="619.6" stroke="#000" stroke-width="2.0" stroke-linecap="round"/>
<polygon points="389.4,621.0 389.4,581.8 392.1,586.5 391.4,606.6" fill="#ffbb00" stroke="#ffbb00" stroke-width="0.7" stroke-linejoin="round"/>
<line x1="389.4" y1="621.0" x2="389.4" y2="581.8" stroke="#000" stroke-width="2.0" stroke-linecap="round"/>
<polygon points="479.6,588.1 482.6,597.3 487.1,594.8 484.0,586.1" fill="#ffaa00" stroke="#ffaa00" stroke-width="0.7" stroke-linejoin="round"/>
<line x1="484.0" y1="586.1" x2="487.1" y2="594.8" stroke="#000" stroke-width="2.0" stroke-linecap="round"/>
<polygon points="529.9,663.8 532.8,665.0 536.9,659.3 534.0,658.1" fill="#78f876" stroke="#78f876" stroke-width="0.7" stroke-linejoin="round"/>
<line x1="534.0" y1="658.1" x2="536.9" y2="659.3" stroke="#000" stroke-width="2.0" stroke-linecap="round"/>
<polygon points="405.4,599.7 407.1,607.7 409.3,602.4 408.0,604.1" fill="#ffce00" stroke="#ffce00" stroke-width="0.7" stroke-linejoin="round"/>
<line x1="408.0" y1="604.1" x2="409.3" y2="602.4" stroke="#000" stroke-width="2.0" stroke-linecap="round"/>
<polygon points="396.2,614.0 397.7,615.2 400.1,611.8 398.2,599.9" fill="#ffe800" stroke="#ffe800" stroke-width="0.7" stroke-linejoin="round"/>
<polygon points="413.5,632.2 414.1,604.9 416.2,594.7 415.8,628.2" fill="#f7f206" stroke="#f7f206" stroke-width="0.7" stroke-linejoin="round"/>
<line x1="396.2" y1="614.0" x2="397.7" y2="615.2" stroke="#000" stroke-width="2.0" stroke-linecap="round"/>
<line x1="415.8" y1="628.2" x2="416.2" y2="594.7" stroke="#000" stroke-width="2.0" stroke-linecap="round"/>
<polygon points="404.1,605.8 405.4,599.7 408.0,604.1 406.1,590.7" fill="#ffc000" stroke="#ffc000" stroke-width="0.7" stroke-linejoin="round"/>
<line x1="406.1" y1="590.7" x2="408.0" y2="604.1" stroke="#000" stroke-width="2.0" stroke-linecap="round"/>
<polygon points="532.8,665.0 535.8,665.9 539.9,660.2 536.9,659.3" fill="#75f878" stroke="#75f878" stroke-width="0.7" stroke-linejoin="round"/>
<polygon points="447.5,488.7 450.3,483.4 455.5,480.4 452.6,483.0" fill="#800000" stroke="#800000" stroke-width="0.7" stroke-linejoin="round"/>
<polygon points="407.1,607.7 408.5,609.4 410.4,590.5 409.3,602.4" fill="#ffc800" stroke="#ffc800" stroke-width="0.7" stroke-linejoin="round"/>
<line x1="409.3" y1="602.4" x2="410.4" y2="590.5" stroke="#000" stroke-width="2.0" stroke-linecap="round"/>
<polygon points="436.3,525.5 437.5,516.6 442.1,508.9 440.8,514.4" fill="#e70900" stroke="#e70900" stroke-width="0.7" stroke-linejoin="round"/>
<line x1="440.8" y1="514.4" x2="442.1" y2="508.9" stroke="#000" stroke-width="2.0" stroke-linecap="round"/>
<polygon points="422.5,613.2 423.5,595.8 426.1,591.4 425.2,612.7" fill="#ffcd00" stroke="#ffcd00" stroke-width="0.7" stroke-linejoin="round"/>
<polygon points="476.5,578.8 479.6,588.1 484.0,586.1 481.0,577.2" fill="#ff9000" stroke="#ff9000" stroke-width="0.7" stroke-linejoin="round"/>
<line x1="481.0" y1="577.2" x2="484.0" y2="586.1" stroke="#000" stroke-width="2.0" stroke-linecap="round"/>
<polygon points="453.3,488.1 456.4,499.0 461.6,498.6 458.5,487.1" fill="#a60000" stroke="#a60000" stroke-width="0.7" stroke-linejoin="round"/>
<polygon points="417.3,614.5 418.8,618.7 421.2,618.7 419.8,619.6" fill="#f2f309" stroke="#f2f309" stroke-width="0.7" stroke-linejoin="round"/>
<line x1="419.8" y1="619.6" x2="421.2" y2="618.7" stroke="#000" stroke-width="2.0" stroke-linecap="round"/>
<polygon points="408.5,609.4 410.1,615.1 412.1,598.8 410.4,590.5" fill="#ffcb00" stroke="#ffcb00" stroke-width="0.7" stroke-linejoin="round"/>
<line x1="410.4" y1="590.5" x2="412.1" y2="598.8" stroke="#000" stroke-width="2.0" stroke-linecap="round"/>
<polygon points="414.1,604.9 416.1,624.2 418.6,626.6 416.2,594.7" fill="#fff000" stroke="#fff000" stroke-width="0.7" stroke-linejoin="round"/>
<line x1="416.2" y1="594.7" x2="418.6" y2="626.6" stroke="#000" stroke-width="2.0" stroke-linecap="round"/>
<polygon points="406.7,628.2 408.2,631.3 410.1,615.1 408.5,609.4" fill="#ecf50e" stroke="#ecf50e" stroke-width="0.7" stroke-linejoin="round"/>
<line x1="406.7" y1="628.2" x2="408.2" y2="631.3" stroke="#000" stroke-width="2.0" stroke-linecap="round"/>
<polygon points="450.3,483.4 453.3,488.1 458.5,487.1 455.5,480.4" fill="#810000" stroke="#810000" stroke-width="0.7" stroke-linejoin="round"/>
<polygon points="429.5,565.9 430.6,551.0 435.2,538.8 433.9,546.7" fill="#ff4800" stroke="#ff4800" stroke-width="0.7" stroke-linejoin="round"/>
<polygon points="426.1,591.4 427.1,575.9 429.5,565.9 428.7,586.9" fill="#ff8800" stroke="#ff8800" stroke-width="0.7" stroke-linejoin="round"/>
<line x1="428.7" y1="586.9" x2="429.5" y2="565.9" stroke="#000" stroke-width="2.0" stroke-linecap="round"/>
<polygon points="410.1,615.1 411.1,599.6 413.5,597.2 412.1,598.8" fill="#ffc600" stroke="#ffc600" stroke-width="0.7" stroke-linejoin="round"/>
<line x1="412.1" y1="598.8" x2="413.5" y2="597.2" stroke="#000" stroke-width="2.0" stroke-linecap="round"/>
<polygon points="473.4,569.3 476.5,578.8 481.0,577.2 478.0,568.2" fill="#ff7900" stroke="#ff7900" stroke-width="0.7" stroke-linejoin="round"/>
<line x1="478.0" y1="568.2" x2="481.0" y2="577.2" stroke="#000" stroke-width="2.0" stroke-linecap="round"/>
<polygon points="418.8,618.7 420.2,615.5 422.5,613.2 421.2,618.7" fill="#f7f206" stroke="#f7f206" stroke-width="0.7" stroke-linejoin="round"/>
<line x1="421.2" y1="618.7" x2="422.5" y2="613.2" stroke="#000" stroke-width="2.0" stroke-linecap="round"/>
<polygon points="404.8,613.1 406.7,628.2 408.5,609.4 407.1,607.7" fill="#fdf102" stroke="#fdf102" stroke-width="0.7" stroke-linejoin="round"/>
<line x1="404.8" y1="613.1" x2="406.7" y2="628.2" stroke="#000" stroke-width="2.0" stroke-linecap="round"/>
<polygon points="437.5,516.6 438.8,510.7 443.5,503.8 442.1,508.9" fill="#d30000" stroke="#d30000" stroke-width="0.7" stroke-linejoin="round"/>
<line x1="442.1" y1="508.9" x2="443.5" y2="503.8" stroke="#000" stroke-width="2.0" stroke-linecap="round"/>
<polygon points="389.4,581.8 391.0,588.0 393.9,598.1 392.1,586.5" fill="#ff9900" stroke="#ff9900" stroke-width="0.7" stroke-linejoin="round"/>
<line x1="389.4" y1="581.8" x2="391.0" y2="588.0" stroke="#000" stroke-width="2.0" stroke-linecap="round"/>
<polygon points="411.2,636.3 412.0,615.2 414.1,604.9 413.5,632.2" fill="#ecf50e" stroke="#ecf50e" stroke-width="0.7" stroke-linejoin="round"/>
<line x1="411.2" y1="636.3" x2="412.0" y2="615.2" stroke="#000" stroke-width="2.0" stroke-linecap="round"/>
<polygon points="470.4,559.7 473.4,569.3 478.0,568.2 474.9,559.0" fill="#ff6300" stroke="#ff6300" stroke-width="0.7" stroke-linejoin="round"/>
<line x1="474.9" y1="559.0" x2="478.0" y2="568.2" stroke="#000" stroke-width="2.0" stroke-linecap="round"/>
<polygon points="408.7,601.9 411.2,636.3 413.5,632.2 411.1,599.6" fill="#f7f206" stroke="#f7f206" stroke-width="0.7" stroke-linejoin="round"/>
<line x1="408.7" y1="601.9" x2="411.2" y2="636.3" stroke="#000" stroke-width="2.0" stroke-linecap="round"/>
<polygon points="402.2,620.9 402.7,595.4 405.4,599.7 404.1,605.8" fill="#ffcc00" stroke="#ffcc00" stroke-width="0.7" stroke-linejoin="round"/>
<line x1="402.2" y1="620.9" x2="402.7" y2="595.4" stroke="#000" stroke-width="2.0" stroke-linecap="round"/>
<polygon points="467.3,550.2 470.4,559.7 474.9,559.0 471.9,549.9" fill="#ff4e00" stroke="#ff4e00" stroke-width="0.7" stroke-linejoin="round"/>
<line x1="471.9" y1="549.9" x2="474.9" y2="559.0" stroke="#000" stroke-width="2.0" stroke-linecap="round"/>
<polygon points="408.2,631.3 408.7,601.9 411.1,599.6 410.1,615.1" fill="#ffe500" stroke="#ffe500" stroke-width="0.7" stroke-linejoin="round"/>
<line x1="408.2" y1="631.3" x2="408.7" y2="601.9" stroke="#000" stroke-width="2.0" stroke-linecap="round"/>
<polygon points="438.8,510.7 440.1,506.1 444.8,498.8 443.5,503.8" fill="#c20000" stroke="#c20000" stroke-width="0.7" stroke-linejoin="round"/>
<line x1="443.5" y1="503.8" x2="444.8" y2="498.8" stroke="#000" stroke-width="2.0" stroke-linecap="round"/>
<polygon points="402.7,595.4 404.8,613.1 407.1,607.7 405.4,599.7" fill="#ffc400" stroke="#ffc400" stroke-width="0.7" stroke-linejoin="round"/>
<line x1="402.7" y1="595.4" x2="404.8" y2="613.1" stroke="#000" stroke-width="2.0" stroke-linecap="round"/>
<polygon points="420.2,615.5 421.3,604.7 423.5,595.8 422.5,613.2" fill="#ffd200" stroke="#ffd200" stroke-width="0.7" stroke-linejoin="round"/>
<line x1="422.5" y1="613.2" x2="423.5" y2="595.8" stroke="#000" stroke-width="2.0" stroke-linecap="round"/>
<polygon points="502.1,649.2 505.1,653.1 509.4,648.0 506.4,644.3" fill="#acfa45" stroke="#acfa45" stroke-width="0.7" stroke-linejoin="round"/>
<polygon points="499.1,644.4 502.1,649.2 506.4,644.3 503.5,639.7" fill="#b7fa3b" stroke="#b7fa3b" stroke-width="0.7" stroke-linejoin="round"/>
<polygon points="505.1,653.1 508.0,656.9 512.3,651.6 509.4,648.0" fill="#a1fa4f" stroke="#a1fa4f" stroke-width="0.7" stroke-linejoin="round"/>
<polygon points="412.0,615.2 413.6,621.7 416.1,624.2 414.1,604.9" fill="#fcf102" stroke="#fcf102" stroke-width="0.7" stroke-linejoin="round"/>
<line x1="412.0" y1="615.2" x2="413.6" y2="621.7" stroke="#000" stroke-width="2.0" stroke-linecap="round"/>
<polygon points="430.6,551.0 431.7,536.7 436.3,525.5 435.2,538.8" fill="#ff2c00" stroke="#ff2c00" stroke-width="0.7" stroke-linejoin="round"/>
<polygon points="496.2,639.5 499.1,644.4 503.5,639.7 500.5,635.2" fill="#c3fa30" stroke="#c3fa30" stroke-width="0.7" stroke-linejoin="round"/>
<polygon points="464.2,541.3 467.3,550.2 471.9,549.9 468.8,541.1" fill="#ff3b00" stroke="#ff3b00" stroke-width="0.7" stroke-linejoin="round"/>
<line x1="468.8" y1="541.1" x2="471.9" y2="549.9" stroke="#000" stroke-width="2.0" stroke-linecap="round"/>
<polygon points="508.0,656.9 511.0,660.2 515.2,654.7 512.3,651.6" fill="#97fa59" stroke="#97fa59" stroke-width="0.7" stroke-linejoin="round"/>
<polygon points="493.2,634.4 496.2,639.5 500.5,635.2 497.6,630.3" fill="#d0fa25" stroke="#d0fa25" stroke-width="0.7" stroke-linejoin="round"/>
<polygon points="423.5,595.8 424.6,585.9 427.1,575.9 426.1,591.4" fill="#ff9400" stroke="#ff9400" stroke-width="0.7" stroke-linejoin="round"/>
<polygon points="413.6,621.7 414.7,609.4 417.3,614.5 416.1,624.2" fill="#faf104" stroke="#faf104" stroke-width="0.7" stroke-linejoin="round"/>
<line x1="413.6" y1="621.7" x2="414.7" y2="609.4" stroke="#000" stroke-width="2.0" stroke-linecap="round"/>
<polygon points="511.0,660.2 513.9,662.5 518.2,656.9 515.2,654.7" fill="#8ffa61" stroke="#8ffa61" stroke-width="0.7" stroke-linejoin="round"/>
<polygon points="490.2,628.1 493.2,634.4 497.6,630.3 494.6,624.4" fill="#def819" stroke="#def819" stroke-width="0.7" stroke-linejoin="round"/>
<polygon points="513.9,662.5 516.9,664.8 521.1,659.2 518.2,656.9" fill="#8afa66" stroke="#8afa66" stroke-width="0.7" stroke-linejoin="round"/>
<polygon points="487.2,621.9 490.2,628.1 494.6,624.4 491.6,618.4" fill="#ecf50e" stroke="#ecf50e" stroke-width="0.7" stroke-linejoin="round"/>
<polygon points="461.1,530.6 464.2,541.3 468.8,541.1 465.8,530.5" fill="#ff2700" stroke="#ff2700" stroke-width="0.7" stroke-linejoin="round"/>
<line x1="465.8" y1="530.5" x2="468.8" y2="541.1" stroke="#000" stroke-width="2.0" stroke-linecap="round"/>
<polygon points="516.9,664.8 519.8,667.1 524.0,661.3 521.1,659.2" fill="#84fa6c" stroke="#84fa6c" stroke-width="0.7" stroke-linejoin="round"/>
<polygon points="427.1,575.9 428.0,556.3 430.6,551.0 429.5,565.9" fill="#ff5a00" stroke="#ff5a00" stroke-width="0.7" stroke-linejoin="round"/>
<line x1="429.5" y1="565.9" x2="430.6" y2="551.0" stroke="#000" stroke-width="2.0" stroke-linecap="round"/>
<polygon points="414.7,609.4 416.4,618.6 418.8,618.7 417.3,614.5" fill="#ffed00" stroke="#ffed00" stroke-width="0.7" stroke-linejoin="round"/>
<line x1="414.7" y1="609.4" x2="416.4" y2="618.6" stroke="#000" stroke-width="2.0" stroke-linecap="round"/>
<polygon points="416.4,618.6 417.8,617.7 420.2,615.5 418.8,618.7" fill="#fbf103" stroke="#fbf103" stroke-width="0.7" stroke-linejoin="round"/>
<line x1="416.4" y1="618.6" x2="417.8" y2="617.7" stroke="#000" stroke-width="2.0" stroke-linecap="round"/>
<polygon points="484.2,614.9 487.2,621.9 491.6,618.4 488.6,611.8" fill="#fcf102" stroke="#fcf102" stroke-width="0.7" stroke-linejoin="round"/>
<polygon points="440.1,506.1 442.8,495.2 447.5,488.7 444.8,498.8" fill="#a70000" stroke="#a70000" stroke-width="0.7" stroke-linejoin="round"/>
<line x1="444.8" y1="498.8" x2="447.5" y2="488.7" stroke="#000" stroke-width="2.0" stroke-linecap="round"/>
<polygon points="519.8,667.1 522.8,668.4 527.0,662.6 524.0,661.3" fill="#80fa70" stroke="#80fa70" stroke-width="0.7" stroke-linejoin="round"/>
<polygon points="458.0,523.2 461.1,530.6 465.8,530.5 462.7,523.1" fill="#fb1500" stroke="#fb1500" stroke-width="0.7" stroke-linejoin="round"/>
<line x1="462.7" y1="523.1" x2="465.8" y2="530.5" stroke="#000" stroke-width="2.0" stroke-linecap="round"/>
<polygon points="481.1,607.5 484.2,614.9 488.6,611.8 485.6,604.8" fill="#ffd800" stroke="#ffd800" stroke-width="0.7" stroke-linejoin="round"/>
<polygon points="522.8,668.4 525.7,669.6 529.9,663.8 527.0,662.6" fill="#7cf973" stroke="#7cf973" stroke-width="0.7" stroke-linejoin="round"/>
<polygon points="478.1,599.7 481.1,607.5 485.6,604.8 482.6,597.3" fill="#ffb800" stroke="#ffb800" stroke-width="0.7" stroke-linejoin="round"/>
<polygon points="454.9,511.4 458.0,523.2 462.7,523.1 459.6,510.3" fill="#dd0300" stroke="#dd0300" stroke-width="0.7" stroke-linejoin="round"/>
<line x1="459.6" y1="510.3" x2="462.7" y2="523.1" stroke="#000" stroke-width="2.0" stroke-linecap="round"/>
<polygon points="417.8,617.7 419.1,613.6 421.3,604.7 420.2,615.5" fill="#ffdf00" stroke="#ffdf00" stroke-width="0.7" stroke-linejoin="round"/>
<line x1="417.8" y1="617.7" x2="419.1" y2="613.6" stroke="#000" stroke-width="2.0" stroke-linecap="round"/>
<polygon points="431.7,536.7 432.8,524.4 437.5,516.6 436.3,525.5" fill="#f51200" stroke="#f51200" stroke-width="0.7" stroke-linejoin="round"/>
<polygon points="525.7,669.6 528.7,670.8 532.8,665.0 529.9,663.8" fill="#79f975" stroke="#79f975" stroke-width="0.7" stroke-linejoin="round"/>
<polygon points="421.3,604.7 422.4,593.5 424.6,585.9 423.5,595.8" fill="#ffa200" stroke="#ffa200" stroke-width="0.7" stroke-linejoin="round"/>
<line x1="423.5" y1="595.8" x2="424.6" y2="585.9" stroke="#000" stroke-width="2.0" stroke-linecap="round"/>
<polygon points="475.0,590.1 478.1,599.7 482.6,597.3 479.6,588.1" fill="#ffa000" stroke="#ffa000" stroke-width="0.7" stroke-linejoin="round"/>
<polygon points="528.7,670.8 531.6,671.7 535.8,665.9 532.8,665.0" fill="#77f877" stroke="#77f877" stroke-width="0.7" stroke-linejoin="round"/>
<polygon points="451.7,501.3 454.9,511.4 459.6,510.3 456.4,499.0" fill="#bc0000" stroke="#bc0000" stroke-width="0.7" stroke-linejoin="round"/>
<line x1="456.4" y1="499.0" x2="459.6" y2="510.3" stroke="#000" stroke-width="2.0" stroke-linecap="round"/>
<polygon points="442.8,495.2 445.6,488.3 450.3,483.4 447.5,488.7" fill="#800000" stroke="#800000" stroke-width="0.7" stroke-linejoin="round"/>
<line x1="447.5" y1="488.7" x2="450.3" y2="483.4" stroke="#000" stroke-width="2.0" stroke-linecap="round"/>
<polygon points="424.6,585.9 425.4,561.6 428.0,556.3 427.1,575.9" fill="#ff6600" stroke="#ff6600" stroke-width="0.7" stroke-linejoin="round"/>
<polygon points="471.9,580.4 475.0,590.1 479.6,588.1 476.5,578.8" fill="#ff8600" stroke="#ff8600" stroke-width="0.7" stroke-linejoin="round"/>
<polygon points="428.0,556.3 429.1,541.0 431.7,536.7 430.6,551.0" fill="#ff3400" stroke="#ff3400" stroke-width="0.7" stroke-linejoin="round"/>
<line x1="430.6" y1="551.0" x2="431.7" y2="536.7" stroke="#000" stroke-width="2.0" stroke-linecap="round"/>
<polygon points="448.6,491.3 451.7,501.3 456.4,499.0 453.3,488.1" fill="#950000" stroke="#950000" stroke-width="0.7" stroke-linejoin="round"/>
<line x1="453.3" y1="488.1" x2="456.4" y2="499.0" stroke="#000" stroke-width="2.0" stroke-linecap="round"/>
<polygon points="432.8,524.4 434.1,517.7 438.8,510.7 437.5,516.6" fill="#d90100" stroke="#d90100" stroke-width="0.7" stroke-linejoin="round"/>
<polygon points="445.6,488.3 448.6,491.3 453.3,488.1 450.3,483.4" fill="#800000" stroke="#800000" stroke-width="0.7" stroke-linejoin="round"/>
<line x1="450.3" y1="483.4" x2="453.3" y2="488.1" stroke="#000" stroke-width="2.0" stroke-linecap="round"/>
<polygon points="419.1,613.6 420.2,601.0 422.4,593.5 421.3,604.7" fill="#ffb300" stroke="#ffb300" stroke-width="0.7" stroke-linejoin="round"/>
<line x1="419.1" y1="613.6" x2="420.2" y2="601.0" stroke="#000" stroke-width="2.0" stroke-linecap="round"/>
<polygon points="468.8,570.5 471.9,580.4 476.5,578.8 473.4,569.3" fill="#ff6f00" stroke="#ff6f00" stroke-width="0.7" stroke-linejoin="round"/>
<polygon points="499.7,651.9 502.7,655.9 505.1,653.1 502.1,649.2" fill="#aefa43" stroke="#aefa43" stroke-width="0.7" stroke-linejoin="round"/>
<line x1="502.1" y1="649.2" x2="505.1" y2="653.1" stroke="#000" stroke-width="2.0" stroke-linecap="round"/>
<polygon points="502.7,655.9 505.6,659.9 508.0,656.9 505.1,653.1" fill="#a3fa4d" stroke="#a3fa4d" stroke-width="0.7" stroke-linejoin="round"/>
<line x1="505.1" y1="653.1" x2="508.0" y2="656.9" stroke="#000" stroke-width="2.0" stroke-linecap="round"/>
<polygon points="496.7,646.9 499.7,651.9 502.1,649.2 499.1,644.4" fill="#b9fa39" stroke="#b9fa39" stroke-width="0.7" stroke-linejoin="round"/>
<line x1="499.1" y1="644.4" x2="502.1" y2="649.2" stroke="#000" stroke-width="2.0" stroke-linecap="round"/>
<polygon points="505.6,659.9 508.6,663.2 511.0,660.2 508.0,656.9" fill="#98fa58" stroke="#98fa58" stroke-width="0.7" stroke-linejoin="round"/>
<line x1="508.0" y1="656.9" x2="511.0" y2="660.2" stroke="#000" stroke-width="2.0" stroke-linecap="round"/>
<polygon points="493.7,642.0 496.7,646.9 499.1,644.4 496.2,639.5" fill="#c6fa2d" stroke="#c6fa2d" stroke-width="0.7" stroke-linejoin="round"/>
<line x1="496.2" y1="639.5" x2="499.1" y2="644.4" stroke="#000" stroke-width="2.0" stroke-linecap="round"/>
<polygon points="508.6,663.2 511.5,665.6 513.9,662.5 511.0,660.2" fill="#90fa60" stroke="#90fa60" stroke-width="0.7" stroke-linejoin="round"/>
<line x1="511.0" y1="660.2" x2="513.9" y2="662.5" stroke="#000" stroke-width="2.0" stroke-linecap="round"/>
<polygon points="490.7,636.6 493.7,642.0 496.2,639.5 493.2,634.4" fill="#d3fa21" stroke="#d3fa21" stroke-width="0.7" stroke-linejoin="round"/>
<line x1="493.2" y1="634.4" x2="496.2" y2="639.5" stroke="#000" stroke-width="2.0" stroke-linecap="round"/>
<polygon points="434.1,517.7 435.5,513.4 440.1,506.1 438.8,510.7" fill="#c80000" stroke="#c80000" stroke-width="0.7" stroke-linejoin="round"/>
<polygon points="511.5,665.6 514.5,668.0 516.9,664.8 513.9,662.5" fill="#8afa66" stroke="#8afa66" stroke-width="0.7" stroke-linejoin="round"/>
<polygon points="487.7,630.2 490.7,636.6 493.2,634.4 490.2,628.1" fill="#e1f716" stroke="#e1f716" stroke-width="0.7" stroke-linejoin="round"/>
<line x1="513.9" y1="662.5" x2="516.9" y2="664.8" stroke="#000" stroke-width="2.0" stroke-linecap="round"/>
<line x1="490.2" y1="628.1" x2="493.2" y2="634.4" stroke="#000" stroke-width="2.0" stroke-linecap="round"/>
<polygon points="465.7,560.3 468.8,570.5 473.4,569.3 470.4,559.7" fill="#ff5800" stroke="#ff5800" stroke-width="0.7" stroke-linejoin="round"/>
<polygon points="514.5,668.0 517.5,670.3 519.8,667.1 516.9,664.8" fill="#85fa6b" stroke="#85fa6b" stroke-width="0.7" stroke-linejoin="round"/>
<line x1="516.9" y1="664.8" x2="519.8" y2="667.1" stroke="#000" stroke-width="2.0" stroke-linecap="round"/>
<polygon points="484.7,623.8 487.7,630.2 490.2,628.1 487.2,621.9" fill="#f1f40b" stroke="#f1f40b" stroke-width="0.7" stroke-linejoin="round"/>
<line x1="487.2" y1="621.9" x2="490.2" y2="628.1" stroke="#000" stroke-width="2.0" stroke-linecap="round"/>
<polygon points="422.4,593.5 423.2,569.5 425.4,561.6 424.6,585.9" fill="#ff7100" stroke="#ff7100" stroke-width="0.7" stroke-linejoin="round"/>
<line x1="424.6" y1="585.9" x2="425.4" y2="561.6" stroke="#000" stroke-width="2.0" stroke-linecap="round"/>
<polygon points="517.5,670.3 520.4,671.6 522.8,668.4 519.8,667.1" fill="#80fa70" stroke="#80fa70" stroke-width="0.7" stroke-linejoin="round"/>
<line x1="519.8" y1="667.1" x2="522.8" y2="668.4" stroke="#000" stroke-width="2.0" stroke-linecap="round"/>
<polygon points="481.7,616.7 484.7,623.8 487.2,621.9 484.2,614.9" fill="#ffed00" stroke="#ffed00" stroke-width="0.7" stroke-linejoin="round"/>
<line x1="484.2" y1="614.9" x2="487.2" y2="621.9" stroke="#000" stroke-width="2.0" stroke-linecap="round"/>
<polygon points="462.6,550.5 465.7,560.3 470.4,559.7 467.3,550.2" fill="#ff4300" stroke="#ff4300" stroke-width="0.7" stroke-linejoin="round"/>
<polygon points="429.1,541.0 430.2,529.5 432.8,524.4 431.7,536.7" fill="#ff1800" stroke="#ff1800" stroke-width="0.7" stroke-linejoin="round"/>
<line x1="431.7" y1="536.7" x2="432.8" y2="524.4" stroke="#000" stroke-width="2.0" stroke-linecap="round"/>
<polygon points="520.4,671.6 523.4,672.8 525.7,669.6 522.8,668.4" fill="#7df972" stroke="#7df972" stroke-width="0.7" stroke-linejoin="round"/>
<line x1="522.8" y1="668.4" x2="525.7" y2="669.6" stroke="#000" stroke-width="2.0" stroke-linecap="round"/>
<polygon points="478.6,609.0 481.7,616.7 484.2,614.9 481.1,607.5" fill="#ffce00" stroke="#ffce00" stroke-width="0.7" stroke-linejoin="round"/>
<line x1="481.1" y1="607.5" x2="484.2" y2="614.9" stroke="#000" stroke-width="2.0" stroke-linecap="round"/>
<polygon points="459.5,541.6 462.6,550.5 467.3,550.2 464.2,541.3" fill="#ff3000" stroke="#ff3000" stroke-width="0.7" stroke-linejoin="round"/>
<polygon points="425.4,561.6 426.4,545.5 429.1,541.0 428.0,556.3" fill="#ff3900" stroke="#ff3900" stroke-width="0.7" stroke-linejoin="round"/>
<polygon points="523.4,672.8 526.3,674.0 528.7,670.8 525.7,669.6" fill="#7af975" stroke="#7af975" stroke-width="0.7" stroke-linejoin="round"/>
<line x1="525.7" y1="669.6" x2="528.7" y2="670.8" stroke="#000" stroke-width="2.0" stroke-linecap="round"/>
<polygon points="435.5,513.4 438.1,501.7 442.8,495.2 440.1,506.1" fill="#b00000" stroke="#b00000" stroke-width="0.7" stroke-linejoin="round"/>
<polygon points="475.6,601.1 478.6,609.0 481.1,607.5 478.1,599.7" fill="#ffb100" stroke="#ffb100" stroke-width="0.7" stroke-linejoin="round"/>
<line x1="478.1" y1="599.7" x2="481.1" y2="607.5" stroke="#000" stroke-width="2.0" stroke-linecap="round"/>
<polygon points="526.3,674.0 529.3,674.9 531.6,671.7 528.7,670.8" fill="#78f877" stroke="#78f877" stroke-width="0.7" stroke-linejoin="round"/>
<polygon points="456.4,530.7 459.5,541.6 464.2,541.3 461.1,530.6" fill="#ff1c00" stroke="#ff1c00" stroke-width="0.7" stroke-linejoin="round"/>
<polygon points="420.2,601.0 421.0,577.3 423.2,569.5 422.4,593.5" fill="#ff7e00" stroke="#ff7e00" stroke-width="0.7" stroke-linejoin="round"/>
<line x1="420.2" y1="601.0" x2="421.0" y2="577.3" stroke="#000" stroke-width="2.0" stroke-linecap="round"/>
<polygon points="472.5,591.3 475.6,601.1 478.1,599.7 475.0,590.1" fill="#ff9800" stroke="#ff9800" stroke-width="0.7" stroke-linejoin="round"/>
<line x1="475.0" y1="590.1" x2="478.1" y2="599.7" stroke="#000" stroke-width="2.0" stroke-linecap="round"/>
<polygon points="497.3,654.7 500.2,658.8 502.7,655.9 499.7,651.9" fill="#affa41" stroke="#affa41" stroke-width="0.7" stroke-linejoin="round"/>
<polygon points="500.2,658.8 503.2,662.8 505.6,659.9 502.7,655.9" fill="#a4fa4c" stroke="#a4fa4c" stroke-width="0.7" stroke-linejoin="round"/>
<polygon points="503.2,662.8 506.2,666.3 508.6,663.2 505.6,659.9" fill="#99fa57" stroke="#99fa57" stroke-width="0.7" stroke-linejoin="round"/>
<polygon points="494.3,649.6 497.3,654.7 499.7,651.9 496.7,646.9" fill="#bbfa37" stroke="#bbfa37" stroke-width="0.7" stroke-linejoin="round"/>
<polygon points="453.3,523.4 456.4,530.7 461.1,530.6 458.0,523.2" fill="#eb0b00" stroke="#eb0b00" stroke-width="0.7" stroke-linejoin="round"/>
<polygon points="491.3,644.5 494.3,649.6 496.7,646.9 493.7,642.0" fill="#c8fa2b" stroke="#c8fa2b" stroke-width="0.7" stroke-linejoin="round"/>
<polygon points="506.2,666.3 509.2,668.7 511.5,665.6 508.6,663.2" fill="#91fa5f" stroke="#91fa5f" stroke-width="0.7" stroke-linejoin="round"/>
<polygon points="430.2,529.5 431.5,521.6 434.1,517.7 432.8,524.4" fill="#df0500" stroke="#df0500" stroke-width="0.7" stroke-linejoin="round"/>
<line x1="432.8" y1="524.4" x2="434.1" y2="517.7" stroke="#000" stroke-width="2.0" stroke-linecap="round"/>
<polygon points="488.2,638.9 491.3,644.5 493.7,642.0 490.7,636.6" fill="#d6fa1f" stroke="#d6fa1f" stroke-width="0.7" stroke-linejoin="round"/>
<polygon points="509.2,668.7 512.1,671.2 514.5,668.0 511.5,665.6" fill="#8bfa65" stroke="#8bfa65" stroke-width="0.7" stroke-linejoin="round"/>
<polygon points="469.4,581.3 472.5,591.3 475.0,590.1 471.9,580.4" fill="#ff7f00" stroke="#ff7f00" stroke-width="0.7" stroke-linejoin="round"/>
<polygon points="485.2,632.4 488.2,638.9 490.7,636.6 487.7,630.2" fill="#e4f714" stroke="#e4f714" stroke-width="0.7" stroke-linejoin="round"/>
<line x1="471.9" y1="580.4" x2="475.0" y2="590.1" stroke="#000" stroke-width="2.0" stroke-linecap="round"/>
<polygon points="450.1,512.4 453.3,523.4 458.0,523.2 454.9,511.4" fill="#cf0000" stroke="#cf0000" stroke-width="0.7" stroke-linejoin="round"/>
<polygon points="512.1,671.2 515.1,673.6 517.5,670.3 514.5,668.0" fill="#85fa6b" stroke="#85fa6b" stroke-width="0.7" stroke-linejoin="round"/>
<polygon points="482.2,625.8 485.2,632.4 487.7,630.2 484.7,623.8" fill="#f4f308" stroke="#f4f308" stroke-width="0.7" stroke-linejoin="round"/>
<polygon points="438.1,501.7 440.8,493.2 445.6,488.3 442.8,495.2" fill="#810000" stroke="#810000" stroke-width="0.7" stroke-linejoin="round"/>
<polygon points="515.1,673.6 518.0,674.9 520.4,671.6 517.5,670.3" fill="#81fa6f" stroke="#81fa6f" stroke-width="0.7" stroke-linejoin="round"/>
<polygon points="426.4,545.5 427.6,534.6 430.2,529.5 429.1,541.0" fill="#ff1b00" stroke="#ff1b00" stroke-width="0.7" stroke-linejoin="round"/>
<polygon points="423.2,569.5 424.1,551.3 426.4,545.5 425.4,561.6" fill="#ff4000" stroke="#ff4000" stroke-width="0.7" stroke-linejoin="round"/>
<line x1="425.4" y1="561.6" x2="426.4" y2="545.5" stroke="#000" stroke-width="2.0" stroke-linecap="round"/>
<polygon points="479.1,618.4 482.2,625.8 484.7,623.8 481.7,616.7" fill="#ffe700" stroke="#ffe700" stroke-width="0.7" stroke-linejoin="round"/>
<polygon points="431.5,521.6 432.8,518.0 435.5,513.4 434.1,517.7" fill="#cd0000" stroke="#cd0000" stroke-width="0.7" stroke-linejoin="round"/>
<line x1="434.1" y1="517.7" x2="435.5" y2="513.4" stroke="#000" stroke-width="2.0" stroke-linecap="round"/>
<polygon points="466.3,571.1 469.4,581.3 471.9,580.4 468.8,570.5" fill="#ff6700" stroke="#ff6700" stroke-width="0.7" stroke-linejoin="round"/>
<line x1="468.8" y1="570.5" x2="471.9" y2="580.4" stroke="#000" stroke-width="2.0" stroke-linecap="round"/>
<polygon points="447.0,503.7 450.1,512.4 454.9,511.4 451.7,501.3" fill="#b20000" stroke="#b20000" stroke-width="0.7" stroke-linejoin="round"/>
<polygon points="518.0,674.9 521.0,676.1 523.4,672.8 520.4,671.6" fill="#7efa72" stroke="#7efa72" stroke-width="0.7" stroke-linejoin="round"/>
<polygon points="476.1,610.5 479.1,618.4 481.7,616.7 478.6,609.0" fill="#ffc700" stroke="#ffc700" stroke-width="0.7" stroke-linejoin="round"/>
<polygon points="521.0,676.1 524.0,677.2 526.3,674.0 523.4,672.8" fill="#7bf974" stroke="#7bf974" stroke-width="0.7" stroke-linejoin="round"/>
<polygon points="443.8,494.6 447.0,503.7 451.7,501.3 448.6,491.3" fill="#8a0000" stroke="#8a0000" stroke-width="0.7" stroke-linejoin="round"/>
<polygon points="440.8,493.2 443.8,494.6 448.6,491.3 445.6,488.3" fill="#800000" stroke="#800000" stroke-width="0.7" stroke-linejoin="round"/>
<polygon points="463.1,560.7 466.3,571.1 468.8,570.5 465.7,560.3" fill="#ff5000" stroke="#ff5000" stroke-width="0.7" stroke-linejoin="round"/>
<line x1="465.7" y1="560.3" x2="468.8" y2="570.5" stroke="#000" stroke-width="2.0" stroke-linecap="round"/>
<polygon points="473.0,602.5 476.1,610.5 478.6,609.0 475.6,601.1" fill="#ffac00" stroke="#ffac00" stroke-width="0.7" stroke-linejoin="round"/>
<polygon points="524.0,677.2 526.9,678.1 529.3,674.9 526.3,674.0" fill="#78f876" stroke="#78f876" stroke-width="0.7" stroke-linejoin="round"/>
<polygon points="498.1,661.3 501.1,665.5 503.2,662.8 500.2,658.8" fill="#a5fa4b" stroke="#a5fa4b" stroke-width="0.7" stroke-linejoin="round"/>
<polygon points="495.1,657.1 498.1,661.3 500.2,658.8 497.3,654.7" fill="#b0fa40" stroke="#b0fa40" stroke-width="0.7" stroke-linejoin="round"/>
<line x1="500.2" y1="658.8" x2="503.2" y2="662.8" stroke="#000" stroke-width="2.0" stroke-linecap="round"/>
<line x1="497.3" y1="654.7" x2="500.2" y2="658.8" stroke="#000" stroke-width="2.0" stroke-linecap="round"/>
<polygon points="501.1,665.5 504.1,669.0 506.2,666.3 503.2,662.8" fill="#9afa56" stroke="#9afa56" stroke-width="0.7" stroke-linejoin="round"/>
<line x1="503.2" y1="662.8" x2="506.2" y2="666.3" stroke="#000" stroke-width="2.0" stroke-linecap="round"/>
<polygon points="492.1,651.9 495.1,657.1 497.3,654.7 494.3,649.6" fill="#bdfa36" stroke="#bdfa36" stroke-width="0.7" stroke-linejoin="round"/>
<line x1="494.3" y1="649.6" x2="497.3" y2="654.7" stroke="#000" stroke-width="2.0" stroke-linecap="round"/>
<polygon points="460.0,550.7 463.1,560.7 465.7,560.3 462.6,550.5" fill="#ff3a00" stroke="#ff3a00" stroke-width="0.7" stroke-linejoin="round"/>
<polygon points="432.8,518.0 435.5,506.3 438.1,501.7 435.5,513.4" fill="#b50000" stroke="#b50000" stroke-width="0.7" stroke-linejoin="round"/>
<line x1="462.6" y1="550.5" x2="465.7" y2="560.3" stroke="#000" stroke-width="2.0" stroke-linecap="round"/>
<line x1="435.5" y1="513.4" x2="438.1" y2="501.7" stroke="#000" stroke-width="2.0" stroke-linecap="round"/>
<polygon points="427.6,534.6 428.8,525.5 431.5,521.6 430.2,529.5" fill="#e40800" stroke="#e40800" stroke-width="0.7" stroke-linejoin="round"/>
<polygon points="504.1,669.0 507.0,671.5 509.2,668.7 506.2,666.3" fill="#92fa5e" stroke="#92fa5e" stroke-width="0.7" stroke-linejoin="round"/>
<line x1="506.2" y1="666.3" x2="509.2" y2="668.7" stroke="#000" stroke-width="2.0" stroke-linecap="round"/>
<polygon points="489.1,646.6 492.1,651.9 494.3,649.6 491.3,644.5" fill="#cafa29" stroke="#cafa29" stroke-width="0.7" stroke-linejoin="round"/>
<line x1="491.3" y1="644.5" x2="494.3" y2="649.6" stroke="#000" stroke-width="2.0" stroke-linecap="round"/>
<polygon points="469.9,592.4 473.0,602.5 475.6,601.1 472.5,591.3" fill="#ff9200" stroke="#ff9200" stroke-width="0.7" stroke-linejoin="round"/>
<polygon points="486.1,641.0 489.1,646.6 491.3,644.5 488.2,638.9" fill="#d8fa1d" stroke="#d8fa1d" stroke-width="0.7" stroke-linejoin="round"/>
<line x1="488.2" y1="638.9" x2="491.3" y2="644.5" stroke="#000" stroke-width="2.0" stroke-linecap="round"/>
<polygon points="507.0,671.5 510.0,674.0 512.1,671.2 509.2,668.7" fill="#8cfa64" stroke="#8cfa64" stroke-width="0.7" stroke-linejoin="round"/>
<line x1="509.2" y1="668.7" x2="512.1" y2="671.2" stroke="#000" stroke-width="2.0" stroke-linecap="round"/>
<polygon points="421.0,577.3 421.8,557.1 424.1,551.3 423.2,569.5" fill="#ff4900" stroke="#ff4900" stroke-width="0.7" stroke-linejoin="round"/>
<line x1="421.0" y1="577.3" x2="421.8" y2="557.1" stroke="#000" stroke-width="2.0" stroke-linecap="round"/>
<polygon points="510.0,674.0 513.0,676.4 515.1,673.6 512.1,671.2" fill="#85fa6b" stroke="#85fa6b" stroke-width="0.7" stroke-linejoin="round"/>
<polygon points="483.0,634.2 486.1,641.0 488.2,638.9 485.2,632.4" fill="#e7f612" stroke="#e7f612" stroke-width="0.7" stroke-linejoin="round"/>
<line x1="512.1" y1="671.2" x2="515.1" y2="673.6" stroke="#000" stroke-width="2.0" stroke-linecap="round"/>
<line x1="485.2" y1="632.4" x2="488.2" y2="638.9" stroke="#000" stroke-width="2.0" stroke-linecap="round"/>
<polygon points="424.1,551.3 425.4,542.6 427.6,534.6 426.4,545.5" fill="#ff2200" stroke="#ff2200" stroke-width="0.7" stroke-linejoin="round"/>
<line x1="426.4" y1="545.5" x2="427.6" y2="534.6" stroke="#000" stroke-width="2.0" stroke-linecap="round"/>
<polygon points="456.9,541.7 460.0,550.7 462.6,550.5 459.5,541.6" fill="#ff2700" stroke="#ff2700" stroke-width="0.7" stroke-linejoin="round"/>
<line x1="459.5" y1="541.6" x2="462.6" y2="550.5" stroke="#000" stroke-width="2.0" stroke-linecap="round"/>
<polygon points="466.8,582.2 469.9,592.4 472.5,591.3 469.4,581.3" fill="#ff7900" stroke="#ff7900" stroke-width="0.7" stroke-linejoin="round"/>
<polygon points="513.0,676.4 516.0,677.7 518.0,674.9 515.1,673.6" fill="#81fa6f" stroke="#81fa6f" stroke-width="0.7" stroke-linejoin="round"/>
<line x1="515.1" y1="673.6" x2="518.0" y2="674.9" stroke="#000" stroke-width="2.0" stroke-linecap="round"/>
<polygon points="480.0,627.5 483.0,634.2 485.2,632.4 482.2,625.8" fill="#f7f206" stroke="#f7f206" stroke-width="0.7" stroke-linejoin="round"/>
<line x1="482.2" y1="625.8" x2="485.2" y2="632.4" stroke="#000" stroke-width="2.0" stroke-linecap="round"/>
<polygon points="428.8,525.5 430.2,522.7 432.8,518.0 431.5,521.6" fill="#d10000" stroke="#d10000" stroke-width="0.7" stroke-linejoin="round"/>
<polygon points="453.7,530.8 456.9,541.7 459.5,541.6 456.4,530.7" fill="#f91400" stroke="#f91400" stroke-width="0.7" stroke-linejoin="round"/>
<line x1="456.4" y1="530.7" x2="459.5" y2="541.6" stroke="#000" stroke-width="2.0" stroke-linecap="round"/>
<polygon points="516.0,677.7 518.9,678.9 521.0,676.1 518.0,674.9" fill="#7efa71" stroke="#7efa71" stroke-width="0.7" stroke-linejoin="round"/>
<polygon points="476.9,620.0 480.0,627.5 482.2,625.8 479.1,618.4" fill="#ffe100" stroke="#ffe100" stroke-width="0.7" stroke-linejoin="round"/>
<line x1="518.0" y1="674.9" x2="521.0" y2="676.1" stroke="#000" stroke-width="2.0" stroke-linecap="round"/>
<line x1="479.1" y1="618.4" x2="482.2" y2="625.8" stroke="#000" stroke-width="2.0" stroke-linecap="round"/>
<polygon points="463.6,571.7 466.8,582.2 469.4,581.3 466.3,571.1" fill="#ff6100" stroke="#ff6100" stroke-width="0.7" stroke-linejoin="round"/>
<polygon points="518.9,678.9 521.9,680.1 524.0,677.2 521.0,676.1" fill="#7bf974" stroke="#7bf974" stroke-width="0.7" stroke-linejoin="round"/>
<line x1="521.0" y1="676.1" x2="524.0" y2="677.2" stroke="#000" stroke-width="2.0" stroke-linecap="round"/>
<polygon points="473.8,611.9 476.9,620.0 479.1,618.4 476.1,610.5" fill="#ffc000" stroke="#ffc000" stroke-width="0.7" stroke-linejoin="round"/>
<polygon points="450.6,523.8 453.7,530.8 456.4,530.7 453.3,523.4" fill="#de0400" stroke="#de0400" stroke-width="0.7" stroke-linejoin="round"/>
<line x1="476.1" y1="610.5" x2="479.1" y2="618.4" stroke="#000" stroke-width="2.0" stroke-linecap="round"/>
<line x1="453.3" y1="523.4" x2="456.4" y2="530.7" stroke="#000" stroke-width="2.0" stroke-linecap="round"/>
<polygon points="435.5,506.3 438.2,496.9 440.8,493.2 438.1,501.7" fill="#860000" stroke="#860000" stroke-width="0.7" stroke-linejoin="round"/>
<line x1="438.1" y1="501.7" x2="440.8" y2="493.2" stroke="#000" stroke-width="2.0" stroke-linecap="round"/>
<polygon points="521.9,680.1 524.9,681.0 526.9,678.1 524.0,677.2" fill="#79f976" stroke="#79f976" stroke-width="0.7" stroke-linejoin="round"/>
<polygon points="425.4,542.6 426.5,531.8 428.8,525.5 427.6,534.6" fill="#ee0d00" stroke="#ee0d00" stroke-width="0.7" stroke-linejoin="round"/>
<line x1="427.6" y1="534.6" x2="428.8" y2="525.5" stroke="#000" stroke-width="2.0" stroke-linecap="round"/>
<polygon points="447.4,513.5 450.6,523.8 453.3,523.4 450.1,512.4" fill="#c50000" stroke="#c50000" stroke-width="0.7" stroke-linejoin="round"/>
<line x1="450.1" y1="512.4" x2="453.3" y2="523.4" stroke="#000" stroke-width="2.0" stroke-linecap="round"/>
<polygon points="470.8,603.7 473.8,611.9 476.1,610.5 473.0,602.5" fill="#ffa700" stroke="#ffa700" stroke-width="0.7" stroke-linejoin="round"/>
<line x1="473.0" y1="602.5" x2="476.1" y2="610.5" stroke="#000" stroke-width="2.0" stroke-linecap="round"/>
<polygon points="495.9,663.8 498.9,668.1 501.1,665.5 498.1,661.3" fill="#a6fa4a" stroke="#a6fa4a" stroke-width="0.7" stroke-linejoin="round"/>
<line x1="495.9" y1="663.8" x2="498.9" y2="668.1" stroke="#000" stroke-width="2.0" stroke-linecap="round"/>
<polygon points="492.9,659.6 495.9,663.8 498.1,661.3 495.1,657.1" fill="#b2fa3f" stroke="#b2fa3f" stroke-width="0.7" stroke-linejoin="round"/>
<polygon points="498.9,668.1 501.9,671.8 504.1,669.0 501.1,665.5" fill="#9bfa55" stroke="#9bfa55" stroke-width="0.7" stroke-linejoin="round"/>
<line x1="492.9" y1="659.6" x2="495.9" y2="663.8" stroke="#000" stroke-width="2.0" stroke-linecap="round"/>
<line x1="498.9" y1="668.1" x2="501.9" y2="671.8" stroke="#000" stroke-width="2.0" stroke-linecap="round"/>
<polygon points="460.5,561.1 463.6,571.7 466.3,571.1 463.1,560.7" fill="#ff4a00" stroke="#ff4a00" stroke-width="0.7" stroke-linejoin="round"/>
<polygon points="489.9,654.2 492.9,659.6 495.1,657.1 492.1,651.9" fill="#befa34" stroke="#befa34" stroke-width="0.7" stroke-linejoin="round"/>
<line x1="489.9" y1="654.2" x2="492.9" y2="659.6" stroke="#000" stroke-width="2.0" stroke-linecap="round"/>
<polygon points="421.8,557.1 423.1,550.6 425.4,542.6 424.1,551.3" fill="#ff2b00" stroke="#ff2b00" stroke-width="0.7" stroke-linejoin="round"/>
<line x1="421.8" y1="557.1" x2="423.1" y2="550.6" stroke="#000" stroke-width="2.0" stroke-linecap="round"/>
<polygon points="501.9,671.8 504.9,674.3 507.0,671.5 504.1,669.0" fill="#93fa5d" stroke="#93fa5d" stroke-width="0.7" stroke-linejoin="round"/>
<line x1="501.9" y1="671.8" x2="504.9" y2="674.3" stroke="#000" stroke-width="2.0" stroke-linecap="round"/>
<polygon points="430.2,522.7 432.8,510.9 435.5,506.3 432.8,518.0" fill="#ba0000" stroke="#ba0000" stroke-width="0.7" stroke-linejoin="round"/>
<polygon points="486.9,648.8 489.9,654.2 492.1,651.9 489.1,646.6" fill="#ccfa28" stroke="#ccfa28" stroke-width="0.7" stroke-linejoin="round"/>
<line x1="486.9" y1="648.8" x2="489.9" y2="654.2" stroke="#000" stroke-width="2.0" stroke-linecap="round"/>
<polygon points="504.9,674.3 507.9,676.8 510.0,674.0 507.0,671.5" fill="#8cfa64" stroke="#8cfa64" stroke-width="0.7" stroke-linejoin="round"/>
<line x1="504.9" y1="674.3" x2="507.9" y2="676.8" stroke="#000" stroke-width="2.0" stroke-linecap="round"/>
<polygon points="483.9,643.0 486.9,648.8 489.1,646.6 486.1,641.0" fill="#daf91c" stroke="#daf91c" stroke-width="0.7" stroke-linejoin="round"/>
<polygon points="444.3,505.5 447.4,513.5 450.1,512.4 447.0,503.7" fill="#a80000" stroke="#a80000" stroke-width="0.7" stroke-linejoin="round"/>
<line x1="483.9" y1="643.0" x2="486.9" y2="648.8" stroke="#000" stroke-width="2.0" stroke-linecap="round"/>
<line x1="447.0" y1="503.7" x2="450.1" y2="512.4" stroke="#000" stroke-width="2.0" stroke-linecap="round"/>
<polygon points="467.6,593.4 470.8,603.7 473.0,602.5 469.9,592.4" fill="#ff8d00" stroke="#ff8d00" stroke-width="0.7" stroke-linejoin="round"/>
<line x1="469.9" y1="592.4" x2="473.0" y2="602.5" stroke="#000" stroke-width="2.0" stroke-linecap="round"/>
<polygon points="507.9,676.8 510.9,679.3 513.0,676.4 510.0,674.0" fill="#86fa6a" stroke="#86fa6a" stroke-width="0.7" stroke-linejoin="round"/>
<line x1="507.9" y1="676.8" x2="510.9" y2="679.3" stroke="#000" stroke-width="2.0" stroke-linecap="round"/>
<polygon points="480.8,636.1 483.9,643.0 486.1,641.0 483.0,634.2" fill="#e9f510" stroke="#e9f510" stroke-width="0.7" stroke-linejoin="round"/>
<line x1="480.8" y1="636.1" x2="483.9" y2="643.0" stroke="#000" stroke-width="2.0" stroke-linecap="round"/>
<polygon points="438.2,496.9 441.1,497.1 443.8,494.6 440.8,493.2" fill="#800000" stroke="#800000" stroke-width="0.7" stroke-linejoin="round"/>
<line x1="440.8" y1="493.2" x2="443.8" y2="494.6" stroke="#000" stroke-width="2.0" stroke-linecap="round"/>
<polygon points="457.3,550.9 460.5,561.1 463.1,560.7 460.0,550.7" fill="#ff3400" stroke="#ff3400" stroke-width="0.7" stroke-linejoin="round"/>
<polygon points="441.1,497.1 444.3,505.5 447.0,503.7 443.8,494.6" fill="#840000" stroke="#840000" stroke-width="0.7" stroke-linejoin="round"/>
<line x1="443.8" y1="494.6" x2="447.0" y2="503.7" stroke="#000" stroke-width="2.0" stroke-linecap="round"/>
<polygon points="510.9,679.3 513.8,680.6 516.0,677.7 513.0,676.4" fill="#81fa6f" stroke="#81fa6f" stroke-width="0.7" stroke-linejoin="round"/>
<line x1="510.9" y1="679.3" x2="513.8" y2="680.6" stroke="#000" stroke-width="2.0" stroke-linecap="round"/>
<polygon points="426.5,531.8 427.9,526.9 430.2,522.7 428.8,525.5" fill="#d70000" stroke="#d70000" stroke-width="0.7" stroke-linejoin="round"/>
<line x1="428.8" y1="525.5" x2="430.2" y2="522.7" stroke="#000" stroke-width="2.0" stroke-linecap="round"/>
<polygon points="477.8,629.3 480.8,636.1 483.0,634.2 480.0,627.5" fill="#f9f104" stroke="#f9f104" stroke-width="0.7" stroke-linejoin="round"/>
<line x1="477.8" y1="629.3" x2="480.8" y2="636.1" stroke="#000" stroke-width="2.0" stroke-linecap="round"/>
<polygon points="513.8,680.6 516.8,681.8 518.9,678.9 516.0,677.7" fill="#7ffa71" stroke="#7ffa71" stroke-width="0.7" stroke-linejoin="round"/>
<line x1="513.8" y1="680.6" x2="516.8" y2="681.8" stroke="#000" stroke-width="2.0" stroke-linecap="round"/>
<polygon points="464.5,583.0 467.6,593.4 469.9,592.4 466.8,582.2" fill="#ff7400" stroke="#ff7400" stroke-width="0.7" stroke-linejoin="round"/>
<line x1="466.8" y1="582.2" x2="469.9" y2="592.4" stroke="#000" stroke-width="2.0" stroke-linecap="round"/>
<polygon points="454.2,541.8 457.3,550.9 460.0,550.7 456.9,541.7" fill="#ff2100" stroke="#ff2100" stroke-width="0.7" stroke-linejoin="round"/>
<polygon points="474.7,621.5 477.8,629.3 480.0,627.5 476.9,620.0" fill="#ffdb00" stroke="#ffdb00" stroke-width="0.7" stroke-linejoin="round"/>
<line x1="474.7" y1="621.5" x2="477.8" y2="629.3" stroke="#000" stroke-width="2.0" stroke-linecap="round"/>
<polygon points="423.1,550.6 424.3,538.2 426.5,531.8 425.4,542.6" fill="#fc1600" stroke="#fc1600" stroke-width="0.7" stroke-linejoin="round"/>
<line x1="423.1" y1="550.6" x2="424.3" y2="538.2" stroke="#000" stroke-width="2.0" stroke-linecap="round"/>
<polygon points="516.8,681.8 519.8,683.0 521.9,680.1 518.9,678.9" fill="#7cf973" stroke="#7cf973" stroke-width="0.7" stroke-linejoin="round"/>
<line x1="516.8" y1="681.8" x2="519.8" y2="683.0" stroke="#000" stroke-width="2.0" stroke-linecap="round"/>
<polygon points="471.6,613.2 474.7,621.5 476.9,620.0 473.8,611.9" fill="#ffba00" stroke="#ffba00" stroke-width="0.7" stroke-linejoin="round"/>
<line x1="471.6" y1="613.2" x2="474.7" y2="621.5" stroke="#000" stroke-width="2.0" stroke-linecap="round"/>
<polygon points="451.0,530.9 454.2,541.8 456.9,541.7 453.7,530.8" fill="#f00f00" stroke="#f00f00" stroke-width="0.7" stroke-linejoin="round"/>
<polygon points="461.3,572.3 464.5,583.0 466.8,582.2 463.6,571.7" fill="#ff5c00" stroke="#ff5c00" stroke-width="0.7" stroke-linejoin="round"/>
<line x1="463.6" y1="571.7" x2="466.8" y2="582.2" stroke="#000" stroke-width="2.0" stroke-linecap="round"/>
<polygon points="432.8,510.9 435.5,500.6 438.2,496.9 435.5,506.3" fill="#8c0000" stroke="#8c0000" stroke-width="0.7" stroke-linejoin="round"/>
<polygon points="519.8,683.0 522.8,683.9 524.9,681.0 521.9,680.1" fill="#7af975" stroke="#7af975" stroke-width="0.7" stroke-linejoin="round"/>
<polygon points="447.9,524.3 451.0,530.9 453.7,530.8 450.6,523.8" fill="#d60000" stroke="#d60000" stroke-width="0.7" stroke-linejoin="round"/>
<polygon points="427.9,526.9 430.5,515.7 432.8,510.9 430.2,522.7" fill="#c00000" stroke="#c00000" stroke-width="0.7" stroke-linejoin="round"/>
<polygon points="468.5,604.9 471.6,613.2 473.8,611.9 470.8,603.7" fill="#ffa200" stroke="#ffa200" stroke-width="0.7" stroke-linejoin="round"/>
<line x1="430.2" y1="522.7" x2="432.8" y2="510.9" stroke="#000" stroke-width="2.0" stroke-linecap="round"/>
<line x1="468.5" y1="604.9" x2="471.6" y2="613.2" stroke="#000" stroke-width="2.0" stroke-linecap="round"/>
<polygon points="444.7,514.5 447.9,524.3 450.6,523.8 447.4,513.5" fill="#bf0000" stroke="#bf0000" stroke-width="0.7" stroke-linejoin="round"/>
<polygon points="458.2,561.5 461.3,572.3 463.6,571.7 460.5,561.1" fill="#ff4500" stroke="#ff4500" stroke-width="0.7" stroke-linejoin="round"/>
<line x1="460.5" y1="561.1" x2="463.6" y2="571.7" stroke="#000" stroke-width="2.0" stroke-linecap="round"/>
<polygon points="424.3,538.2 425.5,531.2 427.9,526.9 426.5,531.8" fill="#e00500" stroke="#e00500" stroke-width="0.7" stroke-linejoin="round"/>
<line x1="424.3" y1="538.2" x2="425.5" y2="531.2" stroke="#000" stroke-width="2.0" stroke-linecap="round"/>
<polygon points="465.3,594.4 468.5,604.9 470.8,603.7 467.6,593.4" fill="#ff8900" stroke="#ff8900" stroke-width="0.7" stroke-linejoin="round"/>
<line x1="465.3" y1="594.4" x2="468.5" y2="604.9" stroke="#000" stroke-width="2.0" stroke-linecap="round"/>
<polygon points="441.6,507.4 444.7,514.5 447.4,513.5 444.3,505.5" fill="#a20000" stroke="#a20000" stroke-width="0.7" stroke-linejoin="round"/>
<polygon points="435.5,500.6 438.5,499.6 441.1,497.1 438.2,496.9" fill="#800000" stroke="#800000" stroke-width="0.7" stroke-linejoin="round"/>
<polygon points="438.5,499.6 441.6,507.4 444.3,505.5 441.1,497.1" fill="#800000" stroke="#800000" stroke-width="0.7" stroke-linejoin="round"/>
<polygon points="455.0,551.1 458.2,561.5 460.5,561.1 457.3,550.9" fill="#ff2f00" stroke="#ff2f00" stroke-width="0.7" stroke-linejoin="round"/>
<line x1="457.3" y1="550.9" x2="460.5" y2="561.1" stroke="#000" stroke-width="2.0" stroke-linecap="round"/>
<polygon points="462.2,583.8 465.3,594.4 467.6,593.4 464.5,583.0" fill="#ff6f00" stroke="#ff6f00" stroke-width="0.7" stroke-linejoin="round"/>
<line x1="462.2" y1="583.8" x2="465.3" y2="594.4" stroke="#000" stroke-width="2.0" stroke-linecap="round"/>
<polygon points="451.8,541.9 455.0,551.1 457.3,550.9 454.2,541.8" fill="#ff1c00" stroke="#ff1c00" stroke-width="0.7" stroke-linejoin="round"/>
<line x1="454.2" y1="541.8" x2="457.3" y2="550.9" stroke="#000" stroke-width="2.0" stroke-linecap="round"/>
<polygon points="430.5,515.7 433.2,504.6 435.5,500.6 432.8,510.9" fill="#930000" stroke="#930000" stroke-width="0.7" stroke-linejoin="round"/>
<line x1="432.8" y1="510.9" x2="435.5" y2="500.6" stroke="#000" stroke-width="2.0" stroke-linecap="round"/>
<polygon points="425.5,531.2 428.2,520.4 430.5,515.7 427.9,526.9" fill="#c50000" stroke="#c50000" stroke-width="0.7" stroke-linejoin="round"/>
<line x1="425.5" y1="531.2" x2="428.2" y2="520.4" stroke="#000" stroke-width="2.0" stroke-linecap="round"/>
<polygon points="459.0,572.9 462.2,583.8 464.5,583.0 461.3,572.3" fill="#ff5700" stroke="#ff5700" stroke-width="0.7" stroke-linejoin="round"/>
<line x1="459.0" y1="572.9" x2="462.2" y2="583.8" stroke="#000" stroke-width="2.0" stroke-linecap="round"/>
<polygon points="448.6,530.9 451.8,541.9 454.2,541.8 451.0,530.9" fill="#e70900" stroke="#e70900" stroke-width="0.7" stroke-linejoin="round"/>
<line x1="451.0" y1="530.9" x2="454.2" y2="541.8" stroke="#000" stroke-width="2.0" stroke-linecap="round"/>
<polygon points="445.5,524.9 448.6,530.9 451.0,530.9 447.9,524.3" fill="#cf0000" stroke="#cf0000" stroke-width="0.7" stroke-linejoin="round"/>
<line x1="447.9" y1="524.3" x2="451.0" y2="530.9" stroke="#000" stroke-width="2.0" stroke-linecap="round"/>
<polygon points="455.8,561.8 459.0,572.9 461.3,572.3 458.2,561.5" fill="#ff4000" stroke="#ff4000" stroke-width="0.7" stroke-linejoin="round"/>
<line x1="455.8" y1="561.8" x2="459.0" y2="572.9" stroke="#000" stroke-width="2.0" stroke-linecap="round"/>
<polygon points="442.4,515.7 445.5,524.9 447.9,524.3 444.7,514.5" fill="#b90000" stroke="#b90000" stroke-width="0.7" stroke-linejoin="round"/>
<line x1="444.7" y1="514.5" x2="447.9" y2="524.3" stroke="#000" stroke-width="2.0" stroke-linecap="round"/>
<polygon points="433.2,504.6 436.1,501.9 438.5,499.6 435.5,500.6" fill="#800000" stroke="#800000" stroke-width="0.7" stroke-linejoin="round"/>
<line x1="435.5" y1="500.6" x2="438.5" y2="499.6" stroke="#000" stroke-width="2.0" stroke-linecap="round"/>
<polygon points="439.2,509.2 442.4,515.7 444.7,514.5 441.6,507.4" fill="#9c0000" stroke="#9c0000" stroke-width="0.7" stroke-linejoin="round"/>
<line x1="441.6" y1="507.4" x2="444.7" y2="514.5" stroke="#000" stroke-width="2.0" stroke-linecap="round"/>
<polygon points="436.1,501.9 439.2,509.2 441.6,507.4 438.5,499.6" fill="#800000" stroke="#800000" stroke-width="0.7" stroke-linejoin="round"/>
<line x1="438.5" y1="499.6" x2="441.6" y2="507.4" stroke="#000" stroke-width="2.0" stroke-linecap="round"/>
<polygon points="452.6,551.2 455.8,561.8 458.2,561.5 455.0,551.1" fill="#ff2a00" stroke="#ff2a00" stroke-width="0.7" stroke-linejoin="round"/>
<line x1="452.6" y1="551.2" x2="455.8" y2="561.8" stroke="#000" stroke-width="2.0" stroke-linecap="round"/>
<polygon points="428.2,520.4 430.9,508.5 433.2,504.6 430.5,515.7" fill="#9b0000" stroke="#9b0000" stroke-width="0.7" stroke-linejoin="round"/>
<line x1="428.2" y1="520.4" x2="430.9" y2="508.5" stroke="#000" stroke-width="2.0" stroke-linecap="round"/>
<polygon points="449.5,542.0 452.6,551.2 455.0,551.1 451.8,541.9" fill="#fd1700" stroke="#fd1700" stroke-width="0.7" stroke-linejoin="round"/>
<line x1="449.5" y1="542.0" x2="452.6" y2="551.2" stroke="#000" stroke-width="2.0" stroke-linecap="round"/>
<polygon points="446.3,531.0 449.5,542.0 451.8,541.9 448.6,530.9" fill="#df0500" stroke="#df0500" stroke-width="0.7" stroke-linejoin="round"/>
<line x1="446.3" y1="531.0" x2="449.5" y2="542.0" stroke="#000" stroke-width="2.0" stroke-linecap="round"/>
<polygon points="443.2,525.6 446.3,531.0 448.6,530.9 445.5,524.9" fill="#c80000" stroke="#c80000" stroke-width="0.7" stroke-linejoin="round"/>
<line x1="443.2" y1="525.6" x2="446.3" y2="531.0" stroke="#000" stroke-width="2.0" stroke-linecap="round"/>
<polygon points="430.9,508.5 433.7,504.3 436.1,501.9 433.2,504.6" fill="#800000" stroke="#800000" stroke-width="0.7" stroke-linejoin="round"/>
<line x1="430.9" y1="508.5" x2="433.7" y2="504.3" stroke="#000" stroke-width="2.0" stroke-linecap="round"/>
<polygon points="440.0,516.8 443.2,525.6 445.5,524.9 442.4,515.7" fill="#b40000" stroke="#b40000" stroke-width="0.7" stroke-linejoin="round"/>
<line x1="440.0" y1="516.8" x2="443.2" y2="525.6" stroke="#000" stroke-width="2.0" stroke-linecap="round"/>
<polygon points="436.9,511.0 440.0,516.8 442.4,515.7 439.2,509.2" fill="#970000" stroke="#970000" stroke-width="0.7" stroke-linejoin="round"/>
<line x1="436.9" y1="511.0" x2="440.0" y2="516.8" stroke="#000" stroke-width="2.0" stroke-linecap="round"/>
<polygon points="433.7,504.3 436.9,511.0 439.2,509.2 436.1,501.9" fill="#800000" stroke="#800000" stroke-width="0.7" stroke-linejoin="round"/>
<line x1="433.7" y1="504.3" x2="436.9" y2="511.0" stroke="#000" stroke-width="2.0" stroke-linecap="round"/>
<line x1="376.3" y1="660.1" x2="368.1" y2="449.9" stroke="#000" stroke-width="2.4"/>
<line x1="373.3" y1="660.1" x2="376.8" y2="660.1" stroke="#000" stroke-width="2"/>
<line x1="371.4" y1="610.8" x2="374.9" y2="610.8" stroke="#000" stroke-width="2"/>
<line x1="369.4" y1="560.3" x2="372.9" y2="560.3" stroke="#000" stroke-width="2"/>
<line x1="367.4" y1="508.7" x2="370.9" y2="508.7" stroke="#000" stroke-width="2"/>
<line x1="365.3" y1="455.9" x2="368.8" y2="455.9" stroke="#000" stroke-width="2"/>
<line x1="376.3" y1="660.1" x2="521.3" y2="692.9" stroke="#000" stroke-width="2.6"/>
<line x1="376.3" y1="660.1" x2="375.8" y2="663.1" stroke="#000" stroke-width="2"/>
<line x1="404.7" y1="666.5" x2="404.2" y2="669.5" stroke="#000" stroke-width="2"/>
<line x1="433.4" y1="673.0" x2="432.9" y2="676.0" stroke="#000" stroke-width="2"/>
<line x1="462.3" y1="679.6" x2="461.8" y2="682.6" stroke="#000" stroke-width="2"/>
<line x1="491.7" y1="686.2" x2="491.2" y2="689.2" stroke="#000" stroke-width="2"/>
<line x1="521.3" y1="692.9" x2="520.8" y2="695.9" stroke="#000" stroke-width="2"/>
<line x1="521.3" y1="692.9" x2="574.4" y2="616.2" stroke="#000" stroke-width="2.6"/>
<line x1="521.3" y1="692.9" x2="524.8" y2="693.4" stroke="#000" stroke-width="2"/>
<line x1="539.9" y1="666.1" x2="543.4" y2="666.6" stroke="#000" stroke-width="2"/>
<line x1="557.5" y1="640.5" x2="561.0" y2="641.0" stroke="#000" stroke-width="2"/>
<line x1="574.4" y1="616.2" x2="577.9" y2="616.7" stroke="#000" stroke-width="2"/>
<text x="54.9" y="470.1" font-size="14.2" text-anchor="middle" fill="#000" >200</text>
<text x="56.9" y="506.1" font-size="14.2" text-anchor="middle" fill="#000" >150</text>
<text x="58.9" y="544.6" font-size="14.2" text-anchor="middle" fill="#000" >100</text>
<text x="59.5" y="581.1" font-size="14.2" text-anchor="middle" fill="#000" >50</text>
<text x="61.4" y="615.8" font-size="14.2" text-anchor="middle" fill="#000" >0</text>
<text x="62.6" y="650.4" font-size="14.2" text-anchor="middle" fill="#000" >−50</text>
<text transform="translate(79.0,679.9) rotate(4)" font-size="14.2" text-anchor="middle">0.0</text>
<text transform="translate(105.7,685.4) rotate(4)" font-size="14.2" text-anchor="middle">0.2</text>
<text transform="translate(133.7,691.6) rotate(4)" font-size="14.2" text-anchor="middle">0.4</text>
<text transform="translate(160.8,696.5) rotate(4)" font-size="14.2" text-anchor="middle">0.6</text>
<text transform="translate(189.8,703.3) rotate(4)" font-size="14.2" text-anchor="middle">0.8</text>
<text transform="translate(219.0,710.3) rotate(4)" font-size="14.2" text-anchor="middle">1.0</text>
<text x="235.9" y="701.1" font-size="14.2" text-anchor="middle" fill="#000" >0</text>
<text x="260.2" y="674.9" font-size="14.2" text-anchor="middle" fill="#000" >100</text>
<text x="278.7" y="648.0" font-size="14.2" text-anchor="middle" fill="#000" >200</text>
<text x="294.8" y="622.6" font-size="14.2" text-anchor="middle" fill="#000" >300</text>
<text transform="translate(100.5,703.3) rotate(13)" font-size="17.4">Energy (eV)</text>
<text transform="translate(250.5,732) rotate(-54)" font-size="17.6">Temperature <tspan font-style="italic">(K)</tspan></text>
<text x="354.9" y="468.7" font-size="14.2" text-anchor="middle" fill="#000" >200</text>
<text x="356.3" y="522.0" font-size="14.2" text-anchor="middle" fill="#000" >150</text>
<text x="357.8" y="572.5" font-size="14.2" text-anchor="middle" fill="#000" >100</text>
<text x="359.3" y="623.0" font-size="14.2" text-anchor="middle" fill="#000" >50</text>
<text x="360.8" y="669.3" font-size="14.2" text-anchor="middle" fill="#000" >0</text>
<text transform="translate(376.5,679.4) rotate(4)" font-size="14.2" text-anchor="middle">0.0</text>
<text transform="translate(403.7,685.1) rotate(4)" font-size="14.2" text-anchor="middle">0.2</text>
<text transform="translate(431.5,691.1) rotate(4)" font-size="14.2" text-anchor="middle">0.4</text>
<text transform="translate(459.0,696.6) rotate(4)" font-size="14.2" text-anchor="middle">0.6</text>
<text transform="translate(487.5,703.1) rotate(4)" font-size="14.2" text-anchor="middle">0.8</text>
<text transform="translate(516.5,709.6) rotate(4)" font-size="14.2" text-anchor="middle">1.0</text>
<text x="532.4" y="701.1" font-size="14.2" text-anchor="middle" fill="#000" >0</text>
<text x="558.0" y="675.6" font-size="14.2" text-anchor="middle" fill="#000" >100</text>
<text x="577.0" y="651.1" font-size="14.2" text-anchor="middle" fill="#000" >200</text>
<text x="591.0" y="625.1" font-size="14.2" text-anchor="middle" fill="#000" >300</text>
<text transform="translate(397.5,702.8) rotate(13)" font-size="17.4">Energy (eV)</text>
<text transform="translate(548,731) rotate(-54)" font-size="17.6">Temperature <tspan font-style="italic">(K)</tspan></text>
<text x="0.5" y="416.6" font-size="22" font-weight="bold">b</text>
<text x="298.5" y="417" font-size="22" font-weight="bold">c</text>
<text transform="translate(39.4,563.5) rotate(-90)" text-anchor="middle" font-size="17.5">Re<tspan font-family='Liberation Serif' font-style="italic" font-size="20.1">σ</tspan><tspan font-style="italic" font-size="13.1" dy="4.3">xy</tspan><tspan dy="-4.3"> (</tspan><tspan font-family='Liberation Serif' font-style="italic" font-size="19.2">ω</tspan><tspan> ) (Ω</tspan><tspan font-size="13.1" dy="-9.6">-1</tspan><tspan dy="9.6" dx="2.7">cm</tspan><tspan font-size="13.1" dy="-9.6">-1</tspan><tspan dy="9.6">)</tspan></text>
<text transform="translate(340.8,562.8) rotate(-90)" text-anchor="middle" font-size="17.5">Im<tspan font-family='Liberation Serif' font-style="italic" font-size="20.1">σ</tspan><tspan font-style="italic" font-size="13.1" dy="4.3">xy</tspan><tspan dy="-4.3"> (</tspan><tspan font-family='Liberation Serif' font-style="italic" font-size="19.2">ω</tspan><tspan> ) (Ω</tspan><tspan font-size="13.1" dy="-9.6">-1</tspan><tspan dy="9.6" dx="2.7">cm</tspan><tspan font-size="13.1" dy="-9.6">-1</tspan><tspan dy="9.6">)</tspan></text>
<defs><linearGradient id="cb" x1="0" y1="1" x2="0" y2="0"><stop offset="0.0000" stop-color="#00007a"/><stop offset="0.0472" stop-color="#0000c8"/><stop offset="0.0802" stop-color="#0010ff"/><stop offset="0.1274" stop-color="#0060ff"/><stop offset="0.1745" stop-color="#00b0ff"/><stop offset="0.2075" stop-color="#00e0e0"/><stop offset="0.2453" stop-color="#40e8a0"/><stop offset="0.3019" stop-color="#80f070"/><stop offset="0.3632" stop-color="#b0f040"/><stop offset="0.4198" stop-color="#d8f820"/><stop offset="0.4811" stop-color="#fff000"/><stop offset="0.5377" stop-color="#ffb800"/><stop offset="0.5991" stop-color="#ff9000"/><stop offset="0.6557" stop-color="#ff7000"/><stop offset="0.7170" stop-color="#ff5000"/><stop offset="0.7736" stop-color="#ff3400"/><stop offset="0.8349" stop-color="#ff1800"/><stop offset="0.8915" stop-color="#d80000"/><stop offset="0.9528" stop-color="#b00000"/><stop offset="1.0000" stop-color="#800000"/></linearGradient></defs>
<rect x="621" y="430.5" width="12.5" height="244" fill="url(#cb)" stroke="#000" stroke-width="1.5"/>
<line x1="627" y1="441.6" x2="633.5" y2="441.6" stroke="#000" stroke-width="1.6"/>
<text x="636.2" y="446.6" font-size="14.2" text-anchor="start" fill="#000" >150</text>
<line x1="627" y1="470.6" x2="633.5" y2="470.6" stroke="#000" stroke-width="1.6"/>
<text x="636.2" y="475.6" font-size="14.2" text-anchor="start" fill="#000" >125</text>
<line x1="627" y1="499.6" x2="633.5" y2="499.6" stroke="#000" stroke-width="1.6"/>
<text x="636.2" y="504.6" font-size="14.2" text-anchor="start" fill="#000" >100</text>
<line x1="627" y1="528.6" x2="633.5" y2="528.6" stroke="#000" stroke-width="1.6"/>
<text x="636.2" y="533.6" font-size="14.2" text-anchor="start" fill="#000" >75</text>
<line x1="627" y1="557.6" x2="633.5" y2="557.6" stroke="#000" stroke-width="1.6"/>
<text x="636.2" y="562.6" font-size="14.2" text-anchor="start" fill="#000" >50</text>
<line x1="627" y1="586.6" x2="633.5" y2="586.6" stroke="#000" stroke-width="1.6"/>
<text x="636.2" y="591.6" font-size="14.2" text-anchor="start" fill="#000" >25</text>
<line x1="627" y1="615.6" x2="633.5" y2="615.6" stroke="#000" stroke-width="1.6"/>
<text x="636.2" y="620.6" font-size="14.2" text-anchor="start" fill="#000" >0</text>
<line x1="627" y1="644.6" x2="633.5" y2="644.6" stroke="#000" stroke-width="1.6"/>
<text x="636.2" y="649.6" font-size="14.2" text-anchor="start" fill="#000" >-25</text>
<line x1="627" y1="673.6" x2="633.5" y2="673.6" stroke="#000" stroke-width="1.6"/>
<text x="636.2" y="678.6" font-size="14.2" text-anchor="start" fill="#000" >-50</text>
<text x="596" y="395.3" font-size="17.5"><tspan font-family="Liberation Serif" font-style="italic" font-size="20">σ</tspan><tspan font-style="italic" font-size="13" dy="4">xy</tspan><tspan dy="-4"> (</tspan><tspan font-family="Liberation Serif" font-style="italic" font-size="19">ω</tspan><tspan> )</tspan></text>
<text x="594.5" y="422" font-size="17.5">(Ω<tspan font-size="13" dy="-7">-1</tspan><tspan dy="7">cm</tspan><tspan font-size="13" dy="-7">-1</tspan><tspan dy="7">)</tspan></text>
</svg></body></html>
